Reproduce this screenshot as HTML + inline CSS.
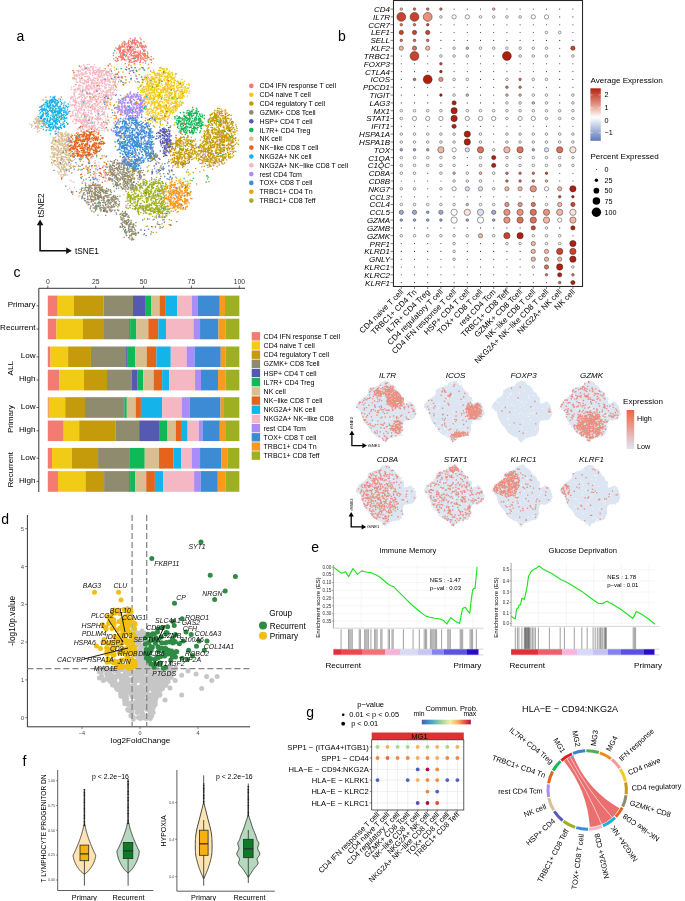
<!DOCTYPE html>
<html><head><meta charset="utf-8"><style>
html,body{margin:0;padding:0;background:#fff;width:685px;height:901px;overflow:hidden}
svg{display:block;font-family:"Liberation Sans",sans-serif;will-change:transform}
</style></head><body>
<svg width="685" height="901" viewBox="0 0 685 901">
<path d="M86.2 73.5h0M78.1 106.3h0M74.5 93.8h0M114.5 83.7h0M90.0 128.3h0M88.2 129.3h0M101.3 82.0h0M76.2 81.2h0M92.4 128.3h0M81.5 106.6h0M91.7 131.8h0M77.6 98.0h0M83.5 120.8h0M98.1 98.4h0M92.9 67.5h0M78.9 86.2h0M82.5 73.4h0M106.9 94.4h0M99.2 132.5h0M99.1 76.4h0M109.9 81.5h0M85.4 89.1h0M89.9 86.8h0M103.4 113.8h0M95.9 91.1h0M110.0 85.2h0M94.3 71.0h0M85.0 72.7h0M96.0 78.7h0M97.6 90.7h0M112.3 79.0h0M91.2 111.4h0M108.6 89.6h0M78.8 97.4h0M108.1 76.0h0M85.5 117.2h0M99.7 119.7h0M86.2 118.1h0M81.9 109.6h0M114.7 70.2h0M85.0 114.7h0M90.0 74.2h0M81.1 103.0h0M80.9 96.1h0M76.7 70.6h0M103.1 108.8h0M94.2 96.0h0M88.2 89.8h0M85.6 116.8h0M102.5 81.2h0M104.0 83.2h0M118.7 81.2h0M89.1 90.1h0M84.6 101.3h0M84.3 109.6h0M95.5 108.6h0M75.4 89.9h0M72.4 111.9h0M89.4 126.8h0M86.9 81.9h0M97.1 106.0h0M99.7 70.0h0M98.8 75.0h0M101.5 114.5h0M99.3 86.6h0M96.6 82.4h0M83.4 70.3h0M123.5 84.5h0M104.9 128.8h0M92.4 81.8h0M79.1 88.5h0M113.2 89.2h0M89.7 68.5h0M94.7 104.4h0M109.5 74.2h0M78.1 89.4h0M108.3 71.7h0M90.4 70.3h0M103.3 75.2h0M100.0 106.0h0M105.3 73.8h0M103.4 94.5h0M83.4 105.3h0M94.2 77.7h0M94.9 106.8h0M78.1 115.4h0M82.4 105.0h0M105.8 91.9h0M73.8 86.7h0M81.3 72.9h0M99.2 73.0h0M94.9 83.8h0M78.0 120.6h0M95.9 82.8h0M94.9 128.4h0M86.0 116.1h0M100.5 101.8h0M96.2 83.3h0M111.9 87.8h0M92.4 134.4h0M74.6 107.2h0M75.3 84.3h0M94.0 103.7h0M83.1 128.8h0M105.2 101.3h0M99.0 70.9h0M83.7 109.3h0M107.1 83.9h0M98.3 123.1h0M86.3 136.0h0M92.2 97.3h0M91.1 100.1h0M110.2 69.0h0M77.8 111.9h0M114.2 77.8h0M73.9 105.4h0M76.1 101.5h0M100.9 88.6h0M80.4 85.5h0M88.2 76.2h0M90.7 67.0h0M83.9 80.0h0M83.1 125.5h0M93.5 72.0h0M74.8 101.0h0M86.0 112.4h0M84.7 67.0h0M81.9 126.4h0M78.1 70.8h0M104.1 75.7h0M82.3 95.1h0M107.3 92.0h0M96.9 132.6h0M113.6 81.9h0M104.0 103.4h0M88.1 93.3h0M81.5 101.2h0M95.4 118.9h0M90.3 73.0h0M88.0 79.5h0M102.0 109.7h0M89.0 64.4h0M77.8 117.2h0M98.2 109.6h0M116.0 78.9h0M79.3 119.1h0M74.6 72.3h0M97.6 89.2h0M86.4 107.9h0M92.8 122.2h0M101.2 81.0h0M95.5 98.8h0M101.9 126.1h0M85.5 72.0h0M109.1 87.2h0M85.7 87.5h0M79.1 94.4h0M81.3 122.6h0M86.8 115.6h0M101.1 72.9h0M98.8 119.7h0M93.2 129.9h0M81.5 66.3h0M102.4 122.9h0M88.3 88.2h0M104.8 103.8h0M88.3 102.3h0M103.3 71.3h0M92.9 127.4h0M89.9 78.1h0M80.8 90.6h0M108.1 80.4h0M82.0 86.3h0M92.7 95.1h0M96.3 88.8h0M91.3 110.9h0M101.0 77.3h0M80.5 67.5h0M110.1 82.4h0M103.9 80.2h0M106.7 95.7h0M94.7 111.3h0M106.1 73.6h0M88.5 112.5h0M83.4 84.1h0M75.2 99.2h0M82.2 104.3h0M101.3 85.3h0M97.6 99.5h0M84.3 121.4h0M82.4 80.2h0M73.9 104.9h0M98.6 132.5h0M89.8 97.0h0M80.0 96.6h0M86.9 127.7h0M86.0 76.5h0M105.5 84.7h0M106.5 85.4h0M98.4 85.2h0M105.1 116.0h0M87.2 96.7h0M79.4 77.5h0M108.4 101.3h0M107.9 95.7h0M82.5 103.8h0M105.6 79.6h0M76.3 76.0h0M119.7 77.3h0M77.6 88.7h0M74.2 74.3h0M104.4 125.7h0M83.2 103.2h0M109.1 102.7h0M107.6 78.1h0M74.0 105.4h0M80.2 80.5h0M112.6 73.3h0M69.9 102.0h0M70.8 97.5h0M111.8 88.1h0M80.8 113.1h0M91.1 84.8h0M81.5 78.5h0M76.4 74.7h0M105.6 72.3h0M97.0 87.2h0M90.7 113.9h0M103.2 100.1h0M74.7 96.2h0M90.5 100.0h0M108.3 72.9h0M81.2 94.9h0M85.4 89.4h0M97.2 71.3h0M111.2 96.0h0M108.3 79.0h0M83.0 90.5h0M105.2 81.2h0M78.6 108.9h0M115.4 84.5h0M91.5 125.6h0M98.3 104.4h0M88.5 129.3h0M87.0 86.2h0M89.9 88.9h0M83.6 124.0h0M92.6 72.5h0M116.6 87.8h0M92.8 105.5h0M94.5 129.0h0M96.1 91.0h0M110.1 79.1h0M119.4 77.2h0M70.3 104.3h0M99.7 108.6h0M102.7 96.8h0M95.9 105.9h0M79.8 119.7h0M88.1 124.1h0M91.9 87.6h0M104.6 78.6h0M108.4 94.8h0M102.5 108.7h0M82.3 92.0h0M94.0 86.6h0M73.9 77.9h0M72.9 121.5h0M82.2 68.8h0M77.8 90.1h0M118.5 82.0h0M89.2 90.1h0M95.5 70.4h0M90.8 98.9h0M92.0 66.6h0M93.0 80.2h0M96.8 86.1h0M107.8 98.1h0M75.7 89.7h0M115.5 85.2h0M77.2 89.4h0M89.0 126.9h0M94.5 85.6h0M94.8 103.7h0M82.2 105.4h0M110.6 75.3h0M93.1 100.0h0M108.0 90.9h0M102.8 111.2h0M86.7 103.3h0M74.5 109.9h0M81.9 107.1h0M104.6 74.4h0M105.6 120.4h0M101.6 93.4h0M81.9 75.2h0M120.5 82.1h0M96.3 72.7h0M71.9 98.0h0M84.3 110.7h0M119.0 77.6h0M82.6 74.0h0M79.0 71.1h0M95.3 81.2h0M85.9 98.3h0M104.0 83.2h0M92.6 68.5h0M84.2 120.4h0M92.0 87.7h0M82.3 97.7h0M110.1 88.0h0M82.9 89.8h0M89.3 70.4h0M89.4 125.9h0M86.9 124.4h0M98.9 96.7h0M80.0 87.9h0M79.1 97.2h0M101.2 125.1h0M91.5 129.0h0M88.4 89.6h0M101.4 94.9h0M97.5 124.4h0M79.3 85.0h0M78.4 103.6h0M76.0 110.0h0M82.5 83.0h0M87.1 116.6h0M82.3 101.3h0M106.3 72.8h0M81.7 77.1h0M85.0 74.3h0M78.8 86.0h0M95.0 95.5h0M101.4 73.0h0M87.9 94.4h0M87.9 109.9h0M84.7 104.2h0M88.6 126.8h0M106.3 87.9h0M78.2 70.8h0M95.0 99.7h0M87.7 102.5h0M94.9 87.3h0M112.4 81.8h0M88.4 131.5h0M76.9 114.5h0M76.1 79.3h0M99.1 132.2h0M77.7 75.7h0M92.8 122.2h0M75.9 75.3h0M91.3 112.9h0M102.7 86.1h0M85.9 119.6h0M76.3 119.9h0M72.8 121.1h0M92.9 117.3h0M74.5 119.0h0M98.5 118.3h0M94.2 97.7h0M74.6 76.1h0M75.6 97.8h0M101.3 74.3h0M89.7 103.7h0M98.7 127.6h0M99.2 77.7h0M85.6 105.3h0M101.3 124.7h0M83.0 129.0h0M74.1 118.8h0M82.3 72.8h0M101.2 122.9h0M92.2 98.3h0M120.3 77.1h0M110.7 87.8h0M106.8 75.1h0M101.1 99.9h0M84.0 65.0h0M110.3 76.6h0M79.7 81.7h0M73.5 93.0h0M88.5 80.9h0M91.5 126.3h0M103.5 91.1h0M99.8 96.1h0M83.0 75.0h0M114.8 74.3h0M105.2 81.8h0M73.0 78.8h0M109.1 71.6h0M92.2 107.5h0M103.5 95.9h0M98.7 84.3h0M86.0 113.9h0M108.1 96.6h0M71.3 89.4h0M97.6 113.0h0M95.5 90.1h0M92.7 94.1h0M78.2 74.0h0M78.7 120.8h0M78.4 121.5h0M86.0 71.6h0M79.5 106.1h0M73.4 115.9h0M74.7 105.5h0M72.9 97.0h0M86.7 92.4h0M81.5 110.2h0M85.1 97.7h0M101.8 75.3h0M80.3 91.5h0M83.4 119.9h0M75.6 113.3h0M88.3 81.7h0M89.2 129.5h0M98.1 116.5h0M95.8 103.8h0M103.3 107.0h0M76.2 123.4h0M102.1 72.0h0M84.9 117.9h0M105.4 98.8h0M89.2 123.4h0M96.8 72.1h0M94.0 88.5h0M90.6 74.2h0M104.9 80.9h0M82.8 88.5h0M101.5 126.1h0M75.6 104.0h0M77.5 113.2h0M92.5 97.5h0M92.6 126.5h0M92.5 83.1h0M115.6 74.3h0M104.5 99.0h0M71.2 105.6h0M91.3 119.4h0M87.7 85.8h0M98.1 79.0h0M101.0 102.4h0M75.9 91.9h0M89.5 116.8h0M84.6 122.5h0M84.8 121.3h0M95.5 95.8h0M89.4 77.2h0M89.3 101.5h0M88.3 107.9h0M83.3 125.8h0M88.5 122.8h0M92.9 106.6h0M98.7 111.9h0M74.2 94.6h0M86.3 103.9h0M73.1 101.3h0M115.1 84.2h0M101.8 80.3h0M75.1 123.6h0M77.7 111.5h0M78.3 110.9h0M84.0 112.1h0M75.8 101.0h0M118.4 76.0h0M95.0 127.8h0M84.2 68.3h0M90.7 80.3h0M95.4 73.1h0M94.1 88.3h0M105.5 87.6h0M96.3 100.6h0M82.6 82.9h0M93.3 97.5h0M106.9 75.3h0M79.7 112.8h0M109.1 98.7h0M93.1 67.1h0M110.0 100.4h0M91.1 87.8h0M112.6 94.8h0M95.6 99.5h0M89.3 86.0h0M97.7 69.9h0M101.8 128.3h0M100.6 90.8h0M104.6 122.9h0M81.8 101.3h0M113.4 75.3h0M95.8 133.3h0M100.8 71.3h0M113.8 79.4h0M86.4 125.5h0M100.0 83.0h0M81.6 115.1h0M85.2 69.5h0M94.3 124.0h0M117.8 74.3h0M73.0 112.8h0M81.5 122.0h0M98.0 115.2h0M84.4 83.5h0M104.1 98.6h0M100.0 127.6h0M73.7 100.2h0M85.3 101.2h0M114.3 90.5h0M94.4 93.3h0M89.1 93.6h0M88.6 70.2h0M91.3 88.7h0M98.6 94.4h0M95.8 96.0h0M79.6 66.1h0M81.2 121.4h0M85.0 67.1h0M83.7 95.9h0M104.9 91.9h0M98.0 110.6h0M80.9 126.2h0M108.6 84.9h0M84.8 117.0h0M89.3 137.1h0M111.5 86.0h0M99.1 119.5h0M84.4 114.4h0M103.3 126.4h0M119.8 76.7h0M84.0 90.4h0M85.0 119.8h0M93.6 129.9h0M113.1 82.0h0M104.6 83.5h0M87.2 100.7h0M96.1 89.9h0M96.1 131.4h0M107.0 79.9h0M79.0 101.8h0M116.7 90.4h0M80.9 101.4h0M87.3 68.5h0M103.7 101.3h0M85.0 106.3h0M95.0 121.8h0M94.0 135.5h0M86.9 73.4h0M88.3 67.9h0M94.1 82.6h0M115.0 76.3h0M87.4 106.3h0M75.0 102.1h0M105.3 81.3h0M99.9 102.2h0M105.6 106.4h0M95.7 73.0h0M91.7 82.3h0M86.5 85.8h0M95.3 128.9h0M79.5 104.2h0M74.5 78.0h0M105.1 106.8h0M100.3 71.8h0M92.4 104.7h0M108.8 92.1h0M88.6 80.2h0M115.3 80.3h0M93.9 73.0h0M105.6 98.0h0M91.7 81.0h0M74.7 79.4h0M78.1 116.8h0M74.1 93.2h0M87.3 64.6h0M82.3 106.6h0M76.7 81.9h0M77.2 76.6h0M86.7 92.1h0M94.8 92.2h0M92.0 132.1h0M97.6 113.9h0M88.2 115.2h0M79.6 75.5h0M86.4 80.9h0M87.5 122.2h0M104.9 70.6h0M82.5 102.2h0M110.6 88.0h0M82.3 126.5h0M88.0 129.6h0M104.3 113.9h0M120.7 80.9h0M105.1 100.9h0M74.1 75.2h0M94.9 104.1h0M75.9 107.8h0M84.5 126.8h0M85.9 72.2h0M75.0 91.3h0M90.7 122.9h0M98.2 121.9h0M82.3 69.4h0M98.4 69.7h0M107.2 90.3h0M94.0 123.8h0M97.0 118.7h0M107.2 92.7h0M99.3 89.6h0M113.3 85.2h0M97.8 104.2h0M112.0 73.6h0M76.7 102.1h0M90.4 98.4h0M85.1 117.7h0M88.5 129.1h0M86.1 81.9h0M99.5 95.8h0M80.4 78.9h0M84.8 117.9h0M94.6 97.3h0M94.3 108.9h0M77.8 82.6h0M87.9 88.6h0M86.5 85.2h0M101.3 124.8h0M99.6 89.4h0M82.4 124.5h0M100.8 80.0h0M98.0 82.9h0M84.6 76.7h0M98.7 71.7h0M115.9 86.4h0M81.5 70.1h0M104.1 79.5h0M101.0 70.6h0M94.6 74.0h0M95.9 67.6h0M96.0 132.8h0M101.9 130.3h0M101.7 124.0h0M96.4 99.6h0M86.6 67.4h0M94.4 92.7h0M87.3 86.8h0M93.4 106.7h0M108.4 97.3h0M84.1 129.8h0M95.0 125.7h0M90.3 78.9h0M77.2 102.3h0M86.9 93.5h0M100.0 67.8h0M102.8 77.7h0M103.0 79.3h0M82.8 100.8h0M98.5 98.7h0M82.8 86.9h0M85.3 107.2h0M98.5 76.4h0M97.9 112.1h0M74.4 95.8h0M90.8 70.8h0M91.1 94.3h0M90.0 97.7h0M73.8 90.2h0M89.1 117.6h0M79.4 74.5h0M92.3 97.7h0M112.5 93.4h0M96.1 100.1h0M115.2 84.7h0M93.8 109.6h0M76.3 121.3h0M102.2 124.4h0M119.2 79.1h0M99.8 106.4h0M101.5 125.6h0M99.9 130.5h0M89.2 100.4h0M73.5 99.5h0M107.5 77.3h0M80.6 82.3h0M81.1 126.6h0M84.4 126.9h0M79.7 121.9h0M85.8 97.3h0M80.1 128.2h0M86.2 90.8h0M111.7 98.8h0M109.9 70.0h0M97.4 69.4h0M74.9 100.7h0M86.4 68.5h0M81.2 107.3h0M86.7 88.9h0M81.6 99.2h0M114.9 75.8h0M84.2 117.7h0M71.8 96.3h0M94.1 91.0h0M98.1 99.9h0M80.5 120.2h0M121.1 80.9h0M106.4 87.6h0M106.5 106.5h0M97.2 83.4h0M103.2 100.8h0M111.1 68.6h0M101.7 111.6h0M93.5 125.6h0M98.8 74.5h0M94.1 123.7h0M100.5 75.8h0M72.4 115.6h0M98.4 130.7h0M108.1 97.0h0M108.4 79.4h0M85.2 68.5h0M105.6 101.7h0M100.1 100.9h0M89.6 104.0h0M82.3 93.3h0M98.2 99.8h0M83.5 101.2h0M111.1 89.7h0M89.9 94.4h0M104.6 111.8h0M109.8 74.0h0M103.5 112.9h0M86.3 127.4h0M71.3 86.9h0M98.1 110.0h0M95.0 72.7h0M113.2 94.9h0M70.4 111.4h0M91.7 119.5h0M90.7 101.6h0M78.6 72.1h0M84.8 94.9h0M83.8 113.0h0M84.4 96.7h0M104.9 94.7h0M76.1 76.0h0M87.2 131.1h0M106.2 94.6h0M92.8 69.0h0M89.0 110.6h0M116.9 90.4h0M82.1 78.0h0M102.8 109.2h0M76.1 103.7h0M117.6 84.4h0M115.0 77.9h0M86.3 68.1h0M114.3 77.5h0M107.1 103.9h0M96.5 91.6h0M74.2 104.7h0M91.1 122.1h0M101.1 97.3h0M90.0 98.6h0M100.5 97.7h0M81.3 99.6h0M76.1 102.4h0M81.5 108.1h0M98.5 97.2h0M98.6 88.9h0M95.1 127.3h0M97.0 117.3h0M90.1 93.9h0M122.3 77.7h0M93.1 79.7h0M97.3 111.3h0M85.4 118.7h0M102.3 75.9h0M91.5 83.5h0M99.6 118.6h0M102.9 90.5h0M122.1 77.3h0M77.0 119.2h0M88.1 68.4h0M97.7 74.9h0M78.9 108.7h0M100.4 125.0h0M96.6 110.1h0M90.9 116.9h0M84.9 119.2h0M98.8 116.4h0M94.9 119.0h0M82.5 106.8h0M83.1 104.2h0M103.6 70.6h0M81.9 123.0h0M100.4 117.9h0M96.6 78.4h0M106.9 100.8h0M79.5 97.6h0M99.6 110.8h0M92.7 75.5h0M72.3 104.4h0M82.9 119.1h0M84.2 90.1h0M93.0 83.5h0M81.5 115.6h0M84.2 100.0h0M96.7 132.3h0M101.6 107.5h0M102.5 70.4h0M74.7 89.7h0M84.6 98.9h0M104.9 124.3h0M99.1 82.2h0M93.8 91.8h0M76.3 102.2h0M92.2 118.6h0M94.1 80.6h0M84.4 125.3h0M94.7 107.7h0M111.0 93.5h0M88.3 130.4h0M85.8 131.6h0M84.5 82.1h0M110.4 75.7h0M99.1 68.2h0M89.5 123.3h0M98.7 122.8h0M111.2 77.1h0M76.6 117.2h0M82.4 120.2h0M88.3 101.5h0M104.7 101.2h0M86.8 92.0h0M93.7 126.3h0M102.4 111.7h0M100.8 107.5h0M105.7 81.4h0M104.2 131.2h0M105.7 128.0h0M76.1 78.7h0M75.3 123.5h0M97.7 102.0h0M106.2 92.8h0M102.1 81.5h0M89.3 104.9h0M96.5 119.3h0M89.5 116.2h0M111.9 73.4h0M102.2 114.3h0M92.8 93.8h0M108.2 96.1h0M85.5 125.0h0M87.1 94.0h0M97.7 104.9h0M103.2 114.9h0M93.9 66.8h0M89.4 72.3h0M102.3 79.4h0M87.1 126.4h0M95.7 100.0h0M95.7 96.5h0M90.9 99.7h0M82.9 122.2h0M85.4 126.5h0M95.2 78.6h0M78.7 109.8h0M70.6 99.0h0M92.3 125.8h0M113.4 87.7h0M93.4 71.5h0M82.7 128.7h0M92.3 89.2h0M83.4 73.8h0M104.8 112.0h0M82.0 82.6h0M94.7 99.1h0M112.5 92.4h0M80.9 122.8h0M112.6 94.9h0M80.4 110.2h0M100.3 115.7h0M77.1 110.6h0M110.5 92.0h0M87.3 79.5h0M114.3 84.1h0M86.1 86.3h0M98.3 85.6h0M96.0 74.5h0M94.1 78.2h0M101.3 74.0h0M89.3 100.3h0M95.3 72.8h0M94.6 73.5h0M109.8 84.5h0M84.4 69.1h0M90.1 122.2h0M115.4 89.4h0M78.0 88.1h0M93.8 84.1h0M87.1 123.0h0M91.9 85.9h0M100.2 119.5h0M80.0 89.5h0M93.3 109.1h0M81.3 116.8h0M104.7 86.9h0M101.1 118.6h0M80.5 120.4h0M81.7 123.4h0M74.9 102.4h0M83.8 65.7h0M78.9 106.6h0M91.3 120.5h0M97.7 93.9h0M81.3 93.1h0M95.1 78.3h0M112.9 85.1h0M106.8 96.4h0M85.8 121.9h0M91.9 99.9h0M86.0 87.5h0M93.5 86.0h0M99.8 102.7h0M104.7 78.8h0M97.8 120.2h0M100.7 76.4h0M93.7 136.8h0M79.5 127.5h0M105.1 96.1h0M116.2 79.5h0M101.9 104.1h0M82.3 101.1h0M79.7 112.1h0M97.2 118.6h0M84.6 114.3h0M88.5 120.6h0M99.3 70.9h0M113.4 92.3h0M85.7 91.0h0M99.4 88.3h0M122.9 84.8h0M91.0 107.3h0M95.0 131.3h0M96.5 70.8h0M93.7 70.5h0M84.1 114.1h0M104.8 100.5h0M99.0 103.4h0M92.6 117.5h0M78.9 120.0h0M90.3 128.1h0M89.9 127.5h0M90.7 99.5h0M90.4 86.5h0M97.6 76.8h0M107.6 99.1h0M102.4 119.8h0M96.6 85.1h0M91.5 87.8h0M88.7 106.7h0M91.7 106.1h0M106.5 74.1h0M109.5 73.4h0M105.6 81.7h0M91.8 127.3h0M99.3 89.3h0M72.4 105.0h0M85.4 81.2h0M93.1 69.5h0M114.2 79.4h0M76.4 105.7h0M111.8 97.6h0M78.1 111.4h0M94.4 64.7h0M76.7 82.2h0M105.1 88.6h0M109.1 80.1h0M96.6 96.5h0M91.7 102.0h0M92.1 113.8h0M105.9 95.3h0M99.6 85.3h0M97.2 118.8h0M87.4 69.8h0M79.7 78.7h0M75.0 116.5h0M106.3 93.2h0M103.0 128.2h0M96.4 101.8h0M105.1 94.7h0M89.2 77.3h0M80.4 78.9h0M73.0 111.1h0M92.5 79.7h0M96.5 131.2h0M106.3 107.6h0M79.5 88.4h0M92.4 109.0h0M94.9 109.9h0M95.6 115.5h0M84.7 80.1h0M110.0 95.1h0M94.1 133.3h0M86.3 120.8h0M72.5 97.6h0M91.2 97.2h0M114.3 94.6h0M78.1 129.0h0M103.6 100.4h0M98.7 74.7h0M80.4 82.2h0M78.6 70.4h0M80.3 71.3h0M83.0 94.7h0M81.6 105.0h0M84.9 103.5h0M79.6 94.0h0M106.9 90.3h0M105.7 101.9h0M102.2 82.3h0M97.2 119.9h0M75.4 89.2h0M89.5 118.3h0M78.7 86.0h0M93.9 97.3h0M98.2 117.7h0M85.8 76.3h0M88.5 78.5h0M88.1 102.9h0M105.1 101.8h0M97.5 80.6h0M109.9 75.6h0M76.1 108.4h0M80.0 117.7h0M87.4 76.5h0M108.1 81.7h0M88.6 84.5h0M98.5 72.7h0M119.8 79.6h0M104.8 103.5h0M80.3 108.3h0M111.0 95.3h0M75.7 115.0h0M88.7 82.3h0M92.4 73.6h0M80.8 74.0h0M92.6 69.1h0M113.2 81.2h0M86.8 121.9h0M90.3 97.1h0M96.0 131.2h0M113.0 93.2h0M102.1 92.0h0M87.6 114.6h0M91.3 123.6h0M102.7 114.0h0M85.8 103.1h0M91.2 93.9h0M88.1 106.1h0M83.5 100.4h0M94.4 130.8h0M106.2 96.1h0M82.0 107.2h0M93.9 122.2h0M87.2 82.6h0M98.4 107.6h0M97.4 113.4h0M84.7 115.9h0M118.2 75.9h0M95.7 96.8h0M72.6 114.0h0M78.6 127.8h0M83.0 102.6h0M113.4 86.2h0M88.9 101.3h0M86.5 83.1h0M95.1 112.2h0M91.4 105.6h0M93.5 109.5h0M106.4 71.2h0M103.2 73.1h0M87.4 123.2h0M102.4 83.7h0M87.3 120.4h0M81.1 129.2h0" stroke="#F5B7C3" stroke-width="1.3" stroke-linecap="square" fill="none"/>
<path d="M64.4 117.7h0M47.9 103.1h0M59.0 129.7h0M48.0 121.2h0M43.3 110.1h0M65.7 115.4h0M50.4 120.5h0M54.3 98.9h0M47.8 103.8h0M60.1 108.8h0M54.5 112.4h0M63.7 126.6h0M50.9 130.5h0M57.4 121.7h0M55.5 115.0h0M57.7 112.7h0M59.4 116.8h0M44.2 124.3h0M63.8 119.2h0M68.8 106.5h0M50.5 124.3h0M55.0 121.8h0M53.8 121.9h0M40.6 117.9h0M44.7 121.4h0M57.1 124.3h0M45.8 113.5h0M58.0 120.0h0M56.7 118.2h0M53.3 106.5h0M55.2 127.8h0M53.9 120.7h0M56.4 102.8h0M47.1 111.1h0M68.2 104.0h0M48.4 125.5h0M54.5 121.1h0M50.0 100.1h0M55.5 133.4h0M44.4 109.4h0M58.8 112.4h0M53.2 115.0h0M47.8 104.6h0M67.5 114.0h0M55.6 126.6h0M46.1 130.7h0M55.8 100.5h0M49.0 130.1h0M44.3 125.2h0M48.2 113.4h0M55.3 127.4h0M53.1 100.1h0M62.2 124.7h0M64.3 127.0h0M57.4 117.4h0M64.8 120.6h0M64.7 121.4h0M48.8 125.8h0M47.7 112.8h0M46.2 115.2h0M47.3 119.2h0M42.3 121.9h0M43.3 119.0h0M45.1 104.1h0M57.9 110.9h0M46.6 102.4h0M45.1 119.4h0M52.7 101.3h0M55.4 134.0h0M59.2 117.6h0M68.3 112.0h0M55.8 112.5h0M58.3 132.1h0M56.4 133.6h0M44.8 121.8h0M40.4 112.4h0M60.1 109.1h0M52.1 122.7h0M57.5 100.5h0M45.8 112.9h0M43.4 110.4h0M60.4 116.2h0M55.3 120.6h0M43.7 104.5h0M55.3 118.9h0M54.5 111.2h0M56.7 105.2h0M41.9 109.0h0M57.2 104.2h0M51.7 101.1h0M60.4 110.0h0M57.2 104.0h0M65.2 112.3h0M52.3 124.8h0M49.3 106.4h0M61.0 109.7h0M49.4 102.3h0M50.3 117.5h0M59.6 122.4h0M56.9 127.5h0M62.3 117.7h0M58.1 128.0h0M54.5 106.5h0M57.0 100.6h0M55.7 104.1h0M52.9 123.9h0M52.3 99.2h0M63.7 117.2h0M57.0 115.8h0M58.8 118.2h0M43.0 114.9h0M44.9 110.1h0M59.9 109.8h0M53.6 117.6h0M57.9 113.5h0M63.7 105.6h0M61.1 110.2h0M54.3 125.6h0M56.7 127.7h0M39.8 120.7h0M56.3 120.0h0M43.3 114.7h0M60.3 107.0h0M64.1 103.8h0M47.3 105.6h0M42.7 122.1h0M64.1 111.0h0M56.4 104.9h0M49.5 101.5h0M53.1 108.3h0M52.8 119.9h0M57.4 117.3h0M61.3 110.5h0M52.6 104.9h0M55.9 126.3h0M60.4 106.8h0M67.6 107.8h0M54.7 107.0h0M63.1 114.8h0M42.8 116.2h0M41.6 115.9h0M46.2 122.7h0M58.6 120.1h0M52.3 108.8h0M49.6 130.1h0M54.7 103.1h0M59.1 108.5h0M53.0 112.6h0M40.3 118.7h0M54.9 111.7h0M57.7 119.7h0M52.1 123.8h0M61.9 118.5h0M59.2 112.6h0M43.1 121.3h0M59.4 110.6h0M59.2 121.5h0M53.4 112.9h0M46.5 109.1h0M51.7 112.1h0M56.4 108.9h0M43.5 125.3h0M49.4 110.4h0M47.7 101.0h0M52.4 102.2h0M64.8 102.1h0M65.8 105.7h0M40.6 109.7h0M61.6 115.4h0M52.7 116.9h0M61.7 115.7h0M41.5 126.4h0M55.6 114.3h0M53.7 114.9h0M43.3 123.2h0M52.4 111.6h0M54.2 99.7h0M43.0 116.1h0M51.3 100.7h0M55.2 131.3h0M60.3 106.1h0M61.4 113.7h0M62.4 124.4h0M47.6 118.3h0M51.2 103.2h0M63.6 107.3h0M51.1 102.0h0M59.5 121.6h0M58.4 102.6h0M56.2 116.2h0M55.1 111.6h0M59.8 113.5h0M66.7 114.4h0M50.3 110.5h0M41.2 121.3h0M62.5 115.0h0M55.8 122.0h0M48.8 126.3h0M65.0 118.7h0M63.2 124.1h0M46.5 113.4h0M54.6 97.7h0M51.4 124.3h0M58.2 101.4h0M38.9 121.7h0M61.2 116.7h0M60.2 127.0h0M46.7 129.8h0M56.6 114.6h0M52.3 113.8h0M54.2 101.5h0M44.7 118.5h0M66.7 118.0h0M43.3 114.8h0M58.5 107.1h0M43.5 129.3h0M56.7 111.4h0M43.9 120.0h0M48.9 126.6h0M66.0 112.7h0M65.4 118.1h0M52.7 105.0h0M51.3 127.3h0M53.4 127.3h0M46.6 101.8h0M53.5 121.6h0M41.8 108.0h0M45.7 124.3h0M43.3 112.9h0M39.9 113.9h0M56.5 129.2h0M39.7 107.2h0M42.9 109.1h0M47.2 110.6h0M61.4 117.3h0M58.8 114.2h0M55.7 105.9h0M61.4 109.1h0M44.4 110.2h0M50.1 128.5h0M52.9 109.5h0M50.3 133.9h0M49.6 120.5h0M57.0 123.9h0M42.7 121.2h0M58.7 127.7h0M50.3 122.9h0M54.9 96.3h0M41.9 107.2h0M39.5 120.6h0M54.9 102.7h0M64.1 114.4h0M42.4 111.0h0M57.3 119.6h0M63.8 119.3h0M58.7 128.8h0M68.0 113.0h0M65.9 113.2h0M47.0 122.0h0M55.0 125.0h0M53.2 100.7h0M57.2 114.2h0M47.2 112.7h0M48.3 111.4h0M63.7 112.5h0M58.2 108.9h0M56.4 119.1h0M53.2 105.1h0M45.7 109.3h0M52.9 97.3h0M47.1 123.6h0M45.3 102.3h0M51.7 119.2h0M65.2 107.8h0M56.3 111.1h0M52.8 106.9h0M69.5 111.3h0M66.1 112.0h0M44.2 108.5h0M48.8 122.8h0M59.6 111.7h0M46.4 116.6h0M39.4 123.5h0M48.7 124.7h0M52.7 99.8h0M65.1 109.9h0M42.3 114.7h0M52.0 126.7h0M54.3 118.7h0M60.5 125.6h0M42.1 117.2h0M44.4 123.7h0M47.8 103.8h0M55.3 105.6h0M50.4 104.7h0M49.2 124.9h0M50.8 111.0h0M55.3 122.0h0M45.4 113.8h0M50.5 118.4h0M46.6 127.4h0M56.3 105.5h0M59.7 106.5h0M42.0 109.9h0M55.4 123.5h0M48.7 107.9h0M64.6 126.2h0M47.4 115.9h0M54.5 118.1h0M54.5 112.6h0M64.0 123.6h0M61.2 97.2h0M39.4 110.6h0M53.9 97.5h0M58.1 110.9h0M60.7 123.8h0M56.4 122.9h0M45.7 110.0h0M57.9 128.3h0M50.3 96.9h0M64.0 108.7h0M51.7 111.1h0M43.1 109.9h0M46.4 103.2h0M49.5 126.7h0M42.8 126.9h0M52.5 124.1h0M60.5 109.9h0M66.8 106.5h0M56.3 100.2h0M57.7 106.5h0M64.6 127.4h0M60.6 109.0h0M53.8 101.5h0M66.0 106.2h0M50.3 100.8h0M47.5 103.4h0M40.3 116.5h0M53.3 97.2h0M44.5 108.3h0M46.2 100.1h0M49.6 122.9h0M64.1 116.1h0M55.2 101.9h0M60.5 112.5h0M42.9 113.2h0M54.2 120.0h0M53.3 106.1h0M53.2 127.5h0M61.1 111.5h0M62.9 115.3h0M62.9 110.7h0M52.4 116.3h0M46.9 107.2h0M41.5 105.8h0M47.4 104.9h0M53.3 114.8h0M57.0 115.0h0M42.5 121.0h0M38.2 116.6h0M45.6 118.8h0M41.9 111.3h0M55.5 122.7h0M47.9 105.4h0M52.6 109.0h0M61.9 114.8h0M64.4 125.3h0M60.4 99.3h0M50.9 105.4h0M57.2 124.1h0M42.8 109.1h0M54.4 121.9h0M58.0 111.8h0M53.3 128.6h0M57.2 104.5h0M61.3 118.1h0M53.6 126.4h0M44.8 106.5h0M51.3 99.5h0M54.4 116.1h0M50.3 127.6h0M54.0 110.8h0M52.9 102.1h0M50.1 127.1h0M50.3 126.9h0M46.4 105.2h0M48.6 116.7h0M57.3 123.4h0M43.7 104.9h0M49.4 121.3h0M60.6 119.5h0M49.8 103.5h0M41.5 116.0h0M45.0 110.0h0M47.5 120.2h0M56.3 127.9h0M56.1 119.2h0M44.5 109.2h0M61.9 103.6h0M42.2 117.0h0M55.7 108.5h0M58.9 116.0h0M61.6 119.6h0M48.1 106.7h0M61.4 128.4h0M50.2 119.2h0M38.4 121.9h0M50.5 107.3h0M58.6 112.8h0M49.7 105.4h0M41.4 116.8h0M54.1 116.9h0M61.6 102.6h0M45.1 125.8h0M51.7 103.1h0M46.1 109.2h0M52.7 129.0h0M62.3 108.1h0M58.2 111.1h0M47.8 127.6h0M66.6 122.6h0M49.3 124.7h0M57.7 102.9h0M49.8 125.3h0M53.1 113.2h0M50.8 106.9h0M45.4 111.0h0M61.3 104.3h0M60.2 101.2h0M61.2 127.7h0M59.8 127.3h0M48.5 114.9h0M47.8 114.5h0M51.0 115.4h0M56.8 118.9h0M59.3 120.8h0M54.1 98.4h0M55.4 110.1h0M61.1 109.6h0M56.3 120.6h0M65.9 111.3h0M42.5 123.4h0M50.5 108.1h0M53.8 109.9h0M58.4 127.1h0M48.8 106.8h0M55.4 99.5h0M57.0 124.2h0M67.5 109.9h0M43.0 120.4h0M63.3 122.2h0M66.2 111.5h0M48.9 107.9h0M62.2 125.2h0M60.2 101.4h0M53.0 118.7h0M47.1 106.7h0" stroke="#14B4EA" stroke-width="1.3" stroke-linecap="square" fill="none"/>
<path d="M53.7 161.4h0M57.2 144.8h0M57.1 158.9h0M57.6 160.3h0M58.0 154.9h0M67.0 137.2h0M70.6 142.2h0M58.4 147.6h0M62.8 168.0h0M68.9 141.6h0M57.3 146.4h0M65.9 142.9h0M69.4 141.4h0M65.2 133.5h0M65.3 170.1h0M66.6 140.3h0M57.2 142.0h0M57.1 142.5h0M65.7 154.7h0M66.3 146.0h0M68.4 139.7h0M68.3 151.2h0M63.5 150.4h0M70.6 140.5h0M68.4 135.5h0M74.2 146.1h0M54.4 156.1h0M68.5 148.6h0M53.0 137.5h0M60.5 145.0h0M59.2 154.6h0M65.6 140.0h0M65.5 136.4h0M52.7 141.4h0M54.2 144.3h0M59.6 151.3h0M58.8 161.8h0M62.8 153.3h0M68.4 137.1h0M64.1 138.4h0M64.2 164.4h0M60.2 144.7h0M58.0 155.0h0M68.1 155.0h0M64.2 170.2h0M53.6 162.9h0M61.3 172.2h0M51.7 159.4h0M70.5 137.3h0M68.1 160.6h0M61.6 160.6h0M60.7 148.3h0M64.9 153.5h0M58.5 140.1h0M51.5 143.0h0M57.2 166.6h0M63.7 150.9h0M69.6 138.7h0M73.0 145.7h0M66.6 170.3h0M54.4 154.1h0M61.3 148.5h0M69.1 155.6h0M63.5 160.3h0M72.9 140.0h0M65.9 155.6h0M67.7 139.4h0M68.9 134.9h0M68.1 163.9h0M61.3 156.4h0M58.6 150.0h0M66.5 159.4h0M64.7 147.5h0M54.9 137.6h0M52.8 141.0h0M64.0 171.1h0M60.8 164.7h0M55.6 142.2h0M65.0 141.8h0M55.8 165.0h0M66.0 135.1h0M55.2 148.7h0M69.0 159.6h0M59.4 168.5h0M62.4 145.3h0M57.6 171.8h0M69.8 161.9h0M71.7 151.4h0M70.9 154.3h0M63.1 145.4h0M62.2 136.8h0M58.5 147.7h0M58.3 146.8h0M62.6 162.4h0M65.9 148.5h0M54.6 156.1h0M72.7 149.0h0M71.5 147.0h0M57.6 159.5h0M68.2 149.4h0M58.1 154.1h0M62.1 139.1h0M61.5 164.2h0M62.2 133.9h0M57.1 155.3h0M54.2 155.6h0M65.0 167.0h0M70.7 137.0h0M64.9 140.3h0M56.3 154.2h0M53.8 155.2h0M64.7 174.8h0M56.2 148.6h0M62.4 143.6h0M62.0 133.5h0M62.6 176.8h0M71.3 135.1h0M64.7 148.4h0M54.1 143.8h0M66.5 151.8h0M59.3 142.1h0M68.0 146.7h0M70.6 144.9h0M56.9 157.5h0M62.1 153.2h0M61.0 176.1h0M63.0 135.7h0M60.5 134.9h0M71.8 135.5h0M56.5 140.9h0M66.3 138.6h0M65.5 157.2h0M57.6 163.8h0M67.1 141.1h0M59.0 152.0h0M58.1 146.9h0M56.5 157.8h0M56.3 150.5h0M65.1 157.3h0M70.9 150.4h0M62.9 156.6h0M61.1 174.6h0M68.8 141.1h0M59.6 140.0h0M61.2 134.5h0M62.8 156.8h0M68.0 141.5h0M53.1 160.3h0M51.8 149.9h0M64.0 167.0h0M61.4 156.1h0M67.9 159.5h0M65.5 163.7h0M65.4 161.9h0M61.9 164.9h0M64.6 163.8h0M68.6 149.6h0M58.8 165.9h0M68.4 135.6h0M59.2 163.0h0M54.3 157.4h0M61.6 152.1h0M55.0 152.6h0M53.7 138.7h0M58.2 147.9h0M69.1 134.2h0M72.0 155.7h0M63.2 146.6h0M62.0 139.9h0M66.2 146.7h0M64.6 146.3h0M69.6 142.5h0M51.3 148.3h0M61.2 152.7h0M68.9 150.2h0M64.7 173.0h0M52.8 145.9h0M52.9 153.8h0M52.4 157.4h0M67.9 169.6h0M58.6 139.0h0M69.7 139.5h0M56.4 161.6h0M55.5 149.4h0M60.8 169.6h0M64.4 139.8h0M59.5 143.1h0M53.2 156.4h0M62.2 167.8h0M65.3 175.1h0M65.7 169.1h0M66.9 165.4h0M70.2 141.3h0M62.3 133.1h0M65.4 143.2h0M55.1 144.5h0M71.0 147.2h0M54.2 147.8h0M60.1 150.5h0M62.7 143.3h0M52.4 165.1h0M58.6 149.1h0M57.1 161.8h0M61.3 141.2h0M67.4 145.5h0M69.1 135.8h0M57.4 164.6h0M58.5 136.2h0M64.0 160.9h0M70.2 153.8h0M68.4 137.7h0M73.6 147.8h0M60.4 160.2h0M52.9 156.8h0M61.5 158.3h0M59.1 157.4h0M55.0 160.8h0M62.4 164.1h0M67.2 134.3h0M58.9 136.8h0M65.2 149.0h0M62.7 139.8h0M61.5 157.5h0M53.9 144.4h0M58.6 157.7h0M70.1 140.0h0M59.1 162.1h0M61.1 157.6h0M60.0 162.8h0M71.0 147.4h0M61.7 135.5h0M66.5 169.0h0M64.2 165.9h0M58.9 164.4h0M67.1 145.3h0M64.9 175.0h0M63.6 165.3h0M67.2 144.7h0M67.2 141.7h0M61.6 177.7h0M67.4 149.9h0M69.9 151.9h0M67.6 137.3h0M67.1 139.6h0M61.8 166.6h0M65.4 157.2h0M65.9 174.1h0M65.5 144.9h0M54.7 149.1h0M68.3 155.8h0M63.2 141.4h0M59.4 136.7h0M60.5 159.5h0M62.1 152.3h0M57.2 134.9h0M51.8 152.6h0M57.6 159.1h0M67.2 159.6h0M71.2 137.5h0M67.3 135.4h0M63.5 169.4h0M60.8 154.8h0M60.7 153.4h0M64.4 133.8h0M62.0 138.5h0M60.7 171.0h0M68.7 137.9h0M60.2 141.7h0M61.0 150.0h0M58.8 144.0h0M57.9 149.7h0M70.7 152.3h0M63.0 141.0h0M60.9 132.9h0M69.3 138.2h0M66.3 151.0h0M64.0 144.4h0M52.8 153.1h0M55.0 140.1h0M52.3 143.2h0M57.3 141.6h0M58.5 134.9h0M59.2 172.4h0M61.1 137.3h0M63.6 147.8h0M64.7 143.8h0M52.1 148.9h0M63.9 169.9h0M61.1 171.6h0M63.5 161.3h0M66.0 132.0h0M63.5 147.8h0M56.4 140.4h0M61.1 136.9h0M52.9 139.7h0M58.2 140.8h0M53.9 154.0h0M54.6 143.8h0M63.8 175.5h0M69.1 159.3h0M61.2 169.5h0M57.3 157.2h0M75.2 147.4h0M66.2 146.2h0M53.6 150.1h0M66.2 151.2h0M53.6 140.6h0M59.5 141.3h0M53.9 148.7h0M59.3 168.1h0M67.0 169.5h0M58.3 152.5h0M65.8 135.8h0M68.7 161.6h0M60.9 143.7h0M65.8 157.4h0M61.6 134.9h0M66.7 139.8h0M65.0 171.6h0M63.2 161.2h0M57.4 151.2h0M67.5 134.6h0M62.2 158.8h0M61.0 176.2h0M60.0 144.6h0M64.8 167.7h0M58.3 133.1h0M59.8 133.0h0M68.5 147.4h0M66.8 164.4h0M52.9 152.1h0M58.0 142.3h0M73.6 157.0h0M56.8 146.8h0M58.8 174.2h0M70.4 164.4h0M56.0 148.7h0M61.1 172.1h0M52.6 141.9h0M51.8 162.6h0M61.7 179.3h0M62.6 158.9h0M54.0 140.7h0M69.9 142.8h0M64.2 157.1h0M64.8 143.7h0M63.8 161.4h0M64.5 169.6h0M55.3 154.3h0M57.8 153.6h0M67.1 175.1h0M58.3 139.4h0M71.6 147.5h0M64.6 166.8h0M55.9 136.8h0M63.1 174.5h0M60.9 138.6h0M57.6 151.7h0M69.8 151.0h0M69.2 169.4h0M54.7 164.1h0M68.0 133.4h0M64.5 149.1h0M64.4 139.3h0M62.6 135.2h0M70.0 155.9h0M64.1 159.6h0M66.6 141.0h0M67.0 157.6h0M63.5 156.7h0M66.8 154.2h0M64.0 136.7h0M67.0 152.6h0M61.5 144.9h0M69.0 158.2h0M68.9 165.6h0M68.4 143.4h0M55.1 138.0h0M66.8 149.3h0M50.3 156.9h0M63.3 168.5h0M68.9 135.5h0M58.5 167.5h0M62.2 142.8h0M54.8 149.2h0M63.7 152.6h0M67.8 148.0h0M61.4 167.8h0M66.8 150.4h0M59.5 151.6h0M69.8 157.6h0M63.3 148.7h0M66.4 162.8h0M71.2 156.0h0M62.9 150.7h0M63.8 165.6h0M53.7 147.0h0M71.6 134.3h0M36.3 117.5h0M34.7 128.1h0M34.6 123.6h0M38.0 120.6h0M36.5 122.0h0M33.5 121.3h0M31.6 127.1h0M37.6 128.0h0M40.2 123.8h0M37.5 129.1h0M37.4 121.3h0M44.8 125.0h0M36.1 127.2h0M42.3 123.1h0M31.5 124.7h0M39.8 123.8h0M37.4 120.7h0M37.3 119.1h0M38.7 122.7h0M44.5 124.9h0M36.0 119.5h0M42.7 122.6h0M37.8 120.8h0M29.8 123.9h0M41.3 125.8h0M37.6 127.3h0M34.7 122.5h0M38.7 126.6h0M32.0 125.5h0M38.3 119.0h0M39.1 128.0h0M38.7 126.1h0M35.0 118.8h0M40.9 128.5h0M37.5 119.4h0M42.0 121.0h0M37.9 124.0h0M38.6 122.8h0M37.7 126.0h0M39.5 117.0h0M36.0 122.7h0M36.6 120.7h0M39.1 130.6h0M40.7 120.7h0M35.7 123.3h0M38.4 126.1h0M40.4 121.5h0M38.1 122.9h0M37.6 132.0h0M39.0 118.5h0M43.9 125.2h0M38.0 121.1h0" stroke="#D9BE92" stroke-width="1.3" stroke-linecap="square" fill="none"/>
<path d="M75.1 155.7h0M80.0 148.4h0M86.7 138.2h0M97.6 140.5h0M98.1 134.3h0M76.0 153.4h0M94.1 146.7h0M87.1 134.8h0M81.2 150.7h0M98.0 147.5h0M82.3 141.7h0M101.2 149.2h0M94.7 137.1h0M74.7 135.1h0M91.4 129.1h0M87.7 148.2h0M74.0 141.3h0M75.1 141.6h0M92.8 144.5h0M76.1 135.9h0M76.7 140.5h0M97.7 139.3h0M74.8 142.5h0M70.7 149.9h0M75.1 148.1h0M91.0 141.5h0M79.8 135.0h0M87.6 148.6h0M84.5 145.0h0M72.9 148.2h0M96.7 151.7h0M94.7 145.1h0M103.3 144.1h0M93.6 134.9h0M81.5 144.3h0M85.5 149.0h0M82.1 154.8h0M94.8 139.2h0M95.4 148.8h0M96.2 144.0h0M72.3 147.4h0M82.9 150.2h0M77.8 150.1h0M91.8 149.1h0M81.8 150.7h0M79.6 140.1h0M77.4 149.3h0M85.9 148.1h0M74.5 142.4h0M69.8 146.4h0M93.3 145.5h0M82.0 147.4h0M95.7 140.3h0M78.1 150.8h0M84.8 140.3h0M77.2 154.8h0M78.3 140.3h0M89.6 145.1h0M70.7 148.6h0M71.6 142.4h0M96.0 142.6h0M78.7 140.8h0M100.6 143.3h0M70.6 140.7h0M92.3 146.4h0M81.1 141.6h0M88.0 138.8h0M88.1 152.7h0M81.5 134.5h0M89.1 154.3h0M96.7 152.7h0M87.5 149.8h0M99.2 142.8h0M90.0 150.5h0M73.2 156.8h0M85.2 139.2h0M82.5 146.2h0M94.4 131.2h0M87.4 152.2h0M97.1 143.6h0M100.0 150.1h0M88.6 147.4h0M83.3 143.3h0M82.2 140.1h0M71.4 137.0h0M86.1 143.7h0M86.6 130.8h0M71.5 147.6h0M96.2 139.5h0M82.3 144.6h0M79.2 144.8h0M101.1 143.1h0M79.2 139.3h0M90.9 132.6h0M78.2 155.9h0M77.2 146.6h0M75.1 151.2h0M84.3 141.4h0M89.4 134.6h0M90.9 157.8h0M89.4 138.0h0M85.7 136.3h0M87.8 138.0h0M83.3 139.2h0M80.8 145.8h0M86.3 155.6h0M78.6 153.5h0M93.5 152.4h0M86.7 155.6h0M95.6 145.4h0M83.1 154.7h0M91.5 138.8h0M75.6 141.4h0M74.0 154.3h0M80.5 140.6h0M95.2 147.8h0M79.2 151.6h0M97.9 137.8h0M89.1 147.4h0M89.0 155.1h0M78.8 145.8h0M84.4 150.6h0M80.4 155.1h0M89.7 137.2h0M91.5 148.7h0M82.9 148.3h0M83.0 154.5h0M102.4 138.6h0M86.3 156.6h0M83.3 140.1h0M90.1 154.5h0M79.8 155.6h0M90.0 141.8h0M75.8 140.7h0M84.2 140.7h0M79.2 144.6h0M83.6 149.4h0M94.4 142.8h0M102.0 137.6h0M74.2 157.2h0M96.0 136.3h0M72.4 148.8h0M87.1 149.6h0M95.1 143.2h0M82.2 156.8h0M77.0 137.7h0M94.0 135.2h0M82.5 157.1h0M96.3 151.5h0M71.6 141.2h0M102.1 143.5h0M81.1 131.2h0M84.3 147.7h0M98.7 143.4h0M95.3 149.6h0M89.0 134.7h0M80.5 155.0h0M79.5 151.9h0M69.2 146.0h0M93.5 150.7h0M87.0 141.1h0M90.0 139.0h0M84.8 145.8h0M98.2 137.0h0M94.4 147.1h0M85.4 138.0h0M86.0 139.3h0M72.4 135.6h0M89.0 131.8h0M83.1 134.7h0M83.7 152.1h0M83.6 140.2h0M77.4 143.6h0M81.5 156.7h0M84.0 147.4h0M87.2 144.5h0M92.7 146.0h0M104.7 143.3h0M82.5 154.6h0M103.7 142.1h0M98.1 139.1h0M95.0 152.8h0M77.1 151.1h0M84.5 132.9h0M83.3 155.4h0M77.0 138.8h0M101.3 144.0h0M78.6 135.5h0M85.9 133.9h0M77.6 153.9h0M78.1 138.0h0M78.2 138.5h0M88.6 153.8h0M99.4 151.3h0M86.8 136.6h0M100.3 147.2h0M86.0 146.7h0M77.1 136.2h0M75.6 140.5h0M89.7 152.2h0M84.1 150.1h0M85.9 145.0h0M89.1 148.6h0M74.8 148.9h0M85.9 152.0h0M91.8 146.6h0M87.7 142.8h0M69.2 138.4h0M87.4 142.1h0M84.6 141.2h0M76.8 136.7h0M86.6 135.3h0M77.3 146.9h0M74.1 145.8h0M100.3 139.7h0M98.6 146.7h0M103.7 142.5h0M91.8 131.6h0M75.5 144.4h0M82.9 155.7h0M99.7 144.1h0M88.6 153.0h0M87.9 135.2h0M89.8 133.4h0M93.6 140.7h0M76.3 140.3h0M96.3 146.3h0M87.4 138.0h0M70.2 142.2h0M89.7 146.7h0M84.3 135.2h0M87.2 138.7h0M89.0 136.0h0M75.9 143.5h0M95.0 150.5h0M87.5 142.6h0M73.9 153.0h0M80.5 140.3h0M79.4 155.0h0M83.9 147.8h0M69.1 153.7h0M74.6 145.4h0M93.7 146.2h0M91.0 134.4h0M103.1 138.0h0M75.1 148.0h0M69.6 149.2h0M90.3 154.5h0M96.5 147.2h0M98.9 147.4h0M72.4 148.5h0M87.0 134.5h0M83.3 136.8h0M83.8 136.9h0M81.7 157.1h0M83.2 141.3h0M84.4 134.0h0M77.2 142.1h0M84.0 151.6h0M76.5 149.0h0M90.7 132.3h0M80.7 140.3h0M94.2 150.6h0M97.8 151.4h0M99.3 147.5h0M84.9 140.7h0M81.8 143.3h0M87.6 147.1h0M77.7 134.3h0M100.9 144.2h0M74.9 144.1h0M83.9 140.8h0M79.3 136.2h0M95.3 151.5h0M72.2 151.7h0M78.5 146.1h0M77.8 153.0h0M75.7 148.0h0M75.7 137.5h0M70.5 145.7h0M84.8 145.1h0M88.9 155.8h0M81.3 148.7h0M85.0 152.8h0M92.5 134.7h0M83.4 154.2h0M82.0 136.5h0M87.4 139.5h0M74.6 144.1h0M73.9 149.5h0M68.1 144.9h0M90.3 149.5h0M77.4 156.3h0M76.2 138.1h0M92.9 149.4h0M96.1 148.9h0M96.0 139.0h0M72.5 138.8h0M89.2 139.0h0M93.6 131.9h0M98.5 133.2h0M82.7 155.5h0M82.5 148.6h0M82.2 136.9h0M85.8 146.2h0M87.5 141.3h0M69.6 150.3h0M79.6 146.3h0M73.4 148.6h0M98.3 145.1h0M78.2 132.8h0M80.1 134.6h0M85.4 139.1h0M78.4 154.5h0M82.5 135.9h0M97.0 138.4h0M92.0 146.2h0M89.0 140.1h0M87.2 131.4h0M97.0 152.2h0M92.2 146.8h0M76.0 145.8h0M84.2 154.2h0M73.4 146.6h0M94.3 153.9h0M102.2 141.3h0M101.0 141.4h0M89.4 132.3h0M83.1 132.9h0M77.0 150.7h0M89.8 146.4h0M86.6 144.7h0M89.3 135.9h0M85.4 152.6h0M91.8 132.8h0M85.1 155.5h0M80.7 147.8h0M100.7 135.6h0M85.7 144.4h0M68.7 138.7h0M88.1 154.8h0M76.6 142.5h0M90.0 135.0h0M103.6 142.9h0M89.1 137.0h0M84.7 132.2h0M79.8 137.3h0M96.5 150.7h0M76.8 151.8h0M93.3 138.5h0M87.6 154.3h0M79.9 136.9h0M74.1 148.2h0M85.7 144.8h0M92.2 137.7h0M87.5 143.8h0M73.4 146.3h0M77.9 138.6h0M72.5 153.6h0M91.2 148.1h0M82.1 141.1h0M84.8 140.0h0M83.8 134.8h0M92.8 140.2h0M94.4 138.4h0M96.8 150.2h0M77.9 138.7h0M72.9 156.6h0M96.3 137.6h0M83.3 132.1h0M83.3 151.1h0M82.9 157.0h0M88.3 140.4h0M75.9 144.0h0M89.5 152.5h0M72.7 155.2h0M97.9 151.4h0M75.4 146.4h0M95.4 138.6h0M77.5 156.0h0M99.6 143.4h0M91.7 132.5h0M71.8 142.4h0M95.4 147.7h0M81.7 152.4h0M89.3 153.6h0M77.3 150.1h0M77.9 146.7h0M91.3 132.1h0M80.1 139.0h0M87.5 158.5h0M97.5 148.0h0M88.0 150.7h0M89.7 146.6h0M94.2 145.1h0M80.9 141.1h0M76.0 139.5h0M76.4 133.1h0M78.2 142.7h0M98.6 148.0h0M94.1 143.3h0M82.1 156.0h0M90.2 155.0h0M84.1 135.5h0M90.5 133.7h0M82.8 152.9h0M71.7 145.1h0M77.0 153.4h0M92.9 144.7h0M75.3 146.0h0M79.7 144.4h0M89.1 155.7h0M101.1 143.1h0M94.3 144.6h0M80.7 155.6h0M87.9 145.2h0M90.4 135.7h0" stroke="#E4641B" stroke-width="1.3" stroke-linecap="square" fill="none"/>
<path d="M135.4 186.8h0M113.1 173.1h0M139.1 177.5h0M113.8 171.0h0M122.5 175.2h0M142.5 172.7h0M129.0 162.0h0M131.5 165.4h0M134.5 164.7h0M118.4 170.4h0M132.4 178.4h0M106.5 167.2h0M110.4 161.2h0M136.2 166.1h0M112.2 180.5h0M133.1 177.9h0M127.4 182.9h0M111.0 170.0h0M113.6 165.6h0M129.5 164.9h0M115.0 176.5h0M109.8 177.8h0M122.7 179.6h0M128.5 187.6h0M118.2 174.1h0M130.1 180.3h0M128.7 176.4h0M118.1 168.0h0M112.6 172.5h0M123.1 164.3h0M126.8 168.8h0M141.3 176.2h0M110.0 175.4h0M140.7 178.8h0M140.5 171.1h0M128.0 169.5h0M125.6 158.8h0M131.2 175.3h0M119.2 175.3h0M125.4 161.8h0M128.5 171.5h0M137.2 175.7h0M139.5 179.7h0M136.4 183.7h0M115.8 168.4h0M131.9 185.9h0M118.1 185.7h0M117.3 163.8h0M125.1 174.2h0M128.7 172.4h0M116.5 176.9h0M112.3 169.6h0M117.7 170.3h0M133.7 166.3h0M115.1 185.3h0M123.6 168.4h0M138.9 172.5h0M128.5 179.6h0M129.3 177.2h0M121.3 165.0h0M127.2 182.2h0M122.1 163.3h0M141.4 170.7h0M128.4 177.7h0M123.2 174.2h0M105.9 166.8h0M126.7 173.6h0M139.0 171.2h0M120.0 171.6h0M107.2 167.2h0M132.2 168.1h0M131.6 189.9h0M114.3 177.8h0M139.3 173.4h0M122.2 172.1h0M134.6 170.0h0M112.8 175.7h0M128.0 183.6h0M121.3 177.9h0M123.2 161.6h0M132.8 174.1h0M110.7 171.5h0M131.8 179.7h0M140.6 172.7h0M118.2 184.9h0M128.3 162.4h0M138.2 171.7h0M132.9 178.2h0M110.8 166.7h0M113.5 174.1h0M110.2 166.1h0M136.6 187.4h0M138.8 172.5h0M116.3 167.6h0M114.7 170.6h0M125.1 162.6h0M131.5 179.5h0M132.2 184.5h0M144.1 175.0h0M130.3 160.1h0M115.4 176.2h0M131.3 180.8h0M128.3 172.4h0M122.9 188.3h0M140.4 177.6h0M126.6 173.4h0M120.9 186.7h0M118.6 166.5h0M127.9 182.4h0M132.5 187.5h0M107.6 167.2h0M117.5 183.9h0M126.2 172.7h0M115.5 181.8h0M120.9 166.8h0M134.3 166.3h0M117.0 169.4h0M111.1 174.5h0M109.5 172.1h0M123.8 176.3h0M113.2 163.0h0M118.9 164.5h0M117.1 179.9h0M139.8 171.0h0M125.9 163.4h0M124.9 181.2h0M124.0 165.7h0M129.7 181.8h0M118.1 179.0h0M115.9 182.6h0M113.0 174.5h0M136.9 169.4h0M126.1 191.7h0M125.3 182.4h0M136.3 163.4h0M127.8 175.5h0M111.3 174.3h0M134.6 178.1h0M119.0 173.4h0M138.9 172.6h0M130.4 179.5h0M127.2 175.7h0M131.4 163.5h0M125.1 186.7h0M113.8 175.2h0M125.8 181.3h0M126.2 183.7h0M132.9 168.6h0M115.0 172.7h0M110.6 179.0h0M123.2 185.1h0M123.2 167.1h0M134.1 179.3h0M112.4 168.1h0M120.7 173.4h0M116.2 175.7h0M121.5 187.3h0M115.5 184.7h0M114.3 166.3h0M121.8 174.6h0M117.0 162.9h0M124.4 178.9h0M124.8 181.2h0M127.2 175.6h0M127.6 177.4h0M126.9 176.0h0M124.1 160.6h0M130.5 171.7h0M116.4 176.7h0M133.4 170.9h0M125.3 172.8h0M111.7 172.9h0M131.8 174.2h0M122.8 176.7h0M124.5 176.0h0M124.2 186.2h0M119.4 165.3h0M130.6 187.6h0M132.9 165.5h0M130.9 166.1h0M124.6 168.1h0M133.3 171.4h0M127.0 168.5h0M114.6 168.4h0M115.2 175.1h0M125.0 167.9h0M120.7 163.3h0M139.5 176.5h0M120.2 179.1h0M114.5 162.0h0M131.0 184.3h0M141.3 177.0h0M117.5 185.4h0M114.0 165.7h0M131.1 179.4h0M120.5 169.9h0M126.3 159.5h0M126.1 183.3h0M127.6 166.8h0M109.4 166.4h0M126.8 170.1h0M134.3 167.1h0M122.0 178.5h0M127.1 173.6h0M123.8 166.0h0M109.9 178.0h0M134.3 171.3h0M108.8 178.2h0M136.1 170.8h0M131.1 180.8h0M126.8 165.2h0M124.0 172.3h0M119.6 169.2h0M131.9 185.3h0M132.5 187.2h0M114.3 174.7h0M113.0 170.5h0M123.7 161.9h0M116.4 188.5h0M129.6 162.1h0M122.2 174.0h0M130.1 164.9h0M134.5 166.6h0M128.0 182.0h0M119.4 168.2h0M129.9 166.2h0M127.4 162.3h0M127.8 186.4h0M117.2 177.8h0M134.4 182.1h0M135.1 187.0h0M130.7 188.1h0M124.7 167.9h0M132.8 186.9h0M131.8 186.2h0M118.4 181.5h0M109.8 167.3h0M127.3 175.2h0M119.9 172.4h0M133.5 167.9h0M135.3 185.5h0M133.6 170.7h0M135.6 170.7h0M115.1 181.6h0M127.7 176.3h0M133.4 189.1h0M122.2 188.4h0M125.4 176.2h0M134.6 171.2h0M115.9 183.8h0M129.9 180.0h0M126.5 163.8h0M123.9 176.9h0M133.4 185.4h0M133.7 170.2h0M138.2 181.9h0M124.1 189.2h0M125.1 175.1h0M119.3 162.9h0M127.4 168.1h0M123.9 169.7h0M125.6 189.8h0M125.7 185.7h0M119.7 180.4h0M128.9 168.8h0M124.3 180.0h0M119.0 163.3h0M122.5 189.0h0M126.0 188.2h0M141.0 175.9h0M120.3 183.6h0M121.2 167.3h0M127.2 171.1h0M132.0 183.0h0M123.9 171.0h0M131.3 180.0h0M123.3 157.6h0M137.5 168.3h0M132.5 172.4h0M114.2 160.7h0M134.9 164.2h0M119.8 179.0h0M124.9 168.0h0M138.1 172.7h0M111.0 178.6h0M123.2 182.8h0M117.0 182.7h0M113.1 173.9h0M124.1 161.1h0M126.9 185.1h0M123.2 169.9h0M120.3 163.3h0M132.6 176.5h0M125.2 182.4h0M127.8 181.3h0M123.9 161.6h0M128.9 172.3h0M126.1 162.2h0M125.9 179.0h0M110.2 172.3h0M124.3 184.4h0M143.3 170.4h0M133.5 167.1h0M132.9 175.3h0M124.2 174.6h0M134.2 163.1h0M130.6 188.4h0M125.0 183.5h0M134.5 168.7h0M125.8 176.3h0M112.0 172.9h0M123.9 187.1h0M130.7 177.7h0M112.9 169.0h0M143.6 174.8h0M131.6 188.4h0M118.9 185.5h0M139.3 175.1h0M115.7 159.6h0M130.1 176.7h0M125.2 183.1h0M111.9 174.0h0M110.8 169.8h0M116.2 179.2h0M131.2 168.1h0M117.6 180.4h0M118.1 178.6h0M128.0 188.6h0M124.0 181.5h0M124.1 162.8h0M126.0 187.5h0M123.0 177.4h0M120.7 176.9h0M139.7 174.1h0M131.8 179.0h0M114.6 170.1h0M114.3 163.0h0M118.2 178.2h0M121.1 169.6h0M116.3 164.8h0M135.0 166.1h0M118.5 170.1h0M132.9 166.7h0M131.0 164.0h0M127.9 189.4h0M112.3 176.2h0M127.7 181.4h0M122.5 161.9h0M127.3 181.8h0M127.4 179.8h0M128.5 165.2h0M120.2 183.8h0M118.2 163.2h0M131.0 181.8h0M124.4 168.3h0M128.1 177.5h0M132.9 168.6h0M132.8 184.4h0M139.5 174.8h0M131.6 166.4h0M119.2 166.7h0M128.5 179.9h0M116.2 178.0h0M117.3 168.7h0M135.7 167.8h0M132.7 189.0h0M130.5 166.2h0M111.4 167.2h0M127.8 169.3h0M132.2 166.2h0M122.2 169.3h0M118.4 166.9h0M125.2 178.3h0M110.2 164.9h0M128.8 172.6h0M117.2 172.9h0M116.8 185.0h0M138.4 168.9h0M140.2 174.9h0M113.7 186.6h0M124.8 164.2h0M144.7 174.9h0M127.4 185.0h0M129.1 175.6h0M116.8 174.6h0M113.1 183.8h0M134.2 173.5h0M139.6 176.0h0M131.5 179.4h0M112.3 181.0h0M122.6 172.0h0M134.8 170.7h0M125.7 164.9h0M134.8 167.7h0M120.0 184.5h0M118.5 188.1h0M129.9 174.1h0M137.9 178.9h0M133.3 187.1h0M123.7 180.9h0M123.8 160.6h0M128.1 163.2h0M118.2 171.1h0M117.5 160.5h0M131.6 184.5h0M129.0 164.6h0M107.4 174.9h0M130.0 171.3h0M117.7 178.3h0M129.2 183.9h0M112.8 163.2h0M122.8 178.4h0M122.9 163.9h0M117.2 184.1h0M130.2 185.8h0M128.1 178.2h0M111.2 179.8h0M121.8 163.4h0M120.3 179.9h0M132.2 188.2h0M114.2 180.7h0M109.1 170.2h0M130.5 187.4h0M110.9 171.0h0M90.3 208.8h0M82.7 188.1h0M95.5 184.0h0M103.5 206.0h0M100.6 194.2h0M89.4 191.7h0M90.7 187.1h0M93.6 192.9h0M107.8 195.6h0M91.1 188.3h0M114.4 191.1h0M98.2 196.7h0M104.3 198.6h0M107.1 197.7h0M100.1 188.1h0M106.1 193.4h0M114.4 202.0h0M109.4 209.9h0M98.8 185.3h0M103.9 193.1h0M95.8 206.7h0M94.9 202.8h0M97.7 192.5h0M101.6 187.7h0M108.3 189.5h0M95.3 203.0h0M110.8 210.0h0M94.6 184.9h0M112.7 198.6h0M100.3 208.6h0M95.8 195.4h0M98.7 187.7h0M113.8 205.8h0M108.3 207.6h0M101.4 200.4h0M89.2 188.9h0M94.9 199.3h0M100.4 202.9h0M101.3 197.1h0M94.6 189.7h0M91.6 185.7h0M90.7 198.0h0M114.4 197.5h0M105.7 204.4h0M111.3 198.8h0M113.7 197.3h0M105.9 208.5h0M105.8 210.8h0M87.2 187.3h0M98.7 202.4h0M87.8 196.1h0M103.2 199.3h0M104.6 211.3h0M119.4 203.8h0M84.3 198.9h0M103.2 200.1h0M96.9 189.0h0M89.1 188.6h0M94.0 185.5h0M95.6 191.0h0M104.3 197.0h0M105.9 196.2h0M98.9 206.7h0M111.3 200.4h0M91.4 201.4h0M119.0 205.5h0M101.5 189.3h0M118.3 204.7h0M111.4 197.9h0M112.5 210.1h0M87.6 199.6h0M96.8 207.1h0M95.0 193.7h0M110.4 194.7h0M98.5 187.7h0M107.7 197.1h0M103.7 208.0h0M94.3 189.3h0M83.5 193.5h0M111.3 198.5h0M94.4 189.7h0M110.2 203.8h0M105.3 191.9h0M106.5 212.1h0M114.3 206.8h0M111.5 197.9h0M107.1 197.2h0M87.9 198.6h0M96.0 199.8h0M93.9 212.1h0M91.9 193.1h0M97.3 205.8h0M100.9 209.8h0M98.2 198.4h0M81.8 198.5h0M104.9 203.1h0M84.1 190.4h0M88.5 189.0h0M88.9 185.1h0M115.6 202.7h0M81.8 190.7h0M104.2 200.5h0M116.2 198.2h0M114.6 202.8h0M102.1 190.0h0M107.2 201.0h0M91.9 211.0h0M95.1 189.0h0M107.5 212.0h0M100.2 197.4h0M100.9 189.5h0M92.2 196.4h0M106.7 191.7h0M110.7 210.8h0M101.3 209.7h0M107.9 191.1h0M113.3 196.5h0M88.8 202.5h0M91.1 202.2h0M96.9 206.7h0M92.3 195.9h0M95.1 192.8h0M107.8 204.0h0M99.5 191.2h0M87.7 197.2h0M95.6 193.7h0M85.5 187.5h0M107.0 195.7h0M91.4 196.3h0M97.9 199.2h0M111.5 211.4h0M109.1 200.4h0M99.2 206.6h0M90.9 187.7h0M95.4 210.9h0M118.3 200.2h0M110.5 191.5h0M90.8 199.7h0M110.9 194.5h0M100.4 209.9h0M100.5 205.4h0M110.7 189.9h0M95.2 199.8h0M85.4 200.7h0M116.1 205.6h0M96.5 191.7h0M98.5 206.1h0M95.5 189.0h0M111.2 197.6h0M107.1 207.0h0M93.8 200.1h0M104.9 196.0h0M89.1 204.3h0M103.4 211.3h0M99.4 197.4h0M102.8 190.8h0M91.6 194.4h0M115.0 210.2h0M111.5 192.3h0M105.0 207.5h0M99.9 187.0h0M111.7 197.6h0M108.9 190.2h0M98.3 192.8h0M109.8 203.6h0M114.7 210.8h0M102.4 190.3h0M89.4 186.1h0M89.7 195.8h0M90.8 185.6h0M117.8 206.8h0M115.3 204.1h0M106.4 191.7h0M95.5 194.2h0M113.4 204.6h0M115.3 198.8h0M88.2 190.4h0M94.0 197.0h0M116.5 201.8h0M94.9 191.6h0M95.2 207.5h0M98.6 186.2h0M107.9 199.7h0M111.0 201.8h0M96.6 209.0h0M91.3 199.5h0M109.4 209.1h0M95.3 193.0h0M112.6 199.8h0M94.5 208.4h0M106.4 190.3h0M113.1 206.9h0M105.8 215.4h0M95.6 205.8h0M93.2 197.0h0M115.0 202.1h0M91.7 199.4h0M96.8 185.4h0M102.4 191.2h0M103.0 189.3h0M100.8 207.2h0M109.1 206.9h0M105.8 193.2h0M110.6 211.4h0M86.3 191.2h0M102.1 187.0h0M102.1 191.5h0M105.2 210.3h0M98.7 192.0h0M87.6 193.9h0M89.2 187.0h0M98.8 197.1h0M99.8 193.5h0M102.1 187.1h0M103.9 210.4h0M100.8 194.9h0M98.2 185.7h0M95.7 195.0h0M104.9 195.9h0M95.1 186.2h0M103.2 196.8h0M92.3 188.3h0M114.9 201.8h0M87.7 197.2h0M88.6 190.7h0M96.3 185.6h0M90.4 190.0h0M111.8 206.3h0M90.6 191.7h0M99.0 198.6h0M99.8 204.1h0M111.1 202.7h0M94.7 187.8h0M98.5 199.2h0M111.6 205.7h0M97.7 196.5h0M97.6 203.7h0M91.1 206.2h0M115.8 196.9h0M96.9 187.4h0M100.4 192.5h0M103.6 198.4h0M92.8 204.1h0M102.6 202.3h0M85.1 194.9h0M97.8 203.0h0M107.1 200.6h0M114.1 206.6h0M105.1 209.3h0M91.9 201.0h0M93.4 201.4h0M97.7 194.7h0M82.9 188.2h0M100.1 185.0h0M105.0 192.5h0M107.0 210.8h0M87.8 201.8h0M90.3 207.8h0M105.5 195.4h0M102.0 189.1h0M117.6 196.7h0M108.8 201.9h0M100.3 190.3h0M110.0 194.6h0M94.1 194.0h0M87.3 199.6h0M104.2 209.4h0M84.2 192.7h0M95.4 198.8h0M96.7 207.5h0M99.8 196.1h0M88.5 189.6h0M112.7 201.4h0M86.5 187.5h0M106.1 204.5h0M97.9 197.6h0M115.6 202.1h0M82.5 196.1h0M114.7 197.3h0M85.8 185.6h0M103.3 197.9h0M88.2 188.0h0M105.2 210.2h0M95.0 191.5h0M110.8 207.9h0M95.6 197.4h0M106.0 210.9h0M115.0 195.9h0M109.0 199.5h0M98.6 199.3h0M116.6 203.7h0M102.8 205.2h0M97.2 195.9h0M119.9 196.2h0M85.0 188.1h0M95.0 206.7h0M103.9 202.1h0M90.7 191.4h0M100.7 210.4h0M94.9 203.4h0M89.4 192.2h0M88.2 204.9h0M113.6 195.4h0M84.1 192.6h0M84.8 198.4h0M86.7 190.6h0M104.8 190.2h0M119.5 201.7h0M98.6 195.6h0M110.1 206.8h0M91.7 191.6h0M85.2 189.6h0M96.6 194.8h0M113.5 204.3h0M84.7 200.6h0M81.6 188.2h0M100.9 211.0h0M97.9 184.6h0M94.9 199.1h0M117.7 198.9h0M111.5 207.7h0M89.4 193.5h0M110.0 210.2h0M99.7 208.2h0M89.1 193.4h0M99.0 195.8h0M97.9 215.2h0M116.5 198.8h0M115.2 199.4h0M105.7 205.4h0M105.5 191.2h0M103.8 208.7h0M92.8 203.8h0M113.4 200.0h0M98.1 203.7h0M92.9 199.6h0M90.5 185.4h0M99.2 201.1h0M86.9 203.2h0M107.4 193.3h0M99.6 189.0h0M94.5 195.3h0M95.6 187.6h0M95.2 198.3h0M114.6 200.0h0M103.6 211.2h0M92.2 199.6h0M93.1 205.3h0M105.5 202.4h0M86.2 201.9h0M103.4 190.9h0M89.3 199.6h0M93.2 207.9h0M102.4 186.9h0M97.5 198.1h0M109.3 200.4h0M90.6 206.2h0M104.9 203.2h0M110.0 202.6h0M106.6 188.3h0M109.0 194.9h0M100.7 195.8h0M83.1 194.8h0M101.3 209.6h0M89.0 187.4h0M92.9 185.2h0M87.4 193.0h0M108.2 202.7h0M95.4 197.2h0M96.3 205.2h0M112.3 196.8h0M108.7 201.0h0M101.8 207.6h0M90.8 197.4h0M103.4 191.8h0M108.8 197.1h0M110.9 199.4h0M102.4 207.8h0M112.4 207.1h0M87.6 192.4h0M111.9 198.7h0M101.1 196.4h0M95.7 209.7h0M108.4 205.8h0M106.8 201.4h0M103.4 202.7h0M97.9 190.4h0M99.2 197.6h0M82.5 197.6h0M84.0 198.7h0M95.4 208.0h0M95.9 198.8h0M80.7 191.8h0M92.8 184.1h0M120.7 216.8h0M135.7 233.1h0M125.0 232.5h0M124.0 222.0h0M126.4 224.0h0M132.0 229.7h0M128.5 230.4h0M125.7 221.5h0M132.9 233.2h0M125.8 214.1h0M135.2 234.0h0M116.3 212.8h0M131.9 238.9h0M133.8 223.8h0M131.5 224.2h0M132.1 230.3h0M124.9 216.3h0M125.0 215.6h0M126.1 232.7h0M127.2 231.8h0M120.9 227.4h0M123.3 213.4h0M127.2 214.5h0M131.8 240.1h0M129.8 235.4h0M128.8 226.9h0M131.0 229.4h0M126.1 221.0h0M127.8 217.0h0M126.8 220.7h0M131.3 235.7h0M133.9 234.4h0M120.3 226.5h0M133.3 226.7h0M138.1 232.4h0M126.4 223.7h0M121.8 223.8h0M133.8 239.7h0M124.6 213.6h0M120.1 227.2h0M131.7 234.0h0M122.7 222.2h0M132.5 233.3h0M123.9 226.4h0M122.0 218.5h0M133.1 224.5h0M132.1 226.6h0M131.0 222.1h0M131.8 228.1h0M125.1 213.3h0M126.5 223.3h0M132.9 239.1h0M130.2 226.9h0M126.2 221.3h0M125.4 211.3h0M130.4 229.3h0M122.6 227.0h0M121.2 213.3h0M128.9 221.2h0M128.6 237.6h0M136.5 233.6h0M132.4 238.5h0M131.1 231.3h0M126.4 235.4h0M135.5 232.8h0M124.0 218.6h0M127.0 223.1h0M124.7 227.4h0M129.0 229.4h0M129.1 217.6h0M116.6 214.4h0M120.0 214.5h0M128.6 221.7h0M122.2 218.2h0M125.8 214.0h0M131.6 231.4h0M124.2 237.4h0M120.7 214.4h0M125.4 229.5h0M129.6 236.8h0M133.3 226.1h0M123.4 215.4h0M134.6 229.4h0M133.9 231.7h0M129.4 224.0h0M130.0 238.8h0M132.3 238.9h0M128.0 222.3h0M122.7 214.5h0M125.2 227.3h0M127.5 219.9h0M129.5 224.8h0M122.9 219.8h0M132.1 237.3h0M131.7 239.6h0M126.8 214.5h0M131.0 220.4h0M125.3 230.6h0M130.7 223.1h0M125.9 215.3h0M124.6 216.2h0M128.9 221.0h0M133.0 227.3h0M133.3 234.0h0M130.4 231.1h0M122.3 224.5h0M135.5 230.5h0M133.2 225.1h0M130.2 224.5h0M123.5 216.3h0M126.6 231.8h0M127.3 224.1h0M125.2 212.2h0M131.8 234.3h0M121.2 223.4h0M132.1 231.7h0M124.5 223.0h0M134.7 233.3h0M122.1 215.4h0M126.1 224.6h0M129.0 226.0h0M117.5 210.0h0M122.5 211.5h0M118.7 210.5h0M134.2 227.8h0M128.6 219.7h0M128.6 216.0h0M121.1 219.7h0M125.8 216.2h0M131.3 222.1h0M126.1 233.8h0M126.7 235.6h0M126.7 222.6h0M129.3 232.3h0M124.5 220.6h0M122.2 220.2h0M123.5 229.0h0M135.7 225.8h0M126.4 214.2h0M124.8 221.4h0M122.4 225.8h0M135.8 235.4h0M130.3 235.2h0M128.4 225.1h0M129.3 231.7h0M121.1 217.8h0M123.7 216.3h0M125.5 223.2h0M127.3 223.1h0M124.7 231.0h0M149.6 153.5h0M152.3 153.5h0M149.1 154.0h0M152.1 160.3h0M154.7 156.1h0M150.9 157.4h0M151.2 158.2h0M151.0 153.0h0M150.7 156.4h0M157.2 156.5h0M155.8 163.3h0M148.0 161.1h0M155.8 153.7h0M153.6 158.4h0M150.0 158.1h0M152.2 150.8h0M156.5 157.3h0M155.1 155.1h0M150.8 158.8h0M157.5 155.6h0M149.5 154.1h0M152.7 153.9h0M150.2 156.6h0M152.5 151.0h0M154.1 154.8h0M151.2 151.2h0M155.0 157.2h0M151.1 156.5h0M147.7 153.4h0M151.5 151.1h0M153.6 159.4h0M149.9 154.1h0M151.7 158.0h0M152.5 159.4h0M151.6 156.7h0M153.4 153.4h0M152.9 157.9h0M156.0 156.0h0M147.4 153.1h0" stroke="#8E8B6E" stroke-width="1.3" stroke-linecap="square" fill="none"/>
<path d="M135.1 38.0h0M135.3 49.2h0M117.9 48.7h0M145.3 53.7h0M139.1 43.9h0M146.1 55.9h0M129.2 61.2h0M121.6 57.1h0M119.4 46.0h0M133.3 42.7h0M124.0 51.5h0M126.3 55.5h0M143.7 59.7h0M137.3 56.5h0M142.6 47.8h0M122.5 47.1h0M128.0 59.4h0M143.5 50.8h0M138.6 53.9h0M135.7 40.2h0M130.7 46.7h0M144.3 50.0h0M130.5 53.1h0M142.8 45.6h0M118.4 49.8h0M120.6 47.7h0M135.1 55.3h0M138.5 59.8h0M119.9 50.5h0M122.1 59.2h0M130.9 55.8h0M129.9 49.1h0M131.4 54.3h0M130.7 50.1h0M140.7 58.2h0M138.4 58.0h0M134.7 43.0h0M124.1 43.6h0M140.3 61.4h0M119.4 48.4h0M115.9 57.4h0M140.2 43.1h0M144.1 50.6h0M138.6 56.5h0M122.1 58.1h0M121.9 55.8h0M120.2 56.1h0M138.1 42.2h0M147.7 58.1h0M134.4 40.2h0M142.7 58.1h0M128.6 50.3h0M132.5 49.4h0M122.9 54.7h0M127.6 49.5h0M140.7 57.6h0M119.9 47.9h0M127.2 47.5h0M130.4 52.8h0M143.6 46.4h0M134.7 55.5h0M132.5 47.1h0M137.6 56.3h0M140.5 60.3h0M137.5 57.9h0M138.3 55.3h0M141.7 47.7h0M138.0 51.2h0M123.1 46.7h0M145.0 58.2h0M119.9 52.3h0M132.8 42.4h0M137.0 47.3h0M128.6 41.2h0M140.2 42.3h0M135.2 56.9h0M142.2 46.3h0M138.8 56.7h0M123.4 54.7h0M142.9 57.5h0M120.7 54.8h0M141.3 47.0h0M151.7 60.0h0M125.0 45.0h0M145.2 55.0h0M124.0 46.5h0M115.9 48.0h0M135.3 45.1h0M130.4 49.4h0M138.2 58.2h0M118.7 56.7h0M113.6 53.0h0M132.8 58.3h0M122.3 53.9h0M136.9 61.3h0M140.7 45.8h0M129.5 54.6h0M140.4 57.6h0M135.0 51.6h0M133.1 53.6h0M113.3 53.2h0M140.3 58.2h0M129.5 44.6h0M134.6 39.3h0M125.3 54.9h0M150.3 59.7h0M135.5 43.9h0M134.4 53.0h0M121.8 56.3h0M128.5 42.1h0M134.9 44.2h0M131.3 46.6h0M130.9 51.0h0M137.2 59.9h0M141.5 59.3h0M122.8 45.9h0M134.1 60.9h0M151.1 59.3h0M132.2 44.0h0M135.6 52.4h0M131.2 46.5h0M138.3 42.4h0M123.8 53.0h0M142.8 49.3h0M133.7 48.8h0M140.2 55.6h0M128.6 45.6h0M133.0 50.3h0M134.8 47.2h0M129.1 57.2h0M135.2 56.8h0M145.4 60.8h0M137.4 45.6h0M130.1 48.4h0M137.1 40.8h0M140.1 46.1h0M142.8 53.8h0M135.9 43.5h0M147.3 55.8h0M138.9 54.7h0M130.9 60.6h0M124.4 50.9h0M129.7 48.0h0M140.3 62.1h0M119.5 45.4h0M134.1 42.6h0M143.9 41.7h0M141.1 42.5h0M147.5 51.9h0M113.3 55.4h0M145.8 56.2h0M123.6 58.1h0M120.1 57.3h0M120.4 50.2h0M128.3 58.9h0M137.5 54.8h0M144.7 56.6h0M128.2 51.6h0M127.3 53.6h0M125.4 63.7h0M126.5 55.5h0M117.2 58.8h0M137.2 52.7h0M133.6 56.7h0M123.1 58.0h0M141.3 56.5h0M120.6 54.0h0M120.9 46.7h0M129.7 48.9h0M136.0 42.9h0M134.2 58.1h0M127.9 46.7h0M137.8 47.0h0M148.4 64.4h0M140.2 38.2h0M144.9 50.2h0M140.5 51.7h0M125.1 47.9h0M132.3 55.6h0M131.4 55.0h0M151.4 62.7h0M120.8 47.4h0M143.5 51.6h0M145.1 50.7h0M136.1 57.3h0M143.1 62.6h0M134.6 53.1h0M139.9 54.7h0M131.9 47.1h0M129.4 47.0h0M147.8 53.3h0M137.1 44.8h0M133.9 61.8h0M143.3 54.6h0M135.4 58.4h0M119.7 50.8h0M120.7 57.5h0M122.6 50.4h0M139.7 53.0h0M124.1 41.4h0M135.2 44.4h0M140.7 43.6h0M137.9 54.9h0M125.5 52.1h0M122.4 56.0h0M134.3 63.8h0M124.1 46.8h0M120.4 50.2h0M134.4 42.1h0M114.8 50.7h0M137.6 57.8h0M142.4 53.2h0M125.7 56.7h0M127.5 49.1h0M120.0 49.8h0M128.3 46.0h0M132.6 62.2h0M133.0 46.5h0M137.0 40.6h0M151.3 56.6h0M130.4 60.1h0M132.4 58.5h0M131.6 51.9h0M144.9 54.5h0M144.6 47.7h0M121.6 47.0h0M118.9 47.4h0M127.4 49.4h0M134.5 61.6h0M133.8 58.5h0M145.7 61.0h0M132.5 43.1h0M140.4 51.0h0M126.0 49.8h0M127.9 57.0h0M118.6 49.5h0M144.1 53.7h0M124.1 59.3h0M134.5 55.2h0M122.1 43.8h0M123.0 57.5h0M134.7 58.5h0M131.2 62.3h0M134.3 40.6h0M136.3 56.1h0M126.0 55.0h0M128.9 51.8h0M145.3 46.6h0M140.9 53.7h0M122.5 59.3h0M141.1 39.7h0M128.5 51.0h0M130.0 48.1h0M119.0 47.1h0M120.6 49.0h0M147.7 56.9h0M135.7 60.6h0M136.1 54.8h0M137.6 55.9h0M145.5 63.2h0M130.6 53.7h0M144.2 51.7h0M141.8 47.8h0M133.4 55.8h0M130.4 38.5h0M141.0 55.8h0M131.2 48.1h0M134.6 61.1h0M124.8 44.7h0M122.6 52.2h0M144.0 55.3h0M135.1 44.5h0M129.1 40.4h0M124.6 44.6h0M144.5 60.6h0M146.4 46.8h0M123.9 49.6h0M124.2 59.6h0M124.2 54.0h0M133.7 52.1h0M120.4 51.3h0M126.5 52.3h0M124.7 51.4h0M129.4 59.7h0M132.7 40.8h0M138.0 52.6h0M119.6 52.0h0M141.4 46.0h0M127.6 50.7h0M141.1 59.1h0M135.9 51.3h0M122.6 46.9h0M126.8 44.0h0M135.1 61.4h0M117.3 48.8h0M126.8 46.1h0M113.8 58.9h0M150.0 59.3h0M148.9 57.5h0M131.6 51.5h0M123.2 55.9h0M137.6 55.1h0M132.8 39.9h0M123.1 51.0h0M137.2 42.1h0M132.8 50.5h0M132.1 42.8h0M131.4 42.4h0M116.9 61.5h0M143.0 47.3h0M118.2 49.1h0M138.0 59.5h0M115.5 60.5h0M138.1 47.6h0M133.1 49.5h0M125.3 43.8h0M122.1 45.2h0M129.5 50.1h0M121.7 52.9h0M123.3 53.3h0M141.6 44.0h0M147.6 54.8h0M122.9 50.8h0M123.0 42.3h0M120.0 53.1h0M134.6 63.6h0M143.3 59.1h0M120.0 53.3h0M146.1 56.7h0M146.3 55.9h0M120.2 48.3h0M130.6 41.5h0M139.8 62.5h0M131.3 58.9h0M128.4 43.9h0M128.7 49.3h0M123.5 53.1h0M140.3 53.2h0M134.2 51.9h0M129.1 62.5h0M125.9 60.2h0M121.3 60.2h0M119.7 47.6h0M130.8 50.0h0M134.2 40.9h0M133.3 43.1h0M131.6 43.8h0M139.7 45.5h0M144.7 56.7h0M145.2 45.6h0" stroke="#F47B71" stroke-width="1.3" stroke-linecap="square" fill="none"/>
<path d="M166.4 94.2h0M160.4 119.0h0M174.5 89.6h0M154.0 71.6h0M177.0 104.1h0M155.4 76.1h0M153.6 112.4h0M151.9 92.8h0M165.6 107.8h0M151.1 77.1h0M176.1 93.8h0M154.3 77.8h0M167.7 77.3h0M153.6 70.2h0M173.2 112.6h0M182.3 92.9h0M171.2 92.7h0M171.7 98.2h0M158.9 95.9h0M168.6 83.9h0M174.4 85.6h0M154.1 73.2h0M169.0 106.3h0M174.3 82.2h0M165.7 115.4h0M146.8 84.6h0M160.9 120.4h0M164.5 86.6h0M147.1 95.3h0M170.0 76.7h0M151.6 80.4h0M140.5 92.3h0M173.2 77.8h0M154.4 102.0h0M161.9 101.3h0M177.8 88.1h0M182.2 94.7h0M170.1 87.8h0M160.9 109.4h0M180.9 83.1h0M175.0 97.1h0M165.1 108.8h0M144.4 101.9h0M147.4 96.2h0M159.7 82.1h0M176.8 100.5h0M151.6 76.9h0M181.9 79.5h0M150.1 111.6h0M155.0 87.9h0M147.3 76.7h0M146.2 102.1h0M142.1 90.9h0M155.1 107.4h0M171.7 84.8h0M159.5 92.7h0M168.1 107.3h0M156.7 81.8h0M161.2 118.4h0M159.0 79.0h0M177.9 89.5h0M154.7 99.3h0M167.4 79.1h0M183.3 84.8h0M188.8 88.0h0M163.4 112.1h0M178.7 98.2h0M156.3 108.3h0M156.0 121.3h0M143.4 111.6h0M148.2 102.6h0M151.0 98.7h0M143.9 97.8h0M159.3 73.1h0M175.1 74.8h0M177.6 101.8h0M172.0 72.5h0M158.6 94.4h0M163.5 90.0h0M168.9 87.7h0M153.8 115.3h0M173.5 82.3h0M140.5 90.3h0M171.5 109.8h0M188.7 84.0h0M188.4 88.0h0M158.0 80.1h0M181.1 104.0h0M155.5 111.1h0M153.3 87.5h0M164.6 76.1h0M162.3 115.5h0M154.4 88.8h0M164.9 106.8h0M166.0 104.8h0M187.2 88.2h0M158.9 85.6h0M157.5 100.9h0M175.3 76.9h0M148.6 103.0h0M148.3 77.5h0M144.1 91.3h0M162.4 117.3h0M167.5 85.1h0M177.0 86.2h0M155.4 118.8h0M158.6 98.2h0M154.5 90.5h0M163.5 118.6h0M180.1 96.9h0M176.0 108.2h0M161.1 113.4h0M171.2 85.8h0M165.4 73.2h0M173.6 108.3h0M153.7 79.4h0M179.3 106.6h0M159.7 93.9h0M163.8 92.1h0M174.8 105.8h0M167.6 84.2h0M169.3 115.2h0M161.1 90.2h0M182.4 98.2h0M156.3 102.5h0M144.0 101.0h0M164.4 89.5h0M148.7 103.3h0M183.6 87.8h0M166.9 77.6h0M153.9 82.0h0M149.3 99.4h0M158.4 105.6h0M168.8 81.8h0M160.0 70.7h0M150.6 95.6h0M172.2 103.1h0M160.4 115.4h0M160.4 92.2h0M169.3 85.7h0M159.2 103.7h0M150.9 79.1h0M155.0 103.1h0M145.5 76.9h0M174.2 88.0h0M163.2 112.3h0M150.0 83.4h0M178.9 95.1h0M151.2 102.0h0M164.9 72.8h0M170.2 103.2h0M161.6 68.4h0M175.9 100.2h0M155.7 112.8h0M152.1 101.9h0M168.8 74.6h0M144.0 104.3h0M160.3 79.5h0M169.5 94.3h0M177.0 83.9h0M185.1 86.6h0M168.7 74.8h0M174.6 102.9h0M172.4 92.9h0M170.0 114.0h0M164.3 105.2h0M158.0 96.8h0M171.1 88.0h0M147.7 102.8h0M182.4 97.2h0M159.4 74.2h0M167.1 108.5h0M159.7 70.6h0M144.1 89.6h0M159.4 83.4h0M179.1 90.3h0M145.2 81.1h0M168.8 88.3h0M186.7 90.7h0M162.5 69.0h0M179.2 105.0h0M159.7 76.9h0M150.3 79.8h0M182.6 98.1h0M180.2 87.7h0M173.7 77.7h0M178.7 83.1h0M172.9 97.1h0M170.5 89.6h0M151.7 117.8h0M155.9 82.3h0M159.5 97.5h0M149.4 113.1h0M169.5 89.2h0M172.8 85.6h0M148.2 86.8h0M171.3 86.3h0M173.2 106.7h0M139.6 87.2h0M180.7 95.2h0M167.8 80.3h0M152.0 78.5h0M181.2 94.4h0M164.8 95.3h0M162.5 73.9h0M154.3 112.7h0M151.4 113.4h0M167.1 76.7h0M167.5 100.0h0M158.3 96.4h0M151.7 104.4h0M160.5 97.0h0M156.6 102.7h0M161.8 92.3h0M180.2 104.9h0M154.5 92.6h0M177.1 87.9h0M173.4 110.9h0M176.1 105.7h0M147.8 99.7h0M162.8 106.7h0M167.0 94.6h0M165.3 108.3h0M186.9 84.7h0M185.3 87.8h0M158.3 84.0h0M180.1 82.0h0M175.3 96.2h0M142.8 89.2h0M161.5 97.6h0M150.1 74.5h0M164.8 71.0h0M148.6 89.1h0M186.3 92.9h0M173.6 96.8h0M163.3 91.6h0M152.9 83.9h0M158.8 83.7h0M158.8 75.5h0M167.7 78.4h0M156.7 91.6h0M177.0 109.9h0M181.8 85.8h0M151.4 116.8h0M164.1 80.6h0M155.7 84.5h0M170.0 107.8h0M162.7 102.5h0M178.7 93.7h0M159.7 74.3h0M178.8 85.2h0M178.8 83.6h0M166.4 85.6h0M153.0 116.5h0M147.0 114.4h0M171.9 98.4h0M154.0 97.3h0M166.1 110.7h0M173.4 103.4h0M147.1 97.1h0M160.3 96.4h0M156.0 107.0h0M165.8 113.1h0M171.9 110.2h0M172.4 75.7h0M163.9 73.1h0M151.3 88.1h0M162.4 75.9h0M174.7 101.3h0M157.7 105.7h0M172.0 85.9h0M163.9 79.7h0M171.4 85.3h0M159.5 80.2h0M150.5 89.0h0M170.2 76.2h0M165.5 109.6h0M167.6 103.0h0M149.3 98.5h0M168.7 87.6h0M144.7 97.5h0M163.1 107.3h0M174.7 105.9h0M185.1 89.3h0M157.5 116.6h0M157.4 118.3h0M184.8 90.6h0M151.5 90.2h0M167.5 69.2h0M184.5 91.4h0M166.2 99.6h0M183.1 85.0h0M159.6 96.9h0M150.7 80.0h0M165.5 113.4h0M158.6 81.9h0M158.3 79.8h0M157.6 109.2h0M169.2 88.3h0M179.7 98.0h0M182.7 95.4h0M149.6 93.7h0M157.5 74.8h0M175.1 80.3h0M157.3 86.4h0M180.7 83.9h0M155.3 96.8h0M184.8 92.3h0M152.3 119.5h0M146.8 90.5h0M163.5 74.4h0M182.0 87.4h0M186.8 88.9h0M174.8 107.1h0M155.2 107.7h0M182.6 89.7h0M157.4 73.2h0M140.8 90.5h0M167.0 107.3h0M172.6 88.8h0M144.3 92.2h0M173.9 99.0h0M155.6 77.8h0M151.1 105.1h0M177.9 82.1h0M159.6 68.0h0M164.2 102.8h0M181.1 86.7h0M180.6 98.2h0M154.3 105.5h0M167.9 73.4h0M189.3 85.1h0M146.3 79.3h0M154.4 72.3h0M147.5 113.6h0M159.3 80.1h0M154.9 78.7h0M162.1 73.9h0M141.8 104.5h0M169.5 98.5h0M158.8 97.8h0M164.7 118.0h0M151.9 93.9h0M169.6 91.8h0M152.4 112.8h0M175.4 109.7h0M166.3 79.6h0M166.7 68.5h0M143.7 86.6h0M152.9 117.7h0M146.1 109.7h0M165.9 99.9h0M182.4 82.6h0M156.0 95.4h0M168.4 111.2h0M177.7 104.5h0M159.0 106.7h0M181.5 97.4h0M142.4 79.6h0M180.6 101.6h0M158.0 103.2h0M148.8 102.5h0M159.2 105.1h0M161.7 113.1h0M154.8 79.9h0M181.8 102.6h0M151.6 83.9h0M181.1 97.8h0M145.7 77.7h0M187.2 92.0h0M183.3 93.1h0M154.3 98.0h0M174.2 112.2h0M169.5 105.4h0M165.9 113.4h0M152.8 76.8h0M169.5 74.7h0M173.6 98.9h0M171.7 101.9h0M172.7 79.5h0M157.9 74.4h0M174.9 93.0h0M161.3 91.9h0M147.2 97.8h0M156.6 95.9h0M178.5 82.0h0M149.3 112.9h0M164.3 106.7h0M159.3 77.8h0M142.8 92.4h0M151.2 104.0h0M171.5 89.7h0M167.8 76.1h0M147.9 90.6h0M183.0 103.4h0M166.5 97.6h0M166.8 84.3h0M153.2 110.0h0M173.8 105.9h0M156.6 109.9h0M159.5 118.5h0M162.7 92.2h0M152.2 89.9h0M145.6 86.7h0M185.1 87.6h0M151.6 89.9h0M174.4 80.5h0M154.8 88.5h0M174.8 80.2h0M155.4 110.6h0M148.8 100.9h0M168.0 75.1h0M160.1 94.1h0M158.1 119.1h0M171.0 89.8h0M150.1 89.6h0M156.4 77.8h0M145.3 101.1h0M166.9 85.0h0M149.7 108.9h0M180.6 91.3h0M157.0 90.3h0M145.3 107.7h0M144.6 96.7h0M182.5 92.4h0M149.5 80.5h0M165.8 76.2h0M142.1 89.8h0M156.6 91.0h0M146.1 99.0h0M171.2 82.9h0M146.1 106.9h0M169.2 95.7h0M167.4 85.8h0M154.3 87.2h0M160.0 108.3h0M160.9 78.8h0M166.1 91.9h0M176.5 86.5h0M153.0 85.4h0M145.3 107.7h0M170.2 80.5h0M153.2 72.2h0M165.1 108.7h0M180.4 92.0h0M144.0 92.4h0M154.7 80.8h0M144.7 77.7h0M152.6 86.6h0M169.7 77.2h0M154.8 105.0h0M167.4 90.6h0M161.4 91.5h0M153.1 90.3h0M181.2 89.6h0M162.6 117.6h0M148.3 88.0h0M169.9 95.9h0M140.2 86.4h0M189.0 93.2h0M181.8 102.5h0M149.1 113.4h0M138.3 89.1h0M146.1 112.2h0M162.5 111.5h0M154.6 89.1h0M144.2 89.9h0M171.8 98.6h0M156.1 96.3h0M167.4 116.4h0M175.6 102.2h0M148.8 88.2h0M154.3 118.6h0M171.5 89.6h0M142.1 92.2h0M166.0 101.2h0M158.4 73.7h0M165.9 111.7h0M145.3 77.0h0M168.0 92.1h0M150.3 120.6h0M169.1 77.2h0M162.2 81.2h0M171.5 92.9h0M168.0 102.5h0M165.5 92.5h0M143.0 108.9h0M167.7 112.0h0M151.7 98.9h0M142.3 88.4h0M147.5 84.5h0M156.2 107.8h0M147.7 81.3h0M147.3 83.1h0M151.8 101.2h0M154.0 82.1h0M158.4 86.7h0M183.9 92.1h0M182.5 93.4h0M148.6 95.4h0M163.4 110.3h0M165.4 77.8h0M153.7 95.9h0M152.4 110.8h0M161.5 92.8h0M162.6 89.3h0M148.6 102.6h0M167.5 88.7h0M158.4 118.6h0M167.6 116.5h0M180.0 91.7h0M172.5 113.5h0M153.8 98.1h0M149.7 86.0h0M149.7 92.4h0M159.5 102.3h0M152.5 103.7h0M173.1 107.5h0M163.7 89.5h0M145.3 109.4h0M147.6 111.3h0M156.0 81.3h0M144.9 88.9h0M164.7 99.4h0M142.5 88.8h0M154.1 93.2h0M160.3 104.7h0M160.5 111.1h0M152.0 81.6h0M157.7 89.8h0M166.2 72.3h0M146.6 93.7h0M153.1 72.4h0M156.0 86.8h0M179.0 83.5h0M155.1 116.3h0M172.5 74.8h0M166.4 106.0h0M147.7 75.0h0M155.0 94.5h0M145.3 96.0h0M169.6 97.0h0M162.7 119.3h0M163.5 117.5h0M149.2 93.0h0M149.2 86.8h0M147.1 86.4h0M166.9 83.4h0M162.5 118.2h0M167.9 87.0h0M147.1 78.4h0M162.4 97.7h0M154.8 73.6h0M157.3 101.6h0M180.0 101.0h0M160.4 106.1h0M174.7 97.9h0M163.9 98.9h0M172.2 102.9h0M171.8 111.6h0M178.9 87.1h0M173.3 99.3h0M163.9 88.8h0M175.6 95.8h0M163.8 105.3h0M158.1 79.9h0M174.1 78.9h0M163.3 118.8h0M162.3 95.1h0M168.5 72.3h0M141.3 85.0h0M163.8 71.7h0M166.8 102.0h0M171.0 73.2h0M170.9 111.3h0M169.6 110.0h0M158.7 70.3h0M149.9 82.7h0M152.8 110.6h0M150.9 85.7h0M182.6 89.7h0M159.8 106.7h0M150.7 80.4h0M161.7 111.3h0M156.6 73.4h0M167.5 79.0h0M159.3 75.0h0M157.5 122.5h0M147.1 91.1h0M173.8 90.4h0M143.0 101.4h0M170.0 111.9h0M154.7 91.2h0M178.9 87.5h0M189.6 91.2h0M168.8 93.7h0M161.6 80.6h0M164.0 76.6h0M167.0 90.6h0M169.4 92.5h0M157.1 77.7h0M166.3 105.5h0M143.2 81.1h0M161.0 107.9h0M152.0 110.9h0M150.8 106.0h0M149.8 93.3h0M165.5 84.0h0M165.5 72.8h0M151.5 111.1h0M176.4 97.5h0M153.4 99.7h0M176.0 99.5h0M158.8 92.7h0M151.0 85.1h0M162.5 102.8h0M172.6 107.8h0M160.6 101.5h0M154.5 107.5h0M175.5 96.8h0M156.9 84.8h0M156.4 89.7h0M177.7 90.7h0M159.8 81.2h0M149.7 90.1h0M171.8 98.0h0M174.5 103.1h0M147.6 97.6h0M161.8 105.8h0M159.8 101.4h0M170.8 77.0h0M169.5 71.1h0M144.4 101.7h0M167.7 87.5h0M172.3 99.8h0M167.4 88.9h0M164.1 89.4h0M179.4 102.9h0M173.5 106.1h0M172.8 88.5h0M171.4 81.5h0M152.0 72.7h0M154.5 98.6h0M158.0 98.9h0M170.1 93.0h0M167.1 95.5h0M172.4 107.1h0M153.1 115.0h0M176.4 102.5h0M175.3 80.7h0M167.0 113.3h0M167.7 90.1h0M153.2 78.3h0M161.0 75.4h0M146.0 94.9h0M174.1 106.0h0M151.0 108.8h0M159.3 73.5h0M175.4 93.5h0M148.0 90.5h0M170.3 112.5h0M153.7 108.1h0M182.1 84.8h0M181.5 87.1h0M149.3 112.7h0M164.3 88.1h0M153.6 98.2h0M159.7 104.7h0M159.8 83.1h0M145.4 98.3h0M179.7 96.4h0M162.4 119.1h0M176.4 103.4h0M173.3 86.3h0M181.0 86.3h0M169.5 74.8h0M180.8 98.6h0M169.0 81.0h0M152.7 92.2h0M168.0 109.0h0M168.3 103.1h0M174.8 103.2h0M168.4 100.1h0M174.8 109.9h0M169.9 109.2h0M170.6 76.9h0M166.5 69.8h0M171.6 96.2h0M160.7 70.5h0M153.3 96.9h0M143.3 80.0h0M160.6 90.3h0M167.6 73.2h0M152.8 102.4h0M168.4 116.1h0M166.9 108.0h0M150.0 97.1h0M171.8 93.5h0M173.1 82.6h0M175.1 93.0h0M170.1 74.4h0M165.3 76.3h0M182.9 102.1h0M162.6 97.4h0M165.0 97.3h0M144.2 92.0h0M147.3 104.9h0M148.6 102.5h0M167.1 96.8h0M160.5 105.1h0M161.6 96.4h0M165.6 116.7h0M176.8 81.4h0M145.8 102.8h0M182.3 85.4h0M157.3 92.3h0M153.3 98.4h0M170.6 95.4h0M174.4 96.8h0M168.4 100.7h0M158.8 88.6h0M167.1 94.7h0M157.8 95.7h0M169.0 89.1h0M180.5 92.9h0M164.0 70.3h0M167.9 81.6h0M164.1 89.1h0M158.6 85.1h0M147.7 97.5h0M162.1 90.1h0M158.5 88.9h0M146.8 98.9h0M160.6 74.3h0M175.8 111.2h0M169.5 81.2h0M158.8 119.6h0M161.1 90.7h0M167.5 75.4h0M162.8 112.0h0M152.9 95.4h0M141.8 84.6h0M143.6 105.2h0M146.5 83.6h0M169.0 93.2h0M166.4 112.7h0M160.8 108.3h0M171.8 112.0h0M148.8 97.4h0M162.2 110.4h0M157.0 75.6h0M158.7 112.6h0M147.8 94.0h0M145.8 97.4h0M156.7 117.7h0M142.5 107.1h0M146.3 94.7h0M173.2 86.1h0M155.0 84.5h0M160.9 111.4h0M160.7 92.6h0M170.2 93.6h0M175.4 103.2h0M153.6 97.2h0M150.6 96.8h0M146.6 90.9h0M152.4 92.3h0M146.6 91.1h0M171.6 98.1h0M155.4 84.3h0M166.4 91.8h0M168.5 97.9h0M156.6 75.5h0M174.5 83.3h0M156.3 115.6h0M147.1 81.9h0M150.1 92.8h0M158.6 92.5h0M168.0 80.4h0M168.0 110.1h0M154.2 73.0h0M158.3 98.8h0M183.8 83.7h0M162.0 72.3h0M158.8 105.8h0M181.7 105.3h0M170.1 86.0h0M147.4 108.9h0M155.5 74.5h0M170.8 86.8h0M157.9 85.0h0M168.3 78.0h0M163.0 87.9h0M167.6 80.7h0M176.7 108.3h0M138.4 88.8h0M173.7 88.8h0M154.0 78.9h0M175.3 93.8h0M170.9 83.6h0M159.7 82.7h0M172.5 79.6h0M150.7 90.0h0M150.8 95.7h0M158.9 114.1h0M150.3 99.7h0M150.0 82.1h0M170.1 112.5h0M171.0 111.6h0M171.6 77.4h0M160.0 94.5h0M162.3 87.6h0M166.3 88.2h0M158.3 104.5h0M158.6 119.3h0M172.9 109.9h0M144.8 106.9h0M166.2 114.0h0M150.2 97.7h0M142.0 85.1h0M173.6 98.4h0M148.1 82.3h0M178.4 97.0h0M171.6 94.3h0M153.3 110.6h0M181.5 91.7h0M164.5 115.1h0M157.2 119.0h0M173.9 103.4h0M168.4 81.4h0M177.2 85.6h0M154.8 75.1h0M149.2 84.3h0M149.5 102.8h0M168.1 82.4h0M154.8 82.3h0M170.6 111.4h0M184.0 96.9h0M171.2 76.4h0M151.5 98.1h0M174.5 91.5h0M152.5 77.7h0M161.1 99.0h0M147.2 94.1h0M154.0 91.7h0M161.3 106.9h0M165.9 90.2h0M145.2 78.0h0M152.1 89.4h0M166.6 111.9h0M154.0 102.5h0M166.4 80.2h0M160.2 115.6h0M162.5 111.2h0M175.3 109.0h0M165.6 82.5h0M154.7 105.8h0M177.7 80.8h0M170.1 108.0h0M144.4 79.4h0M156.6 77.4h0M160.8 96.9h0M149.9 94.0h0M167.1 95.1h0M165.9 84.8h0M172.3 78.4h0M175.7 91.9h0M148.4 84.4h0M151.5 81.1h0M169.1 73.7h0M156.0 122.7h0M145.5 93.9h0M142.9 94.9h0M163.8 87.7h0M149.3 78.6h0M149.0 92.2h0M142.8 89.7h0M171.2 104.5h0M168.3 89.2h0M159.2 104.7h0M142.1 82.2h0M165.4 76.1h0M153.4 100.4h0M166.8 116.9h0M147.0 111.8h0M163.0 117.5h0M169.1 84.8h0M156.1 100.7h0M159.4 102.1h0M145.6 89.0h0M174.2 98.5h0M164.4 100.0h0M161.1 110.7h0M164.2 78.7h0M164.9 90.4h0M175.0 101.1h0M160.0 89.3h0M169.1 116.0h0M166.3 108.3h0M150.3 86.3h0M146.9 90.0h0M169.7 74.4h0M160.1 96.1h0M187.3 96.1h0M153.4 84.4h0M148.8 109.5h0M182.9 82.5h0M170.9 111.1h0M172.6 74.0h0M157.1 84.1h0M154.3 116.2h0M143.8 87.3h0M157.7 114.6h0M160.3 86.4h0M168.2 108.5h0M148.2 85.5h0M174.5 95.9h0M179.8 97.8h0M168.7 117.9h0M148.1 115.0h0M158.2 113.0h0M156.8 73.3h0M153.1 110.6h0M158.2 99.2h0M155.6 93.9h0M161.0 113.2h0M188.7 87.9h0M182.5 96.2h0M156.9 88.1h0M169.9 100.5h0M156.9 107.2h0M145.8 91.9h0M160.7 67.1h0M159.6 74.5h0M164.8 113.6h0M152.7 79.6h0M165.3 86.8h0M175.5 92.8h0M183.5 95.1h0M165.7 117.2h0M164.7 95.5h0M165.8 94.8h0M138.0 87.7h0M143.4 87.6h0M155.0 102.5h0M146.9 88.1h0M147.8 111.3h0M175.4 94.6h0M161.6 84.0h0M148.0 110.0h0M156.8 85.6h0M171.0 79.0h0M162.3 85.3h0M146.2 93.9h0M183.9 95.7h0M161.3 115.7h0M175.8 104.8h0M157.0 101.8h0M158.8 104.7h0M151.2 83.1h0M184.4 81.4h0M147.7 79.5h0M149.6 99.1h0M177.1 107.9h0M168.8 96.9h0M157.9 94.7h0M164.4 108.4h0M151.6 109.4h0M172.1 78.5h0M166.9 91.8h0M152.3 86.5h0M177.9 106.1h0M153.0 116.4h0M176.0 108.1h0M163.8 73.2h0M171.2 98.6h0M164.6 73.3h0M151.3 120.1h0M165.5 82.6h0M147.1 80.4h0M152.2 87.9h0M153.5 91.9h0M159.2 108.9h0M160.7 67.8h0M174.1 84.9h0M154.4 103.8h0M181.6 86.1h0M144.1 91.0h0M152.2 98.7h0M155.8 114.0h0M176.8 106.5h0M161.1 76.4h0" stroke="#F2CB17" stroke-width="1.3" stroke-linecap="square" fill="none"/>
<path d="M136.6 96.9h0M134.9 104.0h0M129.9 100.0h0M140.0 99.2h0M120.6 112.1h0M141.2 103.6h0M140.5 108.5h0M142.4 106.8h0M138.4 107.6h0M141.4 99.5h0M129.0 113.0h0M129.9 111.1h0M137.4 96.0h0M129.4 107.9h0M132.0 107.7h0M127.6 103.4h0M136.2 117.0h0M120.9 113.5h0M125.6 97.8h0M131.3 98.3h0M130.7 96.7h0M137.3 102.9h0M141.0 98.1h0M130.4 117.2h0M141.1 106.1h0M135.2 109.4h0M131.2 102.9h0M137.1 103.4h0M135.4 118.3h0M128.8 113.1h0M135.3 111.5h0M134.6 100.3h0M134.2 112.7h0M137.0 113.6h0M140.6 112.0h0M127.3 115.0h0M130.3 116.9h0M129.4 115.8h0M140.1 96.3h0M128.3 102.8h0M130.4 100.4h0M125.4 107.8h0M141.0 95.3h0M139.4 104.1h0M131.6 95.9h0M136.7 94.9h0M120.7 102.6h0M125.4 100.0h0M124.8 103.8h0M124.4 111.4h0M127.6 110.5h0M141.6 111.3h0M138.7 104.4h0M126.9 115.1h0M137.3 107.7h0M120.6 100.6h0M129.5 100.4h0M124.2 97.6h0M117.1 109.0h0M138.7 104.1h0M139.4 113.3h0M137.6 114.0h0M130.1 109.7h0M135.4 102.5h0M121.2 114.5h0M125.1 114.0h0M139.6 112.4h0M133.4 108.8h0M128.8 110.4h0M137.8 112.3h0M135.8 112.6h0M131.7 104.7h0M126.5 113.6h0M122.8 99.6h0M130.7 115.8h0M140.2 110.8h0M130.0 111.0h0M136.7 106.0h0M129.6 106.6h0M137.1 111.3h0M119.5 107.0h0M138.1 117.8h0M141.4 104.2h0M128.7 97.7h0M131.8 101.9h0M134.6 95.1h0M130.8 119.0h0M133.8 107.1h0M136.5 107.6h0M139.3 108.4h0M140.6 108.4h0M125.6 96.9h0M134.1 104.7h0M137.2 115.5h0M145.0 105.9h0M127.0 110.1h0M140.1 104.5h0M125.7 113.2h0M118.9 101.6h0M133.8 107.6h0M130.6 108.4h0M140.9 97.4h0M136.7 101.3h0M137.7 105.5h0M139.8 100.1h0M138.6 98.9h0M142.5 101.2h0M133.9 99.7h0M127.3 112.8h0M132.7 117.1h0M137.0 106.1h0M140.9 110.3h0M124.6 107.9h0M132.9 111.8h0M135.1 96.9h0M121.7 98.8h0M125.5 110.0h0M125.3 100.6h0M139.1 107.4h0M137.8 105.7h0M139.4 99.3h0M132.8 105.8h0M140.2 107.5h0M138.9 110.5h0M125.3 110.6h0M132.5 113.8h0M137.6 95.3h0M122.6 112.3h0M135.3 104.8h0M127.1 108.9h0M132.6 97.0h0M135.8 109.0h0M118.1 105.2h0M128.1 106.8h0M126.9 110.2h0M130.0 93.0h0M135.2 104.1h0M131.6 113.2h0M122.3 108.4h0M129.8 115.6h0M141.5 116.8h0M126.4 116.1h0M125.9 100.2h0M130.8 102.0h0M135.7 118.3h0M129.4 105.6h0M130.4 115.9h0M122.1 103.6h0M135.0 97.1h0M127.0 114.0h0M139.7 100.5h0M121.9 104.0h0M126.3 109.5h0M137.5 108.6h0M124.0 105.9h0M136.3 104.6h0M141.1 104.4h0M136.5 108.9h0M123.9 102.7h0M119.4 102.9h0M139.8 105.6h0M121.1 103.5h0M120.9 111.9h0M127.3 102.5h0M139.9 109.1h0M124.9 102.7h0M141.4 97.4h0M128.8 116.1h0M134.4 107.3h0M141.7 114.8h0M127.9 114.6h0M141.9 107.4h0M139.6 94.7h0M121.9 109.5h0M135.9 97.6h0M119.4 109.0h0M133.8 108.0h0M131.5 96.9h0M130.8 112.1h0M124.0 118.4h0M142.6 110.7h0M129.4 105.9h0M140.6 107.2h0M138.1 103.4h0M128.2 106.5h0M119.5 110.0h0M127.2 94.6h0M121.3 106.6h0M135.6 110.8h0M146.3 107.1h0M130.1 109.0h0M139.8 106.5h0M132.4 112.9h0M131.8 95.1h0M138.5 97.6h0M123.6 100.2h0M117.8 106.0h0M141.6 100.0h0M141.5 109.6h0M141.5 102.5h0M143.4 100.5h0M133.6 115.9h0M118.2 109.2h0M142.6 105.8h0M141.6 103.2h0M130.7 108.0h0M137.1 99.4h0M140.1 106.5h0M122.6 103.1h0M138.7 98.8h0M121.9 105.3h0M118.6 103.3h0M130.1 116.1h0M142.6 103.0h0M140.8 102.6h0M130.3 111.2h0M127.4 105.9h0M131.5 109.9h0M127.1 96.5h0M137.8 114.5h0M140.4 112.6h0M138.8 96.3h0M141.8 99.6h0M133.0 109.7h0M132.0 107.6h0M119.7 100.0h0M133.0 96.3h0M124.7 113.0h0M127.9 94.7h0M130.1 93.9h0M131.9 96.2h0M124.2 110.4h0M131.9 110.2h0M127.6 111.6h0M139.8 107.5h0M124.3 111.6h0M130.3 112.4h0M140.3 107.8h0M138.7 107.4h0M141.5 114.2h0M139.5 110.1h0M132.1 116.0h0M138.4 99.1h0M132.9 115.7h0M133.1 96.6h0M127.4 115.0h0M129.7 97.9h0M132.6 109.8h0M136.6 111.6h0M122.9 101.4h0M122.1 112.7h0M125.6 108.8h0M134.1 94.1h0M122.1 107.1h0M120.5 95.3h0M131.6 100.9h0M129.2 113.4h0M144.2 99.8h0M124.7 111.0h0M125.1 105.3h0M133.6 103.9h0M130.6 91.8h0M127.7 111.6h0M140.6 103.1h0M132.9 98.9h0M133.5 96.2h0M137.7 99.1h0M141.9 111.8h0M133.9 117.6h0M126.4 97.7h0M140.1 100.1h0M129.2 111.8h0M130.1 103.0h0M133.6 94.4h0M121.7 110.5h0M135.0 118.4h0M133.8 94.0h0M129.3 109.2h0M120.3 109.5h0M125.7 113.4h0M130.6 117.8h0M142.6 106.3h0M130.7 97.9h0M144.1 107.4h0M120.9 102.0h0M129.8 118.9h0M125.8 112.2h0M144.5 103.6h0M123.0 106.9h0M133.4 111.8h0M126.5 107.3h0M130.4 99.4h0M136.6 103.8h0M125.1 98.6h0M131.3 108.1h0M118.4 111.0h0M128.7 96.4h0M122.8 115.1h0M131.2 109.6h0M135.6 96.5h0M119.9 110.5h0M130.4 111.0h0M118.9 102.5h0M133.9 94.4h0M131.9 119.2h0M126.0 111.0h0M135.1 109.9h0M122.2 99.5h0M122.3 110.8h0M136.3 95.8h0M135.0 103.2h0M126.7 97.0h0M124.8 102.6h0M133.1 96.9h0M127.7 114.4h0M131.8 112.4h0M118.9 108.6h0M122.6 101.4h0M136.2 94.1h0M137.5 94.3h0M127.7 93.9h0M143.0 108.9h0M144.1 98.1h0M137.5 115.3h0M131.1 102.6h0M131.7 103.8h0M142.0 101.8h0" stroke="#A98CF7" stroke-width="1.3" stroke-linecap="square" fill="none"/>
<path d="M130.1 153.3h0M130.6 164.0h0M134.7 122.3h0M135.2 137.4h0M127.9 163.4h0M121.2 147.0h0M128.3 135.2h0M132.5 122.3h0M131.4 132.6h0M128.9 129.5h0M150.9 153.4h0M148.9 153.1h0M133.4 162.5h0M125.8 152.0h0M121.0 137.1h0M134.9 130.0h0M135.7 154.3h0M131.4 124.8h0M130.9 145.4h0M120.7 144.2h0M144.4 127.3h0M135.1 163.1h0M147.6 159.2h0M133.0 139.9h0M133.2 120.7h0M142.6 131.0h0M128.0 152.1h0M135.0 119.8h0M127.4 124.0h0M116.2 127.9h0M127.7 161.3h0M139.5 154.0h0M143.7 126.7h0M117.8 134.3h0M151.6 149.2h0M122.3 153.9h0M146.1 142.9h0M143.3 132.1h0M131.7 152.8h0M149.0 129.7h0M135.2 148.5h0M137.2 127.1h0M116.3 132.1h0M150.5 145.5h0M123.8 145.7h0M152.8 131.9h0M120.0 131.8h0M130.7 118.3h0M124.6 152.5h0M122.6 128.1h0M135.6 161.9h0M129.2 146.7h0M127.6 153.9h0M126.8 135.3h0M141.8 157.1h0M141.8 162.4h0M132.5 169.9h0M142.2 137.6h0M125.7 154.8h0M141.8 134.8h0M140.3 125.2h0M136.3 145.1h0M153.5 137.3h0M142.2 147.9h0M121.1 135.3h0M149.8 134.2h0M125.0 121.7h0M142.1 138.7h0M132.8 153.8h0M134.5 137.7h0M135.1 124.8h0M129.0 137.1h0M151.8 132.8h0M142.9 147.6h0M131.0 161.3h0M140.9 125.7h0M145.0 124.3h0M136.5 144.0h0M148.8 125.0h0M151.0 128.7h0M146.1 143.2h0M126.3 152.1h0M122.1 160.1h0M148.4 160.6h0M117.1 122.9h0M117.6 140.3h0M140.9 146.2h0M133.6 168.7h0M140.8 161.2h0M124.1 149.2h0M140.6 168.2h0M131.6 128.6h0M123.8 159.8h0M135.5 141.9h0M116.1 131.9h0M128.4 119.7h0M136.7 133.1h0M137.0 119.9h0M123.7 121.2h0M139.6 131.5h0M134.6 153.2h0M132.3 132.8h0M129.3 163.2h0M124.5 159.9h0M135.9 125.9h0M139.3 163.4h0M138.5 164.8h0M146.5 126.0h0M122.8 122.6h0M135.5 118.0h0M135.4 120.6h0M146.2 134.0h0M144.2 128.4h0M116.9 122.8h0M129.0 145.8h0M139.9 149.4h0M120.1 152.8h0M148.5 143.2h0M141.0 138.3h0M119.6 144.1h0M130.2 126.3h0M142.2 134.3h0M129.7 157.4h0M122.1 126.8h0M134.8 142.3h0M150.4 138.2h0M120.5 127.1h0M135.8 119.8h0M144.4 133.6h0M128.9 128.0h0M148.3 133.6h0M147.5 144.6h0M136.1 137.1h0M131.9 157.2h0M146.5 123.8h0M120.3 121.5h0M148.9 147.0h0M132.8 128.7h0M130.2 163.3h0M149.3 134.9h0M149.6 155.7h0M131.3 161.2h0M135.3 151.4h0M137.1 149.8h0M121.9 130.4h0M127.4 124.7h0M138.3 138.6h0M146.6 144.0h0M129.2 135.6h0M122.4 143.7h0M140.0 146.0h0M136.8 126.8h0M136.9 144.3h0M135.9 152.3h0M139.3 131.8h0M142.9 126.5h0M149.8 129.1h0M122.4 126.5h0M126.8 129.4h0M123.1 133.6h0M124.7 141.7h0M128.9 156.6h0M139.0 145.7h0M115.4 127.2h0M146.3 157.2h0M120.8 136.0h0M145.8 136.4h0M129.6 143.0h0M125.0 158.9h0M141.1 129.3h0M133.7 129.0h0M117.2 127.7h0M134.4 135.9h0M121.8 126.6h0M134.2 146.3h0M137.5 134.0h0M141.3 143.5h0M131.1 152.8h0M134.8 122.4h0M124.6 134.9h0M148.3 150.2h0M115.2 125.0h0M147.9 152.3h0M134.6 149.4h0M134.2 120.1h0M118.2 127.9h0M137.5 142.4h0M127.4 124.1h0M120.6 118.5h0M126.4 129.0h0M148.0 123.2h0M132.0 164.5h0M130.2 155.7h0M129.0 118.5h0M137.5 150.0h0M139.9 160.8h0M123.3 145.1h0M124.6 123.1h0M144.5 146.3h0M132.4 123.2h0M131.7 140.0h0M137.3 143.0h0M137.3 155.8h0M135.1 160.7h0M124.6 136.2h0M143.3 144.2h0M128.0 136.8h0M145.0 135.7h0M138.0 125.5h0M143.3 130.0h0M137.6 137.1h0M151.5 148.0h0M116.0 132.3h0M134.4 130.7h0M118.1 132.4h0M128.3 163.5h0M138.4 141.9h0M146.6 153.7h0M127.6 152.2h0M133.7 118.3h0M128.4 158.0h0M145.8 154.4h0M151.2 144.0h0M149.9 144.8h0M140.2 134.4h0M135.1 150.5h0M123.1 133.8h0M132.9 153.9h0M129.3 165.0h0M136.8 123.3h0M137.0 159.7h0M131.7 118.6h0M138.1 123.3h0M136.6 127.9h0M124.4 150.9h0M137.0 146.1h0M139.0 160.1h0M147.6 146.4h0M122.2 162.2h0M147.0 132.3h0M124.4 133.4h0M146.2 132.4h0M145.8 145.4h0M142.9 158.2h0M138.0 124.1h0M139.7 157.9h0M126.4 128.5h0M139.7 133.8h0M133.7 135.1h0M147.2 155.4h0M136.7 143.6h0M143.4 142.2h0M131.1 165.2h0M131.6 128.3h0M143.6 136.6h0M128.1 156.5h0M123.8 156.9h0M120.7 144.4h0M135.8 124.5h0M116.8 133.3h0M128.9 151.7h0M123.5 139.4h0M124.3 165.6h0M133.1 166.5h0M152.2 142.0h0M142.0 137.1h0M143.3 161.1h0M122.7 122.4h0M143.3 137.3h0M145.0 141.2h0M145.6 152.1h0M138.8 141.7h0M146.4 124.3h0M150.9 131.4h0M120.2 136.2h0M147.0 149.3h0M130.7 148.7h0M138.4 144.9h0M145.7 150.0h0M150.5 147.5h0M132.5 166.7h0M138.5 133.9h0M132.9 141.7h0M140.6 136.9h0M150.5 135.2h0M125.2 137.3h0M152.4 135.7h0M115.3 125.5h0M126.9 154.5h0M138.8 125.0h0M146.0 136.1h0M129.6 135.1h0M151.2 142.8h0M122.1 141.6h0M127.1 144.8h0M143.1 131.0h0M145.4 150.0h0M149.6 158.1h0M153.5 143.9h0M131.1 144.0h0M146.0 123.5h0M128.3 152.6h0M152.0 142.1h0M125.8 145.2h0M133.3 166.0h0M145.7 151.8h0M118.9 133.7h0M150.3 147.2h0M138.1 168.7h0M137.5 128.9h0M129.5 132.1h0M116.9 135.8h0M131.5 154.3h0M145.2 158.7h0M144.5 150.8h0M146.3 146.7h0M152.9 150.1h0M123.5 127.2h0M149.4 131.7h0M131.8 120.7h0M147.3 155.9h0M127.9 145.2h0M136.5 142.6h0M138.8 140.1h0M126.8 156.9h0M135.4 145.3h0M136.8 165.7h0M131.0 144.4h0M144.6 137.1h0M129.7 150.4h0M116.6 133.6h0M139.0 152.8h0M122.3 128.8h0M135.5 138.0h0M150.9 130.9h0M132.7 156.8h0M149.5 130.4h0M125.9 124.2h0M132.7 148.8h0M133.0 151.6h0M123.9 138.2h0M133.2 140.6h0M135.2 164.6h0M128.6 128.3h0M122.9 154.5h0M133.5 147.9h0M126.8 138.8h0M144.2 150.5h0M133.5 147.2h0M127.5 142.3h0M121.5 150.8h0M125.0 158.2h0M123.7 156.6h0M123.0 119.9h0M141.3 147.1h0M149.9 157.2h0M129.1 140.2h0M122.9 148.0h0M120.2 130.9h0M122.2 142.1h0M141.8 162.3h0M115.1 142.0h0M132.0 132.9h0M150.7 156.2h0M131.8 159.3h0M122.2 121.6h0M132.1 117.6h0M138.1 129.6h0M138.2 129.6h0M150.7 149.1h0M124.9 124.0h0M150.8 152.8h0M120.3 153.3h0M145.6 127.8h0M141.6 129.8h0M127.9 130.9h0M125.4 133.5h0M133.3 138.9h0M147.3 141.5h0M117.1 129.8h0M145.6 153.8h0M137.4 143.9h0M118.5 140.8h0M118.2 135.7h0M140.2 159.7h0M147.0 147.1h0M141.9 151.5h0M125.5 140.9h0M120.4 156.7h0M132.0 135.1h0M150.5 147.1h0M141.9 128.8h0M147.5 141.9h0M128.3 165.3h0M141.5 157.9h0M137.5 129.7h0M148.0 135.7h0M148.6 158.5h0M122.0 146.2h0M131.9 137.2h0M144.4 132.2h0M149.4 133.7h0M125.6 130.5h0M133.3 134.7h0M137.0 132.2h0M135.0 167.7h0M138.1 146.0h0M122.7 157.6h0M133.6 163.6h0M125.9 121.3h0M146.4 131.7h0M132.2 137.7h0M125.5 127.9h0M121.4 142.3h0M125.3 152.5h0M144.7 151.8h0M139.8 147.3h0M144.7 133.4h0M147.6 127.5h0M141.9 127.6h0M135.6 146.0h0M146.3 148.2h0M124.0 148.4h0M152.1 153.2h0M127.2 144.3h0M120.6 131.8h0M126.9 149.9h0M130.5 166.3h0M136.7 160.1h0M147.5 126.1h0M137.7 134.6h0M136.1 122.9h0M141.4 138.8h0M117.4 132.4h0M128.9 164.8h0M133.4 156.8h0M125.1 160.3h0M118.5 135.6h0M143.8 159.8h0M149.6 136.4h0M139.4 134.9h0M130.0 136.6h0M149.1 132.3h0M118.3 120.6h0M120.1 145.5h0M135.4 137.5h0M134.6 163.1h0M137.3 147.5h0M130.8 148.1h0M135.3 115.6h0M120.2 138.9h0M150.9 137.2h0M145.3 145.2h0M126.8 155.5h0M148.4 155.2h0M132.9 142.6h0M128.5 142.4h0M148.5 151.3h0M129.0 120.7h0M141.5 131.5h0M129.8 122.1h0M121.9 137.8h0M145.5 151.6h0M148.7 134.0h0M138.7 142.9h0M137.1 140.6h0M132.2 139.8h0M135.3 160.5h0M151.3 156.1h0M152.1 136.0h0M149.5 144.1h0M130.2 139.6h0M122.0 145.6h0M125.2 127.3h0M137.9 142.6h0M131.7 122.8h0M143.2 149.5h0M140.4 133.3h0M142.5 154.6h0M136.7 166.5h0M125.5 123.5h0M128.2 153.5h0M138.4 159.1h0M141.6 144.9h0M138.7 146.7h0M115.2 132.3h0M132.1 153.5h0M134.2 156.1h0M134.0 130.6h0M118.4 149.5h0M129.5 123.7h0M124.4 139.3h0M138.0 145.6h0M134.4 141.5h0M135.6 164.2h0M128.3 125.6h0M126.8 165.1h0M123.2 121.3h0M141.7 162.8h0M124.4 139.1h0M142.2 123.3h0M148.1 137.6h0M122.4 123.8h0M131.7 161.0h0M137.0 163.8h0M146.3 155.3h0M132.6 166.9h0M150.2 148.9h0M148.5 142.9h0M134.7 145.6h0M125.5 131.9h0M128.8 120.1h0M118.7 149.3h0M153.1 147.1h0M130.8 147.7h0M124.4 145.0h0M141.3 137.5h0M153.5 151.3h0M139.6 165.7h0M133.1 161.1h0M120.5 128.5h0M136.0 125.4h0M135.5 166.2h0M149.0 139.5h0M137.0 161.0h0M123.8 142.0h0M128.7 116.9h0M138.9 165.3h0M138.6 134.1h0M134.2 155.7h0M139.2 144.7h0M124.1 143.4h0M134.6 159.6h0M128.3 159.0h0M140.0 127.5h0M135.4 144.4h0M124.4 131.2h0M141.1 158.5h0M124.9 149.8h0M137.2 146.4h0M131.7 161.2h0M135.7 159.7h0M136.7 142.5h0M136.4 142.3h0M122.4 147.3h0M124.0 139.1h0M132.2 131.5h0M134.3 163.0h0M135.3 125.0h0M122.0 143.4h0M136.5 137.5h0M152.3 137.6h0M127.7 163.8h0M120.4 144.3h0M131.2 161.4h0M132.1 134.5h0M130.9 153.6h0M148.8 132.9h0M152.2 144.3h0M124.5 120.9h0M122.0 127.9h0M137.6 117.0h0M127.6 137.1h0M120.0 149.5h0M123.9 161.9h0M148.9 139.3h0M138.3 135.8h0M140.2 150.9h0M125.2 126.1h0M133.1 128.8h0M134.8 167.5h0M124.2 146.8h0M146.2 152.0h0M116.5 126.6h0M139.7 160.2h0M126.0 121.4h0M136.7 139.3h0M130.9 144.2h0M116.5 127.8h0M144.8 143.7h0M147.9 148.3h0M123.4 126.5h0M127.7 149.7h0M137.7 155.1h0M147.1 155.6h0M134.7 162.2h0M140.0 125.1h0M135.5 168.7h0M128.2 140.1h0M137.7 123.8h0M137.0 136.3h0M121.6 133.6h0M138.0 132.8h0M126.9 123.7h0M134.4 140.4h0M151.2 147.3h0M127.8 127.8h0M119.3 147.8h0M136.7 120.8h0M119.5 131.2h0M129.7 137.7h0M120.0 136.8h0M130.5 146.7h0M148.6 128.8h0M135.6 126.9h0M125.4 142.1h0M148.2 155.0h0M123.2 151.4h0M119.8 132.5h0M138.5 146.3h0M144.8 133.7h0M125.7 140.7h0M118.4 139.5h0M119.6 142.8h0M136.3 146.3h0M150.8 132.9h0M128.5 152.3h0M132.0 163.7h0M135.0 144.2h0M141.7 117.4h0M136.8 158.6h0M148.0 141.2h0M122.8 146.3h0M120.8 132.0h0M134.6 144.2h0M132.4 146.0h0M146.2 152.5h0M131.1 148.0h0M138.1 141.0h0M124.4 135.8h0M151.6 141.7h0M127.1 147.8h0M138.6 152.9h0M125.9 147.6h0M135.8 155.4h0M136.0 125.0h0M132.6 132.4h0M129.7 137.6h0M140.5 147.8h0M129.7 139.3h0M148.8 140.5h0M137.6 159.8h0M132.5 151.0h0M136.3 132.5h0M149.8 130.3h0M133.6 162.1h0M119.9 141.4h0M136.3 122.1h0M126.4 159.8h0M127.0 137.2h0M137.1 160.6h0M126.9 127.6h0M132.1 122.4h0M136.9 160.3h0M128.6 154.5h0M129.0 123.5h0M137.3 155.5h0M127.0 155.8h0M149.7 142.2h0M138.3 137.8h0M136.7 121.6h0M135.8 122.0h0M141.1 141.8h0M128.9 152.4h0M153.4 153.5h0M143.2 155.6h0M129.6 141.4h0M134.6 150.7h0M116.3 124.1h0M125.9 145.6h0M141.6 126.3h0M136.9 140.4h0M119.8 128.8h0M123.9 128.8h0M149.9 154.4h0M138.5 130.1h0M124.6 147.4h0M124.9 149.2h0M150.0 148.1h0M144.6 148.3h0M133.2 139.4h0M126.6 154.6h0M135.3 157.1h0M124.3 156.7h0M134.6 149.3h0M135.7 122.8h0M147.3 125.8h0M116.3 135.2h0M130.3 135.1h0M142.3 127.1h0M149.1 144.4h0M129.5 167.1h0M126.9 154.1h0M136.2 163.9h0M119.0 133.2h0M115.8 134.5h0M118.4 143.6h0M149.6 134.9h0M125.4 122.1h0M127.5 140.2h0M136.2 153.8h0M118.9 124.0h0M141.0 132.4h0M132.9 153.0h0M133.5 120.1h0M133.8 145.9h0M132.1 138.6h0M145.6 146.0h0M124.7 161.1h0M127.5 128.5h0M135.2 141.3h0M139.0 146.5h0M141.6 143.6h0M126.0 128.6h0M149.3 156.4h0M125.2 148.2h0M132.5 144.5h0M147.5 143.3h0M117.3 126.6h0M122.0 130.1h0M138.6 157.0h0M136.8 163.8h0M138.5 138.7h0M127.9 137.5h0M137.3 127.0h0M134.1 142.8h0M141.8 128.0h0M134.6 124.5h0M128.8 150.9h0M136.4 166.2h0M137.1 137.6h0M140.9 145.1h0M123.5 146.8h0M125.4 154.0h0M139.3 122.4h0M151.4 145.8h0M145.4 147.9h0M145.7 127.5h0M141.3 124.0h0M135.9 128.6h0M125.7 133.6h0M140.5 163.1h0M140.7 146.0h0M123.9 157.0h0M130.4 136.1h0M132.4 154.5h0M149.6 131.5h0M150.5 135.5h0M135.4 163.5h0M140.7 125.1h0M130.0 133.3h0M130.6 150.7h0M143.5 162.4h0M134.7 162.1h0M127.5 131.9h0M134.7 157.5h0M142.6 149.4h0M146.9 122.9h0M141.9 131.5h0M150.4 154.0h0M125.8 119.1h0M150.3 141.3h0M126.5 129.6h0M124.1 142.8h0M152.4 148.4h0M151.0 131.0h0M126.6 126.9h0M124.0 128.5h0M135.0 137.7h0M138.8 124.6h0M138.0 161.2h0M137.8 137.5h0M126.2 162.3h0M140.6 130.3h0M152.7 141.3h0M143.4 144.1h0M138.1 135.4h0M126.1 160.1h0M127.5 143.1h0M139.5 160.0h0M132.5 130.5h0M126.5 164.8h0M114.1 128.4h0M134.4 168.8h0M136.2 142.8h0M134.8 169.3h0M144.5 131.8h0M142.4 160.7h0M133.6 146.8h0M126.2 122.4h0M131.3 125.1h0M135.0 134.1h0M151.6 139.3h0M137.6 159.8h0M126.6 148.4h0M121.6 148.3h0M150.7 129.1h0M144.5 130.4h0M138.7 140.4h0M129.9 165.1h0M139.5 124.8h0M135.9 161.5h0M130.0 118.1h0M128.6 141.8h0M124.5 125.5h0M149.2 137.9h0M148.7 137.7h0M127.1 143.3h0M152.9 154.0h0M150.9 147.9h0M125.4 144.1h0M154.0 144.1h0M132.7 119.1h0M123.9 132.7h0M119.9 135.9h0M150.9 155.1h0M146.1 155.5h0M119.1 135.6h0M138.8 158.5h0M149.0 135.9h0M150.2 161.3h0M132.1 136.0h0M130.8 141.7h0M126.9 148.6h0M127.0 146.1h0M130.0 130.3h0M121.4 150.9h0M131.0 138.5h0M143.6 149.4h0M138.0 164.4h0M141.0 121.4h0M150.1 129.2h0M137.1 144.2h0M141.6 152.0h0M135.0 136.1h0M133.6 163.3h0M135.9 141.9h0M133.3 169.9h0M133.5 123.5h0M136.7 136.9h0M120.1 142.8h0M124.0 135.4h0M153.9 136.9h0M141.1 140.1h0M127.7 118.9h0M130.1 127.5h0M119.1 122.1h0M136.8 120.9h0M136.0 169.2h0M150.1 144.5h0M143.2 122.3h0M122.9 133.5h0M126.7 130.9h0M125.6 136.5h0M153.5 153.0h0M119.8 146.2h0M132.4 137.1h0M118.4 131.8h0M144.2 138.6h0M141.1 130.0h0M142.1 126.3h0M132.5 144.0h0M128.9 128.1h0M137.2 137.2h0M117.2 150.1h0" stroke="#3E8BD5" stroke-width="1.3" stroke-linecap="square" fill="none"/>
<path d="M169.8 146.3h0M166.3 134.7h0M164.0 135.6h0M162.5 135.7h0M168.8 133.8h0M163.6 131.3h0M172.5 147.0h0M169.0 141.3h0M164.9 133.5h0M164.6 136.4h0M156.6 133.4h0M159.3 135.8h0M165.2 140.5h0M158.3 132.6h0M169.6 151.1h0M160.6 142.3h0M169.1 152.8h0M168.2 151.8h0M170.6 143.8h0M161.3 143.9h0M158.0 132.3h0M164.8 140.8h0M165.3 139.3h0M167.2 135.7h0M169.7 137.2h0M160.4 141.6h0M170.1 135.2h0M167.2 140.3h0M166.1 140.4h0M162.8 141.0h0M162.3 135.6h0M164.6 147.5h0M164.4 129.3h0M164.8 145.9h0M168.6 127.6h0M165.1 155.5h0M168.0 145.4h0M167.6 139.5h0M164.8 153.5h0M169.7 136.7h0M167.8 145.1h0M170.6 139.8h0M165.2 147.1h0M156.8 138.7h0M168.0 143.7h0M165.6 140.9h0M164.2 145.9h0M171.5 135.8h0M167.4 133.1h0M160.3 151.0h0M168.8 134.1h0M160.0 131.2h0M164.2 138.6h0M167.0 139.5h0M170.0 141.7h0M166.3 150.0h0M167.2 144.4h0M162.8 132.1h0M162.2 129.8h0M166.1 142.9h0M169.6 142.2h0M155.8 138.9h0M163.4 150.8h0M166.5 141.6h0M164.6 137.9h0M170.6 146.5h0M167.1 147.1h0M168.4 147.6h0M169.6 131.3h0M164.7 133.2h0M169.5 147.7h0M164.3 149.7h0M164.2 130.4h0M161.0 143.8h0M163.8 132.7h0M162.7 134.6h0M162.5 142.2h0M164.6 150.0h0M167.9 137.5h0M169.8 135.2h0M163.8 133.0h0M165.6 132.1h0M163.7 131.5h0M166.1 144.8h0M169.9 130.7h0M164.3 153.8h0M161.0 139.3h0M166.7 143.6h0M162.6 131.6h0M164.7 148.4h0M169.1 146.7h0M166.5 142.4h0M164.2 131.1h0M172.2 146.8h0M160.0 136.6h0M166.4 129.7h0M172.2 143.9h0M163.3 128.9h0M159.7 133.2h0M167.1 131.9h0M166.8 150.8h0M165.4 131.7h0M169.0 139.0h0M166.2 148.4h0M162.4 141.9h0M166.9 155.6h0M164.4 131.1h0M167.9 135.4h0M164.0 133.0h0M164.3 132.0h0M158.6 137.9h0M160.3 133.6h0M159.5 133.4h0M166.3 136.1h0M169.0 138.7h0M160.6 136.1h0M166.5 155.3h0M161.3 130.9h0M163.4 129.7h0M169.7 133.4h0M161.3 145.8h0M168.9 144.0h0M164.8 149.3h0M169.6 151.2h0M166.7 139.3h0M169.5 133.1h0M162.6 143.6h0M169.6 140.9h0M162.4 135.0h0M164.9 151.7h0M166.3 145.6h0M168.0 147.5h0M164.3 142.5h0M169.4 134.2h0M163.2 142.4h0M158.6 133.0h0M163.5 133.2h0M165.1 129.0h0M160.3 130.0h0M170.2 146.7h0M160.5 135.9h0M160.2 140.8h0M167.0 136.0h0M170.3 144.9h0M162.6 138.1h0M169.5 140.1h0M164.5 132.0h0M160.2 137.2h0M166.7 151.1h0M167.0 138.9h0M164.1 132.5h0M169.1 141.0h0M163.8 138.9h0M156.9 136.1h0M166.3 131.0h0M170.2 140.6h0M163.6 156.4h0M163.8 145.8h0M167.1 141.5h0M168.3 146.8h0M166.3 139.1h0M162.7 135.7h0M171.0 142.8h0M168.0 136.1h0M170.2 150.7h0M167.8 131.3h0M164.1 152.3h0M166.1 135.4h0M162.7 147.6h0M171.1 140.7h0M167.5 142.3h0M165.3 134.4h0M162.2 132.0h0M164.1 143.3h0M166.0 152.7h0M167.4 150.5h0M166.1 149.8h0M162.3 131.8h0M163.2 153.4h0M168.7 141.3h0M171.7 144.6h0" stroke="#5559B1" stroke-width="1.3" stroke-linecap="square" fill="none"/>
<path d="M189.4 156.3h0M174.4 150.3h0M191.3 137.3h0M179.1 140.3h0M194.6 141.2h0M188.1 136.2h0M182.0 161.2h0M186.2 151.7h0M191.1 145.0h0M186.6 149.4h0M178.4 139.4h0M177.7 162.1h0M182.0 150.6h0M173.4 152.7h0M189.6 139.8h0M173.4 161.6h0M192.6 150.9h0M183.2 142.1h0M191.6 149.2h0M174.6 158.9h0M181.1 144.0h0M195.0 151.9h0M187.3 149.3h0M180.3 152.6h0M196.3 147.7h0M187.6 141.5h0M183.7 164.3h0M175.0 152.5h0M173.0 154.3h0M191.4 147.1h0M179.2 161.7h0M178.7 158.0h0M179.9 155.8h0M173.6 154.6h0M179.4 150.8h0M192.5 147.7h0M173.0 143.1h0M183.1 149.9h0M181.8 158.3h0M175.6 148.5h0M185.6 146.7h0M171.5 149.4h0M177.4 158.9h0M180.5 138.6h0M180.1 156.4h0M182.1 134.3h0M183.3 150.7h0M177.6 159.9h0M181.9 150.3h0M180.1 143.4h0M183.1 163.2h0M179.0 151.3h0M193.3 140.3h0M178.0 145.5h0M181.2 148.8h0M195.3 139.2h0M178.5 158.5h0M180.9 162.1h0M183.7 148.3h0M176.5 138.0h0M175.0 149.7h0M181.5 158.9h0M188.0 137.3h0M178.5 163.5h0M175.7 137.4h0M172.5 148.9h0M177.2 144.1h0M177.2 162.4h0M194.2 148.3h0M182.5 165.3h0M171.5 163.2h0M187.8 154.6h0M176.1 143.9h0M176.6 152.2h0M176.3 142.6h0M185.1 143.0h0M175.4 143.7h0M190.1 153.0h0M188.3 150.6h0M182.0 154.6h0M180.7 164.0h0M180.4 157.0h0M185.2 163.0h0M178.4 162.3h0M177.4 141.3h0M190.8 157.7h0M186.9 143.8h0M176.8 145.1h0M175.3 164.9h0M189.4 161.8h0M190.2 157.6h0M183.1 166.3h0M190.5 140.7h0M172.3 162.1h0M182.9 146.2h0M189.0 154.7h0M194.7 150.3h0M184.3 154.8h0M171.6 151.1h0M192.4 152.5h0M191.6 149.5h0M190.2 141.6h0M192.0 152.7h0M175.0 164.6h0M182.2 148.9h0M179.6 146.0h0M171.5 148.3h0M189.4 159.4h0M176.2 153.7h0M194.9 145.3h0M183.9 139.3h0M175.5 152.4h0M192.8 141.0h0M173.1 165.7h0M194.7 151.5h0M178.3 160.6h0M188.8 157.1h0M174.1 154.4h0M187.0 150.0h0M185.0 156.8h0M178.3 153.3h0M177.8 164.2h0M180.3 139.8h0M183.9 156.4h0M196.1 157.4h0M187.3 143.3h0M190.6 155.7h0M178.7 167.2h0M191.6 146.1h0M186.9 163.3h0M190.1 150.9h0M173.6 162.7h0M188.9 146.4h0M189.7 156.9h0M175.4 146.9h0M177.3 162.7h0M191.6 144.5h0M178.1 144.2h0M184.8 158.9h0M176.5 141.1h0M175.1 161.7h0M185.0 151.7h0M181.5 164.9h0M170.4 151.0h0M180.3 149.7h0M191.6 141.9h0M195.1 152.2h0M189.3 156.6h0M178.2 152.4h0M183.0 164.0h0M179.8 156.1h0M184.4 137.7h0M189.3 159.8h0M174.7 155.3h0M190.3 141.1h0M185.8 145.4h0M179.6 138.3h0M182.9 149.4h0M175.8 163.6h0M174.7 150.1h0M193.3 145.3h0M179.9 141.2h0M182.5 167.6h0M176.5 162.6h0M177.7 165.5h0M191.5 149.9h0M177.3 157.9h0M180.7 157.0h0M193.5 154.4h0M187.7 135.6h0M179.6 153.9h0M177.6 153.5h0M186.9 150.9h0M188.7 163.3h0M196.5 147.9h0M179.0 141.6h0M176.2 141.6h0M180.8 141.5h0M189.2 159.1h0M174.6 161.6h0M188.6 156.1h0M191.7 159.7h0M193.1 147.5h0M193.6 147.7h0M174.2 160.5h0M184.3 145.3h0M188.5 143.0h0M188.1 140.0h0M187.5 137.4h0M185.6 161.3h0M181.5 140.7h0M187.1 137.5h0M186.7 145.2h0M191.0 156.6h0M176.4 161.5h0M194.3 158.2h0M181.9 159.2h0M171.9 143.5h0M179.8 148.5h0M199.0 147.1h0M176.1 135.3h0M173.8 148.7h0M185.6 163.2h0M181.3 154.1h0M176.9 158.8h0M182.1 162.4h0M192.3 147.2h0M170.9 159.8h0M178.7 152.1h0M187.7 148.6h0M174.4 157.9h0M172.5 159.9h0M171.2 144.1h0M178.1 160.3h0M194.0 150.2h0M194.2 148.6h0M190.0 144.4h0M184.8 158.0h0M173.9 143.6h0M180.1 156.1h0M189.2 157.8h0M184.9 139.9h0M176.4 156.4h0M191.5 153.8h0M191.4 140.1h0M186.3 140.8h0M176.8 141.5h0M179.2 140.4h0M176.8 142.9h0M177.8 140.8h0M180.7 162.6h0M175.5 163.2h0M195.6 153.8h0M188.3 140.8h0M191.6 149.0h0M191.2 153.6h0M194.2 153.4h0M180.9 145.8h0M179.6 141.7h0M186.0 158.6h0M190.3 144.0h0M169.3 145.3h0M179.2 142.0h0M196.8 152.0h0M183.4 149.7h0M176.1 146.4h0M185.3 158.6h0M185.0 154.1h0M174.3 157.3h0M179.2 159.0h0M191.8 156.4h0M192.2 154.1h0M179.9 142.6h0M178.1 156.0h0M188.8 143.7h0M189.6 152.4h0M186.8 139.1h0M182.7 154.4h0M176.0 140.8h0M175.5 148.0h0M173.0 143.9h0M186.7 153.3h0M176.0 158.2h0M182.7 137.4h0M172.1 148.7h0M183.1 143.0h0M177.7 143.3h0M179.5 157.7h0M182.6 157.4h0M177.8 143.6h0M193.2 145.8h0M180.6 158.2h0M181.1 163.1h0M178.6 152.6h0M172.7 158.7h0M189.0 152.7h0M185.4 164.6h0M185.7 142.1h0M183.5 149.0h0M180.6 137.1h0M181.5 150.7h0M188.4 159.5h0M177.9 165.1h0M187.5 153.8h0M180.3 155.0h0M179.8 139.9h0M194.2 151.1h0M187.2 156.9h0M179.4 154.7h0M175.7 142.3h0M185.7 153.6h0M183.2 144.0h0M168.9 144.5h0M185.0 162.7h0M191.8 146.0h0M170.6 151.9h0M184.8 157.6h0M179.5 151.6h0M181.3 149.7h0M190.4 140.6h0M178.0 140.7h0M176.8 145.7h0M177.7 158.2h0M188.5 152.7h0M187.2 143.9h0M191.4 156.2h0M176.0 141.8h0M192.7 159.1h0M184.4 163.4h0M177.0 140.4h0M179.9 154.4h0M195.7 152.0h0M187.6 160.7h0M174.3 154.9h0M187.4 145.1h0M181.1 146.6h0M183.9 166.2h0M184.7 164.0h0M186.0 150.4h0M194.9 148.6h0M184.1 156.1h0M177.6 157.4h0M190.9 143.7h0M192.3 145.1h0M190.4 149.6h0M185.7 149.3h0M176.8 163.6h0M197.7 153.3h0M191.8 157.0h0M180.8 141.6h0M182.0 140.9h0M172.8 144.3h0M172.6 147.7h0M190.0 153.5h0M175.3 163.8h0M190.0 155.7h0M179.5 141.2h0M184.9 161.3h0M191.2 157.1h0M181.1 154.5h0M183.5 163.3h0M183.8 160.6h0M181.1 163.3h0M177.3 155.9h0M179.9 155.8h0M182.6 165.7h0M184.4 160.7h0M181.1 158.6h0M173.7 161.4h0M170.7 155.5h0M177.0 167.3h0M188.3 154.0h0M195.8 144.1h0M192.9 145.5h0M192.5 142.0h0M195.8 146.2h0M190.5 156.8h0M179.2 144.7h0M173.8 148.8h0M181.3 137.5h0M179.9 155.6h0M183.5 162.7h0M179.3 157.9h0M181.0 143.4h0M177.8 147.1h0M181.7 152.3h0M188.8 157.5h0M172.4 159.2h0M176.0 145.0h0M179.8 147.9h0M172.6 155.4h0M215.7 114.8h0M218.1 113.0h0M198.7 159.0h0M206.2 139.9h0M227.0 140.0h0M235.0 138.4h0M222.7 131.0h0M209.7 152.8h0M210.4 135.2h0M216.9 152.6h0M221.0 109.1h0M209.3 141.6h0M205.5 150.6h0M228.4 155.1h0M223.7 118.7h0M230.2 139.0h0M221.4 133.4h0M206.5 149.1h0M202.8 146.6h0M224.3 144.9h0M219.3 133.2h0M229.8 154.3h0M231.8 123.8h0M205.3 163.3h0M203.3 151.0h0M202.0 149.8h0M204.5 135.6h0M206.5 144.9h0M225.6 157.2h0M217.0 114.9h0M207.8 161.7h0M218.3 137.3h0M215.8 118.9h0M232.2 136.0h0M225.4 118.0h0M216.6 119.4h0M226.7 159.9h0M205.1 149.4h0M216.0 161.3h0M222.6 156.3h0M228.7 126.1h0M235.7 151.4h0M217.9 137.1h0M235.6 140.4h0M216.9 117.4h0M205.3 151.7h0M209.8 142.8h0M212.7 138.4h0M212.5 131.0h0M231.1 141.7h0M219.1 159.1h0M219.9 155.9h0M230.0 137.0h0M225.0 136.9h0M230.4 131.6h0M226.6 127.5h0M198.4 160.8h0M216.2 129.9h0M216.6 156.7h0M220.0 149.3h0M212.7 169.1h0M210.0 160.0h0M226.6 133.5h0M210.4 142.0h0M226.6 129.2h0M230.2 158.0h0M207.0 139.3h0M207.3 133.5h0M208.4 149.0h0M208.9 137.9h0M209.3 135.9h0M208.7 125.0h0M199.0 148.4h0M205.2 150.4h0M232.9 140.6h0M216.0 150.8h0M213.7 146.8h0M207.7 129.8h0M220.3 148.2h0M231.9 143.2h0M218.1 153.1h0M231.9 149.7h0M225.3 136.5h0M232.1 151.5h0M213.1 164.9h0M203.3 152.0h0M231.3 123.7h0M219.5 147.4h0M232.3 123.8h0M212.7 142.1h0M202.9 162.8h0M206.5 156.6h0M215.9 117.5h0M200.6 157.0h0M221.1 153.2h0M221.9 132.9h0M230.0 145.0h0M221.3 148.5h0M227.9 115.7h0M224.2 127.2h0M226.2 156.2h0M210.4 122.6h0M218.9 128.5h0M211.0 127.4h0M208.9 138.6h0M232.9 128.1h0M212.6 127.6h0M217.5 134.4h0M215.7 142.4h0M224.8 138.1h0M214.4 163.1h0M202.5 147.4h0M217.3 121.3h0M213.7 144.8h0M205.4 155.7h0M227.8 118.7h0M219.0 117.8h0M210.2 120.1h0M222.9 136.0h0M225.5 131.3h0M222.0 159.7h0M203.1 161.9h0M203.4 151.4h0M228.8 118.5h0M205.0 125.2h0M227.0 125.6h0M219.2 147.4h0M210.6 121.6h0M228.9 141.0h0M219.2 152.9h0M224.9 158.5h0M211.0 166.0h0M215.6 157.3h0M216.1 152.2h0M210.0 134.5h0M214.3 146.6h0M231.4 119.2h0M203.7 149.0h0M222.2 138.5h0M223.4 120.7h0M218.7 130.9h0M223.1 117.8h0M207.5 137.4h0M217.8 110.8h0M207.9 132.4h0M218.9 136.8h0M231.4 123.2h0M216.7 144.7h0M206.8 138.3h0M205.9 141.6h0M217.3 137.1h0M208.5 159.4h0M219.7 132.0h0M212.3 129.7h0M199.8 153.9h0M217.0 132.4h0M218.0 132.3h0M222.2 160.2h0M230.1 156.5h0M217.2 112.3h0M211.8 118.5h0M210.6 158.6h0M209.5 157.8h0M205.9 143.9h0M218.8 117.5h0M207.7 138.8h0M230.8 127.6h0M223.4 158.9h0M211.0 143.6h0M227.1 138.7h0M220.9 155.6h0M217.1 110.6h0M203.2 160.2h0M221.8 144.2h0M232.2 137.6h0M220.8 119.4h0M210.8 153.0h0M223.0 147.7h0M230.7 131.0h0M205.2 150.3h0M211.6 151.6h0M225.7 134.8h0M205.4 148.1h0M229.3 129.8h0M219.3 144.4h0M208.0 121.6h0M226.1 136.1h0M216.4 125.2h0M219.7 122.7h0M200.4 147.2h0M226.1 141.0h0M223.5 115.6h0M233.4 122.9h0M207.3 130.1h0M224.8 118.9h0M218.6 156.7h0M207.1 165.1h0M201.8 163.7h0M216.0 148.9h0M217.1 118.8h0M224.1 130.5h0M202.0 162.9h0M223.7 141.7h0M217.5 147.4h0M217.8 145.4h0M209.6 148.9h0M231.8 146.8h0M235.8 131.8h0M220.7 141.1h0M213.6 147.3h0M238.3 144.3h0M222.3 155.1h0M200.1 145.0h0M204.2 138.9h0M230.9 143.0h0M228.4 155.4h0M226.2 129.1h0M213.3 133.2h0M217.3 144.0h0M209.3 139.8h0M196.9 156.1h0M213.5 141.1h0M237.0 128.7h0M203.9 144.6h0M226.8 127.6h0M222.8 154.9h0M229.4 127.6h0M219.2 128.9h0M226.4 135.7h0M215.1 132.8h0M228.4 146.8h0M217.2 140.8h0M205.3 135.8h0M226.7 113.2h0M213.5 118.8h0M219.3 108.6h0M225.6 120.1h0M206.9 148.3h0M204.7 151.0h0M222.0 139.9h0M226.3 118.8h0M198.5 150.6h0M209.5 124.8h0M207.1 165.4h0M213.7 120.4h0M234.1 132.9h0M232.8 131.8h0M202.2 145.8h0M219.6 135.1h0M207.7 160.5h0M220.2 147.2h0M228.4 143.2h0M221.4 162.3h0M213.4 147.6h0M213.1 117.5h0M214.3 123.2h0M221.0 136.6h0M228.8 126.4h0M231.5 137.4h0M213.3 119.3h0M209.3 124.2h0M207.4 158.8h0M229.3 148.2h0M207.5 132.2h0M219.3 161.4h0M226.3 137.9h0M206.8 136.8h0M218.2 137.0h0M235.3 144.4h0M200.7 144.9h0M223.9 139.8h0M219.2 139.1h0M210.8 137.0h0M224.2 158.1h0M235.8 125.0h0M212.4 151.0h0M200.1 147.0h0M208.0 155.4h0M205.1 153.9h0M216.8 115.9h0M212.8 117.7h0M224.6 136.0h0M212.3 157.6h0M206.1 143.2h0M232.2 148.2h0M210.6 143.2h0M205.5 157.1h0M209.7 164.3h0M230.6 124.2h0M210.8 162.1h0M212.4 113.4h0M206.8 130.7h0M217.8 116.9h0M223.3 123.2h0M200.8 156.2h0M214.4 158.1h0M216.8 138.4h0M229.1 128.7h0M218.2 149.1h0M221.9 151.3h0M212.3 114.0h0M210.6 136.1h0M229.2 137.0h0M227.7 130.3h0M225.7 157.9h0M214.1 121.0h0M209.8 141.4h0M217.6 156.3h0M218.1 127.0h0M226.6 135.1h0M221.5 111.2h0M221.3 135.5h0M210.2 145.2h0M232.2 137.2h0M228.1 147.6h0M203.8 136.0h0M225.6 116.6h0M208.0 149.8h0M220.2 144.8h0M214.7 118.0h0M223.5 126.2h0M206.8 140.0h0M211.9 131.8h0M229.1 149.6h0M212.7 125.1h0M223.5 122.2h0M209.8 150.3h0M206.7 130.9h0M204.1 157.5h0M220.3 152.7h0M226.0 116.6h0M221.4 137.6h0M212.9 141.9h0M220.0 146.5h0M205.8 159.6h0M228.3 138.0h0M209.4 157.3h0M201.5 148.1h0M232.3 139.7h0M220.6 151.4h0M219.1 147.2h0M223.2 139.8h0M217.7 108.5h0M205.0 144.2h0M226.4 128.5h0M219.4 114.6h0M213.6 153.8h0M202.7 155.5h0M208.3 127.0h0M207.2 151.6h0M214.9 110.5h0M208.0 126.8h0M230.8 137.9h0M220.5 161.3h0M204.7 138.5h0M219.3 140.6h0M226.1 121.8h0M219.3 143.3h0M198.6 155.9h0M228.5 129.2h0M209.6 166.2h0M233.0 141.8h0M220.8 141.8h0M214.8 144.7h0M211.0 147.8h0M217.1 150.1h0M219.2 130.2h0M235.3 138.1h0M204.4 151.3h0M224.4 137.7h0M200.0 150.8h0M208.2 120.3h0M218.4 134.0h0M223.2 145.2h0M222.6 142.4h0M208.3 121.8h0M218.2 119.8h0M218.8 159.3h0M230.0 140.8h0M213.0 133.8h0M219.8 153.2h0M218.3 134.6h0M230.7 131.0h0M226.0 123.1h0M210.2 115.0h0M233.7 155.7h0M211.3 131.8h0M220.6 139.6h0M230.5 153.6h0M218.4 130.7h0M219.8 113.3h0M221.9 132.9h0M219.7 123.2h0M197.8 154.2h0M220.3 150.1h0M237.1 130.7h0M225.1 135.7h0M206.7 161.4h0M232.3 124.8h0M216.4 138.1h0M204.3 137.5h0M214.2 163.4h0M213.5 142.0h0M213.8 136.7h0M202.9 161.2h0M221.5 161.2h0M222.4 137.4h0M231.1 115.4h0M219.3 125.0h0M211.8 120.8h0M207.1 128.9h0M211.5 162.9h0M224.2 128.9h0M215.6 116.5h0M223.2 144.5h0M204.1 157.2h0M212.5 142.3h0M216.3 122.8h0M232.0 121.5h0M199.2 150.3h0M209.8 142.1h0M208.9 121.5h0M213.3 140.3h0M211.3 146.8h0M216.5 114.2h0M224.8 154.6h0M221.8 151.0h0M215.0 120.6h0M214.2 112.9h0M224.8 139.4h0M224.4 142.2h0M219.9 125.7h0M204.0 158.8h0M219.2 159.7h0M229.9 144.1h0M233.9 148.2h0M199.1 158.4h0M231.8 142.0h0M211.9 146.2h0M232.6 142.6h0M205.5 159.3h0M209.2 162.0h0M219.4 136.9h0M217.2 147.1h0M204.6 160.8h0M228.3 153.1h0M219.9 147.3h0M212.9 129.2h0M226.8 136.5h0M230.3 148.1h0M224.4 141.3h0M211.5 130.4h0M229.3 114.6h0M211.5 123.6h0M213.2 155.3h0M228.5 156.1h0M200.4 159.7h0M208.0 143.9h0M208.4 150.6h0M217.3 116.6h0M207.2 143.2h0M215.5 163.5h0M226.0 124.8h0M222.1 141.0h0M214.6 142.8h0M212.1 142.5h0M204.4 135.2h0M221.5 120.5h0M229.1 136.3h0M214.3 158.6h0M220.3 143.4h0M214.6 128.2h0M226.9 121.5h0M200.4 150.5h0M228.5 144.1h0M231.2 119.0h0M231.7 126.9h0M227.6 138.4h0M224.7 139.5h0M202.6 157.9h0M215.4 160.1h0M220.6 126.5h0M219.2 139.2h0M207.5 151.8h0M225.0 123.4h0M212.0 159.1h0M222.1 131.9h0M208.8 156.3h0M235.8 137.8h0M219.6 112.3h0M228.5 115.2h0M226.0 154.1h0M236.8 143.2h0M227.1 133.1h0M232.1 139.6h0M215.0 163.5h0M229.4 148.5h0M221.9 124.2h0M212.4 124.1h0M227.0 133.7h0M204.2 145.9h0M223.9 145.7h0M220.0 121.2h0M226.5 148.3h0M227.0 113.2h0M227.7 123.8h0M207.2 130.6h0M203.1 146.8h0M202.0 157.4h0M206.5 134.2h0M198.9 151.0h0M221.7 112.2h0M201.4 157.1h0M211.0 125.4h0M210.3 161.7h0M222.1 150.9h0M199.7 146.3h0M232.1 157.0h0M222.2 130.1h0M220.2 119.3h0M203.4 147.5h0M219.0 111.1h0M196.6 155.0h0M228.2 130.5h0M208.3 153.9h0M204.3 118.9h0M210.3 152.3h0M220.5 120.0h0M220.0 136.4h0M199.4 159.6h0M226.5 121.4h0M234.1 145.6h0M215.7 142.0h0M204.3 158.5h0M203.3 154.1h0M220.8 156.9h0M229.4 135.3h0M220.1 121.7h0M214.8 146.2h0M221.7 141.2h0M221.5 124.6h0M225.2 121.2h0M231.7 145.7h0M211.3 114.4h0M208.6 150.0h0M227.6 148.3h0M222.8 130.4h0M221.3 161.2h0M223.7 139.4h0M216.1 136.9h0M215.7 114.0h0M214.3 147.2h0M213.6 117.9h0M211.1 166.2h0M216.4 129.5h0M216.9 147.9h0M224.4 150.1h0M217.4 136.8h0M220.1 124.6h0M204.6 148.1h0M231.4 135.1h0M214.7 155.7h0M208.1 147.5h0M212.1 121.4h0M217.2 131.8h0M201.4 145.7h0M228.8 140.3h0M236.4 126.8h0M227.3 118.2h0M215.0 128.8h0M205.0 159.4h0M209.9 141.7h0M214.5 122.6h0M207.9 142.5h0M232.0 137.5h0M224.3 122.1h0M235.8 137.7h0M208.3 120.0h0M208.2 150.4h0M220.1 130.7h0M210.2 158.3h0M211.1 120.9h0M204.3 147.0h0M234.1 151.1h0M206.0 125.9h0M217.8 135.0h0M218.9 158.9h0M211.5 150.4h0M219.0 137.2h0M208.5 133.1h0M216.9 155.8h0M210.7 146.0h0M207.5 150.7h0M209.0 130.0h0M210.3 138.2h0M219.1 160.5h0M206.9 161.1h0M207.4 141.5h0M231.5 142.7h0M225.8 110.8h0M232.7 141.9h0M221.5 149.1h0M207.0 125.9h0M213.7 120.5h0M204.8 141.1h0M215.6 138.2h0M200.8 152.9h0M211.9 160.0h0M226.8 127.1h0M224.7 122.2h0M206.1 161.4h0M216.7 133.4h0M218.4 131.8h0M213.1 129.5h0M204.9 135.9h0M208.6 137.9h0M212.1 147.5h0M227.5 122.6h0M226.7 120.6h0M206.9 136.2h0M223.3 157.3h0M207.6 127.5h0M208.9 132.4h0M231.5 123.6h0M223.2 127.4h0M233.3 146.2h0M202.1 143.5h0M230.2 120.2h0M233.9 132.3h0M210.5 154.0h0M208.0 165.2h0M208.0 167.4h0M223.7 137.0h0M204.2 131.0h0M216.2 150.3h0M215.8 152.4h0M229.1 131.1h0M233.6 138.8h0M232.9 121.6h0M208.1 151.7h0M216.0 120.5h0M208.7 147.2h0M216.1 141.9h0M215.9 123.9h0M221.9 163.0h0M213.5 119.7h0M212.0 120.1h0M234.8 129.4h0M220.6 156.0h0M214.2 122.5h0M216.3 117.6h0M222.3 135.9h0M232.9 137.3h0M219.0 139.1h0M224.8 157.6h0M203.5 142.1h0M229.8 122.1h0M222.4 115.7h0M231.8 129.8h0M206.7 142.4h0M227.5 115.7h0M233.0 135.5h0M215.6 118.0h0M206.2 126.0h0M228.1 134.0h0M215.8 120.8h0M210.7 159.7h0M230.4 128.1h0M198.6 155.5h0M232.4 149.0h0M213.1 120.6h0M227.1 149.7h0M222.4 144.4h0M202.2 151.7h0M210.3 137.3h0M229.1 139.2h0M218.7 122.1h0M216.9 160.0h0M210.2 153.8h0M225.4 114.4h0M232.9 137.2h0M229.3 144.9h0M215.6 159.7h0M211.1 158.5h0M214.0 138.1h0M227.5 126.5h0M205.8 152.0h0M228.8 134.7h0M221.0 113.7h0M217.0 120.2h0M229.2 127.7h0M233.9 132.0h0M228.6 139.6h0M214.6 114.1h0M224.3 117.0h0M201.7 160.1h0M219.8 120.3h0M228.7 144.1h0M214.0 147.0h0M213.7 165.7h0M204.4 137.1h0M210.5 115.8h0M207.0 160.1h0M205.7 141.7h0M227.8 144.8h0M213.3 156.8h0M206.9 158.4h0M217.8 116.7h0M212.3 145.4h0M216.9 158.4h0M224.5 149.8h0M207.7 133.8h0M210.4 161.1h0M229.2 125.3h0M210.5 145.5h0M207.7 137.4h0M223.0 134.9h0M228.1 123.1h0M232.5 153.9h0M199.0 154.3h0M227.3 128.0h0M224.9 147.5h0M207.7 154.8h0M216.9 127.1h0M210.9 148.5h0M212.6 119.4h0M210.6 155.7h0M216.1 124.2h0M224.2 137.1h0M227.5 152.3h0M220.0 124.1h0M208.6 156.1h0M216.9 153.9h0M215.0 132.3h0M219.0 149.8h0M225.4 153.7h0M204.3 133.4h0M224.2 134.8h0M214.0 116.6h0M214.1 158.9h0M231.1 145.1h0M208.4 146.2h0M214.5 138.6h0M219.8 150.8h0M205.2 161.3h0M213.0 154.3h0M208.2 159.4h0M210.9 117.8h0M215.2 134.4h0M232.9 146.4h0M217.1 114.5h0M223.8 147.4h0M215.9 123.3h0M225.1 113.0h0M232.0 129.3h0M205.9 139.7h0M220.8 121.9h0M213.3 117.8h0M233.6 127.6h0M222.2 156.7h0M216.9 146.2h0M208.3 131.4h0M233.6 148.9h0M215.2 132.5h0M210.6 142.3h0M216.1 118.1h0M230.8 129.9h0M213.0 144.7h0M216.6 161.5h0M209.0 152.5h0M211.8 127.7h0M231.4 135.8h0M216.7 134.8h0M216.6 121.0h0M213.6 147.4h0M224.4 150.6h0M217.0 147.0h0M222.6 111.1h0M221.3 138.4h0M229.9 139.2h0M202.7 141.9h0M233.5 152.4h0M208.0 149.7h0M215.0 162.3h0M227.4 138.0h0M214.7 130.0h0M213.1 160.9h0M219.1 150.1h0M227.2 140.9h0M215.0 129.6h0M216.2 152.2h0M208.5 153.2h0M223.2 133.6h0M225.4 136.7h0M223.4 154.8h0M219.3 150.9h0M215.9 153.3h0M223.1 160.7h0M204.8 134.7h0M231.8 143.2h0M233.5 142.4h0M222.8 158.2h0M202.9 162.0h0M219.7 122.1h0M215.6 152.9h0M212.7 144.9h0M201.4 151.8h0M208.4 136.2h0M219.3 145.7h0M219.0 125.8h0M213.9 157.2h0M214.3 132.1h0M204.0 145.7h0M209.3 160.3h0M223.5 133.2h0M223.0 164.1h0M204.8 144.9h0M215.1 158.0h0M203.6 146.1h0M213.0 156.2h0M220.1 141.5h0M221.1 125.3h0M196.4 158.7h0M222.2 116.1h0M223.7 151.8h0M218.2 144.9h0M222.6 144.5h0M210.5 144.8h0M214.6 163.0h0M220.9 134.0h0M233.7 141.9h0M212.8 156.6h0M233.1 138.3h0M212.0 157.9h0M204.7 138.8h0M223.1 132.1h0M224.6 130.6h0M223.0 130.4h0M210.2 156.2h0M227.2 144.8h0M224.5 163.0h0M221.2 130.8h0M232.8 125.5h0M200.3 140.1h0M211.5 154.4h0M222.4 149.1h0M223.5 142.6h0M209.9 166.7h0M214.8 145.1h0M224.7 156.8h0M220.5 118.1h0M218.5 115.8h0M220.5 147.6h0M228.1 137.9h0M221.3 123.1h0M212.9 162.9h0M221.9 142.3h0M216.0 115.0h0M216.3 115.1h0M212.0 140.7h0M201.0 152.1h0M210.8 155.0h0M200.9 150.5h0M215.6 133.8h0M226.6 145.6h0M215.2 160.9h0M222.9 119.0h0M214.5 115.4h0M206.4 138.5h0M220.6 119.0h0M217.0 166.5h0M214.1 112.3h0M234.8 134.7h0M209.3 163.8h0M230.7 132.2h0M209.7 118.3h0M203.6 149.2h0M210.3 137.0h0M208.6 148.7h0M218.2 152.8h0M213.6 136.4h0M215.4 143.5h0M219.6 140.6h0M227.4 150.6h0M204.2 166.3h0M224.4 140.1h0M208.6 157.0h0M223.0 121.8h0M210.7 147.7h0M217.5 162.5h0M210.7 147.0h0M212.6 157.0h0M207.7 125.7h0M209.8 145.1h0M230.3 151.3h0M203.9 140.7h0M211.7 139.6h0M228.2 126.6h0M218.7 134.7h0M223.6 160.0h0M217.2 139.7h0M234.6 132.4h0M226.2 119.3h0M215.1 136.8h0M219.6 140.1h0M212.3 133.0h0M227.6 124.2h0M216.4 141.3h0M226.6 140.5h0M212.9 156.7h0M234.5 129.9h0M209.6 148.1h0M230.7 142.7h0M201.4 151.2h0M228.4 154.8h0M201.9 137.0h0M218.4 124.3h0M224.0 148.8h0M217.6 141.6h0M205.3 132.0h0M238.4 140.2h0M209.8 165.4h0M220.9 115.6h0M208.7 134.1h0M231.3 133.7h0M227.9 128.2h0M200.5 144.3h0M220.7 111.7h0M227.8 145.2h0M223.1 157.1h0M214.2 162.6h0M212.2 153.3h0M216.8 130.0h0M228.9 154.4h0M201.6 156.7h0M222.4 113.6h0M214.9 116.6h0" stroke="#C59B0B" stroke-width="1.3" stroke-linecap="square" fill="none"/>
<path d="M186.1 117.6h0M186.9 123.0h0M189.0 110.3h0M187.9 127.6h0M179.0 128.4h0M185.8 132.2h0M201.5 128.5h0M177.5 127.5h0M193.9 113.5h0M204.2 118.2h0M184.1 121.4h0M180.0 130.1h0M190.2 114.7h0M196.7 124.2h0M188.2 113.7h0M182.7 128.6h0M183.7 129.0h0M192.5 132.3h0M196.1 132.3h0M186.1 133.1h0M184.1 116.1h0M180.9 121.5h0M193.9 126.4h0M181.2 123.4h0M185.3 124.4h0M191.5 121.6h0M196.8 113.4h0M186.3 132.1h0M184.0 120.1h0M187.3 130.8h0M199.0 122.2h0M182.7 124.0h0M194.7 127.6h0M178.4 117.2h0M195.3 113.4h0M181.1 124.1h0M174.7 116.7h0M191.3 113.3h0M191.3 127.0h0M176.9 115.9h0M185.7 117.5h0M193.2 121.2h0M196.7 128.4h0M198.8 120.5h0M199.8 132.6h0M183.9 116.0h0M191.6 113.3h0M195.9 117.5h0M191.8 124.9h0M199.5 124.9h0M197.6 113.8h0M198.3 125.3h0M182.4 129.4h0M187.8 126.7h0M181.6 128.2h0M175.1 117.1h0M183.4 118.8h0M194.8 124.5h0M202.1 124.3h0M196.7 114.9h0M201.2 125.5h0M195.1 112.5h0M196.9 128.2h0M204.3 115.3h0M202.0 117.2h0M193.5 126.1h0M189.7 118.7h0M181.9 124.0h0M186.4 113.1h0M184.3 123.7h0M188.9 118.7h0M183.6 125.3h0M202.2 117.0h0M185.2 128.8h0M190.7 123.0h0M190.2 118.2h0M194.0 131.5h0M197.5 122.8h0M193.1 113.8h0M185.3 127.4h0M186.3 127.2h0M189.6 120.5h0M193.3 132.0h0M201.0 125.9h0M183.9 130.6h0M187.3 117.8h0M200.1 119.8h0M183.9 112.6h0M191.0 113.8h0M195.0 118.1h0M183.8 130.4h0M200.9 128.2h0M193.7 127.1h0M196.8 125.4h0M198.6 122.7h0M193.8 132.2h0M183.2 128.4h0M200.4 119.4h0M199.3 123.1h0M186.9 133.2h0M193.5 115.6h0M189.2 114.3h0M188.6 119.6h0M182.5 123.1h0M186.1 116.0h0M194.5 130.2h0M180.3 125.9h0M183.1 129.1h0M199.7 114.3h0M193.4 109.6h0M196.5 128.6h0M189.4 131.1h0M198.6 118.6h0M178.4 121.6h0M191.8 122.7h0M193.3 131.3h0M201.9 122.1h0M190.8 124.6h0M199.8 122.8h0M184.7 118.6h0M197.4 129.9h0M183.7 123.4h0M200.7 125.4h0M177.1 118.6h0M181.3 129.8h0M184.9 132.5h0M191.7 130.7h0M184.4 128.2h0M189.9 119.2h0M195.0 120.0h0M186.2 117.9h0M176.8 120.4h0M190.3 114.5h0M196.7 108.4h0M185.3 119.1h0M192.4 111.8h0M181.1 131.5h0M184.2 115.3h0M195.8 128.7h0M189.7 132.3h0M187.6 130.4h0M198.4 119.4h0M183.1 126.0h0M180.3 112.6h0M178.3 122.8h0M199.2 118.0h0M195.7 120.2h0M187.4 120.1h0M199.9 126.5h0M190.4 132.6h0M184.9 116.6h0M182.3 118.8h0M194.7 119.0h0M190.1 127.1h0M196.7 120.1h0M186.2 125.9h0M188.9 123.2h0M177.2 124.0h0M189.5 116.3h0M200.7 126.5h0M200.7 116.4h0M184.2 115.1h0M198.6 111.6h0M189.3 124.4h0M179.5 122.2h0M180.8 133.4h0M188.8 114.5h0M182.1 129.0h0M191.8 129.1h0M185.5 118.3h0M202.5 115.6h0M185.3 134.6h0M186.6 122.8h0M175.0 118.8h0M184.9 117.1h0M181.2 128.4h0M178.0 126.1h0M189.5 130.7h0M192.4 131.0h0M201.5 120.6h0M176.1 122.5h0M186.5 128.9h0M189.6 118.8h0M180.0 117.7h0M194.4 129.9h0M182.9 125.9h0M191.3 115.0h0M191.0 132.4h0M190.1 125.2h0M195.4 117.1h0M199.5 121.7h0M203.0 122.3h0M196.5 122.8h0M196.5 111.9h0M178.1 124.1h0M190.0 132.9h0M189.0 121.5h0M191.8 116.3h0M185.6 127.0h0M182.2 120.2h0M193.2 121.2h0M179.4 116.6h0M177.4 124.3h0M196.1 110.9h0M196.5 118.1h0M191.5 131.9h0M182.7 128.1h0M194.5 123.3h0M192.3 133.8h0M185.7 118.2h0M193.5 133.4h0M203.1 125.0h0M187.2 110.6h0M189.9 127.3h0M184.0 131.9h0M198.5 116.4h0M199.7 114.0h0M200.1 123.2h0M194.6 127.3h0M186.6 118.6h0M194.1 129.0h0M192.4 124.4h0M194.1 123.5h0M183.6 112.5h0M189.6 115.1h0M201.3 126.4h0M194.7 128.2h0M195.7 128.6h0M183.8 115.9h0M200.5 121.0h0M192.3 115.9h0M197.8 127.3h0M195.4 120.2h0M190.8 115.0h0M178.1 118.7h0M197.5 123.6h0M180.1 130.2h0M192.2 124.2h0M199.9 118.4h0M198.2 123.4h0M189.4 117.2h0M189.9 112.6h0M191.7 130.6h0M193.8 121.0h0M179.1 131.8h0M193.4 128.5h0M186.3 124.2h0M179.8 121.5h0M187.3 118.2h0M193.7 113.7h0M195.4 127.7h0M193.8 126.7h0M185.0 127.3h0M188.0 114.8h0M179.8 120.1h0M196.5 119.4h0M202.1 125.4h0M200.3 131.0h0M200.3 119.0h0M185.6 130.4h0M195.2 127.6h0M201.5 123.6h0M190.0 113.7h0M188.6 124.2h0M192.4 128.6h0M200.0 115.2h0M181.0 118.3h0M197.1 112.0h0M191.5 116.9h0M192.5 118.3h0M188.2 115.3h0M199.3 122.2h0M180.8 124.6h0M178.4 120.3h0M179.3 118.0h0M195.0 113.0h0M196.9 110.0h0M193.9 113.8h0M195.6 113.4h0M192.5 124.2h0M196.5 115.9h0M194.8 119.7h0M181.1 126.6h0M189.5 121.2h0M183.3 130.8h0M188.0 119.0h0M190.1 112.5h0M186.1 120.7h0M184.7 119.5h0M192.0 120.9h0M189.6 127.6h0M190.5 127.3h0M199.9 121.8h0M192.0 125.2h0M188.3 123.4h0M186.8 121.2h0M192.1 110.3h0M195.3 121.8h0M202.0 114.2h0M188.7 113.2h0" stroke="#10B857" stroke-width="1.3" stroke-linecap="square" fill="none"/>
<path d="M143.3 183.3h0M153.3 208.9h0M133.9 196.1h0M150.5 192.9h0M159.2 195.8h0M150.1 183.8h0M164.2 199.7h0M147.0 183.5h0M163.6 206.8h0M152.3 203.0h0M161.7 187.4h0M140.9 196.7h0M153.0 195.1h0M151.7 200.2h0M147.2 206.5h0M149.3 185.6h0M153.5 198.0h0M126.1 201.3h0M137.4 205.9h0M149.7 184.3h0M164.7 208.1h0M150.3 208.1h0M135.0 199.1h0M162.8 200.9h0M135.3 209.2h0M161.4 186.7h0M160.9 199.4h0M156.8 186.5h0M140.2 207.7h0M156.5 183.3h0M160.4 211.4h0M153.7 193.3h0M141.4 195.5h0M157.8 211.9h0M140.6 207.8h0M161.3 209.2h0M148.0 207.2h0M157.3 207.7h0M145.6 208.1h0M141.1 193.0h0M161.8 207.0h0M148.8 206.4h0M140.6 183.3h0M154.9 204.8h0M143.0 208.5h0M138.6 185.4h0M163.0 197.5h0M135.9 205.9h0M139.9 199.6h0M163.7 208.9h0M133.6 189.6h0M153.6 213.2h0M163.2 202.2h0M157.8 186.1h0M163.1 203.0h0M155.3 190.3h0M167.4 206.6h0M155.0 217.1h0M153.0 188.6h0M145.8 190.3h0M155.1 182.0h0M135.5 196.7h0M147.0 199.5h0M128.1 201.1h0M149.5 181.1h0M158.8 197.9h0M153.7 204.0h0M146.0 180.7h0M155.7 194.4h0M168.2 211.6h0M146.9 206.9h0M162.8 192.1h0M134.5 202.2h0M132.4 208.7h0M135.0 196.9h0M147.0 189.0h0M129.5 205.8h0M158.9 190.9h0M138.0 209.8h0M163.3 183.4h0M152.8 216.4h0M144.7 211.7h0M152.0 207.6h0M160.2 196.2h0M158.3 188.0h0M143.4 209.0h0M134.8 197.3h0M152.3 198.2h0M150.6 209.6h0M166.1 215.7h0M131.3 196.9h0M145.5 192.6h0M143.2 182.9h0M153.2 185.1h0M153.5 193.1h0M157.3 190.9h0M139.7 208.5h0M147.1 210.3h0M154.5 211.4h0M137.4 211.3h0M160.7 184.8h0M140.1 184.8h0M148.6 194.7h0M140.8 183.8h0M156.4 203.8h0M166.2 184.6h0M154.7 212.6h0M161.7 187.0h0M148.1 209.6h0M160.4 191.2h0M161.8 191.1h0M128.0 203.7h0M130.5 202.4h0M150.6 204.7h0M127.1 198.7h0M160.1 190.0h0M134.9 198.1h0M149.1 196.5h0M162.3 188.2h0M140.1 188.9h0M134.2 209.0h0M143.5 184.7h0M143.4 182.7h0M156.3 211.3h0M160.4 183.2h0M134.8 208.5h0M149.3 203.9h0M133.3 187.8h0M171.2 211.0h0M155.3 196.2h0M146.4 207.1h0M135.4 199.6h0M164.0 197.5h0M137.7 196.0h0M141.4 206.9h0M142.1 187.7h0M160.7 183.1h0M163.7 194.9h0M169.3 212.2h0M149.6 204.9h0M164.4 191.5h0M156.1 202.0h0M158.3 183.8h0M161.8 201.3h0M161.7 201.9h0M137.4 203.1h0M151.4 193.2h0M150.2 211.0h0M149.5 187.6h0M146.2 195.0h0M151.8 179.2h0M131.0 195.6h0M157.7 211.7h0M129.8 196.5h0M139.7 187.4h0M146.4 193.5h0M157.8 190.6h0M158.8 202.5h0M165.7 183.9h0M140.1 184.3h0M145.2 185.6h0M161.8 185.9h0M133.5 191.1h0M138.3 196.7h0M160.0 211.4h0M141.0 186.6h0M149.9 210.0h0M149.5 193.7h0M153.4 201.3h0M145.9 185.5h0M137.0 188.3h0M158.7 212.8h0M147.8 189.7h0M146.4 209.0h0M157.6 185.9h0M147.1 206.7h0M155.6 194.3h0M151.9 211.5h0M130.9 200.8h0M139.0 214.7h0M156.6 188.8h0M136.0 188.2h0M167.6 213.6h0M163.8 209.7h0M151.2 211.0h0M151.6 179.8h0M162.6 212.2h0M161.2 203.0h0M146.4 192.6h0M169.2 209.4h0M147.0 201.5h0M158.0 191.7h0M129.9 200.9h0M164.2 219.7h0M140.8 212.7h0M154.2 209.2h0M144.9 193.0h0M153.9 195.2h0M155.9 205.4h0M149.0 209.7h0M155.4 209.0h0M146.2 208.1h0M157.8 193.3h0M161.4 205.4h0M151.5 205.5h0M169.7 213.1h0M143.2 210.4h0M146.2 213.1h0M137.0 205.4h0M152.9 182.3h0M140.0 187.0h0M148.1 210.3h0M139.6 205.7h0M129.9 200.1h0M138.8 210.9h0M150.7 209.0h0M163.3 189.6h0M151.7 196.2h0M128.9 197.0h0M151.5 205.5h0M161.7 198.1h0M138.7 198.6h0M150.9 184.5h0M143.5 213.4h0M157.0 214.2h0M149.4 209.0h0M144.6 182.1h0M166.9 215.9h0M161.7 208.4h0M142.6 207.1h0M162.7 215.9h0M152.3 186.1h0M137.1 189.0h0M149.0 214.0h0M153.2 196.3h0M159.7 180.4h0M157.7 206.0h0M135.0 189.2h0M157.3 182.9h0M153.1 198.1h0M164.9 202.1h0M153.0 187.5h0M140.3 207.4h0M149.3 210.2h0M153.8 183.9h0M155.8 199.6h0M159.3 214.6h0M153.5 181.7h0M153.4 195.7h0M145.4 206.8h0M150.0 194.4h0M157.2 189.9h0M155.0 192.3h0M165.4 208.2h0M156.9 205.6h0M137.6 202.3h0M127.9 200.1h0M127.3 196.2h0M127.1 198.2h0M138.4 195.3h0M162.2 213.4h0M159.7 211.8h0M161.7 203.3h0M159.4 210.2h0M166.0 214.1h0M154.2 195.8h0M163.0 213.9h0M138.3 201.2h0M134.6 193.0h0M166.8 211.4h0M161.3 185.8h0M150.7 199.9h0M137.0 208.4h0M136.2 188.6h0M139.5 185.5h0M156.1 179.4h0M156.5 209.1h0M128.3 208.4h0M164.9 198.1h0M162.3 182.0h0M148.6 193.1h0M165.0 210.0h0M154.1 202.2h0M157.4 210.1h0M145.0 190.2h0M164.8 206.9h0M147.9 198.4h0M145.8 196.1h0M148.7 191.0h0M136.0 187.2h0M135.7 207.5h0M142.6 188.1h0M145.7 212.3h0M134.4 192.8h0M142.8 206.4h0M159.3 205.6h0M146.9 182.9h0M166.2 206.5h0M138.5 212.2h0M160.3 209.8h0M141.3 187.3h0M130.9 196.2h0M132.3 203.8h0M165.5 186.1h0M147.1 198.6h0M154.2 184.6h0M154.1 211.8h0M159.9 183.4h0M148.4 200.0h0M132.7 199.7h0M134.6 202.6h0M133.4 189.7h0M168.0 209.3h0M155.4 212.6h0M154.8 210.0h0M142.9 196.4h0M143.0 181.9h0M164.9 189.2h0M160.8 213.4h0M143.1 180.0h0M147.5 189.7h0M130.1 207.7h0M158.8 189.7h0M153.0 210.9h0M136.5 204.9h0M139.6 191.6h0M127.9 194.5h0M140.3 206.0h0M164.4 204.9h0M137.2 204.3h0M158.2 183.2h0M152.5 208.2h0M151.8 188.2h0M160.2 212.6h0M139.3 185.1h0M136.6 204.8h0M161.2 196.4h0M150.4 196.9h0M145.4 210.4h0M134.8 190.3h0M143.8 191.1h0M158.9 188.4h0M157.9 209.7h0M153.6 203.8h0M156.1 188.7h0M153.1 194.0h0M130.4 197.4h0M169.4 208.6h0M157.1 199.4h0M144.1 192.4h0M138.2 194.3h0M156.5 206.6h0M147.6 205.1h0M136.1 186.5h0M160.9 217.2h0M143.9 211.2h0M157.7 211.1h0M128.2 197.5h0M148.1 187.7h0M151.5 204.5h0M149.3 187.7h0M160.5 187.1h0M137.6 202.8h0M161.1 199.3h0M133.9 203.0h0M126.0 207.4h0M162.0 181.7h0M140.2 196.6h0M146.8 213.2h0M141.8 195.6h0M130.1 187.7h0M145.7 209.0h0M135.6 209.6h0M146.3 194.3h0M146.1 184.2h0M147.3 204.8h0M146.0 205.2h0M155.7 201.2h0M167.5 205.9h0M144.4 202.3h0M151.3 182.6h0M164.8 210.2h0M147.7 186.5h0M146.7 202.3h0M160.9 204.4h0M162.1 189.5h0M151.0 192.4h0M138.3 200.2h0M158.5 212.6h0M131.2 198.5h0M151.7 184.5h0M165.4 207.6h0M160.3 198.9h0M154.5 209.4h0M140.3 203.3h0M162.7 212.1h0M160.1 203.4h0M145.8 213.0h0M157.7 199.4h0M136.8 195.6h0M159.1 207.8h0M135.1 193.9h0M150.1 213.3h0M139.7 187.6h0M159.2 182.8h0M160.2 194.2h0M158.7 182.0h0M154.7 191.1h0M129.2 194.3h0M144.0 206.5h0M157.4 210.0h0M148.1 192.3h0M136.8 197.1h0M157.2 190.8h0M146.9 181.5h0M146.9 190.8h0M149.6 206.0h0M155.9 207.6h0M128.5 192.4h0M157.3 194.7h0M151.9 203.9h0M131.1 196.5h0M161.2 190.3h0M158.8 196.2h0M133.1 205.8h0M138.8 207.5h0M131.1 196.8h0M155.2 203.1h0M155.9 199.9h0M136.6 190.6h0M156.7 181.3h0M132.2 194.7h0M155.5 192.1h0M157.0 195.7h0M144.2 179.4h0M150.9 209.3h0M166.1 209.1h0M133.8 198.0h0M164.4 186.8h0M157.3 203.4h0M159.1 210.7h0M148.8 186.2h0M137.8 184.7h0M162.5 190.1h0M161.4 207.1h0M146.1 207.7h0M163.7 209.0h0M129.1 195.6h0M154.5 198.0h0M153.2 183.5h0M148.4 194.5h0M163.8 191.5h0M135.6 201.9h0M140.3 198.4h0M162.9 204.3h0M144.1 181.9h0M154.3 179.3h0M164.1 193.2h0M148.6 187.0h0M148.5 205.3h0M157.9 194.5h0M160.1 191.1h0M152.0 202.3h0M158.9 202.4h0M164.6 188.6h0M151.8 191.3h0M141.4 195.6h0M162.6 189.5h0M151.5 204.0h0M132.7 199.3h0M155.2 195.6h0M151.4 210.8h0M163.2 197.3h0M138.9 190.3h0M154.8 198.7h0M158.0 210.6h0M129.6 194.8h0M142.3 200.6h0M136.7 187.6h0M140.1 205.1h0M154.7 211.2h0M151.7 187.0h0M154.2 183.3h0M138.2 212.6h0M149.4 195.8h0M162.5 183.7h0M146.4 197.7h0M137.6 201.7h0M146.4 192.5h0M164.9 213.4h0M151.3 198.7h0M149.1 206.8h0M162.6 217.5h0M133.2 194.7h0M135.8 205.2h0M158.5 195.4h0M145.9 189.0h0M128.6 195.7h0M161.8 190.1h0M130.0 198.6h0M162.5 183.1h0M163.5 207.1h0M163.7 201.0h0M155.4 183.4h0M131.3 203.6h0M143.0 185.5h0M141.8 209.0h0M141.8 207.2h0M146.1 182.6h0M161.7 188.2h0M138.1 209.4h0M164.6 209.6h0M159.3 201.4h0M164.7 209.8h0M135.0 188.2h0M150.5 211.1h0M151.3 186.2h0M135.9 193.4h0M133.6 199.9h0M146.2 198.7h0M163.1 211.0h0M141.6 187.5h0M152.1 197.6h0M151.5 177.7h0M141.6 195.2h0M130.5 189.9h0M149.6 196.3h0M149.5 191.1h0M161.2 197.6h0M147.0 187.8h0M144.9 195.9h0M134.6 206.3h0M145.7 180.5h0M161.9 207.9h0M165.5 198.5h0M146.5 200.9h0M151.7 208.1h0M161.8 193.5h0M151.2 214.2h0M159.4 208.9h0M160.9 207.1h0M162.8 208.1h0M143.8 208.3h0M141.3 185.8h0M158.2 196.3h0M147.6 207.5h0M134.6 191.0h0M162.2 213.5h0M160.8 206.2h0M156.7 209.0h0M166.0 206.5h0M147.6 201.8h0M164.5 196.1h0M137.2 189.6h0M140.5 206.3h0M137.6 200.8h0M145.8 185.3h0M152.8 211.7h0M167.7 213.5h0M158.5 180.2h0M130.5 205.5h0M158.4 213.7h0M155.2 180.9h0M158.9 182.8h0M162.5 213.1h0M152.9 184.4h0M138.1 208.9h0M143.8 201.4h0M132.4 198.2h0M158.6 203.0h0M141.2 203.4h0M150.1 191.1h0M162.0 211.1h0M140.0 206.7h0M168.6 190.8h0M156.1 197.0h0M137.8 209.7h0M153.6 187.7h0M145.8 192.8h0M159.6 215.1h0M146.0 198.8h0M158.6 211.4h0M143.8 184.4h0M150.9 191.2h0M145.9 205.9h0M135.4 208.2h0M152.2 211.6h0M136.5 187.0h0M147.4 197.8h0M142.0 198.2h0M145.2 191.2h0M144.1 211.7h0M154.4 203.5h0M130.1 201.8h0M151.2 189.6h0M146.8 192.1h0M158.1 208.5h0M137.6 195.4h0M157.9 195.1h0M126.8 208.2h0M138.1 198.7h0M159.8 200.3h0M166.0 187.1h0M157.2 199.7h0M156.3 201.8h0M161.7 199.0h0M131.8 192.4h0M143.3 193.6h0M162.6 205.4h0M161.1 206.0h0M144.5 192.8h0M155.2 191.9h0M127.7 193.6h0M136.0 207.8h0M155.7 199.4h0M145.4 208.0h0M164.0 209.3h0M162.9 193.5h0M150.0 214.5h0M165.9 209.3h0M138.4 213.7h0M130.6 200.0h0M165.7 183.1h0M147.2 189.5h0M160.0 193.5h0M148.0 192.5h0M164.8 189.3h0M168.0 210.9h0M137.6 196.4h0M142.2 208.9h0M136.4 189.1h0" stroke="#9EB01F" stroke-width="1.3" stroke-linecap="square" fill="none"/>
<path d="M168.8 197.7h0M177.1 202.1h0M177.8 207.8h0M187.4 206.1h0M170.0 205.8h0M186.1 200.2h0M174.4 208.1h0M176.9 200.7h0M177.6 187.9h0M185.6 187.2h0M172.8 202.1h0M185.8 200.0h0M172.3 208.1h0M166.7 199.2h0M172.3 204.6h0M178.1 194.1h0M170.5 190.9h0M173.6 207.8h0M174.7 204.6h0M174.6 191.5h0M169.8 194.0h0M170.2 201.4h0M182.7 184.2h0M173.3 211.4h0M190.7 198.4h0M173.8 203.9h0M177.8 188.4h0M186.9 187.9h0M175.6 201.6h0M180.8 181.2h0M167.5 187.9h0M174.1 207.0h0M179.4 198.9h0M185.4 188.8h0M175.4 205.5h0M170.5 202.3h0M182.1 195.5h0M189.1 202.9h0M180.3 193.1h0M171.6 182.0h0M172.7 191.6h0M177.7 204.9h0M175.3 184.4h0M175.4 187.8h0M180.9 191.3h0M174.5 186.8h0M178.9 194.8h0M169.0 193.0h0M176.6 193.5h0M168.9 199.0h0M180.5 183.4h0M184.5 198.6h0M179.4 194.1h0M178.9 193.2h0M185.5 186.1h0M187.3 196.0h0M178.2 196.7h0M180.7 190.3h0M180.7 195.6h0M175.2 210.1h0M181.3 199.7h0M165.8 197.8h0M177.0 190.0h0M184.3 185.2h0M170.0 189.1h0M184.3 193.4h0M170.7 197.0h0M177.7 197.2h0M177.4 206.4h0M181.3 208.1h0M182.8 209.7h0M184.8 192.3h0M181.4 184.4h0M187.9 195.0h0M179.7 188.5h0M179.8 195.5h0M189.9 195.4h0M171.3 200.9h0M186.7 187.3h0M172.0 198.9h0M168.0 206.9h0M179.4 207.6h0M177.0 190.2h0M182.6 182.7h0M186.9 189.4h0M170.4 197.4h0M173.9 203.5h0M179.4 198.9h0M190.6 192.5h0M185.6 192.4h0M177.4 207.2h0M173.8 191.8h0M172.5 194.7h0M172.1 205.6h0M174.5 186.3h0M185.5 209.4h0M166.0 190.8h0M170.1 194.2h0M172.4 185.6h0M168.4 199.8h0M186.1 199.9h0M184.9 204.2h0M178.4 211.7h0M175.4 190.5h0M178.0 193.9h0M165.8 195.1h0M189.3 193.3h0M175.2 193.2h0M176.7 191.8h0M181.3 185.4h0M182.6 205.3h0M189.6 194.1h0M173.5 187.3h0M175.3 204.0h0M177.6 200.4h0M182.2 194.1h0M166.1 197.2h0M162.9 190.7h0M165.9 195.4h0M173.7 189.9h0M169.8 185.7h0M181.8 192.8h0M170.8 208.2h0M179.7 182.5h0M176.6 202.1h0M174.8 185.7h0M182.8 185.8h0M182.4 186.5h0M184.5 188.4h0M174.7 191.4h0M182.1 191.7h0M186.7 206.7h0M165.9 191.8h0M185.1 184.8h0M172.3 192.7h0M184.9 200.3h0M187.7 200.0h0M179.4 182.4h0M171.7 194.1h0M178.8 202.7h0M169.3 195.3h0M175.1 193.5h0M178.6 198.4h0M177.1 200.7h0M172.9 204.4h0M174.6 205.5h0M191.0 191.6h0M165.9 189.3h0M174.5 192.3h0M175.3 206.8h0M174.6 205.4h0M169.6 188.2h0M182.5 200.6h0M186.9 193.0h0M186.9 203.8h0M183.5 193.1h0M176.6 190.3h0M190.2 183.5h0M181.6 206.4h0M174.4 184.6h0M187.4 192.5h0M186.6 190.5h0M171.1 185.8h0M171.5 195.0h0M171.1 201.2h0M186.0 185.2h0M171.5 192.8h0M174.6 204.0h0M178.3 204.4h0M179.3 205.1h0M169.6 201.4h0M188.2 183.4h0M176.0 209.4h0M168.1 191.6h0M187.1 206.8h0M174.7 193.1h0M180.5 206.8h0M171.4 184.6h0M184.7 201.2h0M186.4 186.5h0M184.5 202.4h0M186.1 191.3h0M173.9 197.9h0M178.5 196.7h0M185.4 189.5h0M169.9 193.1h0M180.4 204.3h0M185.5 207.1h0M184.4 196.0h0M173.6 206.6h0M168.3 196.4h0M178.7 208.0h0M165.0 188.6h0M172.2 189.9h0M187.7 185.3h0M179.5 199.5h0M173.4 197.6h0M172.5 202.1h0M166.8 188.2h0M172.6 203.9h0M183.2 184.2h0M179.9 188.4h0M179.1 180.4h0M188.4 193.0h0M168.0 191.8h0M188.7 188.1h0M175.4 195.1h0M180.8 183.0h0M185.5 201.9h0M174.8 199.6h0M192.0 198.7h0M174.5 199.6h0M176.3 202.7h0M187.1 186.9h0M177.3 203.3h0M173.9 207.4h0M184.7 192.3h0M177.1 191.9h0M177.0 201.4h0M172.2 181.2h0M180.1 199.0h0M176.6 197.8h0M176.7 205.8h0M171.1 196.7h0M182.8 183.6h0M184.6 190.6h0M180.0 200.4h0M180.5 205.4h0M179.7 192.4h0M185.0 203.4h0M167.2 198.5h0M186.5 201.8h0M176.3 180.6h0M167.4 188.4h0M185.4 203.3h0M170.4 188.5h0M173.5 204.2h0M168.2 199.4h0M173.3 184.3h0M187.4 190.0h0M176.1 190.0h0M167.6 203.2h0M185.5 208.4h0M175.0 198.7h0M187.6 186.6h0M178.4 206.0h0M181.7 199.5h0M183.6 182.3h0M179.7 190.2h0M184.3 195.9h0M172.9 192.6h0M171.9 190.8h0M175.3 206.8h0M170.4 200.7h0M186.3 194.9h0M169.9 199.7h0M185.4 190.8h0M180.6 196.5h0M176.7 191.0h0M180.1 205.2h0M170.9 199.1h0M178.5 192.0h0M186.3 201.5h0M176.2 196.2h0M170.9 184.0h0M170.5 186.7h0M187.6 194.1h0M170.8 203.8h0M185.4 185.4h0M173.2 206.2h0M169.1 192.8h0M185.0 198.4h0M181.3 187.0h0M183.8 201.9h0M166.3 195.2h0M177.7 183.6h0M170.1 182.4h0M176.7 189.3h0M174.8 182.5h0M177.1 212.1h0M186.7 187.3h0M174.6 198.6h0M185.2 209.3h0M168.4 206.2h0M190.4 191.9h0M173.6 193.4h0M182.4 201.3h0M169.5 200.5h0M176.9 206.3h0M166.9 187.6h0M180.9 205.3h0M177.8 201.2h0M187.5 186.2h0M168.9 192.5h0M185.8 181.4h0M180.6 206.2h0M180.3 197.8h0M164.1 200.8h0M179.0 180.8h0M183.0 208.9h0M175.3 206.4h0M179.5 193.2h0M183.9 196.2h0M176.8 190.6h0M171.1 203.4h0M167.3 187.0h0M170.3 204.8h0M187.9 184.0h0M179.6 189.6h0M167.7 199.6h0M180.4 179.2h0M170.1 201.4h0M179.7 204.0h0M181.4 186.9h0M171.5 187.3h0M184.9 199.1h0M173.5 201.1h0M170.4 183.9h0M180.9 203.9h0M170.7 193.2h0M176.9 196.9h0M187.4 201.9h0M189.7 186.2h0M185.0 199.1h0M177.4 193.6h0M184.5 192.9h0M186.4 199.5h0M168.3 197.2h0M178.2 191.3h0M179.4 187.5h0M174.6 202.9h0M168.1 185.9h0M170.1 203.6h0M164.2 198.4h0M165.7 203.4h0M180.7 209.0h0M187.6 199.7h0M173.1 185.2h0M176.6 203.2h0M174.2 190.6h0M187.2 200.9h0M171.4 202.8h0M170.1 191.3h0M173.2 205.9h0M171.2 197.0h0M172.1 204.7h0M171.4 179.6h0M166.7 188.4h0M175.2 184.8h0M176.8 192.5h0M175.8 201.9h0M182.2 190.9h0M166.9 186.3h0M169.2 201.6h0M183.3 182.7h0M181.2 205.8h0M171.0 196.1h0M181.1 191.6h0M173.0 197.3h0M179.5 186.6h0M178.4 200.3h0M172.6 184.9h0" stroke="#F89B1C" stroke-width="1.3" stroke-linecap="square" fill="none"/>
<path d="M103.6 127.7h0M96.1 94.9h0M62.4 99.6h0M69.0 113.0h0M66.6 155.4h0M131.7 237.1h0M131.8 223.4h0M141.1 86.0h0M144.9 87.1h0M142.4 89.1h0M136.9 154.9h0M123.0 128.2h0M133.6 116.1h0M204.4 147.4h0M148.3 213.7h0M135.4 203.2h0M184.0 193.0h0M181.4 193.1h0M167.8 200.1h0" stroke="#F5B7C3" stroke-width="1.3" stroke-linecap="square" fill="none"/>
<path d="M89.9 96.7h0M115.1 82.0h0M110.2 90.2h0M66.1 152.1h0M77.7 139.6h0M111.5 171.8h0M106.7 164.5h0M136.1 233.9h0M140.4 86.0h0M139.3 82.2h0M164.1 68.8h0M126.1 125.1h0M147.9 128.5h0M137.7 162.0h0M115.5 146.5h0M161.2 134.8h0M155.3 183.2h0M153.0 210.2h0M170.9 193.4h0M177.6 198.9h0" stroke="#9EB01F" stroke-width="1.3" stroke-linecap="square" fill="none"/>
<path d="M76.0 119.8h0M99.6 93.4h0M35.9 126.4h0M114.1 173.7h0M110.4 211.5h0M92.5 191.2h0M93.1 201.2h0M164.6 116.3h0M165.1 89.2h0M176.3 90.8h0M125.8 118.0h0M179.8 142.0h0M188.0 158.7h0M182.0 158.2h0M169.5 149.7h0M215.2 151.1h0M182.4 117.7h0M191.8 124.5h0M184.1 122.4h0M143.0 208.2h0M143.6 205.8h0" stroke="#F47B71" stroke-width="1.3" stroke-linecap="square" fill="none"/>
<path d="M103.7 121.9h0M70.9 116.1h0M80.4 126.7h0M73.1 70.7h0M61.7 109.1h0M51.8 146.6h0M54.8 160.6h0M101.8 198.0h0M117.6 58.6h0M128.3 42.8h0M165.0 116.0h0M166.2 105.3h0M136.2 103.0h0M124.9 106.7h0M140.2 100.5h0M121.1 137.3h0M165.0 142.3h0M184.4 152.8h0M228.8 157.1h0M220.7 153.3h0M225.6 114.9h0M225.2 110.2h0M214.2 161.9h0M228.8 157.7h0M189.8 119.4h0M185.2 124.0h0M180.3 132.1h0" stroke="#E4641B" stroke-width="1.3" stroke-linecap="square" fill="none"/>
<path d="M96.9 91.2h0M89.0 120.0h0M41.3 118.5h0M103.7 210.7h0M130.3 47.4h0M171.2 90.2h0M166.9 111.4h0M163.7 72.0h0M180.4 83.6h0M144.8 140.1h0M139.7 143.7h0M182.9 164.1h0M198.2 147.0h0M145.7 193.1h0M160.2 178.7h0M185.5 187.3h0M183.3 207.9h0" stroke="#5559B1" stroke-width="1.3" stroke-linecap="square" fill="none"/>
<path d="M92.3 122.9h0M79.6 127.6h0M84.7 116.1h0M66.6 170.5h0M98.7 205.4h0M124.4 55.0h0M161.5 98.9h0M141.0 110.5h0M128.6 109.6h0M144.9 106.7h0M138.5 166.0h0M223.2 154.3h0M167.7 209.1h0M148.8 196.8h0M181.5 204.5h0M176.4 188.0h0" stroke="#14B4EA" stroke-width="1.3" stroke-linecap="square" fill="none"/>
<path d="M107.7 96.1h0M64.1 103.0h0M70.2 159.5h0M62.8 169.1h0M39.5 120.1h0M85.4 148.9h0M100.2 209.9h0M147.2 59.8h0M150.9 115.9h0M147.5 84.8h0M132.6 165.6h0M136.0 155.9h0M126.3 161.9h0M164.5 150.4h0M183.5 146.9h0M230.2 142.0h0M198.7 155.1h0M220.8 122.6h0M218.9 163.1h0M230.9 141.1h0M195.4 111.0h0M185.1 118.9h0M161.9 192.8h0M134.0 201.1h0M188.2 201.3h0M180.7 206.1h0" stroke="#D9BE92" stroke-width="1.3" stroke-linecap="square" fill="none"/>
<path d="M96.3 101.7h0M92.3 117.9h0M116.0 77.2h0M115.1 85.7h0M107.3 72.1h0M88.8 149.8h0M128.1 177.0h0M93.8 184.1h0M131.4 223.2h0M182.8 93.3h0M143.7 79.4h0M174.9 94.8h0M127.3 95.1h0M224.6 145.5h0M193.4 131.3h0M157.2 207.9h0M144.5 194.9h0" stroke="#F89B1C" stroke-width="1.3" stroke-linecap="square" fill="none"/>
<path d="M90.4 107.3h0M44.0 123.5h0M43.8 113.5h0M50.0 109.2h0M72.0 142.5h0M82.1 141.8h0M135.3 169.4h0M92.3 195.8h0M152.4 158.5h0M142.7 82.6h0M159.8 80.7h0M182.1 91.2h0M159.6 95.2h0M146.1 108.8h0M222.3 151.5h0M161.9 212.7h0" stroke="#C59B0B" stroke-width="1.3" stroke-linecap="square" fill="none"/>
<path d="M111.6 78.6h0M82.5 91.1h0M98.7 113.8h0M105.2 79.2h0M85.9 68.4h0M47.0 120.6h0M116.7 186.0h0M112.7 179.2h0M126.7 214.3h0M125.6 229.9h0M134.3 58.6h0M146.0 106.2h0M161.9 81.4h0M139.2 115.2h0M128.5 106.6h0M133.0 111.3h0M137.5 159.7h0M224.5 131.7h0M223.7 150.0h0M222.4 145.3h0M199.0 119.7h0M159.5 191.7h0M144.1 183.9h0M163.3 208.7h0" stroke="#3E8BD5" stroke-width="1.3" stroke-linecap="square" fill="none"/>
<path d="M114.7 77.2h0M83.7 102.3h0M55.4 140.8h0M93.5 135.9h0M99.6 202.7h0M152.3 86.8h0M177.4 98.7h0M172.4 97.8h0M132.3 110.2h0M123.2 98.5h0M144.3 108.5h0M117.3 141.6h0M180.3 149.0h0M190.6 141.7h0M218.3 154.6h0M208.6 122.3h0M197.4 123.9h0M197.9 127.5h0M184.9 127.6h0M188.5 113.0h0M188.0 193.2h0" stroke="#10B857" stroke-width="1.3" stroke-linecap="square" fill="none"/>
<path d="M113.4 79.7h0M53.8 119.0h0M81.2 152.4h0M132.3 177.3h0M122.1 184.1h0M121.3 45.2h0M146.0 56.3h0M158.1 84.6h0M152.3 84.0h0M169.0 98.5h0M151.4 92.3h0M138.2 107.6h0M140.3 101.3h0M136.4 105.4h0M133.1 97.6h0M123.0 136.2h0M127.9 123.6h0M120.2 156.0h0M128.3 159.5h0M123.6 138.3h0M129.4 156.9h0M141.3 161.0h0M211.0 148.9h0M234.9 132.4h0M207.7 126.8h0M228.5 130.3h0M219.9 130.8h0M204.4 147.5h0M229.1 153.0h0M224.5 111.0h0M209.4 160.4h0M201.5 120.0h0M150.1 214.3h0M172.0 193.9h0" stroke="#F2CB17" stroke-width="1.3" stroke-linecap="square" fill="none"/>
<path d="M61.9 159.0h0M133.9 224.9h0M145.9 58.4h0M130.6 46.2h0M129.7 61.5h0M156.6 86.2h0M152.3 117.3h0M150.8 80.7h0M137.8 92.7h0M130.8 101.7h0M126.2 135.4h0M181.9 157.1h0M220.9 132.1h0M208.3 152.7h0M196.2 119.9h0M195.8 125.5h0M187.1 112.4h0M163.2 185.9h0M143.5 209.5h0M181.2 204.6h0" stroke="#8E8B6E" stroke-width="1.3" stroke-linecap="square" fill="none"/>
<path d="M69.1 138.6h0M67.1 141.5h0M70.6 141.8h0M91.8 188.7h0M93.5 204.7h0M90.7 196.5h0M110.7 204.1h0M175.5 106.7h0M157.9 108.1h0M128.6 95.8h0M139.6 109.2h0M128.7 102.2h0M143.8 161.1h0M151.6 149.3h0M130.3 146.9h0M141.8 129.9h0M168.8 130.6h0M166.5 145.8h0M169.0 142.5h0M179.0 162.8h0M204.2 154.7h0M219.8 134.8h0M142.3 205.4h0M176.8 196.5h0" stroke="#A98CF7" stroke-width="1.3" stroke-linecap="square" fill="none"/>
<path d="M71.8 172.9h0M91.1 154.0h0M105.4 175.2h0M105.2 172.4h0M78.2 170.2h0M109.8 169.0h0M92.3 165.7h0M93.0 156.3h0M95.0 163.2h0M100.1 172.5h0M90.4 169.7h0M101.2 176.1h0M80.1 159.5h0M103.8 177.5h0M93.9 174.4h0M88.5 163.0h0M91.6 166.0h0M89.6 154.2h0M89.5 163.1h0M102.1 155.8h0M108.0 174.7h0M88.5 168.0h0M100.5 158.7h0M106.5 164.7h0M92.8 184.5h0M102.6 167.5h0M87.6 169.7h0M92.2 154.8h0M83.8 168.3h0M100.8 173.7h0M69.3 171.1h0M106.5 163.6h0M88.2 159.2h0M111.8 161.6h0M113.0 165.0h0M81.6 174.1h0M102.4 182.4h0M82.1 169.3h0M97.6 169.9h0M86.1 166.1h0M95.0 173.2h0M96.0 165.7h0M100.6 168.6h0M81.0 155.7h0M108.2 172.8h0M108.9 179.1h0M82.5 164.5h0M92.9 177.2h0M105.1 181.1h0M109.4 180.1h0M80.8 174.7h0M105.9 156.8h0M73.3 166.4h0M95.5 178.0h0M89.1 161.0h0M87.0 169.1h0M74.9 166.4h0M104.1 170.5h0M88.7 159.6h0M104.4 97.7h0M107.2 124.1h0M110.1 104.4h0M113.8 105.6h0M109.0 108.8h0M108.4 98.4h0M114.5 115.4h0M120.3 114.6h0M107.9 130.1h0M117.9 127.3h0M142.4 79.5h0M111.4 71.0h0M128.8 65.0h0M122.2 76.9h0M110.0 64.0h0M148.7 68.2h0M129.3 73.3h0M125.9 79.8h0M121.8 77.2h0M136.1 76.0h0M108.2 65.5h0M126.6 67.1h0M150.7 71.1h0M118.6 72.1h0M125.2 76.6h0M116.0 74.5h0M72.6 194.1h0M79.5 192.8h0M61.6 178.5h0M168.3 80.7h0M101.8 190.1h0M82.3 126.9h0M124.5 59.7h0M192.6 107.5h0M97.5 85.6h0M87.5 135.8h0M92.0 191.1h0M118.0 60.3h0M132.8 171.2h0" stroke="#E4641B" stroke-width="1.3" stroke-linecap="square" fill="none"/>
<path d="M106.6 156.2h0M81.4 178.3h0M93.3 182.3h0M102.9 177.4h0M81.2 159.0h0M99.2 175.7h0M75.9 162.6h0M86.8 154.6h0M94.4 179.1h0M95.9 153.6h0M71.7 161.2h0M99.5 168.6h0M87.0 157.1h0M89.2 177.4h0M93.0 178.0h0M81.0 158.9h0M80.6 157.1h0M90.2 180.3h0M112.3 165.5h0M74.2 169.2h0M90.2 172.3h0M69.2 162.6h0M105.5 169.6h0M85.5 184.0h0M89.0 163.0h0M74.1 156.5h0M81.0 169.8h0M95.9 178.9h0M96.7 155.4h0M95.9 168.8h0M97.2 179.8h0M104.2 102.4h0M115.6 95.4h0M106.0 96.8h0M116.1 107.5h0M108.1 120.2h0M107.8 98.4h0M112.5 112.6h0M106.0 96.2h0M104.9 104.5h0M106.4 127.6h0M113.7 130.8h0M114.5 108.2h0M118.8 106.7h0M156.3 164.4h0M154.3 155.7h0M160.1 173.8h0M164.9 163.6h0M159.2 171.6h0M170.2 177.3h0M159.3 170.0h0M161.7 168.1h0M157.1 154.8h0M152.0 172.1h0M156.3 171.5h0M168.9 170.1h0M163.3 169.9h0M173.9 174.7h0M153.5 156.0h0M164.8 176.5h0M169.4 179.5h0M167.9 178.9h0M170.4 176.3h0M163.3 167.0h0M151.0 153.7h0M163.9 128.0h0M160.3 121.9h0M154.4 126.9h0M150.6 118.4h0M149.5 119.0h0M159.7 118.7h0M65.8 186.1h0M71.6 192.6h0M162.2 227.7h0M154.1 219.4h0M148.5 229.1h0M140.8 229.9h0M162.9 219.9h0M142.6 220.1h0M147.7 219.0h0M166.5 213.4h0M51.9 110.7h0M200.1 163.4h0M82.0 196.9h0M87.1 93.1h0M163.9 136.8h0M209.1 119.4h0M189.4 162.0h0M132.4 40.8h0M184.8 195.5h0M161.1 143.9h0M68.9 140.8h0M128.8 152.9h0M99.5 142.4h0M53.9 170.4h0" stroke="#3E8BD5" stroke-width="1.3" stroke-linecap="square" fill="none"/>
<path d="M78.9 169.2h0M73.5 166.8h0M103.3 166.1h0M87.3 167.6h0M70.3 160.3h0M80.3 161.1h0M94.5 165.6h0M102.0 158.1h0M104.1 162.2h0M88.9 172.8h0M107.9 161.3h0M99.2 173.0h0M71.2 167.8h0M90.6 175.1h0M85.6 183.8h0M96.6 156.9h0M69.9 166.4h0M82.6 158.2h0M106.0 178.2h0M86.0 154.4h0M87.8 171.0h0M101.3 174.4h0M87.6 173.1h0M82.2 176.7h0M79.7 155.9h0M106.3 174.5h0M104.1 155.9h0M106.0 173.7h0M95.0 165.9h0M88.7 171.0h0M110.9 173.7h0M86.0 157.6h0M83.7 180.0h0M89.4 166.2h0M105.0 162.6h0M169.7 170.6h0M148.1 170.3h0M155.6 160.3h0M158.1 172.3h0M168.7 159.9h0M162.2 169.4h0M173.1 174.6h0M171.6 179.0h0M151.8 174.1h0M148.7 165.6h0M156.5 177.4h0M154.2 166.2h0M147.6 171.6h0M162.4 163.9h0M153.2 232.3h0M156.3 216.0h0M169.3 219.7h0M141.2 229.9h0M170.6 225.2h0M144.4 218.9h0M147.5 226.1h0M171.4 220.4h0M162.1 223.9h0M187.8 169.7h0M208.9 181.6h0M186.6 172.0h0M195.7 168.7h0M193.3 172.5h0M207.6 178.8h0M190.2 180.1h0M93.4 97.1h0M51.7 162.8h0M176.7 178.2h0M116.0 86.8h0M159.2 82.9h0M51.8 107.9h0M79.4 66.0h0" stroke="#9EB01F" stroke-width="1.3" stroke-linecap="square" fill="none"/>
<path d="M80.0 166.4h0M80.8 177.4h0M70.4 168.2h0M81.2 155.4h0M90.6 179.8h0M93.4 179.7h0M110.5 168.8h0M93.8 171.7h0M81.8 165.2h0M91.5 156.9h0M109.0 179.1h0M106.0 172.5h0M78.4 166.0h0M82.3 183.1h0M86.1 179.1h0M79.3 158.9h0M151.4 160.9h0M152.3 169.9h0M155.7 154.2h0M154.7 157.7h0M163.7 173.6h0M160.7 176.3h0M150.6 155.2h0M172.2 178.0h0M162.7 168.8h0M167.6 163.2h0M160.2 167.8h0M160.9 166.0h0M152.5 118.2h0M150.5 123.9h0M160.3 123.8h0M159.7 127.1h0M154.4 119.3h0M164.7 120.2h0M174.2 125.1h0M153.4 125.9h0M76.5 191.4h0M81.3 189.5h0M72.9 192.0h0M71.4 191.5h0M160.0 228.3h0M157.7 221.8h0M160.1 226.9h0M150.9 234.0h0M157.3 224.0h0M156.4 217.8h0M151.4 231.8h0M158.7 224.3h0M159.8 224.6h0M153.2 219.9h0M159.0 216.0h0M164.3 217.1h0M169.6 224.7h0M176.8 221.7h0M220.3 122.2h0M42.5 105.5h0M189.9 111.7h0M129.0 230.9h0M167.0 150.6h0M219.2 164.8h0M125.2 142.0h0M180.2 123.8h0M137.9 122.3h0M65.5 150.3h0M135.9 222.6h0M70.8 156.0h0M182.6 186.9h0M50.1 108.6h0" stroke="#8E8B6E" stroke-width="1.3" stroke-linecap="square" fill="none"/>
<path d="M97.1 167.1h0M98.8 165.3h0M95.8 170.8h0M109.2 163.4h0M103.6 172.4h0M95.2 177.3h0M70.9 165.8h0M73.2 160.4h0M104.5 173.6h0M93.0 157.8h0M72.3 161.1h0M88.7 169.2h0M85.7 167.8h0M83.0 154.6h0M84.7 175.1h0M96.5 173.6h0M111.8 171.0h0M75.6 158.7h0M82.9 181.3h0M89.5 171.2h0M71.0 163.6h0M104.7 165.6h0M105.6 177.1h0M94.4 174.5h0M90.9 183.1h0M76.7 164.1h0M91.7 167.8h0M83.8 161.3h0M74.5 159.6h0M99.4 167.0h0M99.1 162.4h0M95.1 160.6h0M96.9 184.1h0M98.3 181.6h0M85.3 182.7h0M106.2 174.9h0M96.7 166.2h0M93.1 173.7h0M95.5 175.6h0M107.6 180.8h0M97.9 181.5h0M105.0 176.8h0M99.2 179.5h0M73.6 169.7h0M88.5 177.7h0M110.2 173.6h0M95.5 176.5h0M119.0 105.5h0M107.8 115.1h0M108.2 106.2h0M118.8 105.5h0M104.2 99.0h0M111.2 95.7h0M118.0 98.8h0M105.8 118.8h0M116.4 101.6h0M110.8 105.1h0M106.8 103.9h0M107.5 101.7h0M113.2 127.2h0M105.8 109.2h0M114.7 112.1h0M135.6 74.2h0M145.8 75.2h0M108.3 66.7h0M133.8 69.5h0M131.1 75.5h0M134.6 80.8h0M144.4 76.4h0M111.3 74.0h0M118.3 69.1h0M67.7 189.7h0M74.3 187.7h0M70.3 180.1h0M79.8 189.4h0M78.5 196.6h0M62.6 177.6h0M79.8 195.6h0M69.7 188.4h0M71.9 181.3h0M73.8 182.3h0M82.0 157.5h0M176.1 139.5h0M127.4 205.0h0M181.0 158.0h0M123.9 194.6h0M102.1 99.7h0M96.6 129.6h0M167.6 132.6h0M135.2 130.8h0M105.1 197.1h0M96.8 203.4h0M121.0 112.6h0M189.8 153.7h0" stroke="#F5B7C3" stroke-width="1.3" stroke-linecap="square" fill="none"/>
<path d="M118.6 119.2h0M114.0 123.1h0M111.3 129.5h0M118.8 107.2h0M114.8 108.0h0M107.0 122.8h0M118.8 119.9h0M107.6 116.9h0M117.2 107.6h0M116.3 118.4h0M117.9 111.9h0M116.0 115.7h0M113.3 131.5h0M105.8 122.2h0M129.5 119.5h0M43.1 100.0h0M80.2 156.3h0M234.9 139.2h0M217.7 162.3h0M231.1 140.8h0M89.7 93.0h0M201.9 166.9h0M58.9 98.9h0M126.0 205.8h0M169.4 179.7h0M45.8 127.1h0M112.2 168.0h0M179.9 84.2h0" stroke="#F47B71" stroke-width="1.3" stroke-linecap="square" fill="none"/>
<path d="M116.3 117.0h0M118.8 102.0h0M111.9 110.0h0M114.3 104.8h0M107.0 102.4h0M115.0 113.1h0M110.8 99.4h0M133.4 70.9h0M123.6 85.2h0M123.3 84.5h0M123.0 72.2h0M129.2 68.7h0M125.8 82.9h0M124.9 83.2h0M129.5 82.1h0M122.0 78.1h0M131.3 67.1h0M139.2 74.6h0M140.1 69.1h0M145.3 120.6h0M166.9 130.2h0M147.5 119.8h0M166.8 125.4h0M169.8 127.7h0M155.8 119.1h0M170.7 125.9h0M148.9 119.9h0M203.8 170.2h0M188.4 172.2h0M199.9 171.9h0M73.9 72.5h0M187.8 181.2h0M105.3 68.7h0M61.0 118.8h0M123.5 217.1h0M176.3 187.9h0M182.3 162.6h0M73.1 77.9h0M83.0 114.2h0M187.9 163.2h0" stroke="#C59B0B" stroke-width="1.3" stroke-linecap="square" fill="none"/>
<path d="M117.4 121.8h0M118.3 99.7h0M117.6 112.6h0M116.5 94.5h0M111.8 130.7h0M117.0 122.6h0M107.1 105.3h0M115.7 131.0h0M115.2 130.5h0M115.4 121.5h0M105.2 101.8h0M166.9 178.8h0M147.2 167.1h0M172.5 167.2h0M154.6 168.5h0M168.7 174.2h0M154.4 165.8h0M152.3 173.6h0M171.7 169.9h0M157.1 161.9h0M157.0 169.9h0M172.2 171.6h0M175.8 177.2h0M157.0 173.5h0M153.5 119.9h0M142.9 125.6h0M145.7 118.2h0M167.7 119.1h0M97.3 129.2h0M173.8 195.2h0M183.8 136.6h0M127.9 96.7h0M56.7 127.8h0M130.3 93.8h0" stroke="#A98CF7" stroke-width="1.3" stroke-linecap="square" fill="none"/>
<path d="M107.3 101.5h0M114.8 118.7h0M105.4 104.7h0M110.9 117.3h0M113.0 115.7h0M110.6 102.8h0M118.0 124.2h0M117.7 119.7h0M109.1 122.0h0M105.2 109.4h0M114.1 118.5h0M116.4 102.2h0M139.6 69.1h0M135.7 82.0h0M135.0 64.9h0M114.4 67.5h0M131.2 65.5h0M138.8 69.8h0M140.2 64.6h0M148.0 68.5h0M111.6 66.1h0M159.2 118.1h0M165.7 121.0h0M160.7 125.4h0M152.7 121.8h0M154.5 126.9h0M160.7 124.7h0M167.5 121.9h0M156.5 118.0h0M174.7 125.3h0M148.3 122.1h0M174.9 122.5h0M162.6 124.6h0M170.4 183.4h0M130.7 170.6h0M98.0 79.8h0M168.5 103.7h0M98.9 186.7h0M119.3 181.2h0" stroke="#F2CB17" stroke-width="1.3" stroke-linecap="square" fill="none"/>
<path d="M130.2 71.1h0M142.0 67.6h0M143.2 68.2h0M136.7 71.2h0M117.3 73.9h0M118.1 77.4h0M133.8 72.5h0M123.0 82.4h0M126.6 69.9h0M135.1 67.7h0M137.0 78.9h0M131.1 78.3h0M132.1 70.7h0M129.1 68.8h0M158.9 158.4h0M158.3 170.2h0M159.9 159.4h0M152.2 171.6h0M171.8 170.3h0M168.8 165.8h0M163.9 168.6h0M154.6 158.8h0M158.9 162.9h0M167.8 173.7h0M160.5 170.4h0M152.4 172.9h0M168.9 161.7h0M169.5 171.9h0M155.0 120.6h0M167.7 123.1h0M170.2 127.2h0M149.3 126.3h0M168.6 129.6h0M149.3 119.3h0M162.5 128.6h0M170.8 225.1h0M146.2 235.7h0M144.5 233.8h0M151.6 226.6h0M159.1 217.0h0M164.4 222.1h0M165.0 217.0h0M144.6 230.4h0M155.5 226.9h0M60.5 163.0h0M138.5 232.9h0M137.9 81.8h0M191.3 111.7h0M165.7 154.9h0M63.2 152.1h0M67.8 124.0h0M133.6 182.0h0M229.4 130.5h0M128.6 228.2h0" stroke="#5559B1" stroke-width="1.3" stroke-linecap="square" fill="none"/>
<path d="M146.2 77.7h0M121.1 68.6h0M136.4 70.4h0M130.9 79.5h0M131.7 67.6h0M125.7 69.4h0M116.4 69.1h0M144.6 70.1h0M141.7 77.0h0M121.1 81.0h0M144.0 70.0h0M136.2 70.7h0M207.1 175.7h0M206.9 176.1h0M206.2 182.2h0M208.2 177.1h0M192.0 180.6h0M193.2 178.3h0M143.9 160.9h0M231.8 122.0h0M230.4 136.8h0M124.9 42.1h0M124.8 231.2h0M181.7 128.9h0M176.0 73.9h0" stroke="#10B857" stroke-width="1.3" stroke-linecap="square" fill="none"/>
<path d="M146.4 226.4h0M156.5 232.3h0M149.5 219.2h0M169.1 224.6h0M152.5 226.7h0M161.5 217.2h0M143.6 234.7h0M163.4 226.7h0M190.0 173.9h0M188.6 175.1h0M196.6 184.0h0M45.8 97.2h0M76.1 84.6h0M148.9 197.7h0M153.5 58.6h0M55.9 131.2h0M125.1 96.2h0M129.8 100.0h0M81.8 78.4h0" stroke="#F89B1C" stroke-width="1.3" stroke-linecap="square" fill="none"/>
<path d="M114.6 50.5h0M146.4 96.3h0M218.1 121.4h0M135.1 167.0h0M78.1 136.4h0M40.4 106.8h0M129.4 159.6h0M181.4 197.3h0M184.1 178.5h0M154.9 117.9h0" stroke="#14B4EA" stroke-width="1.3" stroke-linecap="square" fill="none"/>
<path d="M104.0 114.2h0M109.3 171.9h0M171.1 107.7h0M116.7 53.2h0M215.6 138.9h0" stroke="#D9BE92" stroke-width="1.3" stroke-linecap="square" fill="none"/>
<path d="M40.1 251.5V224M39.3 250.7H67" stroke="#111" stroke-width="1.6" fill="none"/>
<path d="M36.8 225.2L40.1 219.4L43.4 225.2Z M66.2 247.4L71.8 250.7L66.2 254Z" fill="#111"/>
<text x="74.9" y="253.6" font-size="8.3">tSNE1</text>
<text x="0" y="0" font-size="8.3" transform="translate(43.9,217.3) rotate(-90)">tSNE2</text>
<text x="16.6" y="40.9" font-size="14">a</text>
<circle cx="251.3" cy="85.9" r="2.3" fill="#F47B71"/>
<text x="259.6" y="88.4" font-size="7.0">CD4 IFN response T cell</text>
<circle cx="251.3" cy="94.7" r="2.3" fill="#F2CB17"/>
<text x="259.6" y="97.2" font-size="7.0">CD4 naive T cell</text>
<circle cx="251.3" cy="103.5" r="2.3" fill="#C59B0B"/>
<text x="259.6" y="106.0" font-size="7.0">CD4 regulatory T cell</text>
<circle cx="251.3" cy="112.4" r="2.3" fill="#8E8B6E"/>
<text x="259.6" y="114.9" font-size="7.0">GZMK+ CD8 Tcell</text>
<circle cx="251.3" cy="121.2" r="2.3" fill="#5559B1"/>
<text x="259.6" y="123.7" font-size="7.0">HSP+ CD4 T cell</text>
<circle cx="251.3" cy="130.0" r="2.3" fill="#10B857"/>
<text x="259.6" y="132.5" font-size="7.0">IL7R+ CD4 Treg</text>
<circle cx="251.3" cy="138.8" r="2.3" fill="#D9BE92"/>
<text x="259.6" y="141.3" font-size="7.0">NK cell</text>
<circle cx="251.3" cy="147.6" r="2.3" fill="#E4641B"/>
<text x="259.6" y="150.1" font-size="7.0">NK−like CD8 T cell</text>
<circle cx="251.3" cy="156.5" r="2.3" fill="#14B4EA"/>
<text x="259.6" y="159.0" font-size="7.0">NKG2A+ NK cell</text>
<circle cx="251.3" cy="165.3" r="2.3" fill="#F5B7C3"/>
<text x="259.6" y="167.8" font-size="7.0">NKG2A+ NK−like CD8 T cell</text>
<circle cx="251.3" cy="174.1" r="2.3" fill="#A98CF7"/>
<text x="259.6" y="176.6" font-size="7.0">rest CD4 Tcm</text>
<circle cx="251.3" cy="182.9" r="2.3" fill="#3E8BD5"/>
<text x="259.6" y="185.4" font-size="7.0">TOX+ CD8 T cell</text>
<circle cx="251.3" cy="191.7" r="2.3" fill="#F89B1C"/>
<text x="259.6" y="194.2" font-size="7.0">TRBC1+ CD4 Tn</text>
<circle cx="251.3" cy="200.6" r="2.3" fill="#9EB01F"/>
<text x="259.6" y="203.1" font-size="7.0">TRBC1+ CD8 Teff</text>
<rect x="393.4" y="0.6" width="189.2" height="285.8" fill="none" stroke="#000" stroke-width="0.9"/>
<text x="338.1" y="40.8" font-size="14">b</text>
<text x="390.0" y="12.0" font-size="8" font-style="italic" text-anchor="end">CD4</text>
<path d="M390.5 9.1H393.4" stroke="#333" stroke-width="0.6"/>
<circle cx="401.3" cy="9.1" r="1.30" fill="#F2B6A6" stroke="#222" stroke-width="0.45"/>
<circle cx="414.5" cy="9.1" r="1.30" fill="#DD7058" stroke="#222" stroke-width="0.45"/>
<circle cx="427.7" cy="9.1" r="1.30" fill="#DD7058" stroke="#222" stroke-width="0.45"/>
<circle cx="440.9" cy="9.1" r="1.30" fill="#DD7058" stroke="#222" stroke-width="0.45"/>
<circle cx="454.1" cy="9.1" r="0.55" fill="#333"/>
<circle cx="467.3" cy="9.1" r="0.55" fill="#333"/>
<circle cx="480.5" cy="9.1" r="0.55" fill="#333"/>
<circle cx="493.7" cy="9.1" r="1.30" fill="#F2B6A6" stroke="#222" stroke-width="0.45"/>
<circle cx="506.9" cy="9.1" r="0.55" fill="#333"/>
<circle cx="520.1" cy="9.1" r="0.55" fill="#333"/>
<circle cx="533.3" cy="9.1" r="0.55" fill="#333"/>
<circle cx="546.5" cy="9.1" r="0.55" fill="#333"/>
<circle cx="559.7" cy="9.1" r="0.55" fill="#333"/>
<circle cx="572.9" cy="9.1" r="0.55" fill="#333"/>
<text x="390.0" y="19.8" font-size="8" font-style="italic" text-anchor="end">IL7R</text>
<path d="M390.5 16.9H393.4" stroke="#333" stroke-width="0.6"/>
<circle cx="401.3" cy="16.9" r="4.45" fill="#C9442E" stroke="#222" stroke-width="0.45"/>
<circle cx="414.5" cy="16.9" r="4.45" fill="#C9442E" stroke="#222" stroke-width="0.45"/>
<circle cx="427.7" cy="16.9" r="4.45" fill="#E9917C" stroke="#222" stroke-width="0.45"/>
<circle cx="440.9" cy="16.9" r="1.30" fill="#FFFFFF" stroke="#222" stroke-width="0.45"/>
<circle cx="454.1" cy="16.9" r="2.15" fill="#FFFFFF" stroke="#222" stroke-width="0.45"/>
<circle cx="467.3" cy="16.9" r="2.15" fill="#FFFFFF" stroke="#222" stroke-width="0.45"/>
<circle cx="480.5" cy="16.9" r="1.30" fill="#FFFFFF" stroke="#222" stroke-width="0.45"/>
<circle cx="493.7" cy="16.9" r="1.30" fill="#FFFFFF" stroke="#222" stroke-width="0.45"/>
<circle cx="506.9" cy="16.9" r="1.30" fill="#FFFFFF" stroke="#222" stroke-width="0.45"/>
<circle cx="520.1" cy="16.9" r="1.30" fill="#FFFFFF" stroke="#222" stroke-width="0.45"/>
<circle cx="533.3" cy="16.9" r="2.15" fill="#FFFFFF" stroke="#222" stroke-width="0.45"/>
<circle cx="546.5" cy="16.9" r="2.15" fill="#FFFFFF" stroke="#222" stroke-width="0.45"/>
<circle cx="559.7" cy="16.9" r="0.55" fill="#333"/>
<circle cx="572.9" cy="16.9" r="0.55" fill="#333"/>
<text x="390.0" y="27.6" font-size="8" font-style="italic" text-anchor="end">CCR7</text>
<path d="M390.5 24.7H393.4" stroke="#333" stroke-width="0.6"/>
<circle cx="401.3" cy="24.7" r="1.30" fill="#DD7058" stroke="#222" stroke-width="0.45"/>
<circle cx="414.5" cy="24.7" r="1.30" fill="#DD7058" stroke="#222" stroke-width="0.45"/>
<circle cx="427.7" cy="24.7" r="1.30" fill="#C9442E" stroke="#222" stroke-width="0.45"/>
<circle cx="440.9" cy="24.7" r="0.55" fill="#333"/>
<circle cx="454.1" cy="24.7" r="0.55" fill="#333"/>
<circle cx="467.3" cy="24.7" r="0.55" fill="#333"/>
<circle cx="480.5" cy="24.7" r="0.55" fill="#333"/>
<circle cx="493.7" cy="24.7" r="0.55" fill="#333"/>
<circle cx="506.9" cy="24.7" r="0.55" fill="#333"/>
<circle cx="520.1" cy="24.7" r="0.55" fill="#333"/>
<circle cx="533.3" cy="24.7" r="0.55" fill="#333"/>
<circle cx="546.5" cy="24.7" r="0.55" fill="#333"/>
<circle cx="559.7" cy="24.7" r="0.55" fill="#333"/>
<circle cx="572.9" cy="24.7" r="0.55" fill="#333"/>
<text x="390.0" y="35.4" font-size="8" font-style="italic" text-anchor="end">LEF1</text>
<path d="M390.5 32.5H393.4" stroke="#333" stroke-width="0.6"/>
<circle cx="401.3" cy="32.5" r="2.15" fill="#C9442E" stroke="#222" stroke-width="0.45"/>
<circle cx="414.5" cy="32.5" r="2.15" fill="#C9442E" stroke="#222" stroke-width="0.45"/>
<circle cx="427.7" cy="32.5" r="2.15" fill="#C9442E" stroke="#222" stroke-width="0.45"/>
<circle cx="440.9" cy="32.5" r="0.55" fill="#333"/>
<circle cx="454.1" cy="32.5" r="0.55" fill="#333"/>
<circle cx="467.3" cy="32.5" r="0.55" fill="#333"/>
<circle cx="480.5" cy="32.5" r="0.55" fill="#333"/>
<circle cx="493.7" cy="32.5" r="0.55" fill="#333"/>
<circle cx="506.9" cy="32.5" r="0.55" fill="#333"/>
<circle cx="520.1" cy="32.5" r="0.55" fill="#333"/>
<circle cx="533.3" cy="32.5" r="0.55" fill="#333"/>
<circle cx="546.5" cy="32.5" r="1.30" fill="#FFFFFF" stroke="#222" stroke-width="0.45"/>
<circle cx="559.7" cy="32.5" r="1.30" fill="#FFFFFF" stroke="#222" stroke-width="0.45"/>
<circle cx="572.9" cy="32.5" r="0.55" fill="#333"/>
<text x="390.0" y="43.3" font-size="8" font-style="italic" text-anchor="end">SELL</text>
<path d="M390.5 40.4H393.4" stroke="#333" stroke-width="0.6"/>
<circle cx="401.3" cy="40.4" r="1.30" fill="#DD7058" stroke="#222" stroke-width="0.45"/>
<circle cx="414.5" cy="40.4" r="1.30" fill="#DD7058" stroke="#222" stroke-width="0.45"/>
<circle cx="427.7" cy="40.4" r="1.30" fill="#DD7058" stroke="#222" stroke-width="0.45"/>
<circle cx="440.9" cy="40.4" r="0.55" fill="#333"/>
<circle cx="454.1" cy="40.4" r="0.55" fill="#333"/>
<circle cx="467.3" cy="40.4" r="0.55" fill="#333"/>
<circle cx="480.5" cy="40.4" r="0.55" fill="#333"/>
<circle cx="493.7" cy="40.4" r="0.55" fill="#333"/>
<circle cx="506.9" cy="40.4" r="0.55" fill="#333"/>
<circle cx="520.1" cy="40.4" r="0.55" fill="#333"/>
<circle cx="533.3" cy="40.4" r="0.55" fill="#333"/>
<circle cx="546.5" cy="40.4" r="0.55" fill="#333"/>
<circle cx="559.7" cy="40.4" r="0.55" fill="#333"/>
<circle cx="572.9" cy="40.4" r="0.55" fill="#333"/>
<text x="390.0" y="51.1" font-size="8" font-style="italic" text-anchor="end">KLF2</text>
<path d="M390.5 48.2H393.4" stroke="#333" stroke-width="0.6"/>
<circle cx="401.3" cy="48.2" r="2.15" fill="#F2B6A6" stroke="#222" stroke-width="0.45"/>
<circle cx="414.5" cy="48.2" r="2.15" fill="#DD7058" stroke="#222" stroke-width="0.45"/>
<circle cx="427.7" cy="48.2" r="2.15" fill="#F2B6A6" stroke="#222" stroke-width="0.45"/>
<circle cx="440.9" cy="48.2" r="0.55" fill="#333"/>
<circle cx="454.1" cy="48.2" r="1.30" fill="#FFFFFF" stroke="#222" stroke-width="0.45"/>
<circle cx="467.3" cy="48.2" r="1.30" fill="#F2B6A6" stroke="#222" stroke-width="0.45"/>
<circle cx="480.5" cy="48.2" r="1.30" fill="#FFFFFF" stroke="#222" stroke-width="0.45"/>
<circle cx="493.7" cy="48.2" r="1.30" fill="#FFFFFF" stroke="#222" stroke-width="0.45"/>
<circle cx="506.9" cy="48.2" r="1.30" fill="#FFFFFF" stroke="#222" stroke-width="0.45"/>
<circle cx="520.1" cy="48.2" r="1.30" fill="#FFFFFF" stroke="#222" stroke-width="0.45"/>
<circle cx="533.3" cy="48.2" r="1.30" fill="#FFFFFF" stroke="#222" stroke-width="0.45"/>
<circle cx="546.5" cy="48.2" r="1.30" fill="#FFFFFF" stroke="#222" stroke-width="0.45"/>
<circle cx="559.7" cy="48.2" r="0.55" fill="#333"/>
<circle cx="572.9" cy="48.2" r="2.15" fill="#C9442E" stroke="#222" stroke-width="0.45"/>
<text x="390.0" y="58.9" font-size="8" font-style="italic" text-anchor="end">TRBC1</text>
<path d="M390.5 56.0H393.4" stroke="#333" stroke-width="0.6"/>
<circle cx="401.3" cy="56.0" r="0.55" fill="#333"/>
<circle cx="414.5" cy="56.0" r="4.45" fill="#C9442E" stroke="#222" stroke-width="0.45"/>
<circle cx="427.7" cy="56.0" r="0.55" fill="#333"/>
<circle cx="440.9" cy="56.0" r="1.30" fill="#FFFFFF" stroke="#222" stroke-width="0.45"/>
<circle cx="454.1" cy="56.0" r="1.30" fill="#FFFFFF" stroke="#222" stroke-width="0.45"/>
<circle cx="467.3" cy="56.0" r="1.30" fill="#FFFFFF" stroke="#222" stroke-width="0.45"/>
<circle cx="480.5" cy="56.0" r="0.55" fill="#333"/>
<circle cx="493.7" cy="56.0" r="0.55" fill="#333"/>
<circle cx="506.9" cy="56.0" r="4.45" fill="#B01E0E" stroke="#222" stroke-width="0.45"/>
<circle cx="520.1" cy="56.0" r="1.30" fill="#FFFFFF" stroke="#222" stroke-width="0.45"/>
<circle cx="533.3" cy="56.0" r="1.30" fill="#FFFFFF" stroke="#222" stroke-width="0.45"/>
<circle cx="546.5" cy="56.0" r="1.30" fill="#FFFFFF" stroke="#222" stroke-width="0.45"/>
<circle cx="559.7" cy="56.0" r="0.55" fill="#333"/>
<circle cx="572.9" cy="56.0" r="1.30" fill="#FFFFFF" stroke="#222" stroke-width="0.45"/>
<text x="390.0" y="66.7" font-size="8" font-style="italic" text-anchor="end">FOXP3</text>
<path d="M390.5 63.8H393.4" stroke="#333" stroke-width="0.6"/>
<circle cx="401.3" cy="63.8" r="0.55" fill="#333"/>
<circle cx="414.5" cy="63.8" r="0.55" fill="#333"/>
<circle cx="427.7" cy="63.8" r="0.55" fill="#333"/>
<circle cx="440.9" cy="63.8" r="1.30" fill="#C9442E" stroke="#222" stroke-width="0.45"/>
<circle cx="454.1" cy="63.8" r="0.55" fill="#333"/>
<circle cx="467.3" cy="63.8" r="0.55" fill="#333"/>
<circle cx="480.5" cy="63.8" r="0.55" fill="#333"/>
<circle cx="493.7" cy="63.8" r="0.55" fill="#333"/>
<circle cx="506.9" cy="63.8" r="0.55" fill="#333"/>
<circle cx="520.1" cy="63.8" r="0.55" fill="#333"/>
<circle cx="533.3" cy="63.8" r="0.55" fill="#333"/>
<circle cx="546.5" cy="63.8" r="0.55" fill="#333"/>
<circle cx="559.7" cy="63.8" r="0.55" fill="#333"/>
<circle cx="572.9" cy="63.8" r="0.55" fill="#333"/>
<text x="390.0" y="74.5" font-size="8" font-style="italic" text-anchor="end">CTLA4</text>
<path d="M390.5 71.6H393.4" stroke="#333" stroke-width="0.6"/>
<circle cx="401.3" cy="71.6" r="0.55" fill="#333"/>
<circle cx="414.5" cy="71.6" r="0.55" fill="#333"/>
<circle cx="427.7" cy="71.6" r="0.55" fill="#333"/>
<circle cx="440.9" cy="71.6" r="1.30" fill="#B01E0E" stroke="#222" stroke-width="0.45"/>
<circle cx="454.1" cy="71.6" r="0.55" fill="#333"/>
<circle cx="467.3" cy="71.6" r="0.55" fill="#333"/>
<circle cx="480.5" cy="71.6" r="0.55" fill="#333"/>
<circle cx="493.7" cy="71.6" r="0.55" fill="#333"/>
<circle cx="506.9" cy="71.6" r="0.55" fill="#333"/>
<circle cx="520.1" cy="71.6" r="0.55" fill="#333"/>
<circle cx="533.3" cy="71.6" r="0.55" fill="#333"/>
<circle cx="546.5" cy="71.6" r="0.55" fill="#333"/>
<circle cx="559.7" cy="71.6" r="0.55" fill="#333"/>
<circle cx="572.9" cy="71.6" r="0.55" fill="#333"/>
<text x="390.0" y="82.3" font-size="8" font-style="italic" text-anchor="end">ICOS</text>
<path d="M390.5 79.4H393.4" stroke="#333" stroke-width="0.6"/>
<circle cx="401.3" cy="79.4" r="0.55" fill="#333"/>
<circle cx="414.5" cy="79.4" r="1.30" fill="#DD7058" stroke="#222" stroke-width="0.45"/>
<circle cx="427.7" cy="79.4" r="4.45" fill="#B01E0E" stroke="#222" stroke-width="0.45"/>
<circle cx="440.9" cy="79.4" r="2.15" fill="#E9917C" stroke="#222" stroke-width="0.45"/>
<circle cx="454.1" cy="79.4" r="1.30" fill="#FFFFFF" stroke="#222" stroke-width="0.45"/>
<circle cx="467.3" cy="79.4" r="1.30" fill="#FFFFFF" stroke="#222" stroke-width="0.45"/>
<circle cx="480.5" cy="79.4" r="0.55" fill="#333"/>
<circle cx="493.7" cy="79.4" r="0.55" fill="#333"/>
<circle cx="506.9" cy="79.4" r="1.30" fill="#FFFFFF" stroke="#222" stroke-width="0.45"/>
<circle cx="520.1" cy="79.4" r="1.30" fill="#DD7058" stroke="#222" stroke-width="0.45"/>
<circle cx="533.3" cy="79.4" r="1.30" fill="#FFFFFF" stroke="#222" stroke-width="0.45"/>
<circle cx="546.5" cy="79.4" r="1.30" fill="#FFFFFF" stroke="#222" stroke-width="0.45"/>
<circle cx="559.7" cy="79.4" r="0.55" fill="#333"/>
<circle cx="572.9" cy="79.4" r="0.55" fill="#333"/>
<text x="390.0" y="90.2" font-size="8" font-style="italic" text-anchor="end">PDCD1</text>
<path d="M390.5 87.2H393.4" stroke="#333" stroke-width="0.6"/>
<circle cx="401.3" cy="87.2" r="0.55" fill="#333"/>
<circle cx="414.5" cy="87.2" r="0.55" fill="#333"/>
<circle cx="427.7" cy="87.2" r="0.55" fill="#333"/>
<circle cx="440.9" cy="87.2" r="0.55" fill="#333"/>
<circle cx="454.1" cy="87.2" r="0.55" fill="#333"/>
<circle cx="467.3" cy="87.2" r="0.55" fill="#333"/>
<circle cx="480.5" cy="87.2" r="0.55" fill="#333"/>
<circle cx="493.7" cy="87.2" r="0.55" fill="#333"/>
<circle cx="506.9" cy="87.2" r="1.30" fill="#DD7058" stroke="#222" stroke-width="0.45"/>
<circle cx="520.1" cy="87.2" r="1.30" fill="#DD7058" stroke="#222" stroke-width="0.45"/>
<circle cx="533.3" cy="87.2" r="0.55" fill="#333"/>
<circle cx="546.5" cy="87.2" r="0.55" fill="#333"/>
<circle cx="559.7" cy="87.2" r="0.55" fill="#333"/>
<circle cx="572.9" cy="87.2" r="0.55" fill="#333"/>
<text x="390.0" y="98.0" font-size="8" font-style="italic" text-anchor="end">TIGIT</text>
<path d="M390.5 95.1H393.4" stroke="#333" stroke-width="0.6"/>
<circle cx="401.3" cy="95.1" r="0.55" fill="#333"/>
<circle cx="414.5" cy="95.1" r="0.55" fill="#333"/>
<circle cx="427.7" cy="95.1" r="0.55" fill="#333"/>
<circle cx="440.9" cy="95.1" r="1.30" fill="#B01E0E" stroke="#222" stroke-width="0.45"/>
<circle cx="454.1" cy="95.1" r="1.30" fill="#FFFFFF" stroke="#222" stroke-width="0.45"/>
<circle cx="467.3" cy="95.1" r="1.30" fill="#F2B6A6" stroke="#222" stroke-width="0.45"/>
<circle cx="480.5" cy="95.1" r="0.55" fill="#333"/>
<circle cx="493.7" cy="95.1" r="0.55" fill="#333"/>
<circle cx="506.9" cy="95.1" r="1.30" fill="#F2B6A6" stroke="#222" stroke-width="0.45"/>
<circle cx="520.1" cy="95.1" r="1.30" fill="#F2B6A6" stroke="#222" stroke-width="0.45"/>
<circle cx="533.3" cy="95.1" r="1.30" fill="#FFFFFF" stroke="#222" stroke-width="0.45"/>
<circle cx="546.5" cy="95.1" r="1.30" fill="#FFFFFF" stroke="#222" stroke-width="0.45"/>
<circle cx="559.7" cy="95.1" r="0.55" fill="#333"/>
<circle cx="572.9" cy="95.1" r="1.30" fill="#FFFFFF" stroke="#222" stroke-width="0.45"/>
<text x="390.0" y="105.8" font-size="8" font-style="italic" text-anchor="end">LAG3</text>
<path d="M390.5 102.9H393.4" stroke="#333" stroke-width="0.6"/>
<circle cx="401.3" cy="102.9" r="0.55" fill="#333"/>
<circle cx="414.5" cy="102.9" r="0.55" fill="#333"/>
<circle cx="427.7" cy="102.9" r="0.55" fill="#333"/>
<circle cx="440.9" cy="102.9" r="0.55" fill="#333"/>
<circle cx="454.1" cy="102.9" r="2.15" fill="#B01E0E" stroke="#222" stroke-width="0.45"/>
<circle cx="467.3" cy="102.9" r="0.55" fill="#333"/>
<circle cx="480.5" cy="102.9" r="0.55" fill="#333"/>
<circle cx="493.7" cy="102.9" r="0.55" fill="#333"/>
<circle cx="506.9" cy="102.9" r="1.30" fill="#FFFFFF" stroke="#222" stroke-width="0.45"/>
<circle cx="520.1" cy="102.9" r="1.30" fill="#FFFFFF" stroke="#222" stroke-width="0.45"/>
<circle cx="533.3" cy="102.9" r="1.30" fill="#F2B6A6" stroke="#222" stroke-width="0.45"/>
<circle cx="546.5" cy="102.9" r="1.30" fill="#FFFFFF" stroke="#222" stroke-width="0.45"/>
<circle cx="559.7" cy="102.9" r="0.55" fill="#333"/>
<circle cx="572.9" cy="102.9" r="1.30" fill="#FFFFFF" stroke="#222" stroke-width="0.45"/>
<text x="390.0" y="113.6" font-size="8" font-style="italic" text-anchor="end">MX1</text>
<path d="M390.5 110.7H393.4" stroke="#333" stroke-width="0.6"/>
<circle cx="401.3" cy="110.7" r="1.30" fill="#FFFFFF" stroke="#222" stroke-width="0.45"/>
<circle cx="414.5" cy="110.7" r="1.30" fill="#FFFFFF" stroke="#222" stroke-width="0.45"/>
<circle cx="427.7" cy="110.7" r="1.30" fill="#FFFFFF" stroke="#222" stroke-width="0.45"/>
<circle cx="440.9" cy="110.7" r="1.30" fill="#FFFFFF" stroke="#222" stroke-width="0.45"/>
<circle cx="454.1" cy="110.7" r="3.15" fill="#B01E0E" stroke="#222" stroke-width="0.45"/>
<circle cx="467.3" cy="110.7" r="1.30" fill="#FFFFFF" stroke="#222" stroke-width="0.45"/>
<circle cx="480.5" cy="110.7" r="1.30" fill="#FFFFFF" stroke="#222" stroke-width="0.45"/>
<circle cx="493.7" cy="110.7" r="1.30" fill="#FFFFFF" stroke="#222" stroke-width="0.45"/>
<circle cx="506.9" cy="110.7" r="1.30" fill="#FFFFFF" stroke="#222" stroke-width="0.45"/>
<circle cx="520.1" cy="110.7" r="1.30" fill="#FFFFFF" stroke="#222" stroke-width="0.45"/>
<circle cx="533.3" cy="110.7" r="1.30" fill="#FFFFFF" stroke="#222" stroke-width="0.45"/>
<circle cx="546.5" cy="110.7" r="1.30" fill="#FFFFFF" stroke="#222" stroke-width="0.45"/>
<circle cx="559.7" cy="110.7" r="1.30" fill="#FFFFFF" stroke="#222" stroke-width="0.45"/>
<circle cx="572.9" cy="110.7" r="1.30" fill="#FFFFFF" stroke="#222" stroke-width="0.45"/>
<text x="390.0" y="121.4" font-size="8" font-style="italic" text-anchor="end">STAT1</text>
<path d="M390.5 118.5H393.4" stroke="#333" stroke-width="0.6"/>
<circle cx="401.3" cy="118.5" r="1.30" fill="#FFFFFF" stroke="#222" stroke-width="0.45"/>
<circle cx="414.5" cy="118.5" r="2.15" fill="#FFFFFF" stroke="#222" stroke-width="0.45"/>
<circle cx="427.7" cy="118.5" r="2.15" fill="#FFFFFF" stroke="#222" stroke-width="0.45"/>
<circle cx="440.9" cy="118.5" r="2.15" fill="#FFFFFF" stroke="#222" stroke-width="0.45"/>
<circle cx="454.1" cy="118.5" r="3.15" fill="#B01E0E" stroke="#222" stroke-width="0.45"/>
<circle cx="467.3" cy="118.5" r="2.15" fill="#FFFFFF" stroke="#222" stroke-width="0.45"/>
<circle cx="480.5" cy="118.5" r="2.15" fill="#FFFFFF" stroke="#222" stroke-width="0.45"/>
<circle cx="493.7" cy="118.5" r="2.15" fill="#FFFFFF" stroke="#222" stroke-width="0.45"/>
<circle cx="506.9" cy="118.5" r="1.30" fill="#FFFFFF" stroke="#222" stroke-width="0.45"/>
<circle cx="520.1" cy="118.5" r="2.15" fill="#FFFFFF" stroke="#222" stroke-width="0.45"/>
<circle cx="533.3" cy="118.5" r="2.15" fill="#FFFFFF" stroke="#222" stroke-width="0.45"/>
<circle cx="546.5" cy="118.5" r="1.30" fill="#FFFFFF" stroke="#222" stroke-width="0.45"/>
<circle cx="559.7" cy="118.5" r="1.30" fill="#FFFFFF" stroke="#222" stroke-width="0.45"/>
<circle cx="572.9" cy="118.5" r="1.30" fill="#FFFFFF" stroke="#222" stroke-width="0.45"/>
<text x="390.0" y="129.2" font-size="8" font-style="italic" text-anchor="end">IFIT1</text>
<path d="M390.5 126.3H393.4" stroke="#333" stroke-width="0.6"/>
<circle cx="401.3" cy="126.3" r="0.55" fill="#333"/>
<circle cx="414.5" cy="126.3" r="0.55" fill="#333"/>
<circle cx="427.7" cy="126.3" r="0.55" fill="#333"/>
<circle cx="440.9" cy="126.3" r="0.55" fill="#333"/>
<circle cx="454.1" cy="126.3" r="2.15" fill="#B01E0E" stroke="#222" stroke-width="0.45"/>
<circle cx="467.3" cy="126.3" r="0.55" fill="#333"/>
<circle cx="480.5" cy="126.3" r="0.55" fill="#333"/>
<circle cx="493.7" cy="126.3" r="0.55" fill="#333"/>
<circle cx="506.9" cy="126.3" r="0.55" fill="#333"/>
<circle cx="520.1" cy="126.3" r="0.55" fill="#333"/>
<circle cx="533.3" cy="126.3" r="0.55" fill="#333"/>
<circle cx="546.5" cy="126.3" r="0.55" fill="#333"/>
<circle cx="559.7" cy="126.3" r="0.55" fill="#333"/>
<circle cx="572.9" cy="126.3" r="0.55" fill="#333"/>
<text x="390.0" y="137.0" font-size="8" font-style="italic" text-anchor="end">HSPA1A</text>
<path d="M390.5 134.1H393.4" stroke="#333" stroke-width="0.6"/>
<circle cx="401.3" cy="134.1" r="1.30" fill="#FFFFFF" stroke="#222" stroke-width="0.45"/>
<circle cx="414.5" cy="134.1" r="1.30" fill="#FFFFFF" stroke="#222" stroke-width="0.45"/>
<circle cx="427.7" cy="134.1" r="1.30" fill="#FFFFFF" stroke="#222" stroke-width="0.45"/>
<circle cx="440.9" cy="134.1" r="1.30" fill="#FFFFFF" stroke="#222" stroke-width="0.45"/>
<circle cx="454.1" cy="134.1" r="1.30" fill="#FFFFFF" stroke="#222" stroke-width="0.45"/>
<circle cx="467.3" cy="134.1" r="3.15" fill="#B01E0E" stroke="#222" stroke-width="0.45"/>
<circle cx="480.5" cy="134.1" r="1.30" fill="#FFFFFF" stroke="#222" stroke-width="0.45"/>
<circle cx="493.7" cy="134.1" r="0.55" fill="#333"/>
<circle cx="506.9" cy="134.1" r="1.30" fill="#FFFFFF" stroke="#222" stroke-width="0.45"/>
<circle cx="520.1" cy="134.1" r="1.30" fill="#FFFFFF" stroke="#222" stroke-width="0.45"/>
<circle cx="533.3" cy="134.1" r="1.30" fill="#FFFFFF" stroke="#222" stroke-width="0.45"/>
<circle cx="546.5" cy="134.1" r="1.30" fill="#FFFFFF" stroke="#222" stroke-width="0.45"/>
<circle cx="559.7" cy="134.1" r="1.30" fill="#FFFFFF" stroke="#222" stroke-width="0.45"/>
<circle cx="572.9" cy="134.1" r="1.30" fill="#FFFFFF" stroke="#222" stroke-width="0.45"/>
<text x="390.0" y="144.9" font-size="8" font-style="italic" text-anchor="end">HSPA1B</text>
<path d="M390.5 142.0H393.4" stroke="#333" stroke-width="0.6"/>
<circle cx="401.3" cy="142.0" r="1.30" fill="#FFFFFF" stroke="#222" stroke-width="0.45"/>
<circle cx="414.5" cy="142.0" r="1.30" fill="#FFFFFF" stroke="#222" stroke-width="0.45"/>
<circle cx="427.7" cy="142.0" r="1.30" fill="#FFFFFF" stroke="#222" stroke-width="0.45"/>
<circle cx="440.9" cy="142.0" r="1.30" fill="#FFFFFF" stroke="#222" stroke-width="0.45"/>
<circle cx="454.1" cy="142.0" r="1.30" fill="#FFFFFF" stroke="#222" stroke-width="0.45"/>
<circle cx="467.3" cy="142.0" r="3.15" fill="#B01E0E" stroke="#222" stroke-width="0.45"/>
<circle cx="480.5" cy="142.0" r="1.30" fill="#FFFFFF" stroke="#222" stroke-width="0.45"/>
<circle cx="493.7" cy="142.0" r="0.55" fill="#333"/>
<circle cx="506.9" cy="142.0" r="1.30" fill="#FFFFFF" stroke="#222" stroke-width="0.45"/>
<circle cx="520.1" cy="142.0" r="1.30" fill="#FFFFFF" stroke="#222" stroke-width="0.45"/>
<circle cx="533.3" cy="142.0" r="1.30" fill="#FFFFFF" stroke="#222" stroke-width="0.45"/>
<circle cx="546.5" cy="142.0" r="1.30" fill="#FFFFFF" stroke="#222" stroke-width="0.45"/>
<circle cx="559.7" cy="142.0" r="1.30" fill="#FFFFFF" stroke="#222" stroke-width="0.45"/>
<circle cx="572.9" cy="142.0" r="1.30" fill="#FFFFFF" stroke="#222" stroke-width="0.45"/>
<text x="390.0" y="152.7" font-size="8" font-style="italic" text-anchor="end">TOX</text>
<path d="M390.5 149.8H393.4" stroke="#333" stroke-width="0.6"/>
<circle cx="401.3" cy="149.8" r="1.30" fill="#9FA9D6" stroke="#222" stroke-width="0.45"/>
<circle cx="414.5" cy="149.8" r="1.30" fill="#9FA9D6" stroke="#222" stroke-width="0.45"/>
<circle cx="427.7" cy="149.8" r="1.30" fill="#9FA9D6" stroke="#222" stroke-width="0.45"/>
<circle cx="440.9" cy="149.8" r="3.15" fill="#F2B6A6" stroke="#222" stroke-width="0.45"/>
<circle cx="454.1" cy="149.8" r="2.15" fill="#FFFFFF" stroke="#222" stroke-width="0.45"/>
<circle cx="467.3" cy="149.8" r="2.15" fill="#DCE0F2" stroke="#222" stroke-width="0.45"/>
<circle cx="480.5" cy="149.8" r="3.15" fill="#DD7058" stroke="#222" stroke-width="0.45"/>
<circle cx="493.7" cy="149.8" r="1.30" fill="#FFFFFF" stroke="#222" stroke-width="0.45"/>
<circle cx="506.9" cy="149.8" r="3.15" fill="#F2B6A6" stroke="#222" stroke-width="0.45"/>
<circle cx="520.1" cy="149.8" r="3.15" fill="#DD7058" stroke="#222" stroke-width="0.45"/>
<circle cx="533.3" cy="149.8" r="1.30" fill="#9FA9D6" stroke="#222" stroke-width="0.45"/>
<circle cx="546.5" cy="149.8" r="2.15" fill="#DCE0F2" stroke="#222" stroke-width="0.45"/>
<circle cx="559.7" cy="149.8" r="3.15" fill="#DD7058" stroke="#222" stroke-width="0.45"/>
<circle cx="572.9" cy="149.8" r="3.15" fill="#FBE3DB" stroke="#222" stroke-width="0.45"/>
<text x="390.0" y="160.5" font-size="8" font-style="italic" text-anchor="end">C1QA</text>
<path d="M390.5 157.6H393.4" stroke="#333" stroke-width="0.6"/>
<circle cx="401.3" cy="157.6" r="1.30" fill="#FFFFFF" stroke="#222" stroke-width="0.45"/>
<circle cx="414.5" cy="157.6" r="1.30" fill="#FFFFFF" stroke="#222" stroke-width="0.45"/>
<circle cx="427.7" cy="157.6" r="1.30" fill="#FFFFFF" stroke="#222" stroke-width="0.45"/>
<circle cx="440.9" cy="157.6" r="1.30" fill="#FFFFFF" stroke="#222" stroke-width="0.45"/>
<circle cx="454.1" cy="157.6" r="1.30" fill="#FFFFFF" stroke="#222" stroke-width="0.45"/>
<circle cx="467.3" cy="157.6" r="0.55" fill="#333"/>
<circle cx="480.5" cy="157.6" r="1.30" fill="#FFFFFF" stroke="#222" stroke-width="0.45"/>
<circle cx="493.7" cy="157.6" r="2.15" fill="#B01E0E" stroke="#222" stroke-width="0.45"/>
<circle cx="506.9" cy="157.6" r="1.30" fill="#FFFFFF" stroke="#222" stroke-width="0.45"/>
<circle cx="520.1" cy="157.6" r="1.30" fill="#FFFFFF" stroke="#222" stroke-width="0.45"/>
<circle cx="533.3" cy="157.6" r="1.30" fill="#FFFFFF" stroke="#222" stroke-width="0.45"/>
<circle cx="546.5" cy="157.6" r="1.30" fill="#FFFFFF" stroke="#222" stroke-width="0.45"/>
<circle cx="559.7" cy="157.6" r="1.30" fill="#FFFFFF" stroke="#222" stroke-width="0.45"/>
<circle cx="572.9" cy="157.6" r="1.30" fill="#FFFFFF" stroke="#222" stroke-width="0.45"/>
<text x="390.0" y="168.3" font-size="8" font-style="italic" text-anchor="end">C1QC</text>
<path d="M390.5 165.4H393.4" stroke="#333" stroke-width="0.6"/>
<circle cx="401.3" cy="165.4" r="1.30" fill="#FFFFFF" stroke="#222" stroke-width="0.45"/>
<circle cx="414.5" cy="165.4" r="1.30" fill="#FFFFFF" stroke="#222" stroke-width="0.45"/>
<circle cx="427.7" cy="165.4" r="1.30" fill="#FFFFFF" stroke="#222" stroke-width="0.45"/>
<circle cx="440.9" cy="165.4" r="1.30" fill="#FFFFFF" stroke="#222" stroke-width="0.45"/>
<circle cx="454.1" cy="165.4" r="1.30" fill="#FFFFFF" stroke="#222" stroke-width="0.45"/>
<circle cx="467.3" cy="165.4" r="0.55" fill="#333"/>
<circle cx="480.5" cy="165.4" r="1.30" fill="#FFFFFF" stroke="#222" stroke-width="0.45"/>
<circle cx="493.7" cy="165.4" r="2.15" fill="#B01E0E" stroke="#222" stroke-width="0.45"/>
<circle cx="506.9" cy="165.4" r="1.30" fill="#FFFFFF" stroke="#222" stroke-width="0.45"/>
<circle cx="520.1" cy="165.4" r="1.30" fill="#FFFFFF" stroke="#222" stroke-width="0.45"/>
<circle cx="533.3" cy="165.4" r="1.30" fill="#FFFFFF" stroke="#222" stroke-width="0.45"/>
<circle cx="546.5" cy="165.4" r="1.30" fill="#FFFFFF" stroke="#222" stroke-width="0.45"/>
<circle cx="559.7" cy="165.4" r="1.30" fill="#FFFFFF" stroke="#222" stroke-width="0.45"/>
<circle cx="572.9" cy="165.4" r="1.30" fill="#FFFFFF" stroke="#222" stroke-width="0.45"/>
<text x="390.0" y="176.1" font-size="8" font-style="italic" text-anchor="end">CD8A</text>
<path d="M390.5 173.2H393.4" stroke="#333" stroke-width="0.6"/>
<circle cx="401.3" cy="173.2" r="1.30" fill="#FFFFFF" stroke="#222" stroke-width="0.45"/>
<circle cx="414.5" cy="173.2" r="1.30" fill="#FFFFFF" stroke="#222" stroke-width="0.45"/>
<circle cx="427.7" cy="173.2" r="0.55" fill="#333"/>
<circle cx="440.9" cy="173.2" r="1.30" fill="#FFFFFF" stroke="#222" stroke-width="0.45"/>
<circle cx="454.1" cy="173.2" r="1.30" fill="#F2B6A6" stroke="#222" stroke-width="0.45"/>
<circle cx="467.3" cy="173.2" r="1.30" fill="#FFFFFF" stroke="#222" stroke-width="0.45"/>
<circle cx="480.5" cy="173.2" r="1.30" fill="#F2B6A6" stroke="#222" stroke-width="0.45"/>
<circle cx="493.7" cy="173.2" r="1.30" fill="#FFFFFF" stroke="#222" stroke-width="0.45"/>
<circle cx="506.9" cy="173.2" r="1.30" fill="#DD7058" stroke="#222" stroke-width="0.45"/>
<circle cx="520.1" cy="173.2" r="1.30" fill="#DD7058" stroke="#222" stroke-width="0.45"/>
<circle cx="533.3" cy="173.2" r="1.30" fill="#DD7058" stroke="#222" stroke-width="0.45"/>
<circle cx="546.5" cy="173.2" r="1.30" fill="#C9442E" stroke="#222" stroke-width="0.45"/>
<circle cx="559.7" cy="173.2" r="0.55" fill="#333"/>
<circle cx="572.9" cy="173.2" r="0.55" fill="#333"/>
<text x="390.0" y="183.9" font-size="8" font-style="italic" text-anchor="end">CD8B</text>
<path d="M390.5 181.0H393.4" stroke="#333" stroke-width="0.6"/>
<circle cx="401.3" cy="181.0" r="0.55" fill="#333"/>
<circle cx="414.5" cy="181.0" r="0.55" fill="#333"/>
<circle cx="427.7" cy="181.0" r="0.55" fill="#333"/>
<circle cx="440.9" cy="181.0" r="0.55" fill="#333"/>
<circle cx="454.1" cy="181.0" r="1.30" fill="#FFFFFF" stroke="#222" stroke-width="0.45"/>
<circle cx="467.3" cy="181.0" r="1.30" fill="#FFFFFF" stroke="#222" stroke-width="0.45"/>
<circle cx="480.5" cy="181.0" r="1.30" fill="#FFFFFF" stroke="#222" stroke-width="0.45"/>
<circle cx="493.7" cy="181.0" r="0.55" fill="#333"/>
<circle cx="506.9" cy="181.0" r="1.30" fill="#DD7058" stroke="#222" stroke-width="0.45"/>
<circle cx="520.1" cy="181.0" r="1.30" fill="#DD7058" stroke="#222" stroke-width="0.45"/>
<circle cx="533.3" cy="181.0" r="1.30" fill="#DD7058" stroke="#222" stroke-width="0.45"/>
<circle cx="546.5" cy="181.0" r="1.30" fill="#F2B6A6" stroke="#222" stroke-width="0.45"/>
<circle cx="559.7" cy="181.0" r="0.55" fill="#333"/>
<circle cx="572.9" cy="181.0" r="0.55" fill="#333"/>
<text x="390.0" y="191.7" font-size="8" font-style="italic" text-anchor="end">NKG7</text>
<path d="M390.5 188.8H393.4" stroke="#333" stroke-width="0.6"/>
<circle cx="401.3" cy="188.8" r="1.30" fill="#FFFFFF" stroke="#222" stroke-width="0.45"/>
<circle cx="414.5" cy="188.8" r="1.30" fill="#FFFFFF" stroke="#222" stroke-width="0.45"/>
<circle cx="427.7" cy="188.8" r="0.55" fill="#333"/>
<circle cx="440.9" cy="188.8" r="1.30" fill="#FFFFFF" stroke="#222" stroke-width="0.45"/>
<circle cx="454.1" cy="188.8" r="2.15" fill="#FFFFFF" stroke="#222" stroke-width="0.45"/>
<circle cx="467.3" cy="188.8" r="2.15" fill="#DCE0F2" stroke="#222" stroke-width="0.45"/>
<circle cx="480.5" cy="188.8" r="2.15" fill="#DCE0F2" stroke="#222" stroke-width="0.45"/>
<circle cx="493.7" cy="188.8" r="1.30" fill="#FFFFFF" stroke="#222" stroke-width="0.45"/>
<circle cx="506.9" cy="188.8" r="2.15" fill="#F2B6A6" stroke="#222" stroke-width="0.45"/>
<circle cx="520.1" cy="188.8" r="2.15" fill="#F2B6A6" stroke="#222" stroke-width="0.45"/>
<circle cx="533.3" cy="188.8" r="3.15" fill="#E9917C" stroke="#222" stroke-width="0.45"/>
<circle cx="546.5" cy="188.8" r="2.15" fill="#FFFFFF" stroke="#222" stroke-width="0.45"/>
<circle cx="559.7" cy="188.8" r="2.15" fill="#F2B6A6" stroke="#222" stroke-width="0.45"/>
<circle cx="572.9" cy="188.8" r="3.15" fill="#B01E0E" stroke="#222" stroke-width="0.45"/>
<text x="390.0" y="199.6" font-size="8" font-style="italic" text-anchor="end">CCL3</text>
<path d="M390.5 196.7H393.4" stroke="#333" stroke-width="0.6"/>
<circle cx="401.3" cy="196.7" r="0.55" fill="#333"/>
<circle cx="414.5" cy="196.7" r="0.55" fill="#333"/>
<circle cx="427.7" cy="196.7" r="0.55" fill="#333"/>
<circle cx="440.9" cy="196.7" r="0.55" fill="#333"/>
<circle cx="454.1" cy="196.7" r="0.55" fill="#333"/>
<circle cx="467.3" cy="196.7" r="0.55" fill="#333"/>
<circle cx="480.5" cy="196.7" r="0.55" fill="#333"/>
<circle cx="493.7" cy="196.7" r="0.55" fill="#333"/>
<circle cx="506.9" cy="196.7" r="0.55" fill="#333"/>
<circle cx="520.1" cy="196.7" r="0.55" fill="#333"/>
<circle cx="533.3" cy="196.7" r="0.55" fill="#333"/>
<circle cx="546.5" cy="196.7" r="0.55" fill="#333"/>
<circle cx="559.7" cy="196.7" r="1.30" fill="#C9442E" stroke="#222" stroke-width="0.45"/>
<circle cx="572.9" cy="196.7" r="1.30" fill="#B01E0E" stroke="#222" stroke-width="0.45"/>
<text x="390.0" y="207.4" font-size="8" font-style="italic" text-anchor="end">CCL4</text>
<path d="M390.5 204.5H393.4" stroke="#333" stroke-width="0.6"/>
<circle cx="401.3" cy="204.5" r="1.30" fill="#FFFFFF" stroke="#222" stroke-width="0.45"/>
<circle cx="414.5" cy="204.5" r="1.30" fill="#FFFFFF" stroke="#222" stroke-width="0.45"/>
<circle cx="427.7" cy="204.5" r="1.30" fill="#FFFFFF" stroke="#222" stroke-width="0.45"/>
<circle cx="440.9" cy="204.5" r="1.30" fill="#FFFFFF" stroke="#222" stroke-width="0.45"/>
<circle cx="454.1" cy="204.5" r="1.30" fill="#FFFFFF" stroke="#222" stroke-width="0.45"/>
<circle cx="467.3" cy="204.5" r="1.30" fill="#F2B6A6" stroke="#222" stroke-width="0.45"/>
<circle cx="480.5" cy="204.5" r="1.30" fill="#FFFFFF" stroke="#222" stroke-width="0.45"/>
<circle cx="493.7" cy="204.5" r="1.30" fill="#FFFFFF" stroke="#222" stroke-width="0.45"/>
<circle cx="506.9" cy="204.5" r="2.15" fill="#E9917C" stroke="#222" stroke-width="0.45"/>
<circle cx="520.1" cy="204.5" r="2.15" fill="#E9917C" stroke="#222" stroke-width="0.45"/>
<circle cx="533.3" cy="204.5" r="2.15" fill="#DD7058" stroke="#222" stroke-width="0.45"/>
<circle cx="546.5" cy="204.5" r="1.30" fill="#FFFFFF" stroke="#222" stroke-width="0.45"/>
<circle cx="559.7" cy="204.5" r="2.15" fill="#F2B6A6" stroke="#222" stroke-width="0.45"/>
<circle cx="572.9" cy="204.5" r="2.15" fill="#C9442E" stroke="#222" stroke-width="0.45"/>
<text x="390.0" y="215.2" font-size="8" font-style="italic" text-anchor="end">CCL5</text>
<path d="M390.5 212.3H393.4" stroke="#333" stroke-width="0.6"/>
<circle cx="401.3" cy="212.3" r="2.15" fill="#9FA9D6" stroke="#222" stroke-width="0.45"/>
<circle cx="414.5" cy="212.3" r="2.15" fill="#9FA9D6" stroke="#222" stroke-width="0.45"/>
<circle cx="427.7" cy="212.3" r="1.30" fill="#9FA9D6" stroke="#222" stroke-width="0.45"/>
<circle cx="440.9" cy="212.3" r="2.15" fill="#9FA9D6" stroke="#222" stroke-width="0.45"/>
<circle cx="454.1" cy="212.3" r="3.15" fill="#FFFFFF" stroke="#222" stroke-width="0.45"/>
<circle cx="467.3" cy="212.3" r="3.15" fill="#FBE3DB" stroke="#222" stroke-width="0.45"/>
<circle cx="480.5" cy="212.3" r="3.15" fill="#DCE0F2" stroke="#222" stroke-width="0.45"/>
<circle cx="493.7" cy="212.3" r="2.15" fill="#9FA9D6" stroke="#222" stroke-width="0.45"/>
<circle cx="506.9" cy="212.3" r="3.15" fill="#E9917C" stroke="#222" stroke-width="0.45"/>
<circle cx="520.1" cy="212.3" r="3.15" fill="#E9917C" stroke="#222" stroke-width="0.45"/>
<circle cx="533.3" cy="212.3" r="3.15" fill="#DD7058" stroke="#222" stroke-width="0.45"/>
<circle cx="546.5" cy="212.3" r="3.15" fill="#E9917C" stroke="#222" stroke-width="0.45"/>
<circle cx="559.7" cy="212.3" r="3.15" fill="#F2B6A6" stroke="#222" stroke-width="0.45"/>
<circle cx="572.9" cy="212.3" r="3.15" fill="#FBE3DB" stroke="#222" stroke-width="0.45"/>
<text x="390.0" y="223.0" font-size="8" font-style="italic" text-anchor="end">GZMA</text>
<path d="M390.5 220.1H393.4" stroke="#333" stroke-width="0.6"/>
<circle cx="401.3" cy="220.1" r="1.30" fill="#9FA9D6" stroke="#222" stroke-width="0.45"/>
<circle cx="414.5" cy="220.1" r="1.30" fill="#9FA9D6" stroke="#222" stroke-width="0.45"/>
<circle cx="427.7" cy="220.1" r="1.30" fill="#9FA9D6" stroke="#222" stroke-width="0.45"/>
<circle cx="440.9" cy="220.1" r="1.30" fill="#9FA9D6" stroke="#222" stroke-width="0.45"/>
<circle cx="454.1" cy="220.1" r="3.15" fill="#FFFFFF" stroke="#222" stroke-width="0.45"/>
<circle cx="467.3" cy="220.1" r="1.30" fill="#9FA9D6" stroke="#222" stroke-width="0.45"/>
<circle cx="480.5" cy="220.1" r="3.15" fill="#FFFFFF" stroke="#222" stroke-width="0.45"/>
<circle cx="493.7" cy="220.1" r="1.30" fill="#9FA9D6" stroke="#222" stroke-width="0.45"/>
<circle cx="506.9" cy="220.1" r="3.15" fill="#E9917C" stroke="#222" stroke-width="0.45"/>
<circle cx="520.1" cy="220.1" r="3.15" fill="#DD7058" stroke="#222" stroke-width="0.45"/>
<circle cx="533.3" cy="220.1" r="3.15" fill="#DD7058" stroke="#222" stroke-width="0.45"/>
<circle cx="546.5" cy="220.1" r="3.15" fill="#F2B6A6" stroke="#222" stroke-width="0.45"/>
<circle cx="559.7" cy="220.1" r="2.15" fill="#FFFFFF" stroke="#222" stroke-width="0.45"/>
<circle cx="572.9" cy="220.1" r="3.15" fill="#F2B6A6" stroke="#222" stroke-width="0.45"/>
<text x="390.0" y="230.8" font-size="8" font-style="italic" text-anchor="end">GZMB</text>
<path d="M390.5 227.9H393.4" stroke="#333" stroke-width="0.6"/>
<circle cx="401.3" cy="227.9" r="0.55" fill="#333"/>
<circle cx="414.5" cy="227.9" r="0.55" fill="#333"/>
<circle cx="427.7" cy="227.9" r="0.55" fill="#333"/>
<circle cx="440.9" cy="227.9" r="0.55" fill="#333"/>
<circle cx="454.1" cy="227.9" r="0.55" fill="#333"/>
<circle cx="467.3" cy="227.9" r="0.55" fill="#333"/>
<circle cx="480.5" cy="227.9" r="0.55" fill="#333"/>
<circle cx="493.7" cy="227.9" r="0.55" fill="#333"/>
<circle cx="506.9" cy="227.9" r="0.55" fill="#333"/>
<circle cx="520.1" cy="227.9" r="0.55" fill="#333"/>
<circle cx="533.3" cy="227.9" r="2.15" fill="#C9442E" stroke="#222" stroke-width="0.45"/>
<circle cx="546.5" cy="227.9" r="1.30" fill="#FFFFFF" stroke="#222" stroke-width="0.45"/>
<circle cx="559.7" cy="227.9" r="0.55" fill="#333"/>
<circle cx="572.9" cy="227.9" r="2.15" fill="#B01E0E" stroke="#222" stroke-width="0.45"/>
<text x="390.0" y="238.6" font-size="8" font-style="italic" text-anchor="end">GZMK</text>
<path d="M390.5 235.7H393.4" stroke="#333" stroke-width="0.6"/>
<circle cx="401.3" cy="235.7" r="1.30" fill="#FFFFFF" stroke="#222" stroke-width="0.45"/>
<circle cx="414.5" cy="235.7" r="1.30" fill="#FFFFFF" stroke="#222" stroke-width="0.45"/>
<circle cx="427.7" cy="235.7" r="1.30" fill="#FFFFFF" stroke="#222" stroke-width="0.45"/>
<circle cx="440.9" cy="235.7" r="1.30" fill="#FFFFFF" stroke="#222" stroke-width="0.45"/>
<circle cx="454.1" cy="235.7" r="1.30" fill="#FFFFFF" stroke="#222" stroke-width="0.45"/>
<circle cx="467.3" cy="235.7" r="1.30" fill="#FFFFFF" stroke="#222" stroke-width="0.45"/>
<circle cx="480.5" cy="235.7" r="2.15" fill="#F2B6A6" stroke="#222" stroke-width="0.45"/>
<circle cx="493.7" cy="235.7" r="1.30" fill="#FFFFFF" stroke="#222" stroke-width="0.45"/>
<circle cx="506.9" cy="235.7" r="3.15" fill="#C9442E" stroke="#222" stroke-width="0.45"/>
<circle cx="520.1" cy="235.7" r="3.15" fill="#B01E0E" stroke="#222" stroke-width="0.45"/>
<circle cx="533.3" cy="235.7" r="1.30" fill="#FFFFFF" stroke="#222" stroke-width="0.45"/>
<circle cx="546.5" cy="235.7" r="1.30" fill="#FFFFFF" stroke="#222" stroke-width="0.45"/>
<circle cx="559.7" cy="235.7" r="1.30" fill="#FFFFFF" stroke="#222" stroke-width="0.45"/>
<circle cx="572.9" cy="235.7" r="0.55" fill="#333"/>
<text x="390.0" y="246.5" font-size="8" font-style="italic" text-anchor="end">PRF1</text>
<path d="M390.5 243.6H393.4" stroke="#333" stroke-width="0.6"/>
<circle cx="401.3" cy="243.6" r="0.55" fill="#333"/>
<circle cx="414.5" cy="243.6" r="0.55" fill="#333"/>
<circle cx="427.7" cy="243.6" r="0.55" fill="#333"/>
<circle cx="440.9" cy="243.6" r="0.55" fill="#333"/>
<circle cx="454.1" cy="243.6" r="1.30" fill="#FFFFFF" stroke="#222" stroke-width="0.45"/>
<circle cx="467.3" cy="243.6" r="0.55" fill="#333"/>
<circle cx="480.5" cy="243.6" r="0.55" fill="#333"/>
<circle cx="493.7" cy="243.6" r="0.55" fill="#333"/>
<circle cx="506.9" cy="243.6" r="1.30" fill="#FFFFFF" stroke="#222" stroke-width="0.45"/>
<circle cx="520.1" cy="243.6" r="1.30" fill="#FFFFFF" stroke="#222" stroke-width="0.45"/>
<circle cx="533.3" cy="243.6" r="2.15" fill="#F2B6A6" stroke="#222" stroke-width="0.45"/>
<circle cx="546.5" cy="243.6" r="1.30" fill="#FFFFFF" stroke="#222" stroke-width="0.45"/>
<circle cx="559.7" cy="243.6" r="1.30" fill="#FFFFFF" stroke="#222" stroke-width="0.45"/>
<circle cx="572.9" cy="243.6" r="3.15" fill="#B01E0E" stroke="#222" stroke-width="0.45"/>
<text x="390.0" y="254.3" font-size="8" font-style="italic" text-anchor="end">KLRD1</text>
<path d="M390.5 251.4H393.4" stroke="#333" stroke-width="0.6"/>
<circle cx="401.3" cy="251.4" r="0.55" fill="#333"/>
<circle cx="414.5" cy="251.4" r="0.55" fill="#333"/>
<circle cx="427.7" cy="251.4" r="0.55" fill="#333"/>
<circle cx="440.9" cy="251.4" r="0.55" fill="#333"/>
<circle cx="454.1" cy="251.4" r="1.30" fill="#FFFFFF" stroke="#222" stroke-width="0.45"/>
<circle cx="467.3" cy="251.4" r="0.55" fill="#333"/>
<circle cx="480.5" cy="251.4" r="0.55" fill="#333"/>
<circle cx="493.7" cy="251.4" r="0.55" fill="#333"/>
<circle cx="506.9" cy="251.4" r="0.55" fill="#333"/>
<circle cx="520.1" cy="251.4" r="0.55" fill="#333"/>
<circle cx="533.3" cy="251.4" r="2.15" fill="#F2B6A6" stroke="#222" stroke-width="0.45"/>
<circle cx="546.5" cy="251.4" r="2.15" fill="#F2B6A6" stroke="#222" stroke-width="0.45"/>
<circle cx="559.7" cy="251.4" r="3.15" fill="#C9442E" stroke="#222" stroke-width="0.45"/>
<circle cx="572.9" cy="251.4" r="3.15" fill="#C9442E" stroke="#222" stroke-width="0.45"/>
<text x="390.0" y="262.1" font-size="8" font-style="italic" text-anchor="end">GNLY</text>
<path d="M390.5 259.2H393.4" stroke="#333" stroke-width="0.6"/>
<circle cx="401.3" cy="259.2" r="0.55" fill="#333"/>
<circle cx="414.5" cy="259.2" r="0.55" fill="#333"/>
<circle cx="427.7" cy="259.2" r="0.55" fill="#333"/>
<circle cx="440.9" cy="259.2" r="0.55" fill="#333"/>
<circle cx="454.1" cy="259.2" r="1.30" fill="#FFFFFF" stroke="#222" stroke-width="0.45"/>
<circle cx="467.3" cy="259.2" r="0.55" fill="#333"/>
<circle cx="480.5" cy="259.2" r="0.55" fill="#333"/>
<circle cx="493.7" cy="259.2" r="0.55" fill="#333"/>
<circle cx="506.9" cy="259.2" r="0.55" fill="#333"/>
<circle cx="520.1" cy="259.2" r="0.55" fill="#333"/>
<circle cx="533.3" cy="259.2" r="2.15" fill="#F2B6A6" stroke="#222" stroke-width="0.45"/>
<circle cx="546.5" cy="259.2" r="2.15" fill="#F2B6A6" stroke="#222" stroke-width="0.45"/>
<circle cx="559.7" cy="259.2" r="2.15" fill="#F2B6A6" stroke="#222" stroke-width="0.45"/>
<circle cx="572.9" cy="259.2" r="3.15" fill="#B01E0E" stroke="#222" stroke-width="0.45"/>
<text x="390.0" y="269.9" font-size="8" font-style="italic" text-anchor="end">KLRC1</text>
<path d="M390.5 267.0H393.4" stroke="#333" stroke-width="0.6"/>
<circle cx="401.3" cy="267.0" r="0.55" fill="#333"/>
<circle cx="414.5" cy="267.0" r="0.55" fill="#333"/>
<circle cx="427.7" cy="267.0" r="0.55" fill="#333"/>
<circle cx="440.9" cy="267.0" r="0.55" fill="#333"/>
<circle cx="454.1" cy="267.0" r="0.55" fill="#333"/>
<circle cx="467.3" cy="267.0" r="0.55" fill="#333"/>
<circle cx="480.5" cy="267.0" r="0.55" fill="#333"/>
<circle cx="493.7" cy="267.0" r="0.55" fill="#333"/>
<circle cx="506.9" cy="267.0" r="0.55" fill="#333"/>
<circle cx="520.1" cy="267.0" r="0.55" fill="#333"/>
<circle cx="533.3" cy="267.0" r="1.30" fill="#FFFFFF" stroke="#222" stroke-width="0.45"/>
<circle cx="546.5" cy="267.0" r="2.15" fill="#DD7058" stroke="#222" stroke-width="0.45"/>
<circle cx="559.7" cy="267.0" r="3.15" fill="#B01E0E" stroke="#222" stroke-width="0.45"/>
<circle cx="572.9" cy="267.0" r="1.30" fill="#FFFFFF" stroke="#222" stroke-width="0.45"/>
<text x="390.0" y="277.7" font-size="8" font-style="italic" text-anchor="end">KLRC2</text>
<path d="M390.5 274.8H393.4" stroke="#333" stroke-width="0.6"/>
<circle cx="401.3" cy="274.8" r="0.55" fill="#333"/>
<circle cx="414.5" cy="274.8" r="0.55" fill="#333"/>
<circle cx="427.7" cy="274.8" r="0.55" fill="#333"/>
<circle cx="440.9" cy="274.8" r="0.55" fill="#333"/>
<circle cx="454.1" cy="274.8" r="0.55" fill="#333"/>
<circle cx="467.3" cy="274.8" r="0.55" fill="#333"/>
<circle cx="480.5" cy="274.8" r="0.55" fill="#333"/>
<circle cx="493.7" cy="274.8" r="0.55" fill="#333"/>
<circle cx="506.9" cy="274.8" r="0.55" fill="#333"/>
<circle cx="520.1" cy="274.8" r="0.55" fill="#333"/>
<circle cx="533.3" cy="274.8" r="0.55" fill="#333"/>
<circle cx="546.5" cy="274.8" r="1.30" fill="#DD7058" stroke="#222" stroke-width="0.45"/>
<circle cx="559.7" cy="274.8" r="2.15" fill="#B01E0E" stroke="#222" stroke-width="0.45"/>
<circle cx="572.9" cy="274.8" r="1.30" fill="#DD7058" stroke="#222" stroke-width="0.45"/>
<text x="390.0" y="285.5" font-size="8" font-style="italic" text-anchor="end">KLRF1</text>
<path d="M390.5 282.6H393.4" stroke="#333" stroke-width="0.6"/>
<circle cx="401.3" cy="282.6" r="0.55" fill="#333"/>
<circle cx="414.5" cy="282.6" r="0.55" fill="#333"/>
<circle cx="427.7" cy="282.6" r="0.55" fill="#333"/>
<circle cx="440.9" cy="282.6" r="0.55" fill="#333"/>
<circle cx="454.1" cy="282.6" r="0.55" fill="#333"/>
<circle cx="467.3" cy="282.6" r="0.55" fill="#333"/>
<circle cx="480.5" cy="282.6" r="0.55" fill="#333"/>
<circle cx="493.7" cy="282.6" r="0.55" fill="#333"/>
<circle cx="506.9" cy="282.6" r="0.55" fill="#333"/>
<circle cx="520.1" cy="282.6" r="0.55" fill="#333"/>
<circle cx="533.3" cy="282.6" r="0.55" fill="#333"/>
<circle cx="546.5" cy="282.6" r="0.55" fill="#333"/>
<circle cx="559.7" cy="282.6" r="1.30" fill="#DD7058" stroke="#222" stroke-width="0.45"/>
<circle cx="572.9" cy="282.6" r="2.15" fill="#B01E0E" stroke="#222" stroke-width="0.45"/>
<path d="M401.3 286.4V289" stroke="#333" stroke-width="0.6"/>
<text font-size="8" text-anchor="end" transform="translate(403.9,292.5) rotate(-45)">CD4 naive T cell</text>
<path d="M414.5 286.4V289" stroke="#333" stroke-width="0.6"/>
<text font-size="8" text-anchor="end" transform="translate(417.1,292.5) rotate(-45)">TRBC1+ CD4 Tn</text>
<path d="M427.7 286.4V289" stroke="#333" stroke-width="0.6"/>
<text font-size="8" text-anchor="end" transform="translate(430.3,292.5) rotate(-45)">IL7R+ CD4 Treg</text>
<path d="M440.9 286.4V289" stroke="#333" stroke-width="0.6"/>
<text font-size="8" text-anchor="end" transform="translate(443.5,292.5) rotate(-45)">CD4 regulatory T cell</text>
<path d="M454.1 286.4V289" stroke="#333" stroke-width="0.6"/>
<text font-size="8" text-anchor="end" transform="translate(456.7,292.5) rotate(-45)">CD4 IFN response T cell</text>
<path d="M467.3 286.4V289" stroke="#333" stroke-width="0.6"/>
<text font-size="8" text-anchor="end" transform="translate(469.9,292.5) rotate(-45)">HSP+ CD4 T cell</text>
<path d="M480.5 286.4V289" stroke="#333" stroke-width="0.6"/>
<text font-size="8" text-anchor="end" transform="translate(483.1,292.5) rotate(-45)">TOX+ CD8 T cell</text>
<path d="M493.7 286.4V289" stroke="#333" stroke-width="0.6"/>
<text font-size="8" text-anchor="end" transform="translate(496.3,292.5) rotate(-45)">rest CD4 Tcm</text>
<path d="M506.9 286.4V289" stroke="#333" stroke-width="0.6"/>
<text font-size="8" text-anchor="end" transform="translate(509.5,292.5) rotate(-45)">TRBC1+ CD8 Teff</text>
<path d="M520.1 286.4V289" stroke="#333" stroke-width="0.6"/>
<text font-size="8" text-anchor="end" transform="translate(522.7,292.5) rotate(-45)">GZMK+ CD8 Tcell</text>
<path d="M533.3 286.4V289" stroke="#333" stroke-width="0.6"/>
<text font-size="8" text-anchor="end" transform="translate(535.9,292.5) rotate(-45)">NK−like CD8 T cell</text>
<path d="M546.5 286.4V289" stroke="#333" stroke-width="0.6"/>
<text font-size="8" text-anchor="end" transform="translate(549.1,292.5) rotate(-45)">NKG2A+ NK−like CD8 T cell</text>
<path d="M559.7 286.4V289" stroke="#333" stroke-width="0.6"/>
<text font-size="8" text-anchor="end" transform="translate(562.3,292.5) rotate(-45)">NKG2A+ NK cell</text>
<path d="M572.9 286.4V289" stroke="#333" stroke-width="0.6"/>
<text font-size="8" text-anchor="end" transform="translate(575.5,292.5) rotate(-45)">NK cell</text>
<text x="590.4" y="82.7" font-size="8.1">Average Expression</text>
<defs><linearGradient id="ae" x1="0" y1="0" x2="0" y2="1"><stop offset="0" stop-color="#B2210F"/><stop offset="0.3" stop-color="#E39080"/><stop offset="0.55" stop-color="#FFFFFF"/><stop offset="1" stop-color="#5E78BA"/></linearGradient></defs>
<rect x="590.4" y="88.3" width="10.4" height="52.5" fill="url(#ae)"/>
<path d="M590.4 94.9h2.2M598.6 94.9h2.2" stroke="#fff" stroke-width="0.5"/>
<text x="604.5" y="97.4" font-size="7.2">2</text>
<path d="M590.4 107.8h2.2M598.6 107.8h2.2" stroke="#fff" stroke-width="0.5"/>
<text x="604.5" y="110.3" font-size="7.2">1</text>
<path d="M590.4 120.4h2.2M598.6 120.4h2.2" stroke="#fff" stroke-width="0.5"/>
<text x="604.5" y="122.9" font-size="7.2">0</text>
<path d="M590.4 132.7h2.2M598.6 132.7h2.2" stroke="#fff" stroke-width="0.5"/>
<text x="604.5" y="135.2" font-size="7.2">−1</text>
<text x="590.4" y="158.6" font-size="8.1">Percent Expressed</text>
<circle cx="596.4" cy="169.5" r="0.50" fill="#000"/>
<text x="604.5" y="172.0" font-size="7.2">0</text>
<circle cx="596.4" cy="180.3" r="1.70" fill="#000"/>
<text x="604.5" y="182.8" font-size="7.2">25</text>
<circle cx="596.4" cy="190.7" r="2.85" fill="#000"/>
<text x="604.5" y="193.2" font-size="7.2">50</text>
<circle cx="596.4" cy="201.1" r="3.75" fill="#000"/>
<text x="604.5" y="203.6" font-size="7.2">75</text>
<circle cx="596.4" cy="212.2" r="4.70" fill="#000"/>
<text x="604.5" y="214.7" font-size="7.2">100</text>
<rect x="47.80" y="295.6" width="9.93" height="20.5" fill="#F47B71"/>
<rect x="57.68" y="295.6" width="16.21" height="20.5" fill="#F2CB17"/>
<rect x="73.84" y="295.6" width="29.73" height="20.5" fill="#C59B0B"/>
<rect x="103.53" y="295.6" width="29.54" height="20.5" fill="#8E8B6E"/>
<rect x="133.02" y="295.6" width="12.11" height="20.5" fill="#5559B1"/>
<rect x="145.08" y="295.6" width="5.99" height="20.5" fill="#10B857"/>
<rect x="151.02" y="295.6" width="8.67" height="20.5" fill="#D9BE92"/>
<rect x="159.64" y="295.6" width="6.18" height="20.5" fill="#E4641B"/>
<rect x="165.76" y="295.6" width="11.35" height="20.5" fill="#14B4EA"/>
<rect x="177.06" y="295.6" width="14.99" height="20.5" fill="#F5B7C3"/>
<rect x="192.00" y="295.6" width="5.79" height="20.5" fill="#A98CF7"/>
<rect x="197.74" y="295.6" width="22.07" height="20.5" fill="#3E8BD5"/>
<rect x="219.77" y="295.6" width="5.22" height="20.5" fill="#F89B1C"/>
<rect x="224.94" y="295.6" width="14.41" height="20.5" fill="#9EB01F"/>
<rect x="47.80" y="318.7" width="8.67" height="20.6" fill="#F47B71"/>
<rect x="56.42" y="318.7" width="26.48" height="20.6" fill="#F2CB17"/>
<rect x="82.84" y="318.7" width="20.35" height="20.6" fill="#C59B0B"/>
<rect x="103.14" y="318.7" width="26.09" height="20.6" fill="#8E8B6E"/>
<rect x="129.19" y="318.7" width="1.01" height="20.6" fill="#5559B1"/>
<rect x="130.14" y="318.7" width="6.27" height="20.6" fill="#10B857"/>
<rect x="136.37" y="318.7" width="12.02" height="20.6" fill="#D9BE92"/>
<rect x="148.34" y="318.7" width="10.01" height="20.6" fill="#E4641B"/>
<rect x="158.30" y="318.7" width="7.71" height="20.6" fill="#14B4EA"/>
<rect x="165.96" y="318.7" width="27.63" height="20.6" fill="#F5B7C3"/>
<rect x="193.53" y="318.7" width="6.56" height="20.6" fill="#A98CF7"/>
<rect x="200.04" y="318.7" width="18.43" height="20.6" fill="#3E8BD5"/>
<rect x="218.43" y="318.7" width="7.14" height="20.6" fill="#F89B1C"/>
<rect x="225.51" y="318.7" width="13.84" height="20.6" fill="#9EB01F"/>
<rect x="47.80" y="346.5" width="2.73" height="20.5" fill="#F47B71"/>
<rect x="50.48" y="346.5" width="17.67" height="20.5" fill="#F2CB17"/>
<rect x="68.10" y="346.5" width="22.84" height="20.5" fill="#C59B0B"/>
<rect x="90.89" y="346.5" width="35.29" height="20.5" fill="#8E8B6E"/>
<rect x="126.12" y="346.5" width="1.01" height="20.5" fill="#5559B1"/>
<rect x="127.08" y="346.5" width="8.09" height="20.5" fill="#10B857"/>
<rect x="135.12" y="346.5" width="11.73" height="20.5" fill="#D9BE92"/>
<rect x="146.81" y="346.5" width="9.63" height="20.5" fill="#E4641B"/>
<rect x="156.38" y="346.5" width="14.41" height="20.5" fill="#14B4EA"/>
<rect x="170.74" y="346.5" width="15.94" height="20.5" fill="#F5B7C3"/>
<rect x="186.64" y="346.5" width="8.09" height="20.5" fill="#A98CF7"/>
<rect x="194.68" y="346.5" width="26.09" height="20.5" fill="#3E8BD5"/>
<rect x="220.72" y="346.5" width="4.84" height="20.5" fill="#F89B1C"/>
<rect x="225.51" y="346.5" width="13.84" height="20.5" fill="#9EB01F"/>
<rect x="47.80" y="369.7" width="11.35" height="20.7" fill="#F47B71"/>
<rect x="59.10" y="369.7" width="24.94" height="20.7" fill="#F2CB17"/>
<rect x="83.99" y="369.7" width="23.03" height="20.7" fill="#C59B0B"/>
<rect x="106.97" y="369.7" width="24.66" height="20.7" fill="#8E8B6E"/>
<rect x="131.58" y="369.7" width="6.08" height="20.7" fill="#5559B1"/>
<rect x="137.61" y="369.7" width="5.60" height="20.7" fill="#10B857"/>
<rect x="143.17" y="369.7" width="10.58" height="20.7" fill="#D9BE92"/>
<rect x="153.70" y="369.7" width="8.48" height="20.7" fill="#E4641B"/>
<rect x="162.13" y="369.7" width="7.14" height="20.7" fill="#14B4EA"/>
<rect x="169.21" y="369.7" width="25.90" height="20.7" fill="#F5B7C3"/>
<rect x="195.06" y="369.7" width="5.99" height="20.7" fill="#A98CF7"/>
<rect x="201.00" y="369.7" width="17.09" height="20.7" fill="#3E8BD5"/>
<rect x="218.04" y="369.7" width="7.52" height="20.7" fill="#F89B1C"/>
<rect x="225.51" y="369.7" width="13.84" height="20.7" fill="#9EB01F"/>
<rect x="47.80" y="397.2" width="1.01" height="20.6" fill="#F47B71"/>
<rect x="48.76" y="397.2" width="16.52" height="20.6" fill="#F2CB17"/>
<rect x="65.23" y="397.2" width="19.77" height="20.6" fill="#C59B0B"/>
<rect x="84.95" y="397.2" width="38.92" height="20.6" fill="#8E8B6E"/>
<rect x="123.83" y="397.2" width="0.62" height="20.6" fill="#5559B1"/>
<rect x="124.40" y="397.2" width="2.44" height="20.6" fill="#10B857"/>
<rect x="126.79" y="397.2" width="8.95" height="20.6" fill="#D9BE92"/>
<rect x="135.70" y="397.2" width="5.22" height="20.6" fill="#E4641B"/>
<rect x="140.87" y="397.2" width="21.31" height="20.6" fill="#14B4EA"/>
<rect x="162.13" y="397.2" width="19.77" height="20.6" fill="#F5B7C3"/>
<rect x="181.85" y="397.2" width="7.90" height="20.6" fill="#A98CF7"/>
<rect x="189.70" y="397.2" width="30.88" height="20.6" fill="#3E8BD5"/>
<rect x="220.53" y="397.2" width="3.50" height="20.6" fill="#F89B1C"/>
<rect x="223.98" y="397.2" width="15.37" height="20.6" fill="#9EB01F"/>
<rect x="47.80" y="420.5" width="15.94" height="20.6" fill="#F47B71"/>
<rect x="63.69" y="420.5" width="15.56" height="20.6" fill="#F2CB17"/>
<rect x="79.21" y="420.5" width="36.24" height="20.6" fill="#C59B0B"/>
<rect x="115.40" y="420.5" width="23.80" height="20.6" fill="#8E8B6E"/>
<rect x="139.15" y="420.5" width="19.97" height="20.6" fill="#5559B1"/>
<rect x="159.06" y="420.5" width="8.48" height="20.6" fill="#10B857"/>
<rect x="167.49" y="420.5" width="8.48" height="20.6" fill="#D9BE92"/>
<rect x="175.91" y="420.5" width="5.99" height="20.6" fill="#E4641B"/>
<rect x="181.85" y="420.5" width="5.79" height="20.6" fill="#14B4EA"/>
<rect x="187.59" y="420.5" width="11.35" height="20.6" fill="#F5B7C3"/>
<rect x="198.89" y="420.5" width="3.69" height="20.6" fill="#A98CF7"/>
<rect x="202.53" y="420.5" width="17.29" height="20.6" fill="#3E8BD5"/>
<rect x="219.77" y="420.5" width="6.18" height="20.6" fill="#F89B1C"/>
<rect x="225.89" y="420.5" width="13.46" height="20.6" fill="#9EB01F"/>
<rect x="47.80" y="447.9" width="4.26" height="20.7" fill="#F47B71"/>
<rect x="52.01" y="447.9" width="19.77" height="20.7" fill="#F2CB17"/>
<rect x="71.74" y="447.9" width="26.38" height="20.7" fill="#C59B0B"/>
<rect x="98.07" y="447.9" width="31.17" height="20.7" fill="#8E8B6E"/>
<rect x="129.19" y="447.9" width="15.56" height="20.7" fill="#10B857"/>
<rect x="144.70" y="447.9" width="14.41" height="20.7" fill="#D9BE92"/>
<rect x="159.06" y="447.9" width="14.41" height="20.7" fill="#E4641B"/>
<rect x="173.42" y="447.9" width="7.90" height="20.7" fill="#14B4EA"/>
<rect x="181.28" y="447.9" width="10.58" height="20.7" fill="#F5B7C3"/>
<rect x="191.81" y="447.9" width="8.28" height="20.7" fill="#A98CF7"/>
<rect x="200.04" y="447.9" width="21.31" height="20.7" fill="#3E8BD5"/>
<rect x="221.30" y="447.9" width="6.08" height="20.7" fill="#F89B1C"/>
<rect x="227.33" y="447.9" width="12.02" height="20.7" fill="#9EB01F"/>
<rect x="47.80" y="471.1" width="10.20" height="20.7" fill="#F47B71"/>
<rect x="57.95" y="471.1" width="27.63" height="20.7" fill="#F2CB17"/>
<rect x="85.53" y="471.1" width="18.63" height="20.7" fill="#C59B0B"/>
<rect x="104.10" y="471.1" width="25.14" height="20.7" fill="#8E8B6E"/>
<rect x="129.19" y="471.1" width="1.01" height="20.7" fill="#5559B1"/>
<rect x="130.14" y="471.1" width="5.03" height="20.7" fill="#10B857"/>
<rect x="135.12" y="471.1" width="11.16" height="20.7" fill="#D9BE92"/>
<rect x="146.23" y="471.1" width="8.67" height="20.7" fill="#E4641B"/>
<rect x="154.85" y="471.1" width="8.28" height="20.7" fill="#14B4EA"/>
<rect x="163.08" y="471.1" width="31.07" height="20.7" fill="#F5B7C3"/>
<rect x="194.11" y="471.1" width="6.56" height="20.7" fill="#A98CF7"/>
<rect x="200.62" y="471.1" width="17.19" height="20.7" fill="#3E8BD5"/>
<rect x="217.76" y="471.1" width="7.81" height="20.7" fill="#F89B1C"/>
<rect x="225.51" y="471.1" width="13.84" height="20.7" fill="#9EB01F"/>
<path d="M38.8 288.3V492" stroke="#000" stroke-width="0.8"/>
<path d="M47.8 285.7V288.3" stroke="#000" stroke-width="0.6"/>
<text x="47.8" y="284.3" font-size="6.8" text-anchor="middle" fill="#333">0</text>
<path d="M95.7 285.7V288.3" stroke="#000" stroke-width="0.6"/>
<text x="95.7" y="284.3" font-size="6.8" text-anchor="middle" fill="#333">25</text>
<path d="M143.6 285.7V288.3" stroke="#000" stroke-width="0.6"/>
<text x="143.6" y="284.3" font-size="6.8" text-anchor="middle" fill="#333">50</text>
<path d="M191.4 285.7V288.3" stroke="#000" stroke-width="0.6"/>
<text x="191.4" y="284.3" font-size="6.8" text-anchor="middle" fill="#333">75</text>
<path d="M239.3 285.7V288.3" stroke="#000" stroke-width="0.6"/>
<text x="239.3" y="284.3" font-size="6.8" text-anchor="middle" fill="#333">100</text>
<path d="M38.8 288.3H245" stroke="#000" stroke-width="0.8" />
<path d="M36.5 305.9H38.8" stroke="#000" stroke-width="0.6"/>
<text x="35.6" y="307.2" font-size="8.1" text-anchor="end">Primary</text>
<path d="M36.5 329.0H38.8" stroke="#000" stroke-width="0.6"/>
<text x="35.6" y="330.3" font-size="8.1" text-anchor="end">Recurrent</text>
<path d="M36.5 356.8H38.8" stroke="#000" stroke-width="0.6"/>
<text x="35.6" y="358.1" font-size="8.1" text-anchor="end">Low</text>
<path d="M36.5 380.0H38.8" stroke="#000" stroke-width="0.6"/>
<text x="35.6" y="381.3" font-size="8.1" text-anchor="end">High</text>
<path d="M36.5 407.5H38.8" stroke="#000" stroke-width="0.6"/>
<text x="35.6" y="408.8" font-size="8.1" text-anchor="end">Low</text>
<path d="M36.5 430.8H38.8" stroke="#000" stroke-width="0.6"/>
<text x="35.6" y="432.1" font-size="8.1" text-anchor="end">High</text>
<path d="M36.5 458.2H38.8" stroke="#000" stroke-width="0.6"/>
<text x="35.6" y="459.5" font-size="8.1" text-anchor="end">Low</text>
<path d="M36.5 481.4H38.8" stroke="#000" stroke-width="0.6"/>
<text x="35.6" y="482.7" font-size="8.1" text-anchor="end">High</text>
<text font-size="8.1" text-anchor="middle" transform="translate(12.9,368.3) rotate(-90)">ALL</text>
<text font-size="8.1" text-anchor="middle" transform="translate(12.9,419.1) rotate(-90)">Primary</text>
<text font-size="8.1" text-anchor="middle" transform="translate(12.9,469.8) rotate(-90)">Recurrent</text>
<text x="13.5" y="277.3" font-size="14">c</text>
<rect x="251.7" y="332.1" width="8.4" height="8.4" fill="#F47B71"/>
<text x="263.6" y="338.8" font-size="7.0">CD4 IFN response T cell</text>
<rect x="251.7" y="341.3" width="8.4" height="8.4" fill="#F2CB17"/>
<text x="263.6" y="348.0" font-size="7.0">CD4 naive T cell</text>
<rect x="251.7" y="350.5" width="8.4" height="8.4" fill="#C59B0B"/>
<text x="263.6" y="357.2" font-size="7.0">CD4 regulatory T cell</text>
<rect x="251.7" y="359.6" width="8.4" height="8.4" fill="#8E8B6E"/>
<text x="263.6" y="366.3" font-size="7.0">GZMK+ CD8 Tcell</text>
<rect x="251.7" y="368.8" width="8.4" height="8.4" fill="#5559B1"/>
<text x="263.6" y="375.5" font-size="7.0">HSP+ CD4 T cell</text>
<rect x="251.7" y="378.0" width="8.4" height="8.4" fill="#10B857"/>
<text x="263.6" y="384.7" font-size="7.0">IL7R+ CD4 Treg</text>
<rect x="251.7" y="387.2" width="8.4" height="8.4" fill="#D9BE92"/>
<text x="263.6" y="393.9" font-size="7.0">NK cell</text>
<rect x="251.7" y="396.4" width="8.4" height="8.4" fill="#E4641B"/>
<text x="263.6" y="403.1" font-size="7.0">NK−like CD8 T cell</text>
<rect x="251.7" y="405.5" width="8.4" height="8.4" fill="#14B4EA"/>
<text x="263.6" y="412.2" font-size="7.0">NKG2A+ NK cell</text>
<rect x="251.7" y="414.7" width="8.4" height="8.4" fill="#F5B7C3"/>
<text x="263.6" y="421.4" font-size="7.0">NKG2A+ NK−like CD8</text>
<rect x="251.7" y="423.9" width="8.4" height="8.4" fill="#A98CF7"/>
<text x="263.6" y="430.6" font-size="7.0">rest CD4 Tcm</text>
<rect x="251.7" y="433.1" width="8.4" height="8.4" fill="#3E8BD5"/>
<text x="263.6" y="439.8" font-size="7.0">TOX+ CD8 T cell</text>
<rect x="251.7" y="442.3" width="8.4" height="8.4" fill="#F89B1C"/>
<text x="263.6" y="449.0" font-size="7.0">TRBC1+ CD4 Tn</text>
<rect x="251.7" y="451.4" width="8.4" height="8.4" fill="#9EB01F"/>
<text x="263.6" y="458.1" font-size="7.0">TRBC1+ CD8 Teff</text>
<path d="M27.4 515V726.8H250" stroke="#000" stroke-width="0.8" fill="none"/>
<path d="M25.2 717.7H27.4" stroke="#333" stroke-width="0.6"/>
<text x="24.2" y="719.8" font-size="6" text-anchor="end" fill="#555">0</text>
<path d="M25.2 679.9H27.4" stroke="#333" stroke-width="0.6"/>
<text x="24.2" y="682.0" font-size="6" text-anchor="end" fill="#555">1</text>
<path d="M25.2 642.1H27.4" stroke="#333" stroke-width="0.6"/>
<text x="24.2" y="644.2" font-size="6" text-anchor="end" fill="#555">2</text>
<path d="M25.2 604.3H27.4" stroke="#333" stroke-width="0.6"/>
<text x="24.2" y="606.4" font-size="6" text-anchor="end" fill="#555">3</text>
<path d="M25.2 566.5H27.4" stroke="#333" stroke-width="0.6"/>
<text x="24.2" y="568.6" font-size="6" text-anchor="end" fill="#555">4</text>
<path d="M25.2 528.7H27.4" stroke="#333" stroke-width="0.6"/>
<text x="24.2" y="530.8" font-size="6" text-anchor="end" fill="#555">5</text>
<path d="M82.0 726.8V729" stroke="#333" stroke-width="0.6"/>
<text x="82.0" y="735.0" font-size="5.5" text-anchor="middle" fill="#444">−4</text>
<path d="M140.0 726.8V729" stroke="#333" stroke-width="0.6"/>
<text x="140.0" y="735.0" font-size="5.5" text-anchor="middle" fill="#444">0</text>
<path d="M198.0 726.8V729" stroke="#333" stroke-width="0.6"/>
<text x="198.0" y="735.0" font-size="5.5" text-anchor="middle" fill="#444">4</text>
<text x="140.5" y="743.2" font-size="8.1" text-anchor="middle">log2FoldChange</text>
<text font-size="8.3" text-anchor="middle" transform="translate(14.6,620.8) rotate(-90)">-log10p.value</text>
<text x="1.2" y="523.8" font-size="14">d</text>
<path d="M132.5 696.8h0M137.2 698.3h0M147.3 709.6h0M152.6 668.3h0M149.3 699.9h0M138.9 669.3h0M110.8 679.3h0M131.6 712.3h0M138.1 701.2h0M136.5 702.4h0M133.0 681.3h0M121.2 678.6h0M119.0 669.9h0M158.6 688.0h0M159.6 680.8h0M104.8 679.6h0M103.4 669.3h0M161.2 675.8h0M141.4 690.6h0M112.7 680.8h0M112.7 680.2h0M159.1 684.1h0M119.6 670.0h0M125.9 690.9h0M142.7 713.7h0M110.2 674.5h0M115.7 676.4h0M130.0 671.7h0M144.5 682.1h0M141.4 712.9h0M146.0 681.4h0M171.1 677.2h0M132.0 669.3h0M142.5 673.2h0M152.4 698.1h0M135.0 706.2h0M129.6 709.5h0M146.9 687.0h0M143.4 699.5h0M155.4 687.4h0M156.0 698.0h0M131.6 712.1h0M134.9 678.7h0M153.0 693.3h0M146.0 716.6h0M111.8 675.3h0M131.7 715.0h0M143.4 683.4h0M118.0 675.3h0M132.4 681.1h0M146.9 693.2h0M167.4 668.3h0M153.8 697.4h0M163.9 679.1h0M106.7 668.6h0M147.2 690.6h0M147.3 702.0h0M151.8 677.0h0M134.4 675.8h0M154.3 675.9h0M117.6 685.0h0M152.9 694.6h0M146.0 707.6h0M127.7 709.6h0M170.2 670.8h0M146.9 716.0h0M126.3 697.3h0M149.1 677.3h0M148.3 705.5h0M139.6 709.5h0M166.0 685.2h0M140.7 708.3h0M162.2 669.5h0M161.4 675.5h0M106.7 674.2h0M137.9 705.8h0M173.8 670.7h0M148.0 694.8h0M120.9 687.0h0M142.6 677.1h0M139.5 693.7h0M128.2 710.1h0M141.7 693.0h0M152.4 669.6h0M139.7 688.8h0M134.6 683.4h0M171.8 673.1h0M111.1 678.5h0M152.0 683.7h0M124.5 700.1h0M115.8 676.9h0M139.0 690.0h0M126.2 688.7h0M138.9 674.8h0M148.0 695.1h0M166.1 678.8h0M168.7 673.4h0M116.5 671.3h0M160.6 672.9h0M128.4 703.7h0M151.6 716.1h0M137.0 707.7h0M136.7 703.7h0M110.7 669.9h0M103.8 668.1h0M140.8 694.3h0M142.2 674.1h0M110.3 677.2h0M171.9 671.2h0M133.4 708.1h0M122.1 691.7h0M137.8 689.7h0M153.2 712.4h0M156.4 688.3h0M111.2 675.1h0M147.2 688.2h0M144.8 693.7h0M162.6 688.3h0M152.7 708.2h0M158.5 688.3h0M155.0 669.9h0M123.4 691.8h0M148.0 700.3h0M150.3 684.6h0M149.8 697.3h0M139.2 687.4h0M153.2 707.9h0M146.1 706.6h0M116.3 688.1h0M126.2 671.4h0M140.7 693.9h0M162.2 670.2h0M144.6 707.8h0M145.7 669.2h0M138.7 698.9h0M125.3 681.7h0M149.4 696.8h0M115.3 668.4h0M157.1 668.8h0M130.6 692.3h0M138.4 717.5h0M155.0 691.8h0M145.1 672.3h0M146.8 691.1h0M111.9 668.9h0M138.8 672.8h0M131.8 702.7h0M132.8 680.4h0M143.3 689.1h0M159.6 695.2h0M155.9 679.1h0M124.8 680.9h0M151.9 697.1h0M144.1 700.8h0M157.5 676.4h0M98.3 669.3h0M117.5 689.4h0M146.7 671.6h0M140.0 670.0h0M140.7 700.7h0M126.0 692.3h0M112.5 684.9h0M101.2 672.6h0M158.8 677.7h0M130.2 680.2h0M162.2 686.3h0M122.0 696.2h0M130.5 686.3h0M101.5 670.6h0M141.8 692.7h0M151.9 682.4h0M159.4 670.2h0M155.2 704.2h0M118.5 673.9h0M125.4 672.5h0M153.9 697.3h0M161.7 682.8h0M121.4 688.0h0M115.6 685.9h0M125.3 686.0h0M127.8 687.3h0M168.1 681.5h0M140.2 697.2h0M161.8 669.5h0M140.4 709.3h0M102.0 670.5h0M148.9 679.5h0M138.3 708.1h0M127.7 684.6h0M136.0 695.6h0M154.8 704.9h0M138.5 705.1h0M161.6 689.2h0M129.9 674.0h0M126.2 675.2h0M159.4 675.9h0M143.5 716.0h0M110.3 678.0h0M144.4 678.3h0M110.4 681.5h0M120.9 696.2h0M140.4 718.6h0M135.1 678.2h0M161.5 687.2h0M138.8 694.4h0M149.6 679.1h0M154.2 699.3h0M108.1 674.6h0M121.7 680.3h0M154.5 671.3h0M134.8 691.8h0M166.2 682.7h0M160.5 688.9h0M171.1 671.0h0M163.6 677.5h0M140.1 694.9h0M120.8 683.1h0M133.8 705.3h0M124.9 703.8h0M133.3 719.2h0M153.9 679.1h0M141.8 691.2h0M161.4 677.4h0M146.1 682.0h0M126.2 695.7h0M119.8 684.6h0M127.6 702.7h0M116.3 677.0h0M155.7 684.1h0M155.1 684.2h0M163.6 671.1h0M106.7 671.2h0M151.2 705.0h0M108.0 672.8h0M128.8 670.0h0M137.5 701.6h0M127.0 684.2h0M128.3 704.5h0M149.8 699.5h0M137.3 709.4h0M124.3 693.5h0M147.1 676.9h0M142.8 704.3h0M125.0 691.5h0M140.1 696.8h0M141.5 680.5h0M164.0 676.2h0M140.5 670.2h0M149.6 682.9h0M150.7 706.6h0M126.7 698.6h0M142.3 675.6h0M138.1 680.5h0M142.1 684.3h0M148.3 668.1h0M150.7 674.0h0M134.0 688.6h0M146.8 703.9h0M128.9 689.9h0M142.0 715.8h0M138.7 694.9h0M130.9 715.7h0M121.6 669.0h0M155.8 698.9h0M157.4 682.8h0M144.3 669.8h0M136.7 687.8h0M138.7 679.2h0M120.4 687.8h0M114.6 669.8h0M150.3 713.7h0M130.0 710.3h0M142.0 715.7h0M115.2 682.5h0M122.0 669.4h0M128.0 685.6h0M143.6 668.5h0M120.6 693.4h0M134.2 677.4h0M169.4 676.8h0M164.5 685.5h0M134.2 675.5h0M99.2 671.8h0M155.2 683.2h0M154.2 673.4h0M131.9 670.3h0M113.5 682.9h0M154.0 676.8h0M110.0 678.9h0M150.2 709.5h0M125.9 702.4h0M114.0 682.6h0M131.5 695.1h0M139.1 668.5h0M144.8 681.6h0M157.7 679.5h0M133.3 707.3h0M136.5 675.9h0M141.1 701.5h0M124.8 702.2h0M160.0 694.4h0M137.0 712.5h0M151.8 694.6h0M159.7 675.1h0M145.5 678.9h0M131.6 708.5h0M144.5 705.3h0M142.5 714.0h0M109.9 674.3h0M131.1 690.3h0M142.2 695.9h0M160.7 679.1h0M146.6 694.9h0M109.2 680.0h0M125.2 677.9h0M175.6 668.3h0M135.6 707.9h0M132.8 707.0h0M168.9 673.8h0M127.6 682.4h0M130.2 670.2h0M114.1 679.9h0M140.8 679.3h0M133.3 717.3h0M125.2 684.5h0M148.9 669.2h0M112.9 685.1h0M108.6 677.2h0M120.6 690.6h0M166.6 677.3h0M126.8 670.0h0M152.4 686.0h0M110.1 680.4h0M154.4 680.8h0M125.0 674.4h0M121.7 687.1h0M138.1 669.0h0M127.7 679.1h0M120.9 689.3h0M140.2 673.5h0M153.6 680.3h0M155.2 702.6h0M107.2 677.3h0M128.6 687.3h0M166.9 678.4h0M119.2 685.0h0M112.9 668.2h0M142.0 710.5h0M150.7 716.5h0M150.3 718.5h0M167.1 678.9h0M147.5 670.9h0M130.5 687.6h0M122.2 693.3h0M118.2 674.7h0M128.4 692.1h0M114.9 671.1h0M123.4 689.2h0M153.2 696.4h0M127.5 686.0h0M143.6 691.8h0M122.0 679.9h0M146.1 718.5h0M125.1 697.7h0M147.1 700.1h0M129.1 688.9h0M170.5 668.1h0M120.6 685.8h0M111.0 678.6h0M151.5 678.9h0M127.7 679.2h0M136.0 701.8h0M140.5 700.3h0M141.5 711.7h0M152.7 703.8h0M135.7 697.0h0M125.7 681.7h0M157.2 695.4h0M114.7 679.7h0M122.0 675.8h0M137.6 672.9h0M100.2 669.8h0M159.1 692.4h0M167.2 668.9h0M161.1 687.6h0M154.4 679.8h0M154.4 684.0h0M142.1 689.1h0M153.7 700.3h0M150.6 678.7h0M143.6 717.8h0M152.1 689.1h0M147.4 687.8h0M104.8 668.3h0M140.0 692.6h0M126.0 683.0h0M118.5 687.5h0M146.3 708.1h0M152.6 696.0h0M161.4 674.1h0M109.5 671.9h0M135.5 672.6h0M142.0 673.9h0M146.9 681.1h0M125.4 680.3h0M99.3 669.5h0M101.5 676.0h0M135.2 688.8h0M162.0 687.8h0M149.5 700.3h0M131.8 711.9h0M155.2 675.7h0M104.9 670.1h0M120.7 694.3h0M138.8 710.6h0M128.1 710.2h0M153.5 679.8h0M142.9 678.5h0M127.2 686.3h0M149.5 710.6h0M141.3 654.8h0M136.1 655.2h0M136.7 634.3h0M136.9 665.0h0M135.1 640.5h0M139.9 640.5h0M134.6 642.8h0M134.1 664.6h0M138.3 655.3h0M139.3 668.2h0M136.7 653.3h0M145.8 648.3h0M144.8 660.8h0M143.0 656.4h0M146.3 664.5h0M146.0 652.3h0M137.9 660.3h0M134.6 641.9h0M141.8 658.2h0M136.7 632.7h0M137.2 661.6h0M134.2 631.2h0M137.5 644.6h0M135.1 644.2h0M144.9 645.3h0M141.1 636.2h0M140.3 649.5h0M144.2 664.2h0M138.6 642.5h0M138.1 643.4h0M135.4 654.0h0M140.3 645.9h0M132.5 649.1h0M138.5 644.8h0M140.6 646.1h0M134.2 633.3h0M146.4 650.8h0M136.6 640.7h0M146.4 640.7h0M144.6 653.4h0M146.4 663.8h0M135.4 650.0h0M141.4 636.8h0M144.0 633.1h0M139.4 638.4h0M133.0 631.0h0M142.3 635.7h0M143.7 659.1h0M139.8 651.4h0M134.9 635.8h0M141.4 658.0h0M140.1 665.8h0M139.1 638.8h0M143.6 659.4h0M143.2 636.2h0M145.2 647.8h0M134.2 638.4h0M133.5 654.7h0M137.0 667.2h0M144.1 635.9h0M134.7 664.1h0M144.3 653.9h0M145.1 645.2h0M146.3 665.8h0M141.1 660.7h0M142.6 635.4h0M141.7 661.1h0M132.2 652.3h0M136.6 655.7h0M136.1 644.8h0M142.1 645.8h0M133.9 661.7h0M138.8 642.3h0M133.7 663.7h0M140.9 633.0h0M134.9 655.0h0M142.1 631.0h0M137.2 640.7h0M137.9 656.8h0M141.2 663.0h0M143.9 652.5h0M138.6 653.1h0M145.7 649.4h0M142.2 655.5h0M140.4 659.7h0M144.7 657.8h0M144.4 657.7h0M138.6 643.0h0M137.6 633.3h0M140.7 640.5h0M181.7 675.3h0M196.1 674.0h0M206.6 676.6h0M211.8 680.5h0M217.1 676.6h0M201.7 688.4h0M181.7 695.0h0M175.2 680.5h0M99.4 678.0h0M103.3 680.5h0M188.0 671.0h0M170.0 688.0h0M165.0 700.0h0" stroke="#C6C6C6" stroke-width="5" stroke-linecap="round" fill="none"/>
<path d="M132.1 515V726.8M146.7 515V726.8M27.4 668.6H250" stroke="#858585" stroke-width="1.25" stroke-dasharray="6 3" fill="none"/>
<path d="M114.3 623.3h0M135.2 624.0h0M124.2 620.9h0M130.0 660.3h0M126.2 648.5h0M133.0 666.7h0M122.7 635.5h0M130.3 647.2h0M106.2 629.0h0M113.4 653.2h0M126.5 655.4h0M118.9 639.7h0M128.8 624.6h0M102.9 641.9h0M128.3 621.0h0M115.6 641.3h0M131.2 611.8h0M131.7 667.6h0M129.9 652.7h0M104.1 639.5h0M123.1 660.1h0M114.2 610.1h0M132.6 666.5h0M117.5 663.8h0M109.7 653.1h0M113.6 619.5h0M121.1 667.5h0M121.3 629.0h0M121.8 643.3h0M114.6 660.9h0M109.1 649.2h0M128.7 646.7h0M134.4 653.9h0M128.5 633.6h0M130.5 648.3h0M119.8 664.9h0M134.2 637.1h0M113.1 655.6h0M127.0 615.8h0M105.9 627.5h0M125.2 620.2h0M126.5 642.4h0M133.5 634.6h0M107.0 654.0h0M110.0 660.1h0M125.2 641.9h0M127.8 657.4h0M128.6 619.2h0M118.9 644.6h0M134.0 649.8h0M135.1 651.7h0M131.4 652.2h0M119.0 621.5h0M108.6 623.5h0M117.9 661.8h0M131.5 660.6h0M119.2 652.7h0M134.5 628.6h0M126.4 666.3h0M120.1 627.7h0M134.7 647.7h0M110.1 661.7h0M124.0 609.4h0M118.3 610.0h0M114.3 636.6h0M119.9 613.8h0M134.1 660.8h0M121.9 665.7h0M118.3 667.4h0M124.9 638.8h0M127.5 657.5h0M113.9 626.8h0M107.1 662.3h0M128.6 626.6h0M123.5 621.9h0M107.9 662.0h0M135.5 665.5h0M125.9 666.5h0M126.3 666.7h0M112.5 612.8h0M105.2 627.6h0M110.0 616.9h0M134.0 637.7h0M110.9 641.9h0M128.9 668.2h0M121.5 660.0h0M127.7 631.0h0M126.7 618.8h0M123.5 635.2h0M122.1 629.0h0M122.3 625.6h0M132.5 642.8h0M119.1 634.9h0M131.3 662.3h0M107.2 642.9h0M135.0 623.5h0M124.8 627.6h0M122.6 635.0h0M134.9 636.8h0M111.4 617.8h0M133.8 649.5h0M133.5 665.6h0M100.5 648.4h0M117.2 630.0h0M129.0 619.9h0M128.2 650.1h0M110.3 622.7h0M131.6 639.8h0M127.0 621.2h0M120.7 620.7h0M122.9 631.9h0M127.7 641.1h0M134.6 663.7h0M123.3 650.9h0M135.2 662.7h0M115.1 613.3h0M120.4 653.4h0M123.3 649.3h0M131.2 636.6h0M102.7 624.8h0M131.8 638.1h0M113.6 662.7h0M128.9 651.0h0M116.5 662.2h0M128.6 631.1h0M126.9 624.3h0M135.0 647.6h0M115.0 647.5h0M111.3 651.3h0M114.2 654.8h0M121.9 619.4h0M127.7 653.5h0M126.3 666.8h0M120.1 639.3h0M120.2 667.0h0M127.6 609.9h0M112.8 622.8h0M112.6 647.7h0M107.7 616.6h0M126.8 622.2h0M129.9 660.9h0M125.4 650.5h0M132.3 619.2h0M130.3 664.5h0M132.0 619.7h0M106.9 651.7h0M119.2 642.9h0M125.2 616.5h0M124.0 650.2h0M111.9 628.4h0M109.4 622.0h0M110.1 643.5h0M116.3 638.3h0M132.6 654.0h0M123.7 650.0h0M128.8 663.0h0M122.2 623.6h0M131.9 659.3h0M125.0 653.4h0M130.6 609.8h0M113.2 646.6h0M119.9 666.1h0M127.7 643.5h0M124.3 619.1h0M106.6 647.7h0M127.6 608.7h0M129.1 614.1h0M116.5 667.3h0M108.1 658.8h0M130.1 621.4h0M94.5 592.3h0M118.6 592.3h0M96.4 646.0h0M121.0 600.0h0" stroke="#F0BF14" stroke-width="5" stroke-linecap="round" fill="none"/>
<path d="M150.7 647.8h0M154.0 667.2h0M150.7 635.9h0M154.4 663.9h0M168.1 653.9h0M157.8 658.0h0M161.8 627.7h0M161.7 642.7h0M157.4 640.2h0M149.3 652.3h0M162.0 648.0h0M171.6 651.0h0M152.6 633.7h0M150.8 646.5h0M174.4 653.5h0M170.8 660.0h0M157.7 629.0h0M165.7 667.2h0M154.3 633.8h0M148.0 634.2h0M167.1 632.7h0M150.1 649.6h0M157.5 631.9h0M164.5 648.4h0M158.0 646.8h0M145.4 653.3h0M151.0 640.4h0M165.2 643.0h0M163.5 668.2h0M148.8 642.6h0M169.5 642.1h0M145.5 638.1h0M154.5 659.5h0M172.2 657.2h0M158.2 664.2h0M175.2 641.7h0M176.3 651.5h0M174.2 655.2h0M158.5 650.9h0M148.7 660.9h0M146.2 653.9h0M154.1 639.9h0M165.8 633.8h0M160.1 664.4h0M157.2 656.9h0M150.8 664.1h0M151.2 650.6h0M155.8 637.7h0M146.3 657.9h0M152.4 647.2h0M155.4 643.3h0M155.3 659.1h0M160.7 656.5h0M149.5 661.0h0M166.2 632.5h0M145.3 644.0h0M150.6 658.6h0M164.6 656.0h0M160.5 662.9h0M168.6 650.2h0M174.8 642.1h0M148.1 654.5h0M146.3 649.5h0M148.6 652.8h0M173.7 640.8h0M148.3 655.9h0M163.9 651.8h0M171.9 654.1h0M161.2 637.1h0M165.7 648.4h0M162.4 627.7h0M148.7 652.9h0M172.5 638.3h0M160.4 648.3h0M172.9 643.1h0M174.2 625.4h0M182.1 618.8h0M175.5 634.5h0M183.3 641.1h0M191.2 634.5h0M199.1 641.1h0M204.3 650.3h0M188.6 650.3h0M182.1 658.2h0M192.5 655.6h0M179.4 643.7h0M167.6 626.7h0M172.9 621.4h0M186.0 632.0h0M176.8 651.7h0M196.5 646.3h0M166.3 642.4h0M175.5 656.9h0M187.3 659.5h0M207.0 641.0h0M201.0 542.0h0M151.8 558.4h0M210.2 575.2h0M235.4 576.6h0M225.2 590.9h0M214.6 599.6h0M174.5 603.3h0" stroke="#2F8B43" stroke-width="5" stroke-linecap="round" fill="none"/>
<path d="M84 659L128 648M108 619L123 642M121 612L125 632M165 625L158 640" stroke="#000" stroke-width="0.9" fill="none"/>
<text x="197.1" y="549.1" font-size="6.9" text-anchor="middle" font-style="italic" fill="#111">SYT1</text>
<text x="166.8" y="565.9" font-size="6.9" text-anchor="middle" font-style="italic" fill="#111">FKBP11</text>
<text x="212.4" y="596.2" font-size="6.9" text-anchor="middle" font-style="italic" fill="#111">NRGN</text>
<text x="181.0" y="600.2" font-size="6.9" text-anchor="middle" font-style="italic" fill="#111">CP</text>
<text x="92.0" y="588.2" font-size="6.9" text-anchor="middle" font-style="italic" fill="#111">BAG3</text>
<text x="120.4" y="588.2" font-size="6.9" text-anchor="middle" font-style="italic" fill="#111">CLU</text>
<text x="120.4" y="613.0" font-size="6.9" text-anchor="middle" font-style="italic" fill="#111">BCL10</text>
<text x="102.2" y="618.4" font-size="6.9" text-anchor="middle" font-style="italic" fill="#111">PLCG2</text>
<text x="134.0" y="619.6" font-size="6.9" text-anchor="middle" font-style="italic" fill="#111">CCNG1</text>
<text x="93.0" y="627.6" font-size="6.9" text-anchor="middle" font-style="italic" fill="#111">HSPH1</text>
<text x="94.2" y="636.4" font-size="6.9" text-anchor="middle" font-style="italic" fill="#111">PDLIM4</text>
<text x="111.3" y="638.5" font-size="6.9" text-anchor="middle" font-style="italic" fill="#111">ID1</text>
<text x="127.0" y="637.8" font-size="6.9" text-anchor="middle" font-style="italic" fill="#111">ID3</text>
<text x="84.7" y="645.1" font-size="6.9" text-anchor="middle" font-style="italic" fill="#111">HSPA6</text>
<text x="112.4" y="644.7" font-size="6.9" text-anchor="middle" font-style="italic" fill="#111">DUSP1</text>
<text x="116.8" y="650.6" font-size="6.9" text-anchor="middle" font-style="italic" fill="#111">CD9</text>
<text x="127.7" y="655.7" font-size="6.9" text-anchor="middle" font-style="italic" fill="#111">RHOB</text>
<text x="151.5" y="655.7" font-size="6.9" text-anchor="middle" font-style="italic" fill="#111">DNAJB6</text>
<text x="71.2" y="661.5" font-size="6.9" text-anchor="middle" font-style="italic" fill="#111">CACYBP</text>
<text x="100.4" y="661.5" font-size="6.9" text-anchor="middle" font-style="italic" fill="#111">HSPA1A</text>
<text x="124.1" y="664.1" font-size="6.9" text-anchor="middle" font-style="italic" fill="#111">JUN</text>
<text x="105.8" y="671.0" font-size="6.9" text-anchor="middle" font-style="italic" fill="#111">MYO1E</text>
<text x="167.9" y="622.8" font-size="6.9" text-anchor="middle" font-style="italic" fill="#111">SLC4A1</text>
<text x="197.0" y="619.9" font-size="6.9" text-anchor="middle" font-style="italic" fill="#111">ROBO1</text>
<text x="190.9" y="624.7" font-size="6.9" text-anchor="middle" font-style="italic" fill="#111">GAS2</text>
<text x="155.1" y="630.1" font-size="6.9" text-anchor="middle" font-style="italic" fill="#111">CD93</text>
<text x="189.8" y="630.9" font-size="6.9" text-anchor="middle" font-style="italic" fill="#111">CFH</text>
<text x="208.0" y="636.0" font-size="6.9" text-anchor="middle" font-style="italic" fill="#111">COL6A3</text>
<text x="171.5" y="638.2" font-size="6.9" text-anchor="middle" font-style="italic" fill="#111">GZMB</text>
<text x="147.8" y="641.8" font-size="6.9" text-anchor="middle" font-style="italic" fill="#111">SEPTIN7</text>
<text x="191.6" y="641.8" font-size="6.9" text-anchor="middle" font-style="italic" fill="#111">S100A6</text>
<text x="219.0" y="649.1" font-size="6.9" text-anchor="middle" font-style="italic" fill="#111">COL14A1</text>
<text x="197.1" y="655.7" font-size="6.9" text-anchor="middle" font-style="italic" fill="#111">ROBO2</text>
<text x="189.8" y="661.5" font-size="6.9" text-anchor="middle" font-style="italic" fill="#111">TOP2A</text>
<text x="163.0" y="665.9" font-size="6.9" text-anchor="middle" font-style="italic" fill="#111">MT1X</text>
<text x="177.0" y="665.9" font-size="6.9" text-anchor="middle" font-style="italic" fill="#111">IGF2</text>
<text x="164.2" y="675.8" font-size="6.9" text-anchor="middle" font-style="italic" fill="#111">PTGDS</text>
<text x="269.3" y="616.0" font-size="8.2">Group</text>
<circle cx="263" cy="625.5" r="4" fill="#2F8B43"/><circle cx="263" cy="635.7" r="4" fill="#F0BF14"/>
<text x="269.8" y="628.5" font-size="8.2">Recurrent</text>
<text x="269.8" y="638.7" font-size="8.2">Primary</text>
<defs><linearGradient id="gb1" x1="0" x2="1" y1="0" y2="0"><stop offset="0.000" stop-color="#E42E38"/><stop offset="0.055" stop-color="#E42E38"/><stop offset="0.055" stop-color="#EE4650"/><stop offset="0.196" stop-color="#EE4650"/><stop offset="0.196" stop-color="#F27078"/><stop offset="0.358" stop-color="#F27078"/><stop offset="0.358" stop-color="#F5B2DA"/><stop offset="0.459" stop-color="#F5B2DA"/><stop offset="0.459" stop-color="#DADAF8"/><stop offset="0.580" stop-color="#DADAF8"/><stop offset="0.580" stop-color="#C6C6F4"/><stop offset="0.681" stop-color="#C6C6F4"/><stop offset="0.681" stop-color="#8585F0"/><stop offset="0.762" stop-color="#8585F0"/><stop offset="0.762" stop-color="#5A52E2"/><stop offset="0.923" stop-color="#5A52E2"/><stop offset="0.923" stop-color="#2A0CC8"/><stop offset="1.000" stop-color="#2A0CC8"/></linearGradient></defs>
<defs><linearGradient id="gb2" x1="0" x2="1" y1="0" y2="0"><stop offset="0.000" stop-color="#E2303A"/><stop offset="0.190" stop-color="#E2303A"/><stop offset="0.190" stop-color="#EE5E6C"/><stop offset="0.355" stop-color="#EE5E6C"/><stop offset="0.355" stop-color="#F6B4DE"/><stop offset="0.459" stop-color="#F6B4DE"/><stop offset="0.459" stop-color="#D8D8F8"/><stop offset="0.574" stop-color="#D8D8F8"/><stop offset="0.574" stop-color="#C2C2F4"/><stop offset="0.676" stop-color="#C2C2F4"/><stop offset="0.676" stop-color="#8282F0"/><stop offset="0.764" stop-color="#8282F0"/><stop offset="0.764" stop-color="#5A50E4"/><stop offset="0.930" stop-color="#5A50E4"/><stop offset="0.930" stop-color="#2A0ACC"/><stop offset="1.000" stop-color="#2A0ACC"/></linearGradient></defs>
<text x="311.3" y="552.2" font-size="14">e</text>
<path d="M361.3 565.0V628.2" stroke="#ececec" stroke-width="0.5"/>
<path d="M389.2 565.0V628.2" stroke="#ececec" stroke-width="0.5"/>
<path d="M417.1 565.0V628.2" stroke="#ececec" stroke-width="0.5"/>
<path d="M445.0 565.0V628.2" stroke="#ececec" stroke-width="0.5"/>
<path d="M472.9 565.0V628.2" stroke="#ececec" stroke-width="0.5"/>
<path d="M333.4 567.1H478.5" stroke="#ececec" stroke-width="0.5"/>
<path d="M331.9 567.1H333.4" stroke="#555" stroke-width="0.5"/>
<text x="331.4" y="568.7" font-size="4.6" text-anchor="end" fill="#333">0.00</text>
<path d="M333.4 574.4H478.5" stroke="#ececec" stroke-width="0.5"/>
<path d="M331.9 574.4H333.4" stroke="#555" stroke-width="0.5"/>
<text x="331.4" y="576.0" font-size="4.6" text-anchor="end" fill="#333">0.05</text>
<path d="M333.4 582.6H478.5" stroke="#ececec" stroke-width="0.5"/>
<path d="M331.9 582.6H333.4" stroke="#555" stroke-width="0.5"/>
<text x="331.4" y="584.2" font-size="4.6" text-anchor="end" fill="#333">0.10</text>
<path d="M333.4 590.4H478.5" stroke="#ececec" stroke-width="0.5"/>
<path d="M331.9 590.4H333.4" stroke="#555" stroke-width="0.5"/>
<text x="331.4" y="592.0" font-size="4.6" text-anchor="end" fill="#333">0.15</text>
<path d="M333.4 598.0H478.5" stroke="#ececec" stroke-width="0.5"/>
<path d="M331.9 598.0H333.4" stroke="#555" stroke-width="0.5"/>
<text x="331.4" y="599.6" font-size="4.6" text-anchor="end" fill="#333">0.20</text>
<path d="M333.4 605.9H478.5" stroke="#ececec" stroke-width="0.5"/>
<path d="M331.9 605.9H333.4" stroke="#555" stroke-width="0.5"/>
<text x="331.4" y="607.5" font-size="4.6" text-anchor="end" fill="#333">0.25</text>
<path d="M333.4 613.8H478.5" stroke="#ececec" stroke-width="0.5"/>
<path d="M331.9 613.8H333.4" stroke="#555" stroke-width="0.5"/>
<text x="331.4" y="615.4" font-size="4.6" text-anchor="end" fill="#333">0.30</text>
<path d="M333.4 621.1H478.5" stroke="#ececec" stroke-width="0.5"/>
<path d="M331.9 621.1H333.4" stroke="#555" stroke-width="0.5"/>
<text x="331.4" y="622.7" font-size="4.6" text-anchor="end" fill="#333">0.35</text>
<path d="M333.4 565.0V628.2" stroke="#666" stroke-width="0.6"/>
<path d="M333.4 628.2H483.5" stroke="#bbb" stroke-width="0.6"/>
<path d="M333.4 567.1 L337.5 570.3 L341.3 573.2 L343.6 572.6 L345.7 571.8 L347.2 574.4 L348.6 576.7 L350.7 572.6 L353.0 568.5 L355.3 571.5 L357.4 574.4 L359.4 572.6 L361.8 570.9 L364.7 571.8 L367.6 572.3 L370.5 572.6 L373.4 573.8 L376.4 575.0 L379.3 576.7 L383.6 580.2 L388.0 584.0 L390.9 585.8 L393.9 586.9 L398.2 591.3 L402.6 595.7 L407.0 600.1 L411.4 604.5 L415.8 608.2 L420.1 611.8 L423.1 614.1 L426.0 616.1 L428.9 617.0 L431.8 617.6 L434.7 618.2 L437.7 618.5 L440.6 619.3 L443.5 620.5 L445.3 622.3 L447.0 624.0 L448.8 620.5 L450.8 617.6 L452.8 619.3 L455.2 621.1 L457.2 622.3 L459.6 623.4 L461.0 616.1 L462.5 608.8 L463.9 607.7 L465.4 607.4 L467.4 610.3 L469.8 613.2 L471.2 600.1 L472.7 589.9 L473.9 588.4 L475.0 588.4 L476.2 576.7 L477.1 567.1" stroke="#1EE41E" stroke-width="1.15" fill="none" stroke-linejoin="round"/>
<path d="M341.1 629.2V649.2" stroke="#111" stroke-width="0.4"/>
<path d="M348.5 629.2V649.2" stroke="#111" stroke-width="0.4"/>
<path d="M349.8 629.2V649.2" stroke="#111" stroke-width="0.4"/>
<path d="M351.0 629.2V649.2" stroke="#111" stroke-width="0.4"/>
<path d="M352.3 629.2V649.2" stroke="#111" stroke-width="0.4"/>
<path d="M359.2 629.2V649.2" stroke="#111" stroke-width="0.4"/>
<path d="M360.4 629.2V649.2" stroke="#111" stroke-width="0.4"/>
<path d="M364.7 629.2V649.2" stroke="#111" stroke-width="0.4"/>
<path d="M365.9 629.2V649.2" stroke="#111" stroke-width="0.4"/>
<path d="M367.1 629.2V649.2" stroke="#111" stroke-width="0.4"/>
<path d="M368.4 629.2V649.2" stroke="#111" stroke-width="0.4"/>
<path d="M370.9 629.2V649.2" stroke="#111" stroke-width="0.4"/>
<path d="M374.6 629.2V649.2" stroke="#111" stroke-width="0.4"/>
<path d="M375.8 629.2V649.2" stroke="#111" stroke-width="0.4"/>
<path d="M377.1 629.2V649.2" stroke="#111" stroke-width="0.4"/>
<path d="M380.8 629.2V649.2" stroke="#111" stroke-width="0.4"/>
<path d="M382.0 629.2V649.2" stroke="#111" stroke-width="0.4"/>
<path d="M388.2 629.2V649.2" stroke="#111" stroke-width="0.4"/>
<path d="M389.5 629.2V649.2" stroke="#111" stroke-width="0.4"/>
<path d="M392.0 629.2V649.2" stroke="#111" stroke-width="0.4"/>
<path d="M393.2 629.2V649.2" stroke="#111" stroke-width="0.4"/>
<path d="M403.4 629.2V649.2" stroke="#111" stroke-width="0.4"/>
<path d="M413.1 629.2V649.2" stroke="#111" stroke-width="0.4"/>
<path d="M419.3 629.2V649.2" stroke="#111" stroke-width="0.4"/>
<path d="M424.2 629.2V649.2" stroke="#111" stroke-width="0.4"/>
<path d="M425.5 629.2V649.2" stroke="#111" stroke-width="0.4"/>
<path d="M426.7 629.2V649.2" stroke="#111" stroke-width="0.4"/>
<path d="M430.4 629.2V649.2" stroke="#111" stroke-width="0.4"/>
<path d="M431.7 629.2V649.2" stroke="#111" stroke-width="0.4"/>
<path d="M432.9 629.2V649.2" stroke="#111" stroke-width="0.4"/>
<path d="M434.1 629.2V649.2" stroke="#111" stroke-width="0.4"/>
<path d="M435.4 629.2V649.2" stroke="#111" stroke-width="0.4"/>
<path d="M436.6 629.2V649.2" stroke="#111" stroke-width="0.4"/>
<path d="M441.6 629.2V649.2" stroke="#111" stroke-width="0.4"/>
<path d="M447.8 629.2V649.2" stroke="#111" stroke-width="0.4"/>
<path d="M449.0 629.2V649.2" stroke="#111" stroke-width="0.4"/>
<path d="M450.3 629.2V649.2" stroke="#111" stroke-width="0.4"/>
<path d="M460.2 629.2V649.2" stroke="#111" stroke-width="0.4"/>
<path d="M461.4 629.2V649.2" stroke="#111" stroke-width="0.4"/>
<path d="M462.7 629.2V649.2" stroke="#111" stroke-width="0.4"/>
<path d="M470.1 629.2V649.2" stroke="#111" stroke-width="0.4"/>
<path d="M471.4 629.2V649.2" stroke="#111" stroke-width="0.4"/>
<path d="M472.6 629.2V649.2" stroke="#111" stroke-width="0.4"/>
<path d="M476.3 629.2V649.2" stroke="#111" stroke-width="0.4"/>
<path d="M333.4 649.2H483.5" stroke="#bbb" stroke-width="0.6"/>
<path d="M333.4 654.9H483.5" stroke="#bbb" stroke-width="0.6"/>
<rect x="333.4" y="649.3" width="145.1" height="5.4" fill="url(#gb1)"/>
<text x="407.9" y="552.5" font-size="7.6" text-anchor="middle">Immune Memory</text>
<text x="429.8" y="582.4" font-size="6.0">NES : -1.47</text>
<text x="429.8" y="590.0" font-size="6.0">p−val : 0.03</text>
<text font-size="6" text-anchor="middle" transform="translate(320.1,607.5) rotate(-90)">Enrichment score (ES)</text>
<text x="325.5" y="667.8" font-size="8.1">Recurrent</text>
<text x="481.4" y="667.8" font-size="8.1" text-anchor="end">Primary</text>
<path d="M538.7 562.9V626.4" stroke="#ececec" stroke-width="0.5"/>
<path d="M566.3 562.9V626.4" stroke="#ececec" stroke-width="0.5"/>
<path d="M593.8 562.9V626.4" stroke="#ececec" stroke-width="0.5"/>
<path d="M621.4 562.9V626.4" stroke="#ececec" stroke-width="0.5"/>
<path d="M649.0 562.9V626.4" stroke="#ececec" stroke-width="0.5"/>
<path d="M511.1 569.8H654.5" stroke="#ececec" stroke-width="0.5"/>
<path d="M509.6 569.8H511.1" stroke="#555" stroke-width="0.5"/>
<text x="509.1" y="571.4" font-size="4.6" text-anchor="end" fill="#333">0.5</text>
<path d="M511.1 580.9H654.5" stroke="#ececec" stroke-width="0.5"/>
<path d="M509.6 580.9H511.1" stroke="#555" stroke-width="0.5"/>
<text x="509.1" y="582.5" font-size="4.6" text-anchor="end" fill="#333">0.4</text>
<path d="M511.1 592.0H654.5" stroke="#ececec" stroke-width="0.5"/>
<path d="M509.6 592.0H511.1" stroke="#555" stroke-width="0.5"/>
<text x="509.1" y="593.6" font-size="4.6" text-anchor="end" fill="#333">0.3</text>
<path d="M511.1 602.4H654.5" stroke="#ececec" stroke-width="0.5"/>
<path d="M509.6 602.4H511.1" stroke="#555" stroke-width="0.5"/>
<text x="509.1" y="604.0" font-size="4.6" text-anchor="end" fill="#333">0.2</text>
<path d="M511.1 612.9H654.5" stroke="#ececec" stroke-width="0.5"/>
<path d="M509.6 612.9H511.1" stroke="#555" stroke-width="0.5"/>
<text x="509.1" y="614.5" font-size="4.6" text-anchor="end" fill="#333">0.1</text>
<path d="M511.1 623.4H654.5" stroke="#ececec" stroke-width="0.5"/>
<path d="M509.6 623.4H511.1" stroke="#555" stroke-width="0.5"/>
<text x="509.1" y="625.0" font-size="4.6" text-anchor="end" fill="#333">0.0</text>
<path d="M511.1 562.9V626.4" stroke="#666" stroke-width="0.6"/>
<path d="M511.1 626.4H659.5" stroke="#bbb" stroke-width="0.6"/>
<path d="M511.1 616.2 L515.3 618.9 L516.5 609.3 L518.3 607.8 L519.2 604.8 L520.4 604.8 L521.9 598.2 L524.3 599.4 L525.5 594.4 L527.3 585.4 L528.5 576.4 L529.7 574.3 L530.9 571.9 L532.4 570.4 L533.3 569.8 L534.8 568.9 L536.3 568.3 L537.5 567.4 L539.0 565.9 L541.4 567.7 L542.9 568.9 L545.8 570.4 L548.8 571.9 L551.8 573.4 L556.3 576.4 L560.8 579.4 L565.3 581.5 L569.8 583.9 L575.8 587.8 L581.8 591.4 L587.8 595.8 L593.7 600.3 L598.2 603.3 L602.7 603.6 L604.2 602.7 L605.7 601.8 L607.2 601.2 L609.3 602.7 L611.7 603.6 L616.2 606.6 L620.7 609.3 L626.7 613.8 L632.6 618.3 L634.1 616.2 L636.2 611.4 L638.0 612.3 L643.1 615.3 L647.6 618.3 L651.2 621.3 L655.1 624.3" stroke="#1EE41E" stroke-width="1.15" fill="none" stroke-linejoin="round"/>
<path d="M515.3 627.4V649.2" stroke="#111" stroke-width="0.4"/>
<path d="M517.4 627.4V649.2" stroke="#111" stroke-width="0.4"/>
<path d="M518.9 627.4V649.2" stroke="#111" stroke-width="0.4"/>
<path d="M521.9 627.4V649.2" stroke="#111" stroke-width="0.4"/>
<path d="M524.3 627.4V649.2" stroke="#111" stroke-width="0.4"/>
<path d="M524.9 627.4V649.2" stroke="#111" stroke-width="0.4"/>
<path d="M525.5 627.4V649.2" stroke="#111" stroke-width="0.4"/>
<path d="M526.1 627.4V649.2" stroke="#111" stroke-width="0.4"/>
<path d="M526.7 627.4V649.2" stroke="#111" stroke-width="0.4"/>
<path d="M527.3 627.4V649.2" stroke="#111" stroke-width="0.4"/>
<path d="M527.9 627.4V649.2" stroke="#111" stroke-width="0.4"/>
<path d="M528.5 627.4V649.2" stroke="#111" stroke-width="0.4"/>
<path d="M529.1 627.4V649.2" stroke="#111" stroke-width="0.4"/>
<path d="M529.7 627.4V649.2" stroke="#111" stroke-width="0.4"/>
<path d="M530.9 627.4V649.2" stroke="#111" stroke-width="0.4"/>
<path d="M532.4 627.4V649.2" stroke="#111" stroke-width="0.4"/>
<path d="M533.9 627.4V649.2" stroke="#111" stroke-width="0.4"/>
<path d="M535.4 627.4V649.2" stroke="#111" stroke-width="0.4"/>
<path d="M538.4 627.4V649.2" stroke="#111" stroke-width="0.4"/>
<path d="M549.4 627.4V649.2" stroke="#111" stroke-width="0.4"/>
<path d="M560.2 627.4V649.2" stroke="#111" stroke-width="0.4"/>
<path d="M564.4 627.4V649.2" stroke="#111" stroke-width="0.4"/>
<path d="M574.3 627.4V649.2" stroke="#111" stroke-width="0.4"/>
<path d="M581.8 627.4V649.2" stroke="#111" stroke-width="0.4"/>
<path d="M587.2 627.4V649.2" stroke="#111" stroke-width="0.4"/>
<path d="M593.1 627.4V649.2" stroke="#111" stroke-width="0.4"/>
<path d="M595.2 627.4V649.2" stroke="#111" stroke-width="0.4"/>
<path d="M597.3 627.4V649.2" stroke="#111" stroke-width="0.4"/>
<path d="M599.1 627.4V649.2" stroke="#111" stroke-width="0.4"/>
<path d="M600.3 627.4V649.2" stroke="#111" stroke-width="0.4"/>
<path d="M601.2 627.4V649.2" stroke="#111" stroke-width="0.4"/>
<path d="M602.7 627.4V649.2" stroke="#111" stroke-width="0.4"/>
<path d="M604.2 627.4V649.2" stroke="#111" stroke-width="0.4"/>
<path d="M605.1 627.4V649.2" stroke="#111" stroke-width="0.4"/>
<path d="M605.7 627.4V649.2" stroke="#111" stroke-width="0.4"/>
<path d="M606.3 627.4V649.2" stroke="#111" stroke-width="0.4"/>
<path d="M633.2 627.4V649.2" stroke="#111" stroke-width="0.4"/>
<path d="M634.4 627.4V649.2" stroke="#111" stroke-width="0.4"/>
<path d="M635.6 627.4V649.2" stroke="#111" stroke-width="0.4"/>
<path d="M511.1 649.2H659.5" stroke="#bbb" stroke-width="0.6"/>
<path d="M511.1 654.9H659.5" stroke="#bbb" stroke-width="0.6"/>
<rect x="511.1" y="649.3" width="143.4" height="5.4" fill="url(#gb2)"/>
<text x="582.7" y="552.5" font-size="7.6" text-anchor="middle">Glucose Deprivation</text>
<text x="607.2" y="579.2" font-size="6.0">NES : 1.78</text>
<text x="607.2" y="586.8" font-size="6.0">p−val : 0.01</text>
<text font-size="6" text-anchor="middle" transform="translate(497.8,607.5) rotate(-90)">Enrichment score (ES)</text>
<text x="509.5" y="667.8" font-size="8.1">Recurrent</text>
<text x="662.0" y="667.8" font-size="8.1" text-anchor="end">Primary</text>
<text x="22.4" y="766.4" font-size="14">f</text>
<path d="M57.7 770V890.5H153.3" stroke="#333" stroke-width="0.8" fill="none"/>
<path d="M55.9 780.7H57.7" stroke="#333" stroke-width="0.5"/>
<text x="55.0" y="782.0" font-size="3.6" text-anchor="end" fill="#444">1.00</text>
<path d="M55.9 805.5H57.7" stroke="#333" stroke-width="0.5"/>
<text x="55.0" y="806.8" font-size="3.6" text-anchor="end" fill="#444">0.75</text>
<path d="M55.9 830.3H57.7" stroke="#333" stroke-width="0.5"/>
<text x="55.0" y="831.6" font-size="3.6" text-anchor="end" fill="#444">0.50</text>
<path d="M55.9 855.1H57.7" stroke="#333" stroke-width="0.5"/>
<text x="55.0" y="856.4" font-size="3.6" text-anchor="end" fill="#444">0.25</text>
<path d="M55.9 880.0H57.7" stroke="#333" stroke-width="0.5"/>
<text x="55.0" y="881.3" font-size="3.6" text-anchor="end" fill="#444">0.00</text>
<text font-size="6.6" text-anchor="middle" transform="translate(45.5,828.5) rotate(-90)">T LYMPHOCYTE PROGENITOR DN</text>
<text x="110.5" y="778.8" font-size="6.9" text-anchor="middle">p &lt; 2.2e−16</text>
<path d="M84.4 789V885.7M128.1 779.5V885.7" stroke="#2a2a2a" stroke-width="0.8"/>
<path d="M85.20 825.50 L85.23 825.87 L85.28 826.25 L85.33 826.62 L85.39 826.99 L85.45 827.36 L85.52 827.74 L85.59 828.11 L85.66 828.48 L85.74 828.85 L85.82 829.23 L85.91 829.60 L86.00 829.97 L86.09 830.34 L86.19 830.72 L86.29 831.09 L86.38 831.46 L86.48 831.83 L86.59 832.21 L86.69 832.58 L86.80 832.95 L86.91 833.32 L87.02 833.69 L87.13 834.07 L87.25 834.44 L87.36 834.81 L87.48 835.18 L87.60 835.56 L87.72 835.93 L87.84 836.30 L87.97 836.67 L88.09 837.05 L88.22 837.42 L88.35 837.79 L88.48 838.16 L88.61 838.54 L88.74 838.91 L88.87 839.28 L89.01 839.65 L89.14 840.03 L89.28 840.40 L89.42 840.77 L89.56 841.14 L89.70 841.52 L89.84 841.89 L89.98 842.26 L90.13 842.63 L90.27 843.01 L90.42 843.38 L90.57 843.75 L90.71 844.12 L90.86 844.50 L91.01 844.87 L91.17 845.24 L91.32 845.62 L91.47 845.99 L91.63 846.36 L91.78 846.73 L91.94 847.11 L92.09 847.48 L92.25 847.85 L92.41 848.22 L92.57 848.59 L92.73 848.97 L92.89 849.34 L93.06 849.71 L93.22 850.08 L93.39 850.46 L93.55 850.83 L93.72 851.20 L93.88 851.57 L94.05 851.95 L94.22 852.32 L94.40 852.69 L94.60 853.06 L94.81 853.44 L95.01 853.81 L95.20 854.18 L95.37 854.55 L95.50 854.93 L95.60 855.30 L95.65 855.60 L95.66 855.89 L95.64 856.19 L95.60 856.48 L95.55 856.78 L95.48 857.07 L95.42 857.37 L95.36 857.66 L95.30 857.96 L95.24 858.25 L95.18 858.55 L95.10 858.84 L95.03 859.14 L94.94 859.43 L94.86 859.73 L94.77 860.02 L94.67 860.32 L94.57 860.62 L94.47 860.91 L94.36 861.21 L94.25 861.50 L94.13 861.80 L94.01 862.09 L93.89 862.39 L93.76 862.68 L93.63 862.98 L93.49 863.27 L93.35 863.57 L93.20 863.86 L93.05 864.16 L92.90 864.45 L92.74 864.75 L92.58 865.05 L92.41 865.34 L92.24 865.64 L92.07 865.93 L91.89 866.23 L91.71 866.52 L91.52 866.82 L91.33 867.11 L91.13 867.41 L90.93 867.70 L90.72 868.00 L90.52 868.29 L90.30 868.59 L90.08 868.88 L89.85 869.18 L89.62 869.48 L89.38 869.77 L89.15 870.07 L88.91 870.36 L88.66 870.66 L88.40 870.95 L88.13 871.25 L87.85 871.54 L87.55 871.84 L87.21 872.13 L86.83 872.43 L86.41 872.72 L86.00 873.02 L85.59 873.31 L85.23 873.61 L84.93 873.90 L84.75 874.20 L84.05 874.20 L83.87 873.90 L83.57 873.61 L83.21 873.31 L82.80 873.02 L82.39 872.72 L81.97 872.43 L81.59 872.13 L81.25 871.84 L80.95 871.54 L80.67 871.25 L80.40 870.95 L80.14 870.66 L79.89 870.36 L79.65 870.07 L79.42 869.77 L79.18 869.48 L78.95 869.18 L78.72 868.88 L78.50 868.59 L78.28 868.29 L78.08 868.00 L77.87 867.70 L77.67 867.41 L77.47 867.11 L77.28 866.82 L77.09 866.52 L76.91 866.23 L76.73 865.93 L76.56 865.64 L76.39 865.34 L76.22 865.05 L76.06 864.75 L75.90 864.45 L75.75 864.16 L75.60 863.86 L75.45 863.57 L75.31 863.27 L75.17 862.98 L75.04 862.68 L74.91 862.39 L74.79 862.09 L74.67 861.80 L74.55 861.50 L74.44 861.21 L74.33 860.91 L74.23 860.62 L74.13 860.32 L74.03 860.02 L73.94 859.73 L73.86 859.43 L73.77 859.14 L73.70 858.84 L73.62 858.55 L73.56 858.25 L73.50 857.96 L73.44 857.66 L73.38 857.37 L73.32 857.07 L73.25 856.78 L73.20 856.48 L73.16 856.19 L73.14 855.89 L73.15 855.60 L73.20 855.30 L73.30 854.93 L73.43 854.55 L73.60 854.18 L73.79 853.81 L73.99 853.44 L74.20 853.06 L74.40 852.69 L74.58 852.32 L74.75 851.95 L74.92 851.57 L75.08 851.20 L75.25 850.83 L75.41 850.46 L75.58 850.08 L75.74 849.71 L75.91 849.34 L76.07 848.97 L76.23 848.59 L76.39 848.22 L76.55 847.85 L76.71 847.48 L76.86 847.11 L77.02 846.73 L77.17 846.36 L77.33 845.99 L77.48 845.62 L77.63 845.24 L77.79 844.87 L77.94 844.50 L78.09 844.12 L78.23 843.75 L78.38 843.38 L78.53 843.01 L78.67 842.63 L78.82 842.26 L78.96 841.89 L79.10 841.52 L79.24 841.14 L79.38 840.77 L79.52 840.40 L79.66 840.03 L79.79 839.65 L79.93 839.28 L80.06 838.91 L80.19 838.54 L80.32 838.16 L80.45 837.79 L80.58 837.42 L80.71 837.05 L80.83 836.67 L80.96 836.30 L81.08 835.93 L81.20 835.56 L81.32 835.18 L81.44 834.81 L81.55 834.44 L81.67 834.07 L81.78 833.69 L81.89 833.32 L82.00 832.95 L82.11 832.58 L82.21 832.21 L82.32 831.83 L82.42 831.46 L82.51 831.09 L82.61 830.72 L82.71 830.34 L82.80 829.97 L82.89 829.60 L82.98 829.23 L83.06 828.85 L83.14 828.48 L83.21 828.11 L83.28 827.74 L83.35 827.36 L83.41 826.99 L83.47 826.62 L83.52 826.25 L83.57 825.87 L83.60 825.50 Z" fill="#FDE4B0" stroke="#2a2a2a" stroke-width="0.85" stroke-linejoin="round"/>
<path d="M128.90 822.80 L128.93 823.15 L128.98 823.51 L129.03 823.87 L129.09 824.22 L129.15 824.57 L129.22 824.93 L129.29 825.28 L129.36 825.64 L129.44 826.00 L129.52 826.35 L129.60 826.71 L129.69 827.06 L129.78 827.41 L129.88 827.77 L129.98 828.12 L130.07 828.48 L130.17 828.84 L130.27 829.19 L130.38 829.54 L130.48 829.90 L130.59 830.25 L130.70 830.61 L130.81 830.96 L130.93 831.32 L131.04 831.67 L131.16 832.03 L131.28 832.38 L131.40 832.74 L131.52 833.09 L131.64 833.45 L131.76 833.80 L131.89 834.16 L132.02 834.51 L132.14 834.87 L132.27 835.23 L132.40 835.58 L132.54 835.93 L132.67 836.29 L132.80 836.64 L132.94 837.00 L133.08 837.36 L133.22 837.71 L133.35 838.07 L133.50 838.42 L133.64 838.77 L133.78 839.13 L133.92 839.49 L134.07 839.84 L134.21 840.20 L134.36 840.55 L134.51 840.91 L134.66 841.26 L134.81 841.62 L134.96 841.97 L135.11 842.33 L135.26 842.68 L135.42 843.04 L135.57 843.39 L135.73 843.75 L135.89 844.10 L136.04 844.46 L136.20 844.81 L136.36 845.16 L136.52 845.52 L136.68 845.88 L136.84 846.23 L137.01 846.59 L137.17 846.94 L137.34 847.29 L137.50 847.65 L137.67 848.00 L137.83 848.36 L138.01 848.72 L138.21 849.07 L138.41 849.43 L138.61 849.78 L138.80 850.13 L138.97 850.49 L139.11 850.85 L139.20 851.20 L139.25 851.54 L139.26 851.88 L139.24 852.22 L139.20 852.56 L139.15 852.90 L139.08 853.23 L139.02 853.57 L138.96 853.91 L138.91 854.25 L138.85 854.59 L138.78 854.93 L138.71 855.27 L138.63 855.61 L138.55 855.95 L138.46 856.29 L138.37 856.62 L138.28 856.96 L138.18 857.30 L138.08 857.64 L137.97 857.98 L137.86 858.32 L137.75 858.66 L137.63 859.00 L137.50 859.34 L137.38 859.68 L137.25 860.02 L137.11 860.35 L136.97 860.69 L136.83 861.03 L136.68 861.37 L136.53 861.71 L136.37 862.05 L136.21 862.39 L136.04 862.73 L135.88 863.07 L135.70 863.41 L135.53 863.75 L135.34 864.08 L135.16 864.42 L134.97 864.76 L134.77 865.10 L134.57 865.44 L134.37 865.78 L134.16 866.12 L133.95 866.46 L133.73 866.80 L133.51 867.14 L133.28 867.48 L133.04 867.81 L132.81 868.15 L132.57 868.49 L132.32 868.83 L132.07 869.17 L131.80 869.51 L131.52 869.85 L131.23 870.19 L130.89 870.53 L130.51 870.87 L130.10 871.20 L129.68 871.54 L129.29 871.88 L128.93 872.22 L128.62 872.56 L128.45 872.90 L127.75 872.90 L127.58 872.56 L127.27 872.22 L126.91 871.88 L126.52 871.54 L126.10 871.20 L125.69 870.87 L125.31 870.53 L124.97 870.19 L124.68 869.85 L124.40 869.51 L124.13 869.17 L123.88 868.83 L123.63 868.49 L123.39 868.15 L123.16 867.81 L122.92 867.48 L122.69 867.14 L122.47 866.80 L122.25 866.46 L122.04 866.12 L121.83 865.78 L121.63 865.44 L121.43 865.10 L121.23 864.76 L121.04 864.42 L120.86 864.08 L120.67 863.75 L120.50 863.41 L120.32 863.07 L120.16 862.73 L119.99 862.39 L119.83 862.05 L119.67 861.71 L119.52 861.37 L119.37 861.03 L119.23 860.69 L119.09 860.35 L118.95 860.02 L118.82 859.68 L118.70 859.34 L118.57 859.00 L118.45 858.66 L118.34 858.32 L118.23 857.98 L118.12 857.64 L118.02 857.30 L117.92 856.96 L117.83 856.62 L117.74 856.29 L117.65 855.95 L117.57 855.61 L117.49 855.27 L117.42 854.93 L117.35 854.59 L117.29 854.25 L117.24 853.91 L117.18 853.57 L117.12 853.23 L117.05 852.90 L117.00 852.56 L116.96 852.22 L116.94 851.88 L116.95 851.54 L117.00 851.20 L117.09 850.85 L117.23 850.49 L117.40 850.13 L117.59 849.78 L117.79 849.43 L117.99 849.07 L118.19 848.72 L118.37 848.36 L118.53 848.00 L118.70 847.65 L118.86 847.29 L119.03 846.94 L119.19 846.59 L119.36 846.23 L119.52 845.88 L119.68 845.52 L119.84 845.16 L120.00 844.81 L120.16 844.46 L120.31 844.10 L120.47 843.75 L120.63 843.39 L120.78 843.04 L120.94 842.68 L121.09 842.33 L121.24 841.97 L121.39 841.62 L121.54 841.26 L121.69 840.91 L121.84 840.55 L121.99 840.20 L122.13 839.84 L122.28 839.49 L122.42 839.13 L122.56 838.77 L122.70 838.42 L122.85 838.07 L122.98 837.71 L123.12 837.36 L123.26 837.00 L123.40 836.64 L123.53 836.29 L123.66 835.93 L123.80 835.58 L123.93 835.23 L124.06 834.87 L124.18 834.51 L124.31 834.16 L124.44 833.80 L124.56 833.45 L124.68 833.09 L124.80 832.74 L124.92 832.38 L125.04 832.03 L125.16 831.67 L125.27 831.32 L125.39 830.96 L125.50 830.61 L125.61 830.25 L125.72 829.90 L125.82 829.54 L125.93 829.19 L126.03 828.84 L126.13 828.48 L126.22 828.12 L126.32 827.77 L126.42 827.41 L126.51 827.06 L126.60 826.71 L126.68 826.35 L126.76 826.00 L126.84 825.64 L126.91 825.28 L126.98 824.93 L127.05 824.57 L127.11 824.22 L127.17 823.87 L127.22 823.51 L127.27 823.15 L127.30 822.80 Z" fill="#B5D9BE" stroke="#2a2a2a" stroke-width="0.85" stroke-linejoin="round"/>
<path d="M84.4 845V874M128.1 842V873" stroke="#2a2a2a" stroke-width="0.8"/>
<path d="M84.40 789.00V826.80" stroke="#1a1a1a" stroke-width="1.5" stroke-dasharray="1.1 0.35"/>
<path d="M128.10 779.50V824.10" stroke="#1a1a1a" stroke-width="1.5" stroke-dasharray="1.1 0.35"/>
<rect x="80.00" y="845.10" width="8.70" height="15.60" fill="#F5B10F" stroke="#2a2a2a" stroke-width="0.8"/><path d="M80.00 853.90H88.70" stroke="#2a2a2a" stroke-width="1.2"/>
<rect x="123.30" y="842.40" width="9.50" height="16.20" fill="#0E7A25" stroke="#2a2a2a" stroke-width="0.8"/><path d="M123.30 850.90H132.80" stroke="#2a2a2a" stroke-width="1.2"/>
<text x="84.4" y="899.5" font-size="7.3" text-anchor="middle">Primary</text>
<text x="128.5" y="899.5" font-size="7.3" text-anchor="middle">Recurrent</text>
<path d="M176.9 770V891.2H274.8" stroke="#333" stroke-width="0.8" fill="none"/>
<path d="M175.1 802.5H176.9" stroke="#333" stroke-width="0.5"/>
<text x="174.2" y="803.8" font-size="3.6" text-anchor="end" fill="#444">0.6</text>
<path d="M175.1 839.3H176.9" stroke="#333" stroke-width="0.5"/>
<text x="174.2" y="840.6" font-size="3.6" text-anchor="end" fill="#444">0.4</text>
<path d="M175.1 876.6H176.9" stroke="#333" stroke-width="0.5"/>
<text x="174.2" y="877.9" font-size="3.6" text-anchor="end" fill="#444">0.0</text>
<text font-size="7" text-anchor="middle" transform="translate(165.6,831) rotate(-90)">HYPOXIA</text>
<text x="234.3" y="778.8" font-size="6.9" text-anchor="middle">p &lt; 2.2e−16</text>
<path d="M203.7 775.4V885.7M248.3 783.5V883" stroke="#2a2a2a" stroke-width="0.8"/>
<path d="M204.30 803.80 L204.45 804.82 L204.64 805.85 L204.87 806.88 L205.12 807.90 L205.40 808.92 L205.67 809.95 L205.94 810.98 L206.20 812.00 L206.44 813.00 L206.69 814.00 L206.94 815.00 L207.19 816.00 L207.44 817.00 L207.69 818.00 L207.94 819.00 L208.20 820.00 L208.46 821.00 L208.73 822.00 L209.01 823.00 L209.29 824.00 L209.56 825.00 L209.82 826.00 L210.07 827.00 L210.30 828.00 L210.52 829.00 L210.72 830.00 L210.92 831.00 L211.11 832.00 L211.28 833.00 L211.44 834.00 L211.58 835.00 L211.70 836.00 L211.80 837.23 L211.89 838.45 L211.96 839.67 L212.01 840.90 L212.05 842.12 L212.08 843.35 L212.10 844.57 L212.10 845.80 L212.10 846.95 L212.08 848.10 L212.06 849.25 L212.02 850.40 L211.97 851.55 L211.90 852.70 L211.81 853.85 L211.70 855.00 L211.56 855.88 L211.39 856.75 L211.20 857.62 L210.99 858.50 L210.77 859.38 L210.54 860.25 L210.32 861.12 L210.10 862.00 L209.89 862.75 L209.67 863.50 L209.45 864.25 L209.22 865.00 L209.00 865.75 L208.77 866.50 L208.54 867.25 L208.30 868.00 L208.06 868.62 L207.82 869.25 L207.57 869.88 L207.32 870.50 L207.07 871.12 L206.81 871.75 L206.56 872.38 L206.30 873.00 L206.03 873.66 L205.73 874.33 L205.43 874.99 L205.12 875.65 L204.84 876.31 L204.58 876.97 L204.36 877.64 L204.20 878.30 L203.20 878.30 L203.04 877.64 L202.82 876.97 L202.56 876.31 L202.27 875.65 L201.97 874.99 L201.67 874.33 L201.37 873.66 L201.10 873.00 L200.84 872.38 L200.59 871.75 L200.33 871.12 L200.08 870.50 L199.83 869.88 L199.58 869.25 L199.34 868.62 L199.10 868.00 L198.86 867.25 L198.63 866.50 L198.40 865.75 L198.17 865.00 L197.95 864.25 L197.73 863.50 L197.51 862.75 L197.30 862.00 L197.08 861.12 L196.86 860.25 L196.63 859.38 L196.41 858.50 L196.20 857.62 L196.01 856.75 L195.84 855.88 L195.70 855.00 L195.59 853.85 L195.50 852.70 L195.43 851.55 L195.38 850.40 L195.34 849.25 L195.32 848.10 L195.30 846.95 L195.30 845.80 L195.30 844.57 L195.32 843.35 L195.35 842.12 L195.39 840.90 L195.44 839.67 L195.51 838.45 L195.60 837.23 L195.70 836.00 L195.82 835.00 L195.96 834.00 L196.12 833.00 L196.29 832.00 L196.48 831.00 L196.68 830.00 L196.88 829.00 L197.10 828.00 L197.33 827.00 L197.58 826.00 L197.84 825.00 L198.11 824.00 L198.39 823.00 L198.67 822.00 L198.94 821.00 L199.20 820.00 L199.46 819.00 L199.71 818.00 L199.96 817.00 L200.21 816.00 L200.46 815.00 L200.71 814.00 L200.96 813.00 L201.20 812.00 L201.46 810.98 L201.73 809.95 L202.00 808.92 L202.27 807.90 L202.53 806.88 L202.76 805.85 L202.95 804.82 L203.10 803.80 Z" fill="#FDE4B0" stroke="#2a2a2a" stroke-width="0.85" stroke-linejoin="round"/>
<path d="M248.90 816.00 L249.05 816.75 L249.24 817.50 L249.47 818.25 L249.73 819.00 L250.00 819.75 L250.28 820.50 L250.55 821.25 L250.80 822.00 L251.03 822.75 L251.25 823.50 L251.47 824.25 L251.69 825.00 L251.92 825.75 L252.16 826.50 L252.42 827.25 L252.70 828.00 L253.02 828.88 L253.36 829.75 L253.74 830.62 L254.12 831.50 L254.50 832.38 L254.86 833.25 L255.20 834.12 L255.50 835.00 L255.76 835.62 L255.98 836.25 L256.18 836.88 L256.37 837.50 L256.55 838.12 L256.72 838.75 L256.90 839.38 L257.10 840.00 L257.33 840.38 L257.58 840.75 L257.85 841.12 L258.12 841.50 L258.36 841.88 L258.57 842.25 L258.72 842.62 L258.80 843.00 L258.77 843.69 L258.65 844.38 L258.45 845.06 L258.23 845.75 L258.00 846.44 L257.82 847.12 L257.70 847.81 L257.70 848.50 L257.84 849.19 L258.11 849.88 L258.46 850.56 L258.85 851.25 L259.22 851.94 L259.54 852.62 L259.75 853.31 L259.80 854.00 L259.67 854.62 L259.38 855.25 L258.98 855.88 L258.53 856.50 L258.06 857.12 L257.63 857.75 L257.30 858.38 L257.10 859.00 L257.07 859.55 L257.19 860.10 L257.39 860.65 L257.64 861.20 L257.87 861.75 L258.04 862.30 L258.10 862.85 L258.00 863.40 L257.72 864.07 L257.30 864.75 L256.77 865.42 L256.18 866.10 L255.56 866.77 L254.95 867.45 L254.38 868.12 L253.90 868.80 L253.48 869.32 L253.10 869.85 L252.73 870.38 L252.39 870.90 L252.06 871.42 L251.73 871.95 L251.42 872.48 L251.10 873.00 L250.77 873.50 L250.44 874.00 L250.10 874.50 L249.78 875.00 L249.47 875.50 L249.20 876.00 L248.97 876.50 L248.80 877.00 L247.80 877.00 L247.63 876.50 L247.40 876.00 L247.13 875.50 L246.83 875.00 L246.50 874.50 L246.16 874.00 L245.83 873.50 L245.50 873.00 L245.18 872.48 L244.87 871.95 L244.54 871.42 L244.21 870.90 L243.87 870.38 L243.50 869.85 L243.12 869.32 L242.70 868.80 L242.22 868.12 L241.65 867.45 L241.04 866.77 L240.42 866.10 L239.83 865.42 L239.30 864.75 L238.88 864.07 L238.60 863.40 L238.50 862.85 L238.56 862.30 L238.73 861.75 L238.96 861.20 L239.21 860.65 L239.41 860.10 L239.53 859.55 L239.50 859.00 L239.30 858.38 L238.97 857.75 L238.54 857.12 L238.08 856.50 L237.62 855.88 L237.22 855.25 L236.93 854.62 L236.80 854.00 L236.85 853.31 L237.06 852.62 L237.38 851.94 L237.75 851.25 L238.14 850.56 L238.49 849.88 L238.76 849.19 L238.90 848.50 L238.90 847.81 L238.78 847.12 L238.60 846.44 L238.38 845.75 L238.15 845.06 L237.95 844.38 L237.83 843.69 L237.80 843.00 L237.88 842.62 L238.03 842.25 L238.24 841.88 L238.48 841.50 L238.75 841.12 L239.02 840.75 L239.27 840.38 L239.50 840.00 L239.70 839.38 L239.88 838.75 L240.05 838.12 L240.23 837.50 L240.42 836.88 L240.62 836.25 L240.84 835.62 L241.10 835.00 L241.40 834.12 L241.74 833.25 L242.10 832.38 L242.48 831.50 L242.86 830.62 L243.24 829.75 L243.58 828.88 L243.90 828.00 L244.18 827.25 L244.44 826.50 L244.68 825.75 L244.91 825.00 L245.13 824.25 L245.35 823.50 L245.57 822.75 L245.80 822.00 L246.05 821.25 L246.32 820.50 L246.60 819.75 L246.87 819.00 L247.13 818.25 L247.36 817.50 L247.55 816.75 L247.70 816.00 Z" fill="#B5D9BE" stroke="#2a2a2a" stroke-width="0.85" stroke-linejoin="round"/>
<path d="M203.7 820V878M248.3 830V877" stroke="#2a2a2a" stroke-width="0.8"/>
<path d="M203.70 783.50V803.80" stroke="#1a1a1a" stroke-width="1.5" stroke-dasharray="1.1 0.35"/>
<path d="M248.30 786.00V816.00" stroke="#1a1a1a" stroke-width="1.5" stroke-dasharray="1.1 0.35"/>
<rect x="199.40" y="830.20" width="8.70" height="25.10" fill="#F5B10F" stroke="#2a2a2a" stroke-width="0.8"/><path d="M199.40 843.80H208.10" stroke="#2a2a2a" stroke-width="1.2"/>
<rect x="243.60" y="839.30" width="9.50" height="18.40" fill="#0E7A25" stroke="#2a2a2a" stroke-width="0.8"/><path d="M243.60 848.90H253.10" stroke="#2a2a2a" stroke-width="1.2"/>
<text x="203.6" y="899.5" font-size="7.3" text-anchor="middle">Primary</text>
<text x="249.6" y="899.5" font-size="7.3" text-anchor="middle">Recurrent</text>
<text x="306.3" y="717.3" font-size="14">g</text>
<text x="370.7" y="707.3" font-size="7.6" text-anchor="middle">p−value</text>
<circle cx="343.2" cy="714.7" r="1.3" fill="#000"/><circle cx="343.2" cy="723.7" r="1.9" fill="#000"/>
<text x="349.3" y="717.3" font-size="7.4">0.01 &lt; p &lt; 0.05</text>
<text x="351.2" y="726.3" font-size="7.4">p &lt; 0.01</text>
<text x="451.7" y="710.6" font-size="7.5" text-anchor="middle">Commun. Prob.</text>
<text x="419.0" y="715.8" font-size="6.8" text-anchor="middle">min</text>
<text x="469.8" y="715.8" font-size="6.8" text-anchor="middle">max</text>
<defs><linearGradient id="cp" x1="0" x2="1"><stop offset="0" stop-color="#4A5AB8"/><stop offset="0.2" stop-color="#45A8C8"/><stop offset="0.4" stop-color="#9ED49E"/><stop offset="0.58" stop-color="#F4F0A0"/><stop offset="0.75" stop-color="#F8A860"/><stop offset="0.9" stop-color="#E2453E"/><stop offset="1" stop-color="#A8124A"/></linearGradient></defs>
<rect x="421.8" y="719.7" width="49" height="4.7" fill="url(#cp)"/>
<rect x="371.7" y="732.5" width="92.1" height="7.3" fill="#E03030"/>
<text x="419.4" y="738.9" font-size="7.6" text-anchor="middle">MG1</text>
<path d="M377.5 739.8V810" stroke="#e6e6e6" stroke-width="0.6"/>
<path d="M387.5 739.8V810" stroke="#e6e6e6" stroke-width="0.6"/>
<path d="M397.6 739.8V810" stroke="#e6e6e6" stroke-width="0.6"/>
<path d="M407.7 739.8V810" stroke="#e6e6e6" stroke-width="0.6"/>
<path d="M417.7 739.8V810" stroke="#e6e6e6" stroke-width="0.6"/>
<path d="M427.5 739.8V810" stroke="#e6e6e6" stroke-width="0.6"/>
<path d="M437.2 739.8V810" stroke="#e6e6e6" stroke-width="0.6"/>
<path d="M447.3 739.8V810" stroke="#e6e6e6" stroke-width="0.6"/>
<path d="M457.4 739.8V810" stroke="#e6e6e6" stroke-width="0.6"/>
<path d="M371.7 746.9H463.8" stroke="#e6e6e6" stroke-width="0.6"/>
<path d="M371.7 758.0H463.8" stroke="#e6e6e6" stroke-width="0.6"/>
<path d="M371.7 769.4H463.8" stroke="#e6e6e6" stroke-width="0.6"/>
<path d="M371.7 780.1H463.8" stroke="#e6e6e6" stroke-width="0.6"/>
<path d="M371.7 791.6H463.8" stroke="#e6e6e6" stroke-width="0.6"/>
<path d="M371.7 803.0H463.8" stroke="#e6e6e6" stroke-width="0.6"/>
<rect x="371.7" y="739.8" width="92.1" height="70.2" fill="none" stroke="#333" stroke-width="0.8"/>
<path d="M369.7 746.9H371.7" stroke="#333" stroke-width="0.6"/>
<text x="368.8" y="749.6" font-size="7.6" text-anchor="end">SPP1 − (ITGA4+ITGB1)</text>
<circle cx="377.5" cy="746.9" r="1.9" fill="#A8D98A"/>
<circle cx="387.5" cy="746.9" r="1.9" fill="#F7B05A"/>
<circle cx="397.6" cy="746.9" r="1.9" fill="#A8D98A"/>
<circle cx="407.7" cy="746.9" r="1.9" fill="#A8D98A"/>
<circle cx="417.7" cy="746.9" r="1.9" fill="#F7B05A"/>
<circle cx="427.5" cy="746.9" r="1.9" fill="#A8D98A"/>
<circle cx="437.2" cy="746.9" r="1.9" fill="#F7B05A"/>
<circle cx="447.3" cy="746.9" r="1.9" fill="#A8D98A"/>
<circle cx="457.4" cy="746.9" r="1.9" fill="#F7B05A"/>
<path d="M369.7 758.0H371.7" stroke="#333" stroke-width="0.6"/>
<text x="368.8" y="760.7" font-size="7.6" text-anchor="end">SPP1 − CD44</text>
<circle cx="377.5" cy="758.0" r="1.9" fill="#F08A45"/>
<circle cx="387.5" cy="758.0" r="1.9" fill="#EC6A3A"/>
<circle cx="397.6" cy="758.0" r="1.9" fill="#F08A45"/>
<circle cx="407.7" cy="758.0" r="1.9" fill="#F08A45"/>
<circle cx="417.7" cy="758.0" r="1.9" fill="#F7B05A"/>
<circle cx="427.5" cy="758.0" r="1.9" fill="#F08A45"/>
<circle cx="437.2" cy="758.0" r="1.9" fill="#F7B05A"/>
<circle cx="447.3" cy="758.0" r="1.9" fill="#F08A45"/>
<circle cx="457.4" cy="758.0" r="1.9" fill="#F08A45"/>
<path d="M369.7 769.4H371.7" stroke="#333" stroke-width="0.6"/>
<text x="368.8" y="772.1" font-size="7.6" text-anchor="end">HLA−E − CD94:NKG2A</text>
<circle cx="417.7" cy="769.4" r="1.9" fill="#4A62C0"/>
<circle cx="427.5" cy="769.4" r="1.9" fill="#A8124A"/>
<circle cx="437.2" cy="769.4" r="1.9" fill="#F08A45"/>
<path d="M369.7 780.1H371.7" stroke="#333" stroke-width="0.6"/>
<text x="368.8" y="782.8" font-size="7.6" text-anchor="end">HLA−E − KLRK1</text>
<circle cx="377.5" cy="780.1" r="1.9" fill="#4A62C0"/>
<circle cx="407.7" cy="780.1" r="1.9" fill="#4A62C0"/>
<circle cx="417.7" cy="780.1" r="1.9" fill="#F7B05A"/>
<circle cx="427.5" cy="780.1" r="1.9" fill="#F08A45"/>
<circle cx="437.2" cy="780.1" r="1.9" fill="#F08A45"/>
<circle cx="447.3" cy="780.1" r="1.9" fill="#4A62C0"/>
<circle cx="457.4" cy="780.1" r="1.9" fill="#4A62C0"/>
<path d="M369.7 791.6H371.7" stroke="#333" stroke-width="0.6"/>
<text x="368.8" y="794.3" font-size="7.6" text-anchor="end">HLA−E − KLRC2</text>
<circle cx="427.5" cy="791.6" r="1.9" fill="#F08A45"/>
<circle cx="437.2" cy="791.6" r="1.9" fill="#4A62C0"/>
<path d="M369.7 803.0H371.7" stroke="#333" stroke-width="0.6"/>
<text x="368.8" y="805.7" font-size="7.6" text-anchor="end">HLA−E − KLRC1</text>
<circle cx="417.7" cy="803.0" r="1.9" fill="#5E4FB5"/>
<circle cx="427.5" cy="803.0" r="1.9" fill="#A8124A"/>
<circle cx="437.2" cy="803.0" r="1.9" fill="#E2453E"/>
<path d="M377.5 810V812" stroke="#333" stroke-width="0.6"/>
<text font-size="7.6" text-anchor="end" transform="translate(380.0,815) rotate(-45)">CD4 IFN response T cell</text>
<path d="M387.5 810V812" stroke="#333" stroke-width="0.6"/>
<text font-size="7.6" text-anchor="end" transform="translate(390.0,815) rotate(-45)">CD4 naive T cell</text>
<path d="M397.6 810V812" stroke="#333" stroke-width="0.6"/>
<text font-size="7.6" text-anchor="end" transform="translate(400.1,815) rotate(-45)">CD4 regulatory T cell</text>
<path d="M407.7 810V812" stroke="#333" stroke-width="0.6"/>
<text font-size="7.6" text-anchor="end" transform="translate(410.2,815) rotate(-45)">GZMK+ CD8 Tcell</text>
<path d="M417.7 810V812" stroke="#333" stroke-width="0.6"/>
<text font-size="7.6" text-anchor="end" transform="translate(420.2,815) rotate(-45)">NK−like CD8 T cell</text>
<path d="M427.5 810V812" stroke="#333" stroke-width="0.6"/>
<text font-size="7.6" text-anchor="end" transform="translate(430.0,815) rotate(-45)">NKG2A+ NK cell</text>
<path d="M437.2 810V812" stroke="#333" stroke-width="0.6"/>
<text font-size="7.6" text-anchor="end" transform="translate(439.7,815) rotate(-45)">NKG2A+ NK−like CD8 T cell</text>
<path d="M447.3 810V812" stroke="#333" stroke-width="0.6"/>
<text font-size="7.6" text-anchor="end" transform="translate(449.8,815) rotate(-45)">TOX+ CD8 T cell</text>
<path d="M457.4 810V812" stroke="#333" stroke-width="0.6"/>
<text font-size="7.6" text-anchor="end" transform="translate(459.9,815) rotate(-45)">TRBC1+ CD8 Teff</text>
<text x="570.1" y="711.5" font-size="9.1" text-anchor="middle">HLA−E − CD94:NKG2A</text>
<path d="M572.48 752.05A40.70 40.70 0 0 1 585.21 749.35L585.36 752.35A37.70 37.70 0 0 0 573.57 754.85Z" fill="#3C7FD0"/>
<path d="M586.35 749.31A40.70 40.70 0 0 1 599.24 751.12L598.35 753.99A37.70 37.70 0 0 0 586.41 752.31Z" fill="#4CB050"/>
<path d="M600.32 751.47A40.70 40.70 0 0 1 611.81 757.58L609.99 759.97A37.70 37.70 0 0 0 599.35 754.31Z" fill="#EE8A1E"/>
<path d="M612.70 758.28A40.70 40.70 0 0 1 621.02 767.36L618.53 769.03A37.70 37.70 0 0 0 610.82 760.62Z" fill="#F39A9A"/>
<path d="M621.64 768.31A40.70 40.70 0 0 1 626.89 780.98L623.96 781.65A37.70 37.70 0 0 0 619.10 769.91Z" fill="#F2CB17"/>
<path d="M627.12 782.09A40.70 40.70 0 0 1 627.66 794.40L624.68 794.07A37.70 37.70 0 0 0 624.18 782.68Z" fill="#C59B0B"/>
<path d="M627.52 795.52A40.70 40.70 0 0 1 624.03 807.33L621.31 806.05A37.70 37.70 0 0 0 624.55 795.12Z" fill="#8E8B6E"/>
<path d="M623.53 808.35A40.70 40.70 0 0 1 616.87 817.86L614.68 815.81A37.70 37.70 0 0 0 620.85 807.00Z" fill="#E4641B"/>
<path d="M616.08 818.68A40.70 40.70 0 0 1 603.62 827.24L602.41 824.49A37.70 37.70 0 0 0 613.95 816.56Z" fill="#14B4EA"/>
<path d="M602.58 827.68A40.70 40.70 0 0 1 589.19 830.65L589.04 827.65A37.70 37.70 0 0 0 601.44 824.91Z" fill="#F5B7C3"/>
<path d="M588.05 830.69A40.70 40.70 0 0 1 575.85 829.08L576.68 826.20A37.70 37.70 0 0 0 587.99 827.69Z" fill="#3E8BD5"/>
<path d="M574.76 828.75A40.70 40.70 0 0 1 562.59 822.42L564.41 820.03A37.70 37.70 0 0 0 575.68 825.90Z" fill="#9EB01F"/>
<path d="M561.70 821.72A40.70 40.70 0 0 1 552.99 812.05L555.51 810.42A37.70 37.70 0 0 0 563.58 819.38Z" fill="#5559B1"/>
<path d="M552.39 811.08A40.70 40.70 0 0 1 547.36 798.32L550.30 797.71A37.70 37.70 0 0 0 554.95 809.53Z" fill="#D9BE92"/>
<path d="M547.14 797.21A40.70 40.70 0 0 1 546.92 784.20L549.89 784.62A37.70 37.70 0 0 0 550.10 796.68Z" fill="#A98CF7"/>
<path d="M547.09 783.07A40.70 40.70 0 0 1 551.33 770.77L553.97 772.18A37.70 37.70 0 0 0 550.05 783.58Z" fill="#E4641B"/>
<path d="M551.88 769.77A40.70 40.70 0 0 1 559.55 760.14L561.59 762.34A37.70 37.70 0 0 0 554.49 771.26Z" fill="#10B857"/>
<path d="M560.39 759.38A40.70 40.70 0 0 1 571.43 752.48L572.59 755.25A37.70 37.70 0 0 0 562.37 761.63Z" fill="#E02020"/>
<path d="M569.93 756.83A37.7 37.7 0 0 1 573.19 755.32Q587.20 790.00 619.78 808.36A37.7 37.7 0 0 1 612.32 817.71Q587.20 790.00 569.93 756.83Z" fill="#EC6F6F" stroke="#fff" stroke-width="0.35"/>
<path d="M566.83 758.63A37.7 37.7 0 0 1 569.93 756.83Q587.20 790.00 612.32 817.71A37.7 37.7 0 0 1 601.69 824.48Q587.20 790.00 566.83 758.63Z" fill="#EC6F6F" stroke="#fff" stroke-width="0.35"/>
<path d="M563.66 760.93A37.7 37.7 0 0 1 566.83 758.63Q587.20 790.00 601.69 824.48A37.7 37.7 0 0 1 589.74 827.31Q587.20 790.00 563.66 760.93Z" fill="#EC6F6F" stroke="#fff" stroke-width="0.35"/>
<path d="M569.12 757.38A37.30 37.30 0 0 1 573.53 755.30L573.97 756.41A36.10 36.10 0 0 0 569.70 758.43Z" fill="#4FC3F0"/>
<text font-size="7.4" dominant-baseline="central" text-anchor="end" transform="translate(577.95,746.47) rotate(-282.0)">MG2</text>
<text font-size="7.4" dominant-baseline="central" transform="translate(593.39,745.93) rotate(-82.0)">MG3</text>
<text font-size="7.4" dominant-baseline="central" transform="translate(608.09,750.71) rotate(-62.0)">MG4</text>
<text font-size="7.4" dominant-baseline="central" transform="translate(620.01,759.94) rotate(-42.5)">IFN response</text>
<text font-size="7.4" dominant-baseline="central" transform="translate(628.31,772.97) rotate(-22.5)">CD4 naive</text>
<text font-size="7.4" dominant-baseline="central" transform="translate(631.66,788.06) rotate(-2.5)">CD4 regulatory</text>
<text font-size="7.4" dominant-baseline="central" transform="translate(629.87,802.64) rotate(16.5)">GZMK+ CD8</text>
<text font-size="7.4" dominant-baseline="central" text-anchor="end" transform="translate(623.65,815.52) rotate(-145.0)">NK−like CD8</text>
<text font-size="7.4" dominant-baseline="central" text-anchor="end" transform="translate(612.41,826.67) rotate(-124.5)">NKG2A+ NK</text>
<text font-size="7.4" dominant-baseline="central" text-anchor="end" transform="translate(596.83,833.45) rotate(-102.5)">NKG2A+ CD8</text>
<text font-size="7.4" dominant-baseline="central" text-anchor="end" transform="translate(581.39,834.12) rotate(-82.5)">TOX+ CD8 T cell</text>
<text font-size="7.4" dominant-baseline="central" text-anchor="end" transform="translate(566.65,829.47) rotate(-62.5)">TRBC1+ CD8 Teff</text>
<text font-size="7.4" dominant-baseline="central" text-anchor="end" transform="translate(554.13,819.78) rotate(-42.0)">HSP+ CD4</text>
<text font-size="7.4" dominant-baseline="central" text-anchor="end" transform="translate(545.80,806.31) rotate(-21.5)">NK cell</text>
<text font-size="7.4" dominant-baseline="central" text-anchor="end" transform="translate(542.71,790.78) rotate(-1.0)">rest CD4 Tcm</text>
<text font-size="7.4" dominant-baseline="central" text-anchor="end" transform="translate(545.12,775.51) rotate(19.0)">TRBC1+ CD4 Tn</text>
<text font-size="7.4" dominant-baseline="central" text-anchor="end" transform="translate(552.37,762.30) rotate(38.5)">IL7R+ CD4 Treg</text>
<text font-size="7.4" dominant-baseline="central" text-anchor="end" transform="translate(563.62,752.26) rotate(58.0)">MG1</text>
<path d="M382.7 382.6 L385.7 381.1 L388.8 382.1 L390.8 385.2 L393.9 386.2 L394.9 388.2 L397.0 391.3 L400.0 393.3 L401.0 396.9 L403.6 397.9 L403.1 401.5 L404.1 404.6 L407.2 403.5 L410.2 402.0 L412.3 403.5 L414.3 406.6 L415.4 410.7 L415.9 413.8 L413.8 417.9 L411.3 419.4 L408.2 419.9 L405.1 419.9 L403.1 421.9 L402.1 426.0 L402.6 430.1 L401.0 433.2 L400.0 435.2 L394.9 436.2 L390.8 437.3 L387.8 439.3 L385.7 441.9 L383.2 440.3 L381.6 437.3 L378.6 436.2 L375.5 434.7 L371.9 432.2 L370.4 429.1 L368.3 426.0 L365.3 423.0 L363.2 418.9 L362.2 415.8 L361.2 411.7 L358.1 408.7 L356.1 407.1 L357.6 403.5 L360.2 400.5 L363.2 398.4 L366.3 396.4 L368.3 393.3 L368.3 390.3 L371.4 388.2 L375.5 387.2 L379.6 385.7 L380.6 383.6Z" fill="#DCE5F2" stroke="#DCE5F2" stroke-width="1.0" stroke-linejoin="round"/>
<path d="M384.4 381.4h0M385.1 382.2h0M388.4 382.6h0M389.1 383.4h0M391.0 386.2h0M392.3 384.8h0M394.9 387.4h0M395.4 386.7h0M395.2 387.7h0M395.7 389.6h0M398.8 392.7h0M400.8 395.4h0M401.5 397.6h0M401.8 397.0h0M404.0 403.1h0M404.6 403.6h0M403.8 404.3h0M405.8 405.0h0M409.1 402.1h0M413.7 405.3h0M415.8 409.5h0M414.2 409.7h0M414.6 413.9h0M416.2 413.8h0M415.5 414.9h0M414.3 417.6h0M411.7 418.5h0M409.8 419.1h0M403.8 421.7h0M403.7 423.9h0M402.3 426.9h0M403.6 429.3h0M403.0 430.9h0M402.3 430.6h0M401.9 434.6h0M400.5 433.3h0M401.0 435.8h0M398.6 434.7h0M394.8 435.3h0M392.2 437.2h0M391.3 437.4h0M390.8 436.8h0M387.7 439.0h0M387.1 439.6h0M385.4 441.7h0M382.5 438.6h0M379.7 437.8h0M380.4 437.4h0M377.3 436.5h0M376.1 436.3h0M376.8 434.1h0M375.2 433.0h0M374.2 434.4h0M371.6 432.2h0M369.0 427.5h0M369.5 427.6h0M367.0 424.7h0M363.2 422.0h0M364.3 419.3h0M363.1 418.1h0M362.9 417.2h0M361.9 415.6h0M361.0 413.0h0M361.5 411.8h0M357.3 407.9h0M357.8 405.9h0M359.8 402.9h0M363.2 397.8h0M363.8 396.9h0M365.1 397.7h0M366.8 397.2h0M367.1 395.9h0M369.1 394.3h0M369.2 390.4h0M369.6 388.2h0M370.5 387.7h0M373.2 388.1h0M380.3 385.3h0M381.4 383.2h0M380.2 383.4h0M383.3 382.6h0" stroke="#DCE5F2" stroke-width="1.1" stroke-linecap="square" fill="none"/>
<path d="M383.0 415.3h0M412.3 409.3h0M386.5 417.0h0M366.4 412.3h0M394.1 430.0h0M395.5 418.8h0M387.8 383.8h0M382.3 433.1h0M387.2 420.3h0M386.0 421.7h0M383.4 397.5h0M374.5 394.5h0M402.5 405.2h0M407.5 404.4h0M411.4 409.6h0M360.4 401.0h0M389.7 408.2h0M362.2 406.5h0M368.2 397.0h0M368.1 404.8h0M368.2 396.3h0M402.9 400.7h0M370.1 417.9h0M378.0 408.6h0M414.5 410.5h0M390.6 434.6h0M370.5 392.0h0M409.7 418.0h0M381.1 386.5h0M369.8 424.4h0M392.0 398.5h0M389.7 433.7h0M393.1 397.7h0M382.6 383.8h0M365.9 403.2h0M390.5 388.3h0M397.9 416.8h0M384.9 426.0h0M400.7 424.3h0M376.8 423.2h0M380.9 429.8h0M408.5 416.1h0M393.7 404.1h0M391.1 418.4h0M400.1 404.5h0M400.6 416.6h0M382.3 432.8h0M384.8 394.5h0M398.3 411.3h0M373.7 422.7h0M382.4 436.2h0M375.3 422.0h0M367.3 407.1h0" stroke="#F6F8FC" stroke-width="1.1" stroke-linecap="square" fill="none"/>
<path d="M387.1 383.0h0M385.5 383.7h0M386.3 383.4h0M380.2 385.3h0M385.6 386.4h0M387.0 386.2h0M390.7 386.2h0M393.4 386.1h0M382.7 387.3h0M384.6 386.8h0M386.7 386.9h0M387.3 387.4h0M388.5 387.1h0M390.8 387.3h0M392.5 387.0h0M373.3 388.1h0M378.5 388.0h0M389.5 387.6h0M390.3 388.4h0M392.9 387.6h0M370.8 388.7h0M376.9 389.3h0M377.6 388.8h0M381.0 388.6h0M383.8 388.8h0M384.9 389.0h0M385.5 388.9h0M387.6 389.2h0M388.2 389.3h0M388.8 389.1h0M391.7 388.9h0M393.0 388.9h0M393.2 388.9h0M372.0 389.8h0M377.3 389.7h0M378.3 390.2h0M383.0 389.4h0M385.6 390.0h0M386.3 389.5h0M387.7 390.1h0M389.1 389.5h0M390.1 390.0h0M391.4 390.0h0M392.3 389.8h0M375.7 390.4h0M376.8 391.0h0M377.1 390.4h0M378.5 390.9h0M379.2 390.9h0M380.4 391.0h0M385.2 391.1h0M387.6 390.8h0M388.1 390.9h0M389.4 391.0h0M390.5 390.9h0M392.4 390.3h0M394.2 390.4h0M370.3 391.4h0M374.0 391.2h0M374.9 391.3h0M376.9 391.5h0M378.4 391.9h0M379.9 391.8h0M381.0 392.0h0M382.5 391.3h0M385.4 391.8h0M386.0 391.6h0M387.3 391.2h0M388.6 391.5h0M389.7 391.6h0M391.1 391.7h0M391.6 391.8h0M393.0 391.2h0M395.0 391.9h0M396.0 391.2h0M369.8 392.1h0M374.6 392.4h0M377.2 392.6h0M377.9 392.4h0M380.5 392.1h0M383.3 392.3h0M387.5 392.8h0M390.1 392.5h0M391.8 392.5h0M394.0 392.7h0M395.3 392.8h0M396.2 392.5h0M397.6 392.1h0M397.8 392.6h0M374.6 393.5h0M376.8 393.2h0M378.6 393.1h0M380.0 393.4h0M380.8 393.3h0M383.0 393.3h0M384.7 393.0h0M385.6 393.3h0M388.8 393.4h0M389.7 393.3h0M393.3 393.4h0M396.0 393.1h0M396.9 393.8h0M398.1 393.4h0M398.8 393.6h0M374.4 394.7h0M375.8 394.0h0M378.3 393.9h0M380.2 394.6h0M380.8 394.5h0M381.7 394.0h0M383.8 394.1h0M385.4 394.1h0M386.2 394.1h0M386.9 394.3h0M388.5 394.2h0M389.1 393.9h0M390.2 394.3h0M390.8 394.5h0M392.9 394.4h0M393.6 394.4h0M394.8 394.6h0M395.6 394.4h0M396.6 393.9h0M397.1 394.7h0M399.0 394.5h0M369.6 394.8h0M375.6 394.9h0M376.4 395.0h0M378.6 395.3h0M380.2 395.1h0M380.7 395.3h0M385.8 395.3h0M388.4 395.6h0M389.4 395.1h0M391.5 395.0h0M392.4 395.3h0M394.3 395.2h0M396.1 395.2h0M397.0 395.2h0M399.2 395.4h0M400.2 395.4h0M373.4 396.3h0M378.0 395.9h0M379.5 396.0h0M381.1 396.2h0M387.1 396.1h0M388.4 396.0h0M391.6 395.7h0M392.4 396.3h0M393.6 395.8h0M394.2 395.8h0M396.0 395.9h0M398.2 396.3h0M400.1 395.9h0M400.4 396.3h0M377.3 397.1h0M386.2 396.8h0M389.2 397.0h0M390.7 397.2h0M392.2 397.1h0M392.9 396.8h0M393.5 397.2h0M395.4 397.4h0M396.2 396.7h0M397.3 397.2h0M398.3 396.9h0M399.1 397.1h0M400.0 397.0h0M400.9 397.2h0M369.3 398.2h0M369.9 397.5h0M387.5 397.6h0M388.2 397.6h0M388.9 398.3h0M390.3 398.3h0M391.1 397.9h0M392.9 397.8h0M394.1 397.9h0M395.1 398.1h0M396.2 397.7h0M397.1 398.0h0M398.3 397.9h0M399.0 397.7h0M400.5 398.0h0M401.5 397.6h0M402.9 398.3h0M364.8 398.7h0M367.7 398.6h0M372.6 398.6h0M377.8 398.9h0M387.5 398.5h0M388.1 398.7h0M388.8 398.7h0M393.0 398.7h0M393.3 398.7h0M394.6 398.4h0M395.1 398.7h0M396.6 398.9h0M397.3 398.6h0M398.0 399.2h0M399.8 398.6h0M400.9 399.2h0M401.6 399.0h0M402.8 398.9h0M403.1 398.5h0M366.5 399.7h0M379.8 399.4h0M387.4 399.4h0M388.4 399.4h0M389.0 400.0h0M391.2 399.9h0M392.0 399.3h0M392.6 400.1h0M393.3 399.9h0M395.8 400.0h0M396.0 399.9h0M397.5 399.9h0M398.5 399.7h0M399.1 399.9h0M401.1 399.6h0M403.2 399.8h0M363.8 400.5h0M374.5 401.0h0M379.3 400.9h0M381.5 400.6h0M387.1 400.5h0M388.2 401.0h0M389.7 400.4h0M390.7 400.2h0M392.5 400.4h0M393.7 400.7h0M394.3 400.4h0M395.0 400.7h0M396.6 401.0h0M397.6 400.7h0M398.0 400.5h0M398.7 400.4h0M399.9 400.6h0M401.1 400.9h0M359.6 401.9h0M377.5 401.6h0M386.6 401.4h0M387.6 401.2h0M389.3 401.2h0M389.7 401.5h0M390.7 401.5h0M391.9 401.8h0M393.5 401.3h0M394.4 401.8h0M395.7 401.5h0M396.1 401.4h0M396.9 401.5h0M397.9 401.4h0M399.1 401.1h0M400.9 401.8h0M401.5 401.4h0M403.1 401.1h0M360.2 402.3h0M362.4 402.4h0M372.2 402.8h0M387.6 402.0h0M388.4 402.3h0M390.8 402.6h0M391.9 402.1h0M392.7 402.5h0M394.3 402.2h0M395.2 402.1h0M399.4 402.5h0M399.8 402.1h0M400.6 402.5h0M401.8 402.7h0M402.4 402.1h0M359.2 403.6h0M365.1 403.4h0M388.0 403.6h0M388.7 403.2h0M390.3 403.6h0M391.9 403.0h0M392.6 403.3h0M393.8 403.2h0M394.8 403.4h0M398.1 403.7h0M399.1 403.4h0M399.6 403.4h0M400.9 403.5h0M403.7 403.6h0M387.0 404.4h0M389.1 404.5h0M389.8 404.6h0M390.5 404.0h0M391.8 404.1h0M392.7 404.2h0M393.6 404.3h0M394.7 404.2h0M395.8 403.9h0M396.2 404.1h0M397.5 404.0h0M398.2 403.9h0M400.2 404.6h0M400.8 404.3h0M406.9 404.4h0M363.3 404.8h0M368.8 405.2h0M374.7 404.9h0M392.8 404.7h0M393.4 405.4h0M394.1 405.0h0M395.9 405.5h0M397.3 405.3h0M400.7 405.3h0M402.0 405.4h0M402.6 405.1h0M410.6 404.8h0M412.4 405.4h0M374.7 406.1h0M381.2 405.9h0M390.4 405.8h0M391.8 406.2h0M393.6 406.3h0M395.3 406.0h0M396.9 406.2h0M399.6 405.9h0M400.5 405.9h0M401.6 405.7h0M408.3 406.1h0M411.6 405.6h0M375.4 407.2h0M379.5 407.0h0M381.6 407.2h0M393.4 406.5h0M395.2 406.6h0M396.0 406.7h0M397.3 406.6h0M398.1 406.9h0M405.0 406.8h0M408.5 407.0h0M356.9 407.4h0M364.4 408.2h0M366.6 407.6h0M392.2 408.0h0M395.4 407.5h0M399.5 408.0h0M404.1 407.4h0M380.7 408.9h0M384.8 408.8h0M395.2 408.6h0M400.4 408.5h0M404.4 408.8h0M412.2 408.7h0M364.3 409.8h0M371.6 409.7h0M373.6 409.6h0M382.1 409.6h0M383.1 409.6h0M388.9 410.0h0M392.9 409.7h0M413.7 409.8h0M375.4 410.8h0M378.0 410.9h0M379.2 410.4h0M386.2 410.4h0M387.5 410.3h0M389.1 410.6h0M392.7 410.3h0M370.9 411.2h0M383.1 411.8h0M413.0 411.1h0M414.3 411.3h0M377.3 412.4h0M378.5 412.6h0M408.7 412.3h0M361.8 413.2h0M369.5 413.5h0M384.4 413.5h0M387.1 413.1h0M364.5 413.8h0M415.1 413.9h0M367.4 415.4h0M377.0 415.0h0M401.9 415.1h0M393.6 416.0h0M400.6 416.2h0M363.1 417.0h0M366.5 416.7h0M371.3 416.9h0M381.8 417.1h0M385.4 417.0h0M390.1 417.0h0M396.8 416.7h0M406.3 417.1h0M381.0 417.8h0M396.4 418.0h0M398.1 418.1h0M407.1 418.8h0M364.1 419.7h0M365.4 419.6h0M408.6 419.3h0M364.7 420.2h0M365.4 420.1h0M372.3 420.4h0M397.0 420.4h0M397.7 420.8h0M378.0 421.1h0M394.2 421.1h0M395.5 421.3h0M397.5 421.3h0M398.8 421.0h0M399.8 421.5h0M366.9 422.2h0M395.7 422.2h0M396.6 422.0h0M397.4 421.9h0M398.0 421.8h0M399.8 422.2h0M400.9 422.6h0M384.5 422.8h0M394.3 423.2h0M400.1 422.9h0M400.5 423.3h0M402.1 423.4h0M368.2 424.3h0M370.0 423.6h0M377.8 424.3h0M381.0 424.4h0M384.1 423.6h0M389.4 424.2h0M394.0 423.8h0M394.1 423.7h0M398.4 424.2h0M399.3 423.6h0M399.9 423.6h0M401.2 423.9h0M370.3 424.9h0M375.5 424.7h0M382.2 424.8h0M383.1 425.2h0M389.6 425.3h0M393.0 425.3h0M395.5 425.2h0M396.1 424.6h0M397.4 424.5h0M399.2 424.7h0M400.1 425.1h0M372.2 425.7h0M391.1 425.9h0M393.2 426.0h0M395.6 425.5h0M396.6 425.8h0M399.2 425.6h0M374.1 426.5h0M386.3 426.9h0M387.3 426.4h0M392.4 426.4h0M393.6 426.3h0M395.3 426.4h0M396.4 426.6h0M397.5 426.5h0M400.5 426.8h0M402.0 427.0h0M371.2 427.8h0M380.9 427.7h0M392.0 427.3h0M395.6 427.2h0M396.3 427.7h0M397.4 427.8h0M398.8 427.5h0M400.6 427.5h0M384.4 428.2h0M390.1 428.6h0M391.5 428.5h0M392.7 428.9h0M393.6 428.4h0M394.2 428.6h0M395.5 428.3h0M397.5 428.3h0M398.5 428.9h0M400.0 428.1h0M392.9 429.7h0M394.0 429.2h0M395.1 429.7h0M397.8 429.6h0M398.6 429.2h0M399.6 429.2h0M400.6 429.3h0M390.9 429.9h0M392.6 430.1h0M394.3 430.3h0M395.5 430.2h0M396.4 430.5h0M399.1 430.4h0M402.0 430.4h0M377.2 430.8h0M386.4 431.3h0M393.5 430.8h0M395.6 431.3h0M399.4 431.1h0M399.9 431.2h0M374.7 432.0h0M380.2 431.8h0M395.3 432.2h0M396.9 432.3h0M399.1 431.7h0M400.1 432.1h0M375.5 433.1h0M377.2 433.1h0M383.6 433.4h0M387.9 433.2h0M391.5 432.9h0M396.0 432.7h0M397.6 433.4h0M398.9 433.4h0M384.5 435.8h0M391.6 435.4h0M395.9 435.9h0M379.1 436.4h0M384.9 436.4h0M391.3 436.5h0M386.8 437.4h0M382.6 438.4h0M387.5 438.6h0M386.2 439.0h0M383.3 440.1h0M385.9 440.7h0" stroke="#EF6E52" stroke-opacity="0.72" stroke-width="1.35" stroke-linecap="square" fill="none"/>
<text x="387.5" y="378.3" font-size="8" font-style="italic" text-anchor="middle">IL7R</text>
<path d="M450.7 382.6 L453.7 381.1 L456.8 382.1 L458.8 385.2 L461.9 386.2 L462.9 388.2 L465.0 391.3 L468.0 393.3 L469.0 396.9 L471.6 397.9 L471.1 401.5 L472.1 404.6 L475.2 403.5 L478.2 402.0 L480.3 403.5 L482.3 406.6 L483.4 410.7 L483.9 413.8 L481.8 417.9 L479.3 419.4 L476.2 419.9 L473.1 419.9 L471.1 421.9 L470.1 426.0 L470.6 430.1 L469.0 433.2 L468.0 435.2 L462.9 436.2 L458.8 437.3 L455.8 439.3 L453.7 441.9 L451.2 440.3 L449.6 437.3 L446.6 436.2 L443.5 434.7 L439.9 432.2 L438.4 429.1 L436.3 426.0 L433.3 423.0 L431.2 418.9 L430.2 415.8 L429.2 411.7 L426.1 408.7 L424.1 407.1 L425.6 403.5 L428.2 400.5 L431.2 398.4 L434.3 396.4 L436.3 393.3 L436.3 390.3 L439.4 388.2 L443.5 387.2 L447.6 385.7 L448.6 383.6Z" fill="#DCE5F2" stroke="#DCE5F2" stroke-width="1.0" stroke-linejoin="round"/>
<path d="M451.1 381.9h0M451.8 382.1h0M454.1 381.7h0M453.7 382.0h0M456.2 381.0h0M456.2 382.2h0M457.9 384.0h0M458.0 385.4h0M461.3 385.1h0M466.5 392.0h0M465.3 393.1h0M472.2 400.5h0M472.0 403.2h0M471.3 404.7h0M474.6 403.2h0M474.3 403.3h0M477.0 403.8h0M476.8 402.9h0M480.3 403.1h0M481.3 404.0h0M480.4 404.4h0M481.0 405.3h0M484.5 413.9h0M481.1 416.7h0M481.5 419.7h0M479.7 419.9h0M475.9 419.9h0M473.7 419.1h0M470.7 420.5h0M472.0 423.3h0M471.4 423.1h0M470.5 427.0h0M470.6 430.5h0M467.8 432.9h0M468.8 435.0h0M462.3 435.7h0M461.0 436.0h0M459.9 436.5h0M456.2 437.4h0M456.6 439.6h0M454.9 440.7h0M450.8 440.8h0M451.2 439.4h0M447.8 437.4h0M446.9 436.1h0M445.7 435.8h0M442.3 433.9h0M438.9 431.2h0M437.9 430.6h0M437.8 427.5h0M435.7 426.7h0M436.0 425.2h0M435.7 425.3h0M434.8 424.1h0M432.5 420.2h0M430.5 417.5h0M431.9 417.2h0M429.2 413.7h0M428.9 412.8h0M427.8 410.1h0M427.6 409.4h0M427.0 410.4h0M425.5 407.7h0M424.7 404.4h0M426.5 403.1h0M428.0 402.7h0M429.4 399.5h0M435.6 396.1h0M436.3 391.9h0M437.2 391.6h0M437.5 390.1h0M436.0 390.2h0M441.9 388.0h0M445.0 385.9h0M444.7 385.8h0M446.2 386.2h0M448.6 383.5h0" stroke="#DCE5F2" stroke-width="1.1" stroke-linecap="square" fill="none"/>
<path d="M477.3 412.8h0M448.7 427.7h0M447.3 431.7h0M435.8 405.3h0M457.7 401.1h0M443.7 403.3h0M439.2 404.4h0M465.7 415.6h0M473.6 409.6h0M427.7 402.8h0M427.9 407.7h0M465.1 429.8h0M447.5 436.0h0M447.8 398.3h0M455.7 433.2h0M453.0 411.3h0M437.0 410.8h0M464.9 411.5h0M427.7 408.5h0M438.6 407.3h0M452.4 395.9h0M471.9 409.9h0M461.0 413.9h0M451.3 437.6h0M449.5 416.0h0M445.1 428.9h0M462.0 386.9h0M438.5 425.5h0M446.4 434.7h0M438.1 408.5h0M463.9 400.5h0M451.9 383.1h0M441.8 422.7h0M463.6 416.0h0M453.1 418.3h0M471.3 408.9h0M434.4 406.1h0M455.4 422.8h0M460.2 404.8h0M460.6 426.4h0M452.4 424.7h0M448.1 413.2h0M450.5 385.4h0M478.3 417.5h0M439.8 430.2h0M435.7 420.9h0M466.7 416.8h0M441.3 415.8h0M427.7 409.0h0M476.2 410.4h0M430.8 406.4h0M441.4 388.7h0M446.1 435.1h0M462.1 418.8h0M452.5 426.7h0M446.9 394.6h0M454.3 413.4h0M440.7 430.8h0M445.8 423.3h0" stroke="#F6F8FC" stroke-width="1.1" stroke-linecap="square" fill="none"/>
<path d="M454.5 384.5h0M453.8 386.2h0M443.1 388.3h0M444.4 390.0h0M442.5 390.9h0M444.6 390.8h0M442.2 391.7h0M444.7 391.6h0M459.0 391.2h0M445.8 392.2h0M450.8 393.3h0M464.7 393.3h0M450.0 394.3h0M451.0 393.9h0M441.1 395.3h0M447.9 395.5h0M448.9 395.3h0M450.7 395.2h0M449.1 396.4h0M449.7 396.4h0M449.6 396.7h0M463.6 397.0h0M445.9 398.4h0M461.0 399.3h0M428.6 400.4h0M431.8 400.3h0M444.5 401.3h0M470.4 402.7h0M433.6 403.4h0M448.1 403.5h0M468.2 403.2h0M477.6 403.5h0M467.9 404.6h0M468.9 404.4h0M471.7 404.3h0M476.0 403.8h0M476.9 404.4h0M478.0 404.5h0M478.7 404.4h0M448.8 405.0h0M463.3 405.1h0M468.8 405.1h0M472.2 405.4h0M474.5 405.4h0M476.0 404.8h0M476.8 404.7h0M477.6 404.8h0M479.1 405.1h0M479.4 404.9h0M434.9 406.0h0M435.3 406.1h0M467.0 406.2h0M467.7 406.2h0M469.8 406.0h0M471.3 405.9h0M472.6 406.4h0M474.9 406.0h0M475.9 406.0h0M477.0 405.7h0M477.7 405.8h0M479.8 406.0h0M480.2 406.2h0M427.6 406.9h0M467.0 406.8h0M467.7 407.0h0M469.1 406.8h0M470.8 406.9h0M471.2 406.6h0M472.1 407.2h0M473.2 406.8h0M475.0 406.7h0M475.9 406.9h0M477.3 406.5h0M477.7 407.1h0M480.9 407.1h0M433.8 408.0h0M442.5 408.2h0M467.0 407.7h0M468.0 408.0h0M469.7 407.8h0M470.9 407.5h0M471.8 407.4h0M472.0 407.9h0M473.5 407.8h0M474.3 407.8h0M474.7 407.9h0M475.9 407.5h0M476.5 407.7h0M477.9 408.1h0M478.7 407.8h0M428.7 409.1h0M466.0 408.6h0M467.0 409.0h0M468.2 408.6h0M468.9 409.0h0M470.1 408.5h0M470.4 408.4h0M472.4 408.6h0M473.4 408.6h0M473.9 408.8h0M476.3 408.3h0M476.8 408.7h0M477.4 409.1h0M479.1 408.4h0M480.2 408.9h0M466.3 409.3h0M467.2 409.5h0M468.2 409.7h0M468.7 410.0h0M469.5 409.4h0M470.5 409.4h0M471.9 409.5h0M472.7 409.6h0M473.4 409.4h0M475.4 410.0h0M477.0 409.5h0M477.4 409.9h0M479.1 409.6h0M480.8 409.8h0M463.4 410.6h0M468.6 410.2h0M469.8 410.3h0M470.8 410.2h0M471.4 410.2h0M472.0 410.8h0M473.6 410.2h0M474.1 410.3h0M475.2 410.3h0M476.0 410.2h0M476.5 410.4h0M477.7 410.7h0M480.7 410.2h0M481.1 410.8h0M456.3 411.8h0M466.3 411.3h0M468.2 411.3h0M468.5 411.3h0M470.4 411.8h0M471.8 411.1h0M472.3 411.7h0M473.2 411.3h0M474.5 411.7h0M475.0 411.2h0M476.4 411.4h0M478.9 411.6h0M479.3 411.0h0M481.5 411.2h0M466.4 412.5h0M468.6 412.5h0M469.3 412.0h0M470.6 412.2h0M471.2 412.0h0M472.5 412.1h0M473.5 412.3h0M474.2 412.5h0M474.8 412.6h0M476.3 412.5h0M476.7 412.6h0M477.6 412.4h0M479.0 412.5h0M479.8 412.6h0M480.4 412.4h0M429.6 413.2h0M461.4 413.3h0M464.0 413.0h0M468.1 412.9h0M469.1 413.5h0M470.8 413.5h0M471.4 413.1h0M472.1 413.1h0M473.7 413.4h0M473.9 413.4h0M476.0 412.8h0M476.7 413.2h0M478.1 413.0h0M479.5 413.2h0M480.8 413.1h0M481.0 413.2h0M433.9 413.9h0M443.3 414.4h0M468.9 414.3h0M471.0 414.4h0M473.3 414.1h0M473.9 414.2h0M475.0 413.8h0M476.1 413.9h0M476.8 413.8h0M478.9 414.3h0M481.2 414.0h0M442.5 414.7h0M447.5 415.3h0M461.8 414.8h0M467.2 415.2h0M467.5 415.3h0M468.8 414.8h0M470.2 414.8h0M471.2 415.0h0M472.4 414.6h0M473.3 415.2h0M473.8 414.8h0M474.9 414.8h0M476.3 415.2h0M477.1 415.3h0M477.7 414.8h0M479.0 414.6h0M433.9 415.6h0M456.1 416.0h0M465.5 416.3h0M467.1 415.9h0M470.4 416.2h0M471.8 415.7h0M472.1 416.2h0M475.2 416.2h0M476.0 416.0h0M477.2 416.0h0M477.9 416.0h0M479.4 416.1h0M480.4 416.2h0M468.0 416.5h0M470.1 416.8h0M470.5 416.4h0M471.3 416.7h0M472.1 416.6h0M473.6 417.2h0M476.5 416.9h0M470.1 418.1h0M470.8 418.0h0M471.8 417.5h0M473.0 418.0h0M474.5 418.0h0M475.4 417.5h0M477.6 417.8h0M442.4 418.8h0M445.3 418.4h0M468.8 419.0h0M469.6 418.6h0M470.4 418.4h0M471.3 418.5h0M472.2 418.3h0M473.3 418.6h0M473.9 418.9h0M476.0 418.3h0M454.7 419.4h0M456.4 419.7h0M475.1 419.1h0M444.4 420.2h0M462.7 420.1h0M455.6 421.6h0M466.3 421.4h0M434.7 423.1h0M444.8 423.2h0M453.2 423.8h0M442.2 425.0h0M444.7 424.8h0M463.6 424.5h0M446.0 426.6h0M467.7 427.9h0M450.6 428.8h0M438.8 429.2h0M449.1 429.6h0M456.9 430.1h0M454.9 432.3h0M456.5 432.0h0M458.9 432.0h0M461.0 432.3h0M463.1 431.9h0M464.3 432.3h0M467.5 432.4h0M454.9 433.3h0M456.6 433.4h0M457.4 432.8h0M458.3 433.4h0M459.3 433.3h0M459.6 433.2h0M460.3 433.1h0M462.3 432.9h0M463.4 432.9h0M464.9 432.7h0M451.8 434.3h0M454.7 433.8h0M455.5 434.0h0M456.0 434.1h0M458.0 434.0h0M458.6 434.3h0M461.7 434.0h0M462.7 433.7h0M463.1 433.8h0M463.9 433.9h0M465.8 433.6h0M467.8 433.9h0M451.7 434.7h0M452.7 434.6h0M454.0 434.7h0M455.3 434.5h0M456.3 435.0h0M457.8 435.2h0M459.5 434.5h0M460.4 435.0h0M463.2 434.7h0M465.2 435.1h0M466.2 434.8h0M467.9 435.0h0M452.8 436.1h0M453.5 435.4h0M454.4 435.7h0M455.2 435.5h0M456.0 435.4h0M458.4 435.3h0M459.3 436.0h0M459.9 436.0h0M460.7 436.0h0M461.4 435.7h0M463.8 435.9h0M450.7 436.4h0M454.4 436.3h0M456.9 436.4h0M458.6 436.6h0M459.5 436.6h0M460.9 436.2h0M451.6 437.5h0M453.2 437.9h0M455.0 437.2h0M457.1 437.3h0M451.7 439.3h0M453.9 438.9h0M455.1 439.6h0M452.7 441.2h0" stroke="#EF6E52" stroke-opacity="0.72" stroke-width="1.35" stroke-linecap="square" fill="none"/>
<text x="455.5" y="378.3" font-size="8" font-style="italic" text-anchor="middle">ICOS</text>
<path d="M518.7 382.6 L521.7 381.1 L524.8 382.1 L526.8 385.2 L529.9 386.2 L530.9 388.2 L533.0 391.3 L536.0 393.3 L537.0 396.9 L539.6 397.9 L539.1 401.5 L540.1 404.6 L543.2 403.5 L546.2 402.0 L548.3 403.5 L550.3 406.6 L551.4 410.7 L551.9 413.8 L549.8 417.9 L547.3 419.4 L544.2 419.9 L541.1 419.9 L539.1 421.9 L538.1 426.0 L538.6 430.1 L537.0 433.2 L536.0 435.2 L530.9 436.2 L526.8 437.3 L523.8 439.3 L521.7 441.9 L519.2 440.3 L517.6 437.3 L514.6 436.2 L511.5 434.7 L507.9 432.2 L506.4 429.1 L504.3 426.0 L501.3 423.0 L499.2 418.9 L498.2 415.8 L497.2 411.7 L494.1 408.7 L492.1 407.1 L493.6 403.5 L496.2 400.5 L499.2 398.4 L502.3 396.4 L504.3 393.3 L504.3 390.3 L507.4 388.2 L511.5 387.2 L515.6 385.7 L516.6 383.6Z" fill="#DCE5F2" stroke="#DCE5F2" stroke-width="1.0" stroke-linejoin="round"/>
<path d="M519.7 383.0h0M521.7 381.8h0M524.7 383.0h0M527.0 385.3h0M529.5 386.7h0M531.5 388.0h0M532.7 388.8h0M532.5 390.0h0M536.6 395.0h0M535.4 394.3h0M537.9 396.0h0M539.1 399.0h0M538.8 405.1h0M540.8 403.9h0M542.3 404.5h0M542.7 403.6h0M547.6 402.1h0M547.4 403.3h0M546.7 402.5h0M549.4 404.2h0M549.1 405.3h0M551.4 412.7h0M550.5 416.9h0M549.0 419.6h0M547.1 419.3h0M546.9 419.7h0M542.8 419.3h0M542.8 420.4h0M542.4 419.6h0M539.7 422.5h0M537.8 423.4h0M538.5 426.4h0M538.4 428.0h0M538.5 429.7h0M537.5 432.7h0M533.6 435.2h0M530.8 436.5h0M529.5 436.7h0M527.3 438.0h0M524.1 438.9h0M524.7 438.9h0M521.4 440.6h0M520.6 441.7h0M520.7 440.3h0M519.3 439.4h0M516.7 436.0h0M514.2 435.5h0M514.1 436.3h0M513.9 434.7h0M510.3 432.7h0M507.2 428.6h0M505.4 427.6h0M506.4 428.4h0M503.6 426.0h0M503.5 425.4h0M503.3 425.2h0M502.8 424.3h0M498.6 416.4h0M498.1 413.3h0M495.4 410.6h0M495.2 410.4h0M494.8 409.4h0M491.9 409.0h0M493.0 406.3h0M495.5 402.3h0M497.3 399.2h0M498.2 400.5h0M497.8 398.0h0M499.9 397.0h0M500.2 397.0h0M502.6 396.5h0M503.0 394.3h0M503.9 392.9h0M503.6 392.4h0M503.6 390.9h0M508.8 387.8h0M511.5 386.9h0M515.5 385.0h0M516.5 384.8h0M517.1 383.9h0M517.9 382.1h0" stroke="#DCE5F2" stroke-width="1.1" stroke-linecap="square" fill="none"/>
<path d="M523.3 414.4h0M527.9 414.0h0M521.5 428.1h0M519.6 424.8h0M534.5 412.5h0M523.5 404.8h0M511.2 404.2h0M528.5 396.1h0M532.5 413.1h0M500.7 409.6h0M499.1 403.0h0M528.9 416.5h0M509.4 424.5h0M538.5 413.2h0M530.1 413.4h0M523.2 422.5h0M534.5 414.2h0M507.7 418.1h0M542.3 408.6h0M513.8 414.8h0M528.9 398.4h0M496.6 401.8h0M509.7 394.7h0M498.7 403.1h0M522.5 420.3h0M526.1 402.2h0M521.9 402.0h0M531.7 434.5h0M519.1 393.2h0M511.5 392.3h0M514.7 410.5h0M524.0 390.6h0M526.1 431.7h0M507.2 401.7h0M508.5 398.4h0M551.0 413.3h0M508.3 415.8h0M506.7 407.0h0M525.2 437.7h0M510.8 394.4h0M533.1 408.0h0M520.9 412.7h0M507.7 419.8h0M549.3 413.7h0M530.4 419.9h0M520.0 407.2h0M508.0 405.3h0M548.0 405.2h0M535.5 429.0h0M536.7 400.9h0M528.0 416.3h0M507.7 396.9h0M518.5 400.1h0M533.9 395.5h0M519.3 414.0h0M521.0 402.3h0M514.0 405.5h0M502.9 406.4h0" stroke="#F6F8FC" stroke-width="1.1" stroke-linecap="square" fill="none"/>
<path d="M520.2 387.1h0M511.5 388.2h0M518.1 398.0h0M535.0 401.5h0M530.9 406.8h0M505.5 407.5h0M549.1 409.3h0M501.8 410.7h0M549.6 411.1h0M509.6 412.2h0M548.5 411.9h0M550.2 412.1h0M536.5 413.3h0M514.3 422.9h0M520.0 424.3h0M535.8 423.8h0M519.2 431.4h0M523.2 433.2h0" stroke="#EF6E52" stroke-opacity="0.72" stroke-width="1.35" stroke-linecap="square" fill="none"/>
<text x="523.5" y="378.3" font-size="8" font-style="italic" text-anchor="middle">FOXP3</text>
<path d="M586.7 382.6 L589.7 381.1 L592.8 382.1 L594.8 385.2 L597.9 386.2 L598.9 388.2 L601.0 391.3 L604.0 393.3 L605.0 396.9 L607.6 397.9 L607.1 401.5 L608.1 404.6 L611.2 403.5 L614.2 402.0 L616.3 403.5 L618.3 406.6 L619.4 410.7 L619.9 413.8 L617.8 417.9 L615.3 419.4 L612.2 419.9 L609.1 419.9 L607.1 421.9 L606.1 426.0 L606.6 430.1 L605.0 433.2 L604.0 435.2 L598.9 436.2 L594.8 437.3 L591.8 439.3 L589.7 441.9 L587.2 440.3 L585.6 437.3 L582.6 436.2 L579.5 434.7 L575.9 432.2 L574.4 429.1 L572.3 426.0 L569.3 423.0 L567.2 418.9 L566.2 415.8 L565.2 411.7 L562.1 408.7 L560.1 407.1 L561.6 403.5 L564.2 400.5 L567.2 398.4 L570.3 396.4 L572.3 393.3 L572.3 390.3 L575.4 388.2 L579.5 387.2 L583.6 385.7 L584.6 383.6Z" fill="#DCE5F2" stroke="#DCE5F2" stroke-width="1.0" stroke-linejoin="round"/>
<path d="M588.4 381.6h0M587.8 381.2h0M588.9 381.5h0M590.2 382.0h0M591.3 382.2h0M594.2 383.6h0M594.4 384.4h0M594.8 386.0h0M597.3 387.2h0M598.9 388.4h0M604.1 393.7h0M603.6 394.7h0M604.7 395.7h0M605.5 396.0h0M605.8 397.0h0M607.1 398.4h0M608.4 399.0h0M607.3 401.3h0M606.7 401.1h0M612.3 403.3h0M615.5 403.8h0M616.2 406.2h0M618.2 406.4h0M617.7 407.7h0M618.8 410.6h0M619.5 411.9h0M619.3 412.4h0M619.6 413.5h0M619.9 415.1h0M618.9 416.0h0M618.0 417.7h0M616.7 418.7h0M614.3 418.5h0M613.0 420.1h0M608.7 419.2h0M605.6 426.2h0M607.0 426.2h0M606.9 427.3h0M605.4 430.8h0M605.0 434.5h0M600.3 434.8h0M600.8 437.1h0M597.8 435.8h0M598.1 437.5h0M591.8 439.2h0M590.1 441.2h0M588.0 440.9h0M586.9 440.5h0M587.3 439.4h0M584.2 437.2h0M584.9 436.9h0M583.3 437.0h0M581.9 435.6h0M577.3 432.4h0M575.0 430.2h0M574.5 428.3h0M573.8 427.0h0M572.6 427.8h0M571.6 426.4h0M570.2 424.2h0M569.0 424.8h0M567.4 418.9h0M565.9 416.3h0M566.7 416.7h0M567.0 413.9h0M565.1 411.6h0M561.4 408.1h0M559.6 408.2h0M564.7 400.3h0M567.8 397.5h0M569.4 395.9h0M569.8 395.3h0M571.9 394.2h0M572.8 394.6h0M573.3 388.3h0M577.6 387.4h0M578.7 387.9h0M580.4 387.0h0M581.9 387.0h0M584.5 385.3h0M585.6 384.2h0M584.5 382.6h0" stroke="#DCE5F2" stroke-width="1.1" stroke-linecap="square" fill="none"/>
<path d="M608.4 409.5h0M590.2 401.7h0M609.3 410.8h0M570.6 398.7h0M605.0 415.4h0M586.0 390.0h0M577.3 390.7h0M588.7 412.3h0M570.2 398.5h0M600.7 394.0h0M583.2 406.2h0M584.0 435.2h0M572.0 395.0h0M574.2 403.0h0M579.3 431.6h0M588.2 434.5h0M564.3 410.3h0M607.4 414.9h0M605.7 405.7h0M578.7 429.0h0M577.6 409.4h0M603.1 417.6h0M580.1 408.3h0M589.5 425.7h0M575.8 397.4h0M600.3 405.3h0M602.5 433.8h0M569.8 405.7h0M584.6 419.1h0M578.3 423.1h0M591.5 408.2h0M606.1 414.7h0M574.2 395.4h0M579.1 428.5h0M601.7 392.1h0M605.4 427.8h0M575.0 418.6h0M586.0 385.0h0M608.0 409.6h0M606.6 398.5h0M586.2 392.0h0M569.2 414.8h0M579.8 418.2h0M574.6 394.5h0M602.5 423.3h0M610.9 407.8h0M591.1 405.9h0M590.2 434.6h0M577.3 416.9h0M599.1 426.0h0M582.8 404.9h0M564.1 401.7h0M580.4 401.9h0M592.3 434.3h0M599.5 391.9h0M590.2 395.0h0M607.4 404.8h0" stroke="#F6F8FC" stroke-width="1.1" stroke-linecap="square" fill="none"/>
<path d="M588.7 381.7h0M588.7 382.5h0M584.7 383.8h0M587.9 386.4h0M582.6 386.8h0M582.8 386.7h0M583.9 387.0h0M576.0 388.3h0M581.9 388.3h0M585.6 388.3h0M592.0 388.0h0M580.3 388.7h0M582.3 389.1h0M584.8 388.5h0M587.1 389.2h0M592.3 388.7h0M595.6 388.9h0M573.1 390.2h0M578.5 389.6h0M584.3 390.0h0M593.0 390.0h0M572.7 390.7h0M585.8 390.7h0M589.8 390.5h0M599.3 390.7h0M572.6 391.5h0M575.9 391.5h0M586.7 391.6h0M592.4 391.6h0M592.8 391.6h0M599.5 391.2h0M601.4 391.9h0M574.7 392.1h0M580.5 393.0h0M594.8 393.3h0M595.7 393.3h0M597.7 393.6h0M603.8 393.3h0M572.1 394.3h0M584.3 394.0h0M588.5 394.1h0M595.8 394.3h0M598.6 393.9h0M604.0 393.9h0M572.2 395.0h0M575.9 395.2h0M581.2 395.5h0M586.4 395.6h0M594.1 395.4h0M600.5 394.9h0M603.0 395.4h0M571.1 396.5h0M577.9 396.1h0M579.1 396.1h0M584.7 396.0h0M585.7 395.7h0M587.7 395.7h0M597.4 396.5h0M602.2 395.9h0M572.5 396.7h0M577.2 396.9h0M580.5 396.8h0M581.1 397.4h0M586.1 397.0h0M587.2 396.9h0M588.4 397.0h0M577.0 398.1h0M590.3 397.8h0M598.7 398.1h0M604.0 398.1h0M571.3 398.7h0M574.8 398.8h0M576.6 398.9h0M588.0 399.1h0M588.9 399.2h0M596.9 399.1h0M597.3 399.0h0M605.0 398.9h0M566.5 399.8h0M590.7 399.4h0M592.5 399.9h0M600.1 400.0h0M564.8 400.2h0M567.2 400.3h0M583.4 400.5h0M592.3 400.4h0M593.9 400.3h0M576.9 401.6h0M590.7 401.6h0M563.5 402.4h0M568.2 402.8h0M568.9 402.6h0M569.8 402.6h0M578.6 402.7h0M591.0 402.7h0M596.2 402.1h0M568.1 403.1h0M579.9 402.9h0M583.2 403.4h0M598.7 403.6h0M562.5 404.3h0M573.3 404.2h0M591.6 403.9h0M603.8 404.4h0M612.9 404.5h0M561.5 405.0h0M572.4 404.9h0M573.2 405.5h0M580.6 405.1h0M582.9 405.4h0M585.4 404.9h0M604.8 404.8h0M566.3 406.3h0M574.4 406.3h0M578.1 406.0h0M583.9 405.8h0M599.6 406.0h0M604.5 406.1h0M607.3 405.8h0M609.9 406.2h0M560.9 406.6h0M573.9 407.2h0M576.7 406.8h0M578.2 406.6h0M582.1 406.9h0M589.6 407.1h0M605.0 406.6h0M613.2 407.3h0M584.8 408.1h0M588.2 407.9h0M603.6 407.5h0M604.7 407.7h0M568.2 408.7h0M593.9 408.6h0M597.0 408.8h0M606.8 408.7h0M615.8 408.9h0M565.8 409.4h0M571.4 409.8h0M564.4 410.5h0M567.6 410.3h0M570.6 410.6h0M579.7 410.5h0M583.4 410.4h0M597.0 410.2h0M602.4 410.1h0M608.6 410.7h0M616.8 410.3h0M571.8 411.4h0M579.6 411.3h0M582.2 411.7h0M587.1 411.6h0M590.3 411.0h0M602.3 411.6h0M566.8 412.4h0M567.7 412.0h0M579.0 411.9h0M585.6 412.2h0M587.4 412.7h0M588.4 412.0h0M589.6 412.3h0M590.5 412.6h0M591.3 412.3h0M594.0 412.5h0M594.8 412.2h0M596.9 412.0h0M599.5 412.2h0M615.3 412.5h0M617.6 411.9h0M584.0 413.5h0M592.4 413.3h0M594.3 413.1h0M594.6 413.0h0M605.7 413.6h0M610.7 413.5h0M567.1 414.4h0M569.1 414.2h0M574.3 414.1h0M577.9 414.4h0M580.3 414.3h0M588.7 414.2h0M589.3 414.1h0M590.5 414.5h0M592.1 414.4h0M595.8 414.5h0M596.6 414.5h0M597.3 414.0h0M598.2 414.5h0M604.9 414.2h0M613.0 414.0h0M580.6 414.7h0M585.3 415.4h0M586.7 415.3h0M588.4 414.7h0M589.9 414.8h0M590.6 415.4h0M591.8 415.3h0M595.8 415.0h0M596.9 415.1h0M597.3 414.6h0M599.1 414.7h0M614.7 415.4h0M616.0 414.8h0M617.8 415.2h0M572.4 415.5h0M573.1 415.8h0M578.6 415.9h0M579.6 416.0h0M580.4 416.0h0M582.4 415.7h0M584.5 416.2h0M585.3 416.1h0M586.9 416.2h0M589.6 416.3h0M591.3 416.1h0M593.2 415.7h0M596.2 415.8h0M596.7 416.1h0M599.3 416.2h0M603.2 416.0h0M609.0 415.7h0M610.7 416.0h0M611.7 416.2h0M613.7 416.1h0M566.6 416.8h0M573.2 416.9h0M577.9 417.1h0M580.0 416.6h0M580.7 416.7h0M582.0 416.8h0M586.1 416.9h0M592.0 416.6h0M593.7 416.5h0M594.7 416.7h0M595.5 417.2h0M597.9 416.5h0M598.3 416.7h0M599.9 416.8h0M605.0 417.0h0M613.5 417.0h0M571.3 417.4h0M579.0 417.6h0M584.2 418.0h0M586.0 418.0h0M586.6 417.3h0M589.7 417.4h0M591.0 418.0h0M593.1 417.4h0M594.4 418.1h0M595.1 417.3h0M596.7 418.0h0M597.6 417.5h0M598.8 417.9h0M612.1 417.3h0M617.3 418.0h0M572.3 418.8h0M577.9 418.5h0M579.9 418.8h0M582.1 418.4h0M582.9 418.3h0M584.0 418.6h0M585.1 418.6h0M585.6 418.5h0M586.7 418.5h0M587.3 418.4h0M588.7 418.5h0M589.8 418.8h0M591.2 418.5h0M592.5 418.9h0M594.2 418.6h0M594.8 418.8h0M595.5 418.3h0M596.8 418.5h0M597.9 418.6h0M598.7 418.6h0M579.8 419.7h0M581.6 419.2h0M584.1 419.2h0M585.9 419.8h0M586.7 419.3h0M588.8 419.6h0M589.8 419.6h0M591.2 419.7h0M593.3 419.3h0M595.1 419.6h0M595.8 419.8h0M597.2 419.4h0M600.1 419.5h0M601.8 419.7h0M605.3 419.8h0M570.3 420.4h0M577.2 420.4h0M577.5 420.3h0M578.6 420.6h0M582.0 420.2h0M583.9 420.6h0M585.2 420.3h0M586.8 420.7h0M588.1 420.2h0M588.7 420.7h0M590.3 420.1h0M591.1 420.2h0M592.0 420.0h0M593.4 420.7h0M593.6 420.6h0M594.5 420.2h0M600.6 420.4h0M582.3 421.5h0M583.5 421.2h0M587.1 421.2h0M587.9 421.7h0M589.4 421.3h0M590.5 421.4h0M591.3 421.7h0M592.4 421.4h0M593.9 421.0h0M594.6 421.6h0M598.0 421.3h0M598.7 421.3h0M600.4 421.5h0M602.0 421.4h0M603.9 421.7h0M606.3 421.3h0M607.8 421.1h0M578.5 422.1h0M579.5 422.0h0M580.3 422.4h0M581.2 422.2h0M582.6 422.5h0M584.0 422.6h0M584.8 422.0h0M585.8 422.1h0M588.5 422.1h0M589.2 422.0h0M590.0 422.1h0M590.9 422.2h0M592.4 422.4h0M593.7 422.1h0M596.4 422.1h0M599.0 421.9h0M601.4 421.9h0M604.8 422.4h0M606.9 422.4h0M577.8 423.5h0M580.7 423.2h0M583.1 423.5h0M586.3 422.9h0M588.6 423.2h0M589.9 423.0h0M590.5 422.9h0M591.4 423.3h0M592.3 423.0h0M594.0 423.1h0M594.7 422.8h0M595.8 423.0h0M596.5 423.2h0M599.4 422.8h0M601.0 423.4h0M602.9 423.3h0M578.6 424.2h0M579.7 424.2h0M581.1 423.8h0M582.5 424.0h0M582.8 423.8h0M587.0 423.8h0M587.4 424.0h0M588.6 424.2h0M589.6 423.9h0M591.3 424.2h0M592.5 423.9h0M593.1 424.3h0M594.8 423.7h0M596.1 424.3h0M596.9 424.4h0M597.7 423.9h0M599.3 423.8h0M574.6 424.8h0M578.0 424.8h0M578.4 425.1h0M580.6 425.0h0M581.2 425.0h0M582.2 425.1h0M582.9 424.7h0M586.3 424.7h0M587.0 425.0h0M587.7 425.3h0M588.8 425.1h0M589.3 424.7h0M593.8 424.8h0M596.2 425.0h0M596.3 424.9h0M597.7 425.0h0M599.3 425.0h0M602.1 424.6h0M602.8 424.6h0M573.8 425.9h0M576.0 425.7h0M576.8 426.0h0M577.5 426.1h0M578.6 425.6h0M579.8 425.7h0M580.2 425.8h0M583.1 425.9h0M584.3 425.7h0M584.8 425.9h0M585.6 425.8h0M587.1 426.1h0M587.7 425.6h0M589.6 425.8h0M592.2 426.1h0M593.2 425.9h0M595.6 425.8h0M599.7 425.6h0M600.1 425.8h0M605.0 426.1h0M574.3 427.0h0M577.1 426.8h0M577.7 426.6h0M579.2 426.6h0M580.1 426.5h0M581.3 427.0h0M582.5 426.7h0M583.5 426.7h0M585.1 427.1h0M588.0 426.9h0M589.7 426.8h0M590.5 426.4h0M591.4 426.6h0M593.4 426.8h0M595.3 426.4h0M596.1 426.5h0M599.5 427.0h0M600.2 426.9h0M602.0 427.1h0M602.7 426.3h0M579.1 427.8h0M582.2 427.9h0M583.5 427.8h0M583.7 427.4h0M586.2 427.9h0M587.8 427.5h0M589.4 427.2h0M591.0 427.8h0M592.9 427.4h0M593.9 427.8h0M597.1 427.7h0M597.3 427.7h0M598.8 427.8h0M600.5 427.5h0M601.3 428.0h0M603.4 427.2h0M574.9 428.7h0M576.9 428.1h0M577.5 428.4h0M578.3 428.9h0M579.6 428.1h0M581.5 428.7h0M582.3 428.7h0M583.2 428.6h0M584.8 428.6h0M585.5 428.5h0M586.8 428.5h0M587.6 428.1h0M588.5 428.2h0M589.5 428.6h0M590.6 428.3h0M592.2 428.8h0M592.9 428.1h0M593.6 428.7h0M595.5 428.7h0M597.8 428.9h0M599.7 428.5h0M600.6 428.4h0M602.4 428.3h0M605.1 428.4h0M578.0 429.2h0M580.1 429.4h0M581.2 429.3h0M582.8 429.3h0M583.8 429.4h0M584.7 429.4h0M589.6 429.5h0M593.2 429.2h0M594.5 429.0h0M596.2 429.6h0M597.2 429.2h0M599.2 429.4h0M602.6 429.1h0M605.6 429.4h0M578.1 429.9h0M580.1 430.2h0M584.4 430.3h0M584.7 430.2h0M586.5 429.9h0M587.6 429.9h0M588.5 430.5h0M590.2 430.4h0M592.4 430.7h0M593.5 430.6h0M596.0 430.7h0M596.5 430.5h0M597.3 430.1h0M598.3 430.0h0M600.1 430.5h0M576.8 431.5h0M582.2 431.2h0M582.9 430.9h0M583.7 431.2h0M585.9 431.1h0M587.5 430.9h0M589.5 431.0h0M591.4 431.2h0M592.0 431.3h0M593.1 431.5h0M595.2 430.9h0M599.1 431.0h0M577.0 431.9h0M580.2 432.5h0M581.6 432.3h0M582.1 431.8h0M584.2 431.8h0M585.0 431.8h0M585.9 432.2h0M586.6 431.7h0M587.8 432.3h0M589.2 432.3h0M590.8 432.0h0M593.9 432.2h0M594.9 432.3h0M595.6 432.0h0M597.0 431.9h0M597.9 431.8h0M598.8 432.4h0M601.0 432.4h0M603.3 431.8h0M579.9 433.2h0M581.7 433.2h0M584.1 432.8h0M585.3 433.0h0M586.1 432.8h0M587.1 432.6h0M588.6 433.1h0M593.3 433.4h0M595.2 432.9h0M595.6 433.2h0M597.5 433.0h0M599.1 432.7h0M599.9 433.2h0M583.5 434.2h0M585.0 433.7h0M587.1 433.6h0M587.9 434.2h0M589.4 433.7h0M592.0 434.2h0M596.2 434.2h0M598.0 434.1h0M598.4 433.9h0M599.1 434.3h0M602.0 433.7h0M581.1 434.5h0M583.5 435.2h0M585.8 434.9h0M586.6 434.7h0M588.1 434.8h0M588.8 434.5h0M590.1 434.7h0M596.1 434.8h0M596.5 435.0h0M597.7 434.8h0M598.5 435.1h0M602.1 434.7h0M581.7 435.7h0M582.4 435.3h0M588.0 435.4h0M590.0 436.1h0M592.9 435.4h0M596.7 436.0h0M586.1 436.8h0M586.5 436.6h0M587.4 437.0h0M590.6 436.8h0M592.1 436.9h0M592.8 436.4h0M595.5 436.6h0M597.1 436.6h0M586.5 437.4h0M588.0 437.5h0M589.7 437.4h0M592.1 437.6h0M593.8 437.4h0M589.6 438.7h0M591.1 438.2h0M592.8 438.1h0M587.8 440.2h0M589.2 440.6h0" stroke="#EF6E52" stroke-opacity="0.72" stroke-width="1.35" stroke-linecap="square" fill="none"/>
<text x="591.5" y="378.3" font-size="8" font-style="italic" text-anchor="middle">GZMK</text>
<path d="M382.7 466.6 L385.7 465.1 L388.8 466.1 L390.8 469.2 L393.9 470.2 L394.9 472.2 L397.0 475.3 L400.0 477.3 L401.0 480.9 L403.6 481.9 L403.1 485.5 L404.1 488.6 L407.2 487.5 L410.2 486.0 L412.3 487.5 L414.3 490.6 L415.4 494.7 L415.9 497.8 L413.8 501.9 L411.3 503.4 L408.2 503.9 L405.1 503.9 L403.1 505.9 L402.1 510.0 L402.6 514.1 L401.0 517.2 L400.0 519.2 L394.9 520.2 L390.8 521.3 L387.8 523.3 L385.7 525.9 L383.2 524.3 L381.6 521.3 L378.6 520.2 L375.5 518.7 L371.9 516.2 L370.4 513.1 L368.3 510.0 L365.3 507.0 L363.2 502.9 L362.2 499.8 L361.2 495.7 L358.1 492.7 L356.1 491.1 L357.6 487.5 L360.2 484.5 L363.2 482.4 L366.3 480.4 L368.3 477.3 L368.3 474.3 L371.4 472.2 L375.5 471.2 L379.6 469.7 L380.6 467.6Z" fill="#DCE5F2" stroke="#DCE5F2" stroke-width="1.0" stroke-linejoin="round"/>
<path d="M385.1 465.5h0M388.1 466.2h0M388.4 467.0h0M395.6 472.8h0M397.9 474.6h0M398.1 475.8h0M399.1 477.2h0M401.6 477.9h0M401.7 482.3h0M401.5 482.3h0M403.2 480.8h0M402.7 481.5h0M404.0 484.6h0M405.4 487.2h0M405.2 487.6h0M409.6 486.7h0M413.7 488.6h0M413.7 489.8h0M415.7 491.9h0M415.3 491.6h0M414.5 494.1h0M416.1 496.2h0M415.6 496.3h0M415.6 496.8h0M414.5 499.8h0M414.2 500.6h0M411.3 502.2h0M411.0 502.8h0M408.9 503.5h0M403.3 505.7h0M402.5 507.3h0M402.1 510.3h0M401.5 511.6h0M402.5 512.3h0M401.4 516.3h0M401.7 518.1h0M401.3 518.0h0M398.6 520.6h0M395.1 521.0h0M391.9 520.2h0M389.7 522.6h0M387.7 523.0h0M387.8 523.8h0M383.0 521.7h0M381.8 520.9h0M380.2 520.2h0M380.0 520.0h0M377.1 518.9h0M375.3 518.5h0M373.2 516.8h0M371.2 515.4h0M371.6 515.0h0M371.3 514.9h0M369.1 512.2h0M370.2 510.9h0M368.9 511.5h0M367.2 509.9h0M366.9 508.6h0M365.0 507.9h0M364.5 506.5h0M364.6 503.5h0M362.9 501.3h0M362.4 499.7h0M361.1 499.7h0M357.6 492.6h0M356.9 491.7h0M357.1 492.2h0M356.2 491.1h0M356.9 489.3h0M360.0 486.2h0M359.0 484.5h0M362.6 482.7h0M364.5 481.3h0M365.6 482.0h0M366.3 479.9h0M367.2 479.6h0M368.3 476.1h0M369.1 474.2h0M370.9 473.7h0M372.7 472.7h0M378.2 469.8h0M380.3 468.7h0M379.2 469.4h0M381.5 468.5h0M382.5 465.7h0" stroke="#DCE5F2" stroke-width="1.1" stroke-linecap="square" fill="none"/>
<path d="M379.2 520.3h0M384.2 490.4h0M393.0 501.1h0M386.4 510.3h0M385.2 504.2h0M387.4 470.4h0M391.0 476.2h0M407.1 492.7h0M380.8 489.1h0M404.2 493.0h0M374.2 504.0h0M394.3 480.2h0M382.6 475.7h0M372.8 500.8h0M370.8 512.0h0M408.3 492.9h0M387.3 474.8h0M373.8 479.6h0M386.6 518.9h0M387.3 509.3h0M378.6 511.4h0M388.9 480.4h0M366.1 501.6h0M396.4 494.4h0M390.8 479.5h0M365.6 502.2h0M371.9 482.9h0M376.2 481.1h0M368.7 506.8h0M406.1 500.4h0M378.5 474.0h0M364.0 499.1h0M387.5 504.7h0M377.6 481.6h0M384.5 483.3h0M409.5 497.8h0M409.8 495.8h0M402.7 500.9h0M390.1 499.0h0M383.7 516.5h0M381.3 481.7h0M368.3 495.0h0M369.6 474.8h0M365.8 494.5h0M382.7 475.8h0M368.5 498.5h0M379.9 480.6h0" stroke="#F6F8FC" stroke-width="1.1" stroke-linecap="square" fill="none"/>
<path d="M386.6 466.7h0M389.2 467.4h0M380.9 470.0h0M391.7 470.6h0M392.8 470.3h0M379.1 470.7h0M379.8 470.7h0M374.7 471.8h0M376.4 472.2h0M379.3 472.2h0M384.9 471.7h0M385.6 472.9h0M370.3 474.0h0M372.8 473.7h0M379.3 473.4h0M380.2 474.1h0M385.0 474.0h0M385.2 473.7h0M389.8 474.0h0M371.2 474.9h0M386.1 474.8h0M387.8 474.6h0M392.0 474.7h0M392.6 474.9h0M396.0 475.0h0M371.8 475.8h0M374.1 475.3h0M376.2 475.8h0M380.7 475.4h0M383.5 475.6h0M384.6 476.0h0M369.4 476.7h0M375.7 476.4h0M381.1 476.8h0M386.6 476.1h0M389.2 476.2h0M396.6 476.1h0M397.4 476.4h0M397.8 476.7h0M369.2 477.2h0M370.0 477.2h0M378.6 477.8h0M380.3 477.4h0M370.6 478.4h0M370.9 478.3h0M373.3 478.3h0M374.3 478.6h0M375.8 478.2h0M376.3 478.4h0M380.1 478.5h0M382.7 478.6h0M388.2 478.2h0M389.3 478.5h0M397.0 478.0h0M373.4 479.6h0M376.2 479.0h0M380.6 479.4h0M381.5 478.9h0M393.7 479.2h0M372.0 480.3h0M374.7 480.2h0M375.7 479.8h0M377.5 479.9h0M377.9 480.3h0M380.8 480.1h0M382.5 479.8h0M384.9 479.8h0M386.1 480.0h0M373.0 481.3h0M373.5 481.1h0M374.6 481.1h0M384.1 480.9h0M389.4 481.1h0M367.7 482.0h0M373.1 482.0h0M374.7 482.2h0M377.7 482.0h0M378.5 482.1h0M396.6 482.2h0M366.5 482.7h0M367.7 483.0h0M374.7 483.1h0M390.6 482.6h0M393.5 482.6h0M394.2 482.6h0M401.0 482.6h0M369.9 483.9h0M372.8 483.7h0M375.7 483.4h0M376.8 484.0h0M377.2 483.6h0M379.5 483.5h0M381.2 483.9h0M386.6 483.7h0M387.4 484.1h0M388.9 483.5h0M362.2 484.9h0M364.4 484.7h0M366.3 484.7h0M371.0 485.0h0M375.2 484.9h0M380.2 484.6h0M382.1 484.8h0M384.7 484.6h0M391.3 484.6h0M391.9 484.2h0M399.1 484.9h0M365.4 485.6h0M367.5 485.7h0M368.4 485.7h0M369.8 485.3h0M375.5 485.1h0M387.5 485.3h0M390.0 485.6h0M361.3 486.4h0M364.7 486.1h0M368.3 486.2h0M369.2 486.5h0M370.2 486.4h0M372.6 486.3h0M378.5 486.2h0M380.4 486.4h0M382.8 486.7h0M388.3 486.5h0M390.2 486.7h0M392.6 486.1h0M362.4 487.5h0M364.4 487.1h0M365.8 487.6h0M368.6 487.3h0M369.5 487.0h0M374.2 487.4h0M375.2 487.5h0M376.6 487.2h0M378.4 487.4h0M382.9 487.5h0M385.5 487.5h0M391.8 487.1h0M399.8 487.7h0M375.0 488.0h0M376.1 488.1h0M377.3 488.0h0M380.7 487.9h0M387.3 488.5h0M391.0 488.6h0M391.5 488.3h0M393.4 488.1h0M358.6 488.8h0M366.6 489.3h0M374.5 488.8h0M376.8 488.8h0M377.8 489.3h0M379.9 488.8h0M380.9 488.8h0M385.0 488.8h0M385.4 488.8h0M395.1 488.8h0M361.4 490.0h0M367.4 490.4h0M370.2 490.2h0M372.3 489.7h0M380.2 489.9h0M383.4 490.3h0M387.8 490.3h0M395.3 490.1h0M363.0 490.9h0M365.7 491.0h0M369.0 490.8h0M371.3 490.7h0M375.7 490.7h0M376.8 490.8h0M377.4 491.2h0M383.8 490.6h0M385.3 490.6h0M386.4 490.6h0M394.6 491.2h0M407.0 491.1h0M361.2 491.5h0M364.0 492.1h0M367.4 491.6h0M371.2 492.1h0M377.0 491.7h0M378.3 492.0h0M385.2 491.8h0M387.6 491.8h0M393.8 491.9h0M396.0 491.7h0M411.7 491.4h0M360.6 492.7h0M364.4 492.8h0M375.5 492.6h0M380.8 492.6h0M382.6 492.7h0M383.4 492.5h0M387.8 492.8h0M398.3 492.9h0M364.1 493.7h0M366.6 493.8h0M371.8 493.4h0M374.0 494.0h0M379.3 493.5h0M382.6 493.4h0M384.4 493.8h0M388.5 493.7h0M388.9 493.8h0M393.5 494.0h0M396.9 493.9h0M399.4 493.6h0M363.8 494.3h0M365.7 494.8h0M367.8 494.6h0M368.5 494.7h0M371.9 494.5h0M377.2 494.8h0M378.6 494.6h0M379.2 494.6h0M384.9 494.8h0M385.4 494.3h0M400.5 494.5h0M406.5 494.2h0M363.1 495.4h0M366.8 495.5h0M367.2 495.1h0M372.9 495.6h0M379.0 495.5h0M382.4 495.7h0M384.7 495.6h0M387.7 495.7h0M389.8 495.1h0M393.6 495.0h0M397.1 495.2h0M362.3 496.1h0M363.3 496.1h0M370.2 496.1h0M373.2 496.3h0M377.2 496.0h0M382.0 496.4h0M382.6 496.4h0M386.3 496.5h0M387.0 496.1h0M388.4 496.2h0M391.4 496.4h0M399.2 496.1h0M406.2 496.5h0M367.4 497.4h0M368.5 497.3h0M371.3 497.0h0M372.7 497.2h0M375.3 496.8h0M376.3 496.8h0M379.9 497.5h0M383.1 497.2h0M394.6 497.4h0M364.0 498.3h0M365.4 497.9h0M366.3 498.2h0M368.6 498.4h0M369.4 498.2h0M373.9 497.8h0M374.7 498.4h0M376.9 497.8h0M377.8 498.0h0M379.1 498.0h0M383.0 498.3h0M384.0 498.4h0M390.7 498.5h0M392.1 498.4h0M395.5 498.3h0M414.5 497.9h0M362.3 499.0h0M363.2 498.9h0M367.7 498.7h0M369.7 498.6h0M371.0 499.0h0M377.9 499.2h0M379.5 499.1h0M384.3 498.8h0M387.1 498.8h0M395.7 499.4h0M362.9 500.3h0M371.2 499.5h0M378.6 499.6h0M380.8 500.0h0M385.8 499.8h0M393.0 500.0h0M394.9 499.6h0M402.3 499.7h0M403.5 500.1h0M365.6 501.1h0M368.8 500.5h0M371.2 501.1h0M372.1 500.9h0M372.6 500.4h0M373.4 501.2h0M375.6 500.7h0M380.2 500.7h0M386.1 501.0h0M390.2 501.1h0M393.0 501.0h0M393.9 500.6h0M375.5 501.3h0M381.0 501.7h0M383.8 501.5h0M385.1 501.7h0M391.2 502.1h0M395.5 501.3h0M396.1 502.0h0M397.1 501.8h0M407.4 501.5h0M367.6 502.4h0M369.1 502.3h0M371.0 502.5h0M377.5 502.7h0M381.6 502.5h0M385.3 502.4h0M389.7 502.9h0M391.1 502.4h0M393.8 502.9h0M363.8 503.3h0M367.9 503.2h0M371.6 503.6h0M373.9 503.5h0M376.8 503.8h0M380.2 503.2h0M381.7 503.5h0M384.7 503.6h0M386.5 503.4h0M390.0 503.8h0M398.3 503.6h0M364.3 504.4h0M367.9 504.3h0M370.3 504.8h0M378.9 504.1h0M382.9 504.7h0M388.0 504.2h0M390.8 504.6h0M394.8 504.8h0M396.9 504.1h0M365.9 505.2h0M366.5 505.4h0M367.3 505.4h0M370.8 505.4h0M374.2 505.6h0M374.8 505.5h0M378.7 505.4h0M379.7 504.9h0M384.6 505.3h0M390.0 505.2h0M392.7 505.2h0M365.0 506.2h0M370.3 506.4h0M373.1 506.0h0M375.9 505.9h0M377.4 506.1h0M379.7 506.2h0M381.3 505.9h0M382.8 506.2h0M384.4 506.4h0M386.5 506.1h0M388.8 506.5h0M391.9 506.4h0M394.3 506.3h0M371.9 507.3h0M375.3 506.8h0M381.3 506.8h0M384.7 507.1h0M390.8 507.1h0M392.6 506.8h0M393.5 506.8h0M395.2 507.0h0M397.4 507.3h0M366.4 507.7h0M375.7 507.7h0M377.8 507.8h0M379.5 507.9h0M381.8 508.1h0M383.9 508.4h0M387.3 507.9h0M389.7 508.0h0M390.7 507.9h0M395.3 508.2h0M370.0 508.6h0M380.8 508.8h0M369.6 510.1h0M373.1 509.9h0M375.7 509.6h0M379.6 509.9h0M384.0 509.5h0M385.2 509.9h0M388.7 510.1h0M390.2 509.9h0M393.4 509.5h0M397.6 509.4h0M372.3 510.6h0M381.9 510.9h0M382.9 510.3h0M390.7 510.7h0M395.4 510.8h0M401.5 511.0h0M370.8 511.4h0M371.7 511.5h0M374.1 511.3h0M380.0 511.4h0M381.1 511.2h0M382.0 511.4h0M386.4 511.5h0M388.4 511.4h0M388.8 512.0h0M391.6 511.9h0M378.9 512.5h0M381.7 512.5h0M388.2 512.2h0M390.0 512.7h0M391.6 512.2h0M371.3 513.7h0M371.9 513.4h0M373.9 513.8h0M375.6 513.4h0M379.2 513.5h0M388.9 513.0h0M372.7 514.6h0M377.5 514.2h0M380.9 514.2h0M402.6 514.0h0M372.4 515.1h0M372.6 514.9h0M377.0 515.1h0M378.2 515.0h0M382.9 514.9h0M385.4 515.3h0M391.8 515.2h0M385.4 516.1h0M388.8 515.7h0M373.6 516.7h0M377.5 516.8h0M379.3 516.9h0M380.0 517.1h0M384.8 516.9h0M386.3 516.9h0M388.0 517.0h0M398.0 516.7h0M374.8 517.9h0M376.2 518.2h0M382.8 518.2h0M376.6 518.7h0M383.2 518.4h0M383.8 518.7h0M385.4 518.5h0M386.5 518.6h0M388.3 519.3h0M387.3 520.4h0M385.8 521.3h0M387.9 521.3h0M384.6 523.5h0M383.4 523.9h0" stroke="#EF6E52" stroke-opacity="0.72" stroke-width="1.35" stroke-linecap="square" fill="none"/>
<text x="387.5" y="462.3" font-size="8" font-style="italic" text-anchor="middle">CD8A</text>
<path d="M450.7 466.6 L453.7 465.1 L456.8 466.1 L458.8 469.2 L461.9 470.2 L462.9 472.2 L465.0 475.3 L468.0 477.3 L469.0 480.9 L471.6 481.9 L471.1 485.5 L472.1 488.6 L475.2 487.5 L478.2 486.0 L480.3 487.5 L482.3 490.6 L483.4 494.7 L483.9 497.8 L481.8 501.9 L479.3 503.4 L476.2 503.9 L473.1 503.9 L471.1 505.9 L470.1 510.0 L470.6 514.1 L469.0 517.2 L468.0 519.2 L462.9 520.2 L458.8 521.3 L455.8 523.3 L453.7 525.9 L451.2 524.3 L449.6 521.3 L446.6 520.2 L443.5 518.7 L439.9 516.2 L438.4 513.1 L436.3 510.0 L433.3 507.0 L431.2 502.9 L430.2 499.8 L429.2 495.7 L426.1 492.7 L424.1 491.1 L425.6 487.5 L428.2 484.5 L431.2 482.4 L434.3 480.4 L436.3 477.3 L436.3 474.3 L439.4 472.2 L443.5 471.2 L447.6 469.7 L448.6 467.6Z" fill="#DCE5F2" stroke="#DCE5F2" stroke-width="1.0" stroke-linejoin="round"/>
<path d="M451.2 465.1h0M453.1 466.6h0M454.3 464.8h0M455.3 464.8h0M456.1 466.9h0M459.1 470.5h0M459.6 470.7h0M460.2 469.3h0M461.1 470.3h0M461.6 471.6h0M462.1 470.8h0M464.2 474.7h0M467.3 476.1h0M468.6 481.0h0M468.6 481.4h0M471.3 482.3h0M471.1 482.8h0M471.5 487.1h0M473.5 487.2h0M475.4 488.8h0M476.1 487.1h0M477.6 485.2h0M479.8 486.1h0M478.9 487.6h0M481.2 489.8h0M480.8 490.4h0M481.6 491.0h0M481.7 491.6h0M482.2 494.5h0M484.2 495.6h0M480.8 502.3h0M480.7 502.1h0M478.8 503.5h0M477.6 504.3h0M476.7 505.1h0M472.9 504.7h0M472.8 503.1h0M471.7 504.4h0M470.7 507.1h0M470.2 508.9h0M470.9 511.3h0M471.3 512.3h0M470.2 516.7h0M468.7 516.8h0M468.2 518.4h0M467.9 519.4h0M467.1 519.5h0M466.5 518.8h0M462.9 521.1h0M460.3 521.7h0M459.1 522.2h0M456.5 523.3h0M456.5 522.8h0M451.8 524.8h0M452.3 525.2h0M451.3 523.9h0M450.4 522.7h0M449.9 521.6h0M449.3 521.7h0M446.8 519.5h0M444.6 518.9h0M442.9 517.1h0M440.8 516.8h0M439.2 515.4h0M437.7 513.0h0M438.5 511.3h0M435.1 510.3h0M433.6 509.3h0M435.0 508.5h0M431.7 506.4h0M431.5 504.4h0M430.2 502.0h0M430.3 499.2h0M429.3 498.1h0M428.5 497.4h0M427.8 496.2h0M425.7 492.3h0M425.9 487.9h0M426.0 485.9h0M426.7 485.8h0M429.0 484.8h0M432.1 481.8h0M433.6 479.2h0M435.3 478.4h0M435.6 478.7h0M435.8 477.0h0M440.9 472.6h0M445.3 471.5h0M447.9 469.6h0M449.1 469.1h0M449.0 466.3h0M448.9 466.6h0M449.1 467.8h0" stroke="#DCE5F2" stroke-width="1.1" stroke-linecap="square" fill="none"/>
<path d="M426.0 489.7h0M455.4 478.8h0M464.8 518.8h0M441.2 488.8h0M480.3 502.2h0M466.5 504.2h0M442.0 505.3h0M430.7 484.5h0M456.3 509.6h0M445.6 487.7h0M433.0 485.1h0M467.2 495.4h0M459.8 483.5h0M453.8 490.7h0M466.1 507.5h0M438.8 503.0h0M460.2 500.1h0M430.3 491.0h0M454.4 483.1h0M429.2 488.2h0M463.6 493.5h0M461.1 486.3h0M444.8 510.1h0M455.2 472.9h0M446.5 517.2h0M442.6 483.1h0M448.7 507.5h0M480.3 500.8h0M452.5 500.1h0M467.8 488.4h0M466.2 486.0h0M455.3 497.9h0M434.5 505.8h0M459.6 498.9h0M467.2 515.4h0M451.2 473.5h0M435.7 496.8h0M480.5 498.7h0M441.1 491.5h0M442.9 480.8h0M433.6 504.5h0M440.1 489.6h0M439.9 500.2h0M460.2 500.7h0M455.8 468.6h0M455.3 521.0h0M429.2 487.4h0M450.0 490.8h0M450.1 500.2h0M442.2 514.2h0M459.0 489.9h0M447.7 506.1h0M440.8 515.9h0M455.8 505.3h0M440.8 471.9h0M448.9 475.4h0M453.4 494.1h0M447.5 479.1h0" stroke="#F6F8FC" stroke-width="1.1" stroke-linecap="square" fill="none"/>
<path d="M454.6 465.4h0M452.7 466.9h0M455.6 466.6h0M450.1 467.9h0M451.1 467.6h0M452.9 467.5h0M453.7 467.9h0M454.5 467.5h0M456.5 467.7h0M456.7 467.4h0M450.0 468.2h0M450.6 468.0h0M452.5 468.0h0M455.7 468.4h0M456.6 468.5h0M458.1 468.7h0M449.9 469.0h0M450.4 469.4h0M452.3 469.7h0M454.1 469.3h0M455.1 469.7h0M457.6 469.3h0M446.5 470.1h0M450.1 470.4h0M451.2 470.4h0M452.0 470.4h0M454.5 470.4h0M456.3 470.2h0M457.9 470.4h0M444.1 471.0h0M451.0 471.2h0M451.4 470.7h0M452.6 471.0h0M453.3 471.4h0M454.2 471.0h0M458.6 471.0h0M440.2 472.3h0M446.2 471.8h0M447.9 471.8h0M452.6 471.8h0M461.8 471.7h0M439.1 473.0h0M440.2 473.1h0M442.1 473.1h0M453.2 472.7h0M445.5 474.1h0M455.8 473.6h0M460.2 474.2h0M439.7 475.1h0M447.9 474.3h0M459.4 474.4h0M461.7 474.7h0M437.6 475.7h0M438.2 475.8h0M440.2 475.4h0M449.3 475.6h0M451.5 475.3h0M457.4 475.9h0M463.5 475.9h0M438.8 476.2h0M445.8 476.8h0M447.3 476.7h0M450.1 476.8h0M451.7 476.4h0M465.4 476.5h0M437.1 477.7h0M441.8 477.3h0M447.1 477.1h0M451.3 477.2h0M452.9 477.5h0M467.7 477.3h0M442.1 478.7h0M446.4 478.0h0M460.7 478.5h0M464.9 478.2h0M462.2 479.6h0M440.5 479.9h0M447.1 479.8h0M456.3 479.9h0M437.6 481.1h0M463.1 481.3h0M440.0 482.2h0M467.4 482.1h0M432.2 482.8h0M434.0 483.2h0M443.7 483.2h0M446.0 482.7h0M453.2 482.7h0M458.4 482.6h0M466.8 482.6h0M430.7 484.1h0M436.9 483.9h0M452.7 483.8h0M458.0 483.3h0M460.8 483.8h0M467.0 483.6h0M468.9 483.8h0M435.6 484.2h0M438.7 484.7h0M451.7 484.6h0M455.9 484.7h0M459.6 484.6h0M464.2 485.0h0M428.1 485.7h0M434.6 485.6h0M448.1 485.4h0M450.9 485.7h0M459.6 485.4h0M462.2 485.9h0M466.7 485.8h0M469.3 485.5h0M430.7 486.2h0M449.7 486.0h0M461.8 486.7h0M466.9 486.5h0M440.8 487.4h0M455.8 487.4h0M465.4 487.0h0M442.0 488.1h0M443.5 488.0h0M448.2 488.5h0M449.0 488.5h0M450.0 488.5h0M453.0 487.9h0M458.0 488.4h0M466.3 487.8h0M471.3 488.2h0M478.8 488.2h0M459.0 489.0h0M430.4 489.7h0M431.3 489.7h0M432.0 490.2h0M433.3 490.4h0M445.5 490.0h0M446.1 490.0h0M450.2 489.7h0M456.0 490.1h0M467.6 489.7h0M428.7 491.1h0M429.2 491.0h0M437.3 491.0h0M463.6 490.9h0M464.8 490.9h0M470.3 490.7h0M471.9 490.9h0M481.6 491.3h0M426.2 492.0h0M452.7 491.5h0M453.3 491.6h0M454.7 491.5h0M456.7 492.1h0M460.8 491.5h0M462.2 492.1h0M464.5 492.2h0M481.2 492.0h0M429.6 492.4h0M431.1 492.6h0M436.6 492.4h0M438.5 492.6h0M451.9 492.9h0M458.3 493.0h0M464.9 492.4h0M471.4 492.6h0M477.2 492.9h0M478.1 492.6h0M479.3 492.9h0M480.8 492.3h0M481.8 492.5h0M437.2 494.0h0M438.9 493.6h0M443.6 493.9h0M456.0 493.9h0M462.2 493.7h0M479.6 493.7h0M436.6 494.3h0M437.2 494.2h0M438.6 494.7h0M441.6 494.8h0M444.2 494.2h0M447.1 494.5h0M456.3 494.8h0M457.3 494.8h0M458.3 494.5h0M471.9 494.5h0M473.0 494.5h0M476.1 494.4h0M430.9 495.6h0M441.9 495.1h0M446.1 495.6h0M448.5 495.6h0M470.0 495.2h0M430.5 496.4h0M436.5 496.4h0M436.9 496.2h0M439.8 496.2h0M451.8 496.6h0M462.4 496.6h0M465.1 496.6h0M430.7 497.5h0M433.7 497.2h0M440.2 497.4h0M441.5 497.5h0M444.6 497.4h0M450.2 497.0h0M458.6 496.9h0M462.0 497.3h0M462.2 497.5h0M463.4 497.4h0M452.6 498.4h0M463.7 498.0h0M478.2 498.4h0M478.9 497.9h0M431.6 498.9h0M434.9 499.3h0M438.2 498.6h0M442.1 498.7h0M444.8 498.8h0M463.7 498.9h0M464.9 498.9h0M473.0 498.8h0M481.4 498.8h0M483.2 499.1h0M436.1 500.2h0M443.5 499.5h0M446.5 500.1h0M457.0 499.6h0M460.5 499.7h0M462.2 499.8h0M464.6 499.7h0M468.8 499.6h0M475.1 499.6h0M476.3 500.3h0M481.3 499.9h0M433.1 500.5h0M434.8 501.0h0M436.0 501.0h0M439.7 500.8h0M441.9 501.0h0M443.7 500.8h0M448.5 501.2h0M461.4 501.1h0M462.6 501.1h0M471.2 500.8h0M472.2 500.7h0M474.1 501.0h0M462.7 501.7h0M464.9 501.9h0M465.7 501.4h0M478.8 501.9h0M480.6 501.3h0M438.9 502.6h0M447.9 502.5h0M451.0 502.9h0M451.9 502.5h0M456.6 502.7h0M472.9 502.8h0M454.4 503.5h0M456.9 503.8h0M477.0 503.2h0M433.0 504.2h0M434.6 504.1h0M437.9 504.5h0M441.5 504.4h0M455.3 504.1h0M456.0 504.1h0M457.3 504.2h0M459.0 504.8h0M434.0 505.0h0M436.8 505.7h0M439.9 504.9h0M442.6 505.2h0M460.1 505.4h0M469.4 505.5h0M447.1 506.2h0M452.8 506.2h0M470.2 506.5h0M436.5 507.2h0M439.7 507.0h0M446.7 507.4h0M448.7 506.7h0M457.8 507.3h0M468.1 507.0h0M469.5 507.1h0M441.3 508.2h0M441.6 507.8h0M448.7 508.1h0M468.2 507.8h0M469.8 508.4h0M438.2 509.3h0M464.9 508.8h0M468.2 508.9h0M468.8 508.6h0M437.5 510.1h0M438.9 509.8h0M444.6 509.9h0M449.4 509.6h0M449.9 510.2h0M452.7 510.0h0M458.6 509.7h0M466.1 510.1h0M467.7 509.4h0M444.5 510.9h0M448.2 510.5h0M448.9 510.8h0M450.4 510.7h0M459.6 511.1h0M469.1 510.7h0M449.4 511.2h0M450.2 511.9h0M460.8 511.6h0M462.6 511.6h0M469.7 511.4h0M439.0 512.2h0M448.3 512.6h0M460.4 512.6h0M465.5 512.6h0M448.1 513.5h0M449.9 513.0h0M467.2 513.4h0M469.0 513.8h0M470.4 513.1h0M450.7 514.3h0M451.8 514.7h0M460.5 514.3h0M463.0 514.6h0M466.0 514.5h0M466.8 514.7h0M455.1 515.0h0M458.7 515.4h0M463.1 514.9h0M445.2 516.1h0M463.0 515.8h0M468.9 515.8h0M442.9 516.8h0M447.2 516.9h0M452.5 516.9h0M453.8 517.0h0M454.7 517.3h0M444.8 518.0h0M460.5 518.1h0M464.0 518.0h0M465.4 517.8h0M446.4 518.7h0M448.2 519.0h0M457.2 518.9h0M460.1 518.5h0M460.4 518.5h0M450.1 519.7h0M451.7 519.9h0M463.3 520.1h0M447.5 520.4h0M455.4 520.6h0M458.8 520.4h0M450.7 521.7h0M456.6 522.4h0M453.5 524.3h0M452.1 524.9h0M453.4 525.6h0" stroke="#EF6E52" stroke-opacity="0.72" stroke-width="1.35" stroke-linecap="square" fill="none"/>
<text x="455.5" y="462.3" font-size="8" font-style="italic" text-anchor="middle">STAT1</text>
<path d="M518.7 466.6 L521.7 465.1 L524.8 466.1 L526.8 469.2 L529.9 470.2 L530.9 472.2 L533.0 475.3 L536.0 477.3 L537.0 480.9 L539.6 481.9 L539.1 485.5 L540.1 488.6 L543.2 487.5 L546.2 486.0 L548.3 487.5 L550.3 490.6 L551.4 494.7 L551.9 497.8 L549.8 501.9 L547.3 503.4 L544.2 503.9 L541.1 503.9 L539.1 505.9 L538.1 510.0 L538.6 514.1 L537.0 517.2 L536.0 519.2 L530.9 520.2 L526.8 521.3 L523.8 523.3 L521.7 525.9 L519.2 524.3 L517.6 521.3 L514.6 520.2 L511.5 518.7 L507.9 516.2 L506.4 513.1 L504.3 510.0 L501.3 507.0 L499.2 502.9 L498.2 499.8 L497.2 495.7 L494.1 492.7 L492.1 491.1 L493.6 487.5 L496.2 484.5 L499.2 482.4 L502.3 480.4 L504.3 477.3 L504.3 474.3 L507.4 472.2 L511.5 471.2 L515.6 469.7 L516.6 467.6Z" fill="#DCE5F2" stroke="#DCE5F2" stroke-width="1.0" stroke-linejoin="round"/>
<path d="M520.7 467.0h0M521.3 464.8h0M523.5 464.8h0M524.3 466.6h0M526.6 468.3h0M527.2 469.1h0M529.8 472.3h0M533.0 475.1h0M535.7 477.5h0M536.9 480.7h0M536.5 481.7h0M538.3 485.1h0M539.4 486.6h0M538.8 486.6h0M539.1 488.0h0M541.1 489.1h0M541.8 488.2h0M543.9 486.2h0M545.1 485.3h0M548.1 487.7h0M549.6 490.2h0M551.5 493.6h0M550.6 494.6h0M551.8 495.0h0M552.3 496.8h0M551.1 496.3h0M550.3 497.8h0M551.1 501.4h0M547.7 502.7h0M547.7 502.6h0M546.0 503.7h0M545.6 504.2h0M544.1 504.1h0M537.7 509.9h0M537.1 509.8h0M539.0 513.1h0M536.5 515.7h0M535.4 517.1h0M536.6 518.1h0M536.0 518.5h0M533.9 519.0h0M529.0 521.6h0M526.9 522.1h0M525.8 521.3h0M523.6 523.4h0M521.6 526.4h0M520.1 526.2h0M519.1 523.5h0M515.5 521.0h0M513.1 518.9h0M513.5 519.9h0M510.4 517.4h0M508.2 516.4h0M507.3 513.7h0M506.9 512.6h0M503.0 506.9h0M501.7 507.1h0M498.5 502.7h0M499.8 502.3h0M497.1 498.8h0M498.3 497.6h0M497.0 495.7h0M495.2 494.5h0M494.3 492.1h0M493.6 489.0h0M493.0 487.5h0M494.7 487.1h0M494.9 484.4h0M500.3 481.5h0M501.5 482.3h0M501.7 479.6h0M504.6 477.7h0M505.3 475.8h0M505.3 474.1h0M508.9 472.0h0M510.2 471.5h0M512.9 469.9h0M512.9 470.2h0M514.1 470.4h0M515.9 468.3h0M515.8 468.0h0M518.4 467.8h0" stroke="#DCE5F2" stroke-width="1.1" stroke-linecap="square" fill="none"/>
<path d="M533.6 516.3h0M510.4 481.9h0M513.1 511.0h0M521.6 493.0h0M517.3 475.0h0M523.7 482.5h0M506.5 480.4h0M521.5 485.1h0M532.4 516.5h0M511.5 511.8h0M515.9 492.4h0M532.5 475.0h0M510.4 508.3h0M515.2 493.8h0M524.8 486.8h0M510.1 499.7h0M525.3 467.1h0M507.0 505.9h0M511.3 486.1h0M510.9 483.8h0M548.8 498.2h0M518.9 491.7h0M517.1 495.9h0M539.3 487.2h0M519.0 510.9h0M531.9 506.5h0M499.8 485.9h0M524.3 491.5h0M511.7 516.0h0M527.4 478.6h0M501.2 482.8h0M509.6 495.6h0M524.2 499.2h0M529.2 490.5h0M498.5 493.2h0M548.3 502.0h0M517.3 501.7h0M521.7 523.7h0M539.8 495.5h0M519.7 522.1h0M528.2 516.6h0M504.5 477.7h0M495.8 491.3h0M507.3 503.4h0M516.0 501.2h0M515.7 519.2h0M540.9 492.4h0M494.0 492.4h0M505.2 476.2h0M503.1 487.5h0M510.6 478.9h0M507.6 510.7h0M535.9 507.8h0M523.1 473.4h0M519.9 503.6h0M511.1 486.7h0M523.3 479.0h0M519.9 485.0h0M539.6 488.8h0M518.9 479.1h0M514.1 494.0h0" stroke="#F6F8FC" stroke-width="1.1" stroke-linecap="square" fill="none"/>
<path d="M517.6 469.0h0M519.4 469.3h0M514.0 471.1h0M510.8 471.7h0M511.5 471.8h0M513.6 471.9h0M514.4 471.6h0M515.3 471.9h0M509.9 473.0h0M511.9 473.0h0M512.9 472.5h0M513.5 473.3h0M520.6 473.1h0M506.1 474.1h0M509.1 473.4h0M509.4 474.1h0M510.8 474.2h0M515.5 474.0h0M516.4 474.2h0M517.0 474.1h0M505.5 474.5h0M507.8 474.4h0M508.6 474.8h0M512.0 474.4h0M512.8 474.3h0M522.7 474.6h0M505.1 475.4h0M506.5 475.6h0M507.4 475.4h0M508.2 475.4h0M508.7 475.8h0M510.1 475.6h0M510.4 475.3h0M511.6 475.4h0M513.4 475.7h0M514.3 476.0h0M515.3 475.3h0M517.9 475.4h0M525.2 476.0h0M531.4 475.8h0M506.1 476.3h0M508.2 476.5h0M512.0 476.8h0M512.4 476.7h0M515.2 476.3h0M515.8 476.4h0M517.3 476.8h0M507.8 477.6h0M509.0 477.1h0M510.9 477.6h0M511.3 477.7h0M512.4 477.2h0M514.2 477.5h0M517.3 477.1h0M505.0 478.3h0M510.0 478.0h0M510.8 478.1h0M511.6 478.7h0M512.9 478.4h0M513.6 478.5h0M514.9 478.1h0M516.0 478.6h0M517.2 478.4h0M517.8 478.5h0M518.9 477.9h0M522.9 478.3h0M503.7 479.4h0M504.4 479.2h0M506.3 479.0h0M507.9 479.0h0M509.9 479.0h0M510.7 479.5h0M514.8 478.9h0M518.2 479.0h0M518.9 479.2h0M504.4 480.0h0M506.2 480.2h0M507.8 480.3h0M509.1 480.1h0M509.6 480.0h0M511.8 480.1h0M512.8 480.2h0M513.3 480.4h0M530.3 479.7h0M531.5 480.4h0M501.3 481.2h0M502.2 480.8h0M503.2 481.3h0M504.1 481.0h0M506.5 480.8h0M507.2 481.4h0M507.7 481.0h0M509.1 480.7h0M510.1 480.8h0M510.7 481.1h0M512.4 481.0h0M513.7 480.8h0M518.6 480.8h0M519.4 480.6h0M499.8 482.1h0M500.7 482.1h0M502.9 481.5h0M504.0 481.9h0M506.2 481.6h0M508.7 481.9h0M509.4 482.1h0M511.6 481.6h0M512.4 481.6h0M513.2 482.0h0M516.5 482.2h0M517.8 482.1h0M518.7 481.8h0M500.2 483.1h0M500.6 482.9h0M501.8 482.6h0M502.6 482.7h0M503.3 482.7h0M504.2 482.5h0M505.2 482.7h0M507.2 483.1h0M508.3 483.0h0M508.7 482.5h0M509.8 483.1h0M512.6 482.9h0M513.2 482.4h0M514.3 482.8h0M515.3 482.6h0M516.5 482.6h0M518.8 482.5h0M498.2 483.9h0M498.7 483.4h0M502.0 483.9h0M507.3 483.5h0M507.9 483.6h0M509.0 483.8h0M511.5 484.0h0M514.3 483.3h0M515.1 483.3h0M516.3 483.8h0M518.3 483.9h0M525.8 484.0h0M496.3 484.6h0M499.3 484.4h0M499.7 484.4h0M501.0 484.8h0M504.5 484.2h0M508.4 484.8h0M509.9 484.3h0M510.7 484.6h0M511.3 484.3h0M513.2 484.3h0M514.2 484.8h0M515.9 484.2h0M517.0 484.8h0M527.8 484.4h0M496.5 485.8h0M498.4 485.3h0M499.1 485.4h0M501.2 485.7h0M501.6 485.5h0M502.3 485.2h0M503.3 485.3h0M504.1 485.7h0M505.1 485.4h0M508.3 485.2h0M509.2 485.7h0M509.6 485.2h0M513.7 485.9h0M515.0 485.5h0M516.4 485.7h0M517.7 485.3h0M519.3 485.5h0M494.8 486.4h0M495.1 486.2h0M499.2 486.1h0M499.7 486.0h0M502.5 486.2h0M504.5 486.4h0M506.1 486.2h0M508.9 486.2h0M509.5 486.5h0M510.9 486.4h0M511.9 486.2h0M513.0 486.7h0M514.6 486.2h0M515.8 486.5h0M518.3 486.8h0M530.3 486.4h0M495.4 487.6h0M496.6 487.4h0M497.3 487.4h0M499.8 487.1h0M502.0 487.2h0M502.2 487.6h0M503.2 487.5h0M504.4 487.6h0M506.0 487.6h0M507.6 487.2h0M509.4 487.5h0M511.7 487.3h0M513.3 487.6h0M514.7 487.3h0M515.1 487.5h0M515.7 487.0h0M518.3 487.2h0M523.1 487.2h0M527.2 487.2h0M494.8 488.0h0M495.7 487.8h0M496.9 488.5h0M498.1 488.0h0M500.2 488.4h0M503.1 487.9h0M505.3 487.8h0M508.6 488.6h0M510.5 488.1h0M512.5 488.0h0M516.3 488.2h0M517.0 488.3h0M524.5 488.2h0M533.5 488.1h0M546.9 488.0h0M547.7 487.8h0M493.8 489.0h0M494.5 489.0h0M497.5 489.4h0M500.1 489.3h0M505.0 488.9h0M508.0 489.1h0M508.9 489.1h0M510.2 489.4h0M510.7 489.3h0M511.5 489.0h0M512.3 488.9h0M514.9 489.2h0M516.1 489.4h0M517.2 489.3h0M539.5 488.7h0M494.1 489.7h0M496.3 489.9h0M497.4 489.8h0M497.9 490.3h0M501.0 490.2h0M503.7 490.4h0M508.0 490.2h0M509.0 490.2h0M509.6 490.2h0M514.6 490.3h0M515.1 490.0h0M495.2 490.6h0M496.6 490.9h0M497.2 491.1h0M501.2 491.1h0M501.9 491.3h0M503.8 490.8h0M504.6 490.6h0M505.1 490.7h0M507.0 490.9h0M508.5 490.9h0M510.0 491.2h0M512.1 490.9h0M514.4 490.7h0M494.6 491.5h0M499.8 491.7h0M501.9 491.8h0M502.6 491.8h0M504.0 492.2h0M505.7 491.8h0M508.4 491.6h0M509.5 492.1h0M512.0 491.7h0M512.5 492.1h0M515.2 492.0h0M516.3 491.5h0M545.8 491.9h0M496.3 492.5h0M500.9 492.4h0M502.1 492.6h0M502.4 492.8h0M503.8 492.5h0M504.3 492.5h0M504.9 492.5h0M508.1 492.5h0M510.1 492.6h0M510.7 492.4h0M514.4 493.0h0M515.5 493.0h0M520.0 492.5h0M532.3 492.9h0M498.1 493.3h0M500.1 493.8h0M500.9 493.6h0M503.2 493.2h0M505.6 493.3h0M506.4 493.6h0M507.4 493.6h0M510.6 493.7h0M513.5 493.3h0M500.9 494.2h0M505.1 494.9h0M507.9 494.4h0M509.0 494.8h0M511.9 494.9h0M513.1 494.8h0M502.2 495.2h0M505.5 495.2h0M508.1 495.2h0M510.1 495.7h0M511.5 495.2h0M513.7 495.8h0M515.2 495.0h0M527.7 495.1h0M545.5 495.2h0M505.5 496.3h0M507.9 496.3h0M508.6 496.4h0M506.5 497.3h0M515.5 497.4h0M518.0 497.4h0M517.0 498.1h0M525.7 498.6h0M537.0 499.2h0M508.6 500.0h0M548.5 499.7h0M528.5 501.1h0M539.5 501.0h0M501.5 501.9h0M503.7 501.7h0M517.1 501.3h0M536.2 501.5h0M512.9 502.4h0M518.2 503.4h0M511.3 504.8h0M535.9 504.6h0M512.4 505.1h0M530.3 505.7h0M505.6 505.8h0M509.9 506.6h0M506.9 506.7h0M518.9 506.7h0M531.0 507.1h0M535.6 507.0h0M513.2 508.1h0M522.7 508.4h0M527.5 508.4h0M532.8 509.0h0M535.4 509.0h0M510.3 509.7h0M520.5 510.9h0M523.1 510.5h0M511.4 511.3h0M509.9 513.3h0M507.1 513.9h0M535.8 514.4h0M519.7 517.4h0M535.5 517.1h0M526.1 519.7h0M526.2 520.5h0M520.8 524.4h0" stroke="#EF6E52" stroke-opacity="0.72" stroke-width="1.35" stroke-linecap="square" fill="none"/>
<text x="523.5" y="462.3" font-size="8" font-style="italic" text-anchor="middle">KLRC1</text>
<path d="M586.7 466.6 L589.7 465.1 L592.8 466.1 L594.8 469.2 L597.9 470.2 L598.9 472.2 L601.0 475.3 L604.0 477.3 L605.0 480.9 L607.6 481.9 L607.1 485.5 L608.1 488.6 L611.2 487.5 L614.2 486.0 L616.3 487.5 L618.3 490.6 L619.4 494.7 L619.9 497.8 L617.8 501.9 L615.3 503.4 L612.2 503.9 L609.1 503.9 L607.1 505.9 L606.1 510.0 L606.6 514.1 L605.0 517.2 L604.0 519.2 L598.9 520.2 L594.8 521.3 L591.8 523.3 L589.7 525.9 L587.2 524.3 L585.6 521.3 L582.6 520.2 L579.5 518.7 L575.9 516.2 L574.4 513.1 L572.3 510.0 L569.3 507.0 L567.2 502.9 L566.2 499.8 L565.2 495.7 L562.1 492.7 L560.1 491.1 L561.6 487.5 L564.2 484.5 L567.2 482.4 L570.3 480.4 L572.3 477.3 L572.3 474.3 L575.4 472.2 L579.5 471.2 L583.6 469.7 L584.6 467.6Z" fill="#DCE5F2" stroke="#DCE5F2" stroke-width="1.0" stroke-linejoin="round"/>
<path d="M593.8 466.7h0M595.0 468.7h0M596.9 468.8h0M597.8 469.9h0M598.8 472.1h0M599.4 472.2h0M600.8 473.0h0M601.9 474.5h0M603.3 477.2h0M606.4 481.3h0M607.3 481.9h0M607.0 486.8h0M607.0 487.6h0M607.0 489.0h0M609.5 488.7h0M615.8 487.2h0M617.2 487.9h0M618.0 502.0h0M617.9 502.0h0M614.9 503.3h0M615.4 504.1h0M607.8 504.6h0M606.8 511.1h0M604.7 515.7h0M603.9 516.6h0M600.7 519.6h0M598.0 521.2h0M594.4 522.6h0M590.3 524.8h0M590.4 524.6h0M589.6 525.5h0M588.2 524.7h0M587.7 524.4h0M585.4 523.7h0M584.2 521.4h0M581.5 520.2h0M581.2 518.8h0M576.2 515.1h0M575.6 514.5h0M574.9 512.6h0M574.3 511.3h0M568.8 504.4h0M567.5 501.4h0M564.4 496.4h0M564.2 494.2h0M562.7 493.2h0M560.1 490.3h0M565.7 483.3h0M566.5 482.3h0M568.5 481.4h0M569.6 480.9h0M572.4 478.7h0M572.8 477.8h0M572.0 473.1h0M573.0 474.0h0M576.3 472.7h0M582.6 469.3h0M582.1 470.1h0M585.9 467.5h0" stroke="#DCE5F2" stroke-width="1.1" stroke-linecap="square" fill="none"/>
<path d="M582.1 488.1h0M593.0 518.4h0M583.1 513.6h0M587.5 521.8h0M595.7 479.6h0M562.9 489.7h0M583.9 470.4h0M596.6 520.3h0M598.7 509.0h0M587.0 503.8h0M605.3 500.4h0M596.4 491.4h0M614.6 488.3h0M588.8 499.4h0M594.3 483.9h0M604.9 503.7h0M583.5 485.2h0M575.2 506.8h0M579.4 502.8h0M575.1 498.6h0M596.1 475.3h0M591.0 494.9h0M588.6 504.5h0M589.2 467.8h0M595.3 517.3h0M582.0 482.1h0M575.8 482.7h0M586.5 489.8h0M580.7 480.2h0M569.8 493.8h0M610.6 495.6h0M585.5 489.9h0M577.5 499.6h0M618.7 493.0h0M599.1 486.4h0M591.9 479.3h0M614.4 490.1h0M610.5 493.4h0M601.6 517.3h0M591.5 484.6h0M567.7 496.1h0M592.7 496.0h0M587.8 524.5h0M594.9 492.1h0M594.8 475.6h0M618.7 494.6h0M582.3 492.2h0M598.0 519.5h0M568.2 488.8h0M569.4 504.0h0M582.2 494.7h0M581.2 503.0h0M603.2 501.5h0M576.6 510.8h0M592.6 508.7h0M613.5 491.8h0M607.2 498.9h0" stroke="#F6F8FC" stroke-width="1.1" stroke-linecap="square" fill="none"/>
<path d="M593.1 469.3h0M595.0 469.8h0M598.6 472.0h0M598.4 473.0h0M573.4 473.9h0M582.0 474.7h0M586.1 477.6h0M575.7 478.3h0M588.4 483.6h0M564.9 484.9h0M565.8 484.3h0M579.3 484.3h0M565.3 485.1h0M566.5 485.2h0M592.3 485.3h0M566.1 486.6h0M567.1 486.7h0M567.7 486.1h0M568.7 486.3h0M563.6 487.2h0M567.5 487.1h0M576.9 487.1h0M561.8 488.3h0M562.8 488.3h0M563.6 488.0h0M566.8 488.2h0M568.7 488.1h0M579.4 487.9h0M563.5 488.8h0M566.7 489.0h0M592.5 489.4h0M561.6 489.7h0M563.6 489.7h0M569.3 490.1h0M587.7 490.3h0M564.8 490.9h0M574.3 491.2h0M595.2 491.1h0M612.7 491.1h0M562.5 492.0h0M564.2 491.9h0M569.0 491.8h0M562.2 492.7h0M567.9 492.8h0M569.2 492.4h0M591.9 492.4h0M593.6 492.4h0M596.7 492.6h0M563.6 493.8h0M564.4 493.2h0M568.7 494.0h0M565.3 494.2h0M566.1 494.8h0M609.4 494.2h0M617.7 494.5h0M570.7 495.3h0M616.2 495.1h0M565.6 496.6h0M609.0 496.6h0M588.5 496.9h0M585.0 497.9h0M588.1 498.2h0M566.6 498.9h0M599.6 499.1h0M604.7 498.9h0M606.5 499.0h0M568.4 500.3h0M598.7 499.7h0M567.5 502.5h0M581.1 505.2h0M590.5 505.2h0M581.6 506.4h0M577.8 508.8h0M584.4 508.8h0M601.6 509.1h0M600.2 513.5h0M590.7 515.3h0M591.6 515.3h0M600.2 519.1h0M584.7 520.8h0" stroke="#EF6E52" stroke-opacity="0.72" stroke-width="1.35" stroke-linecap="square" fill="none"/>
<text x="591.5" y="462.3" font-size="8" font-style="italic" text-anchor="middle">KLRF1</text>
<path d="M351.9 446.2V434.6M351.3 445.6H362.9" stroke="#000" stroke-width="1.3"/>
<path d="M349.3 435.1L351.9 430.6L354.5 435.1ZM362.4 443.0L366.9 445.6L362.4 448.2Z" fill="#000"/>
<text font-size="4.2" text-anchor="middle" transform="translate(353.4,423.1) rotate(-90)">tSNE2</text>
<text x="367.9" y="447.1" font-size="4.2">tSNE1</text>
<path d="M351.2 527.5V515.9M350.6 526.9H362.2" stroke="#000" stroke-width="1.3"/>
<path d="M348.6 516.4L351.2 511.9L353.8 516.4ZM361.7 524.3L366.2 526.9L361.7 529.5Z" fill="#000"/>
<text font-size="4.2" text-anchor="middle" transform="translate(352.7,504.4) rotate(-90)">tSNE2</text>
<text x="367.2" y="528.4" font-size="4.2">tSNE1</text>
<text x="623.0" y="403.8" font-size="8.1">Expression</text>
<defs><linearGradient id="ex" x1="0" y1="0" x2="0" y2="1"><stop offset="0" stop-color="#F26446"/><stop offset="1" stop-color="#DDE5F1"/></linearGradient></defs>
<rect x="626.6" y="410" width="7.6" height="39" fill="url(#ex)"/>
<text x="637.0" y="420.6" font-size="7.2">High</text>
<text x="637.0" y="448.7" font-size="7.2">Low</text>
</svg></body></html>
